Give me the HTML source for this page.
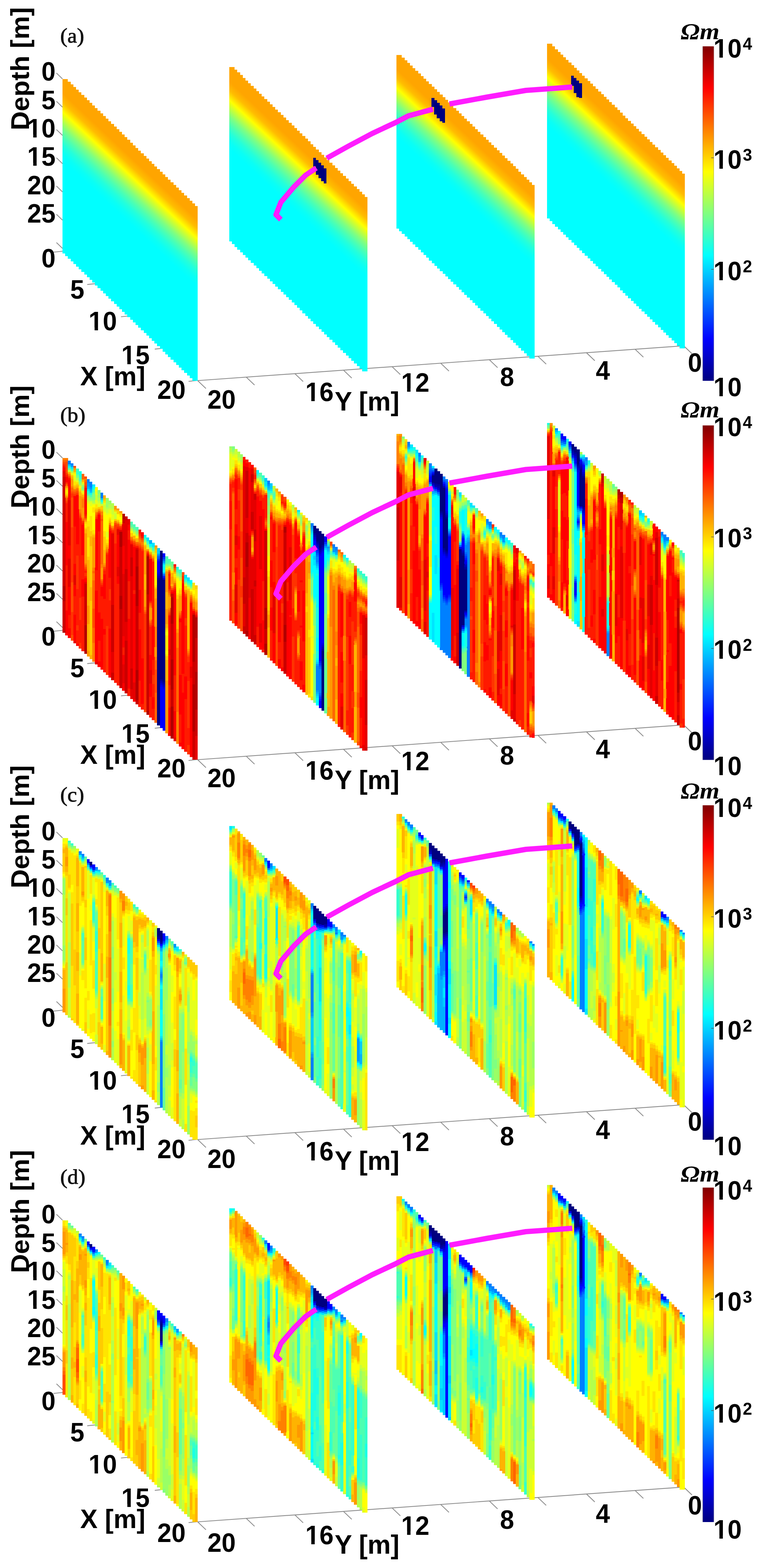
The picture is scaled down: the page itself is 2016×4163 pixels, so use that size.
<!DOCTYPE html><html><head><meta charset="utf-8"><title>Resistivity slices</title>
<style>html,body{margin:0;padding:0;background:#fff}svg{display:block}.b{font-family:"Liberation Sans",Arial,sans-serif;font-weight:bold;font-size:70px;fill:#000}.s{font-family:"Liberation Serif","DejaVu Serif",serif;font-size:54px;fill:#111;stroke:#111;stroke-width:1.1}.o{font-family:"Liberation Serif","DejaVu Serif",serif;font-weight:bold;font-style:italic;font-size:62px;fill:#000}.t{stroke:#8c8c8c;stroke-width:2.2;fill:none}.g{stroke:#f1f1f1;stroke-width:1.6;fill:none}.m{stroke:#ff1cff;stroke-width:14;fill:none;stroke-linejoin:round}</style></head><body>
<svg width="2016" height="4163" viewBox="0 0 2016 4163">
<rect width="2016" height="4163" fill="#fff"/>
<defs>
<linearGradient id="cb" x1="0" y1="0" x2="0" y2="1">
<stop offset="0.0000" stop-color="#800000"/>
<stop offset="0.0312" stop-color="#9f0000"/>
<stop offset="0.0625" stop-color="#bf0000"/>
<stop offset="0.0938" stop-color="#df0000"/>
<stop offset="0.1250" stop-color="#ff0000"/>
<stop offset="0.1562" stop-color="#ff2000"/>
<stop offset="0.1875" stop-color="#ff4000"/>
<stop offset="0.2188" stop-color="#ff6000"/>
<stop offset="0.2500" stop-color="#ff8000"/>
<stop offset="0.2812" stop-color="#ff9f00"/>
<stop offset="0.3125" stop-color="#ffbf00"/>
<stop offset="0.3438" stop-color="#ffdf00"/>
<stop offset="0.3750" stop-color="#ffff00"/>
<stop offset="0.4062" stop-color="#dfff20"/>
<stop offset="0.4375" stop-color="#bfff40"/>
<stop offset="0.4688" stop-color="#9fff60"/>
<stop offset="0.5000" stop-color="#80ff80"/>
<stop offset="0.5312" stop-color="#60ff9f"/>
<stop offset="0.5625" stop-color="#40ffbf"/>
<stop offset="0.5938" stop-color="#20ffdf"/>
<stop offset="0.6250" stop-color="#00ffff"/>
<stop offset="0.6562" stop-color="#00dfff"/>
<stop offset="0.6875" stop-color="#00bfff"/>
<stop offset="0.7188" stop-color="#009fff"/>
<stop offset="0.7500" stop-color="#0080ff"/>
<stop offset="0.7812" stop-color="#0060ff"/>
<stop offset="0.8125" stop-color="#0040ff"/>
<stop offset="0.8438" stop-color="#0020ff"/>
<stop offset="0.8750" stop-color="#0000ff"/>
<stop offset="0.9062" stop-color="#0000df"/>
<stop offset="0.9375" stop-color="#0000bf"/>
<stop offset="0.9688" stop-color="#00009f"/>
<stop offset="1.0000" stop-color="#000080"/>
</linearGradient>
<linearGradient id="ga" x1="0" y1="0" x2="0" y2="1">
<stop offset="0.0000" stop-color="#ffa500"/>
<stop offset="0.0783" stop-color="#ffa500"/>
<stop offset="0.1304" stop-color="#ffbd00"/>
<stop offset="0.1870" stop-color="#ffff00"/>
<stop offset="0.2348" stop-color="#bdff42"/>
<stop offset="0.2783" stop-color="#80ff80"/>
<stop offset="0.3261" stop-color="#4dffb2"/>
<stop offset="0.3739" stop-color="#24ffdb"/>
<stop offset="0.4239" stop-color="#0afff5"/>
<stop offset="0.4674" stop-color="#00ffff"/>
<stop offset="1.0000" stop-color="#00ffff"/>
</linearGradient>
<clipPath id="f1"><path clip-rule="evenodd" d="M-200 -100H200V40H-200ZM3.5 -8.3H16.4V2H3.5ZM25.8 -8.3H38V2H25.8Z"/></clipPath>
<clipPath id="f2"><path clip-rule="evenodd" d="M-200 -100H200V40H-200ZM-74.4 -8.3H-61.4V2H-74.4ZM-52 -8.3H-40V2H-52Z"/></clipPath>
</defs>
<g id="panel-a">
<path class="t" d="M525 1010.5 L1817 918"/>
<path class="t" d="M525 1010.5l22 21"/>
<path class="t" d="M654.1 1001.3l22 21"/>
<path class="t" d="M783.2 992l22 21"/>
<path class="t" d="M912.3 982.8l22 21"/>
<path class="t" d="M1041.4 973.5l22 21"/>
<path class="t" d="M1170.5 964.3l22 21"/>
<path class="t" d="M1299.6 955l22 21"/>
<path class="t" d="M1428.7 945.8l22 21"/>
<path class="t" d="M1557.8 936.6l22 21"/>
<path class="t" d="M1686.9 927.3l22 21"/>
<path class="t" d="M1816 918.1l22 21"/>
<path class="t" d="M150 194l16 15.5"/>
<path class="t" d="M150 269l16 15.5"/>
<path class="t" d="M150 344l16 15.5"/>
<path class="t" d="M150 419l16 15.5"/>
<path class="t" d="M150 494l16 15.5"/>
<path class="t" d="M150 569l16 15.5"/>
<path class="t" d="M150 644l16 15.5"/>
<path class="t" d="M166 667l-24 2.5"/>
<path class="t" d="M255.7 752.8l-24 2.5"/>
<path class="t" d="M345.4 838.5l-24 2.5"/>
<path class="t" d="M435.1 924.3l-24 2.5"/>
<path class="t" d="M524.8 1010l-24 2.5"/>
<g shape-rendering="crispEdges">
<linearGradient id="ga0_0" gradientUnits="userSpaceOnUse" x1="173.2" y1="217.5" x2="-56.4" y2="461.7"><stop offset="0.0000" stop-color="#ffa500"/><stop offset="0.0783" stop-color="#ffa500"/><stop offset="0.1304" stop-color="#ffbd00"/><stop offset="0.1870" stop-color="#ffff00"/><stop offset="0.2348" stop-color="#bdff42"/><stop offset="0.2783" stop-color="#80ff80"/><stop offset="0.3261" stop-color="#4dffb2"/><stop offset="0.3739" stop-color="#24ffdb"/><stop offset="0.4239" stop-color="#0afff5"/><stop offset="0.4674" stop-color="#00ffff"/><stop offset="1.0000" stop-color="#00ffff"/></linearGradient><path fill="url(#ga0_0)" d="M166 209.5L173.2 209.5L173.2 209.5L180.4 209.5L180.4 216.5L187.6 216.5L187.6 223.6L194.7 223.6L194.7 230.6L201.9 230.6L201.9 237.7L209.1 237.7L209.1 244.7L216.3 244.7L216.3 251.7L223.5 251.7L223.5 258.8L230.7 258.8L230.7 265.8L237.8 265.8L237.8 272.9L245 272.9L245 279.9L252.2 279.9L252.2 286.9L259.4 286.9L259.4 294L266.6 294L266.6 301L273.8 301L273.8 308.1L280.9 308.1L280.9 315.1L288.1 315.1L288.1 322.1L295.3 322.1L295.3 329.2L302.5 329.2L302.5 336.2L309.7 336.2L309.7 343.3L316.9 343.3L316.9 350.3L324 350.3L324 357.3L331.2 357.3L331.2 364.4L338.4 364.4L338.4 371.4L345.6 371.4L345.6 378.5L352.8 378.5L352.8 385.5L360 385.5L360 392.5L367.2 392.5L367.2 399.6L374.3 399.6L374.3 406.6L381.5 406.6L381.5 413.7L388.7 413.7L388.7 420.7L395.9 420.7L395.9 427.7L403.1 427.7L403.1 434.8L410.3 434.8L410.3 441.8L417.4 441.8L417.4 448.9L424.6 448.9L424.6 455.9L431.8 455.9L431.8 462.9L439 462.9L439 470L446.2 470L446.2 477L453.4 477L453.4 484.1L460.5 484.1L460.5 491.1L467.7 491.1L467.7 498.1L474.9 498.1L474.9 505.2L482.1 505.2L482.1 512.2L489.3 512.2L489.3 519.3L496.5 519.3L496.5 526.3L503.6 526.3L503.6 533.3L510.8 533.3L510.8 540.4L518 540.4L518 547.4L525.2 547.4L525.2 1010.9L518 1010.9L518 1010.9L510.8 1010.9L510.8 1003.9L503.6 1003.9L503.6 996.8L496.5 996.8L496.5 989.8L489.3 989.8L489.3 982.8L482.1 982.8L482.1 975.7L474.9 975.7L474.9 968.7L467.7 968.7L467.7 961.6L460.5 961.6L460.5 954.6L453.4 954.6L453.4 947.6L446.2 947.6L446.2 940.5L439 940.5L439 933.5L431.8 933.5L431.8 926.4L424.6 926.4L424.6 919.4L417.4 919.4L417.4 912.4L410.3 912.4L410.3 905.3L403.1 905.3L403.1 898.3L395.9 898.3L395.9 891.2L388.7 891.2L388.7 884.2L381.5 884.2L381.5 877.2L374.3 877.2L374.3 870.1L367.2 870.1L367.2 863.1L360 863.1L360 856L352.8 856L352.8 849L345.6 849L345.6 842L338.4 842L338.4 834.9L331.2 834.9L331.2 827.9L324 827.9L324 820.8L316.9 820.8L316.9 813.8L309.7 813.8L309.7 806.8L302.5 806.8L302.5 799.7L295.3 799.7L295.3 792.7L288.1 792.7L288.1 785.6L280.9 785.6L280.9 778.6L273.8 778.6L273.8 771.6L266.6 771.6L266.6 764.5L259.4 764.5L259.4 757.5L252.2 757.5L252.2 750.4L245 750.4L245 743.4L237.8 743.4L237.8 736.4L230.7 736.4L230.7 729.3L223.5 729.3L223.5 722.3L216.3 722.3L216.3 715.2L209.1 715.2L209.1 708.2L201.9 708.2L201.9 701.2L194.7 701.2L194.7 694.1L187.6 694.1L187.6 687.1L180.4 687.1L180.4 680L173.2 680L173.2 673L166 673z"/>
<linearGradient id="ga1_0" gradientUnits="userSpaceOnUse" x1="615.9" y1="186.3" x2="386.4" y2="431.3"><stop offset="0.0000" stop-color="#ffa500"/><stop offset="0.0783" stop-color="#ffa500"/><stop offset="0.1304" stop-color="#ffbd00"/><stop offset="0.1870" stop-color="#ffff00"/><stop offset="0.2348" stop-color="#bdff42"/><stop offset="0.2783" stop-color="#80ff80"/><stop offset="0.3261" stop-color="#4dffb2"/><stop offset="0.3739" stop-color="#24ffdb"/><stop offset="0.4239" stop-color="#0afff5"/><stop offset="0.4674" stop-color="#00ffff"/><stop offset="1.0000" stop-color="#00ffff"/></linearGradient><path fill="url(#ga1_0)" d="M608.7 178.3L615.9 178.3L615.9 178.3L623.1 178.3L623.1 185.3L630.3 185.3L630.3 192.4L637.5 192.4L637.5 199.4L644.7 199.4L644.7 206.5L651.9 206.5L651.9 213.5L659.2 213.5L659.2 220.5L666.4 220.5L666.4 227.6L673.6 227.6L673.6 234.6L680.8 234.6L680.8 241.7L688 241.7L688 248.7L695.2 248.7L695.2 255.7L702.4 255.7L702.4 262.8L709.6 262.8L709.6 269.8L716.8 269.8L716.8 276.9L724 276.9L724 283.9L731.2 283.9L731.2 290.9L738.4 290.9L738.4 298L745.6 298L745.6 305L752.9 305L752.9 312.1L760.1 312.1L760.1 319.1L767.3 319.1L767.3 326.1L774.5 326.1L774.5 333.2L781.7 333.2L781.7 340.2L788.9 340.2L788.9 347.3L796.1 347.3L796.1 354.3L803.3 354.3L803.3 361.3L810.5 361.3L810.5 368.4L817.7 368.4L817.7 375.4L824.9 375.4L824.9 382.5L832.1 382.5L832.1 389.5L839.4 389.5L839.4 396.5L846.6 396.5L846.6 403.6L853.8 403.6L853.8 410.6L861 410.6L861 417.7L868.2 417.7L868.2 424.7L875.4 424.7L875.4 431.7L882.6 431.7L882.6 438.8L889.8 438.8L889.8 445.8L897 445.8L897 452.9L904.2 452.9L904.2 459.9L911.4 459.9L911.4 466.9L918.6 466.9L918.6 474L925.8 474L925.8 481L933.1 481L933.1 488.1L940.3 488.1L940.3 495.1L947.5 495.1L947.5 502.1L954.7 502.1L954.7 509.2L961.9 509.2L961.9 516.2L969.1 516.2L969.1 523.3L976.3 523.3L976.3 986.4L969.1 986.4L969.1 986.4L961.9 986.4L961.9 979.3L954.7 979.3L954.7 972.3L947.5 972.3L947.5 965.2L940.3 965.2L940.3 958.2L933.1 958.2L933.1 951.2L925.8 951.2L925.8 944.1L918.6 944.1L918.6 937.1L911.4 937.1L911.4 930L904.2 930L904.2 923L897 923L897 916L889.8 916L889.8 908.9L882.6 908.9L882.6 901.9L875.4 901.9L875.4 894.8L868.2 894.8L868.2 887.8L861 887.8L861 880.8L853.8 880.8L853.8 873.7L846.6 873.7L846.6 866.7L839.4 866.7L839.4 859.6L832.1 859.6L832.1 852.6L824.9 852.6L824.9 845.6L817.7 845.6L817.7 838.5L810.5 838.5L810.5 831.5L803.3 831.5L803.3 824.4L796.1 824.4L796.1 817.4L788.9 817.4L788.9 810.4L781.7 810.4L781.7 803.3L774.5 803.3L774.5 796.3L767.3 796.3L767.3 789.2L760.1 789.2L760.1 782.2L752.9 782.2L752.9 775.2L745.6 775.2L745.6 768.1L738.4 768.1L738.4 761.1L731.2 761.1L731.2 754L724 754L724 747L716.8 747L716.8 740L709.6 740L709.6 732.9L702.4 732.9L702.4 725.9L695.2 725.9L695.2 718.8L688 718.8L688 711.8L680.8 711.8L680.8 704.8L673.6 704.8L673.6 697.7L666.4 697.7L666.4 690.7L659.2 690.7L659.2 683.6L651.9 683.6L651.9 676.6L644.7 676.6L644.7 669.6L637.5 669.6L637.5 662.5L630.3 662.5L630.3 655.5L623.1 655.5L623.1 648.4L615.9 648.4L615.9 641.4L608.7 641.4z"/>
<linearGradient id="ga2_0" gradientUnits="userSpaceOnUse" x1="1060.2" y1="153.7" x2="830.7" y2="398.6"><stop offset="0.0000" stop-color="#ffa500"/><stop offset="0.0783" stop-color="#ffa500"/><stop offset="0.1304" stop-color="#ffbd00"/><stop offset="0.1870" stop-color="#ffff00"/><stop offset="0.2348" stop-color="#bdff42"/><stop offset="0.2783" stop-color="#80ff80"/><stop offset="0.3261" stop-color="#4dffb2"/><stop offset="0.3739" stop-color="#24ffdb"/><stop offset="0.4239" stop-color="#0afff5"/><stop offset="0.4674" stop-color="#00ffff"/><stop offset="1.0000" stop-color="#00ffff"/></linearGradient><path fill="url(#ga2_0)" d="M1053 145.7L1060.2 145.7L1060.2 145.7L1067.4 145.7L1067.4 152.7L1074.6 152.7L1074.6 159.8L1081.8 159.8L1081.8 166.8L1089 166.8L1089 173.9L1096.2 173.9L1096.2 180.9L1103.4 180.9L1103.4 187.9L1110.6 187.9L1110.6 195L1117.8 195L1117.8 202L1125 202L1125 209.1L1132.2 209.1L1132.2 216.1L1139.4 216.1L1139.4 223.1L1146.7 223.1L1146.7 230.2L1153.9 230.2L1153.9 237.2L1161.1 237.2L1161.1 244.3L1168.3 244.3L1168.3 251.3L1175.5 251.3L1175.5 258.3L1182.7 258.3L1182.7 265.4L1189.9 265.4L1189.9 272.4L1197.1 272.4L1197.1 279.5L1204.3 279.5L1204.3 286.5L1211.5 286.5L1211.5 293.5L1218.7 293.5L1218.7 300.6L1225.9 300.6L1225.9 307.6L1233.1 307.6L1233.1 314.7L1240.3 314.7L1240.3 321.7L1247.5 321.7L1247.5 328.7L1254.7 328.7L1254.7 335.8L1261.9 335.8L1261.9 342.8L1269.1 342.8L1269.1 349.9L1276.3 349.9L1276.3 356.9L1283.5 356.9L1283.5 363.9L1290.7 363.9L1290.7 371L1297.9 371L1297.9 378L1305.1 378L1305.1 385.1L1312.3 385.1L1312.3 392.1L1319.5 392.1L1319.5 399.1L1326.7 399.1L1326.7 406.2L1334 406.2L1334 413.2L1341.2 413.2L1341.2 420.3L1348.4 420.3L1348.4 427.3L1355.6 427.3L1355.6 434.3L1362.8 434.3L1362.8 441.4L1370 441.4L1370 448.4L1377.2 448.4L1377.2 455.5L1384.4 455.5L1384.4 462.5L1391.6 462.5L1391.6 469.5L1398.8 469.5L1398.8 476.6L1406 476.6L1406 483.6L1413.2 483.6L1413.2 490.7L1420.4 490.7L1420.4 952L1413.2 952L1413.2 952L1406 952L1406 944.9L1398.8 944.9L1398.8 937.9L1391.6 937.9L1391.6 930.8L1384.4 930.8L1384.4 923.8L1377.2 923.8L1377.2 916.8L1370 916.8L1370 909.7L1362.8 909.7L1362.8 902.7L1355.6 902.7L1355.6 895.6L1348.4 895.6L1348.4 888.6L1341.2 888.6L1341.2 881.6L1334 881.6L1334 874.5L1326.7 874.5L1326.7 867.5L1319.5 867.5L1319.5 860.4L1312.3 860.4L1312.3 853.4L1305.1 853.4L1305.1 846.4L1297.9 846.4L1297.9 839.3L1290.7 839.3L1290.7 832.3L1283.5 832.3L1283.5 825.2L1276.3 825.2L1276.3 818.2L1269.1 818.2L1269.1 811.2L1261.9 811.2L1261.9 804.1L1254.7 804.1L1254.7 797.1L1247.5 797.1L1247.5 790L1240.3 790L1240.3 783L1233.1 783L1233.1 776L1225.9 776L1225.9 768.9L1218.7 768.9L1218.7 761.9L1211.5 761.9L1211.5 754.8L1204.3 754.8L1204.3 747.8L1197.1 747.8L1197.1 740.8L1189.9 740.8L1189.9 733.7L1182.7 733.7L1182.7 726.7L1175.5 726.7L1175.5 719.6L1168.3 719.6L1168.3 712.6L1161.1 712.6L1161.1 705.6L1153.9 705.6L1153.9 698.5L1146.7 698.5L1146.7 691.5L1139.4 691.5L1139.4 684.4L1132.2 684.4L1132.2 677.4L1125 677.4L1125 670.4L1117.8 670.4L1117.8 663.3L1110.6 663.3L1110.6 656.3L1103.4 656.3L1103.4 649.2L1096.2 649.2L1096.2 642.2L1089 642.2L1089 635.2L1081.8 635.2L1081.8 628.1L1074.6 628.1L1074.6 621.1L1067.4 621.1L1067.4 614L1060.2 614L1060.2 607L1053 607z"/>
<linearGradient id="ga3_0" gradientUnits="userSpaceOnUse" x1="1460" y1="124.4" x2="1230.4" y2="368.8"><stop offset="0.0000" stop-color="#ffa500"/><stop offset="0.0783" stop-color="#ffa500"/><stop offset="0.1304" stop-color="#ffbd00"/><stop offset="0.1870" stop-color="#ffff00"/><stop offset="0.2348" stop-color="#bdff42"/><stop offset="0.2783" stop-color="#80ff80"/><stop offset="0.3261" stop-color="#4dffb2"/><stop offset="0.3739" stop-color="#24ffdb"/><stop offset="0.4239" stop-color="#0afff5"/><stop offset="0.4674" stop-color="#00ffff"/><stop offset="1.0000" stop-color="#00ffff"/></linearGradient><path fill="url(#ga3_0)" d="M1452.8 116.4L1460 116.4L1460 116.4L1467.2 116.4L1467.2 123.4L1474.4 123.4L1474.4 130.5L1481.6 130.5L1481.6 137.5L1488.7 137.5L1488.7 144.6L1495.9 144.6L1495.9 151.6L1503.1 151.6L1503.1 158.6L1510.3 158.6L1510.3 165.7L1517.5 165.7L1517.5 172.7L1524.7 172.7L1524.7 179.8L1531.9 179.8L1531.9 186.8L1539.1 186.8L1539.1 193.8L1546.2 193.8L1546.2 200.9L1553.4 200.9L1553.4 207.9L1560.6 207.9L1560.6 215L1567.8 215L1567.8 222L1575 222L1575 229L1582.2 229L1582.2 236.1L1589.4 236.1L1589.4 243.1L1596.6 243.1L1596.6 250.2L1603.8 250.2L1603.8 257.2L1610.9 257.2L1610.9 264.2L1618.1 264.2L1618.1 271.3L1625.3 271.3L1625.3 278.3L1632.5 278.3L1632.5 285.4L1639.7 285.4L1639.7 292.4L1646.9 292.4L1646.9 299.4L1654.1 299.4L1654.1 306.5L1661.3 306.5L1661.3 313.5L1668.4 313.5L1668.4 320.6L1675.6 320.6L1675.6 327.6L1682.8 327.6L1682.8 334.6L1690 334.6L1690 341.7L1697.2 341.7L1697.2 348.7L1704.4 348.7L1704.4 355.8L1711.6 355.8L1711.6 362.8L1718.8 362.8L1718.8 369.8L1726 369.8L1726 376.9L1733.1 376.9L1733.1 383.9L1740.3 383.9L1740.3 391L1747.5 391L1747.5 398L1754.7 398L1754.7 405L1761.9 405L1761.9 412.1L1769.1 412.1L1769.1 419.1L1776.3 419.1L1776.3 426.2L1783.5 426.2L1783.5 433.2L1790.6 433.2L1790.6 440.2L1797.8 440.2L1797.8 447.3L1805 447.3L1805 454.3L1812.2 454.3L1812.2 461.4L1819.4 461.4L1819.4 925.4L1812.2 925.4L1812.2 925.4L1805 925.4L1805 918.3L1797.8 918.3L1797.8 911.3L1790.6 911.3L1790.6 904.2L1783.5 904.2L1783.5 897.2L1776.3 897.2L1776.3 890.2L1769.1 890.2L1769.1 883.1L1761.9 883.1L1761.9 876.1L1754.7 876.1L1754.7 869L1747.5 869L1747.5 862L1740.3 862L1740.3 855L1733.1 855L1733.1 847.9L1726 847.9L1726 840.9L1718.8 840.9L1718.8 833.8L1711.6 833.8L1711.6 826.8L1704.4 826.8L1704.4 819.8L1697.2 819.8L1697.2 812.7L1690 812.7L1690 805.7L1682.8 805.7L1682.8 798.6L1675.6 798.6L1675.6 791.6L1668.4 791.6L1668.4 784.6L1661.3 784.6L1661.3 777.5L1654.1 777.5L1654.1 770.5L1646.9 770.5L1646.9 763.4L1639.7 763.4L1639.7 756.4L1632.5 756.4L1632.5 749.4L1625.3 749.4L1625.3 742.3L1618.1 742.3L1618.1 735.3L1610.9 735.3L1610.9 728.2L1603.8 728.2L1603.8 721.2L1596.6 721.2L1596.6 714.2L1589.4 714.2L1589.4 707.1L1582.2 707.1L1582.2 700.1L1575 700.1L1575 693L1567.8 693L1567.8 686L1560.6 686L1560.6 679L1553.4 679L1553.4 671.9L1546.2 671.9L1546.2 664.9L1539.1 664.9L1539.1 657.8L1531.9 657.8L1531.9 650.8L1524.7 650.8L1524.7 643.8L1517.5 643.8L1517.5 636.7L1510.3 636.7L1510.3 629.7L1503.1 629.7L1503.1 622.6L1495.9 622.6L1495.9 615.6L1488.7 615.6L1488.7 608.6L1481.6 608.6L1481.6 601.5L1474.4 601.5L1474.4 594.5L1467.2 594.5L1467.2 587.4L1460 587.4L1460 580.4L1452.8 580.4z"/>
<path fill="#00007f" d="M831.5 418.5h7.3v23h-7.3zM838.5 424.5h7.3v39h-7.3zM845.6 431.5h7.3v41h-7.3zM852.6 438.5h7.3v42h-7.3zM859.7 446.5h7.3v40h-7.3z"/>
<path fill="#00007f" d="M1146.3 259.5h7.3v24h-7.3zM1153.3 265.5h7.3v38h-7.3zM1160.4 272.5h7.3v41h-7.3zM1167.5 279.5h7.3v42h-7.3zM1174.5 287.5h7.3v38h-7.3z"/>
<path fill="#00007f" d="M1517 201h7.3v27h-7.3zM1524 207h7.3v40h-7.3zM1531.1 214h7.3v44h-7.3zM1538.2 221h7.3v39h-7.3z"/>
</g>
<path class="m" d="M746 583 L733 570 L746 537 L780 497 L812 465 L840 446"/>
<path class="m" d="M868 420 L924.5 388.5 L988.7 354.4 L1052.8 324.3 L1085 307.5 L1150 290"/>
<path class="m" d="M1194 276 L1292.5 258 L1396.7 240 L1453 236 L1520 231"/>
<rect x="1866.3" y="123" width="30" height="888" fill="url(#cb)"/>
<path d="M1866.6 123v888M1895.6 123v888" stroke="#777" stroke-width="1" fill="none" opacity=".6"/>
<text class="b" transform="translate(77 346) rotate(-90) scale(1.03 1)" style="font-size:68px">Depth [m]</text>
<text class="s" transform="translate(160 113) scale(1.060 1)" text-anchor="start">(a)</text>
<text class="b" transform="translate(147.5 214.1) scale(0.965 1)" text-anchor="end">0</text>
<text class="b" transform="translate(147.5 289.6) scale(0.965 1)" text-anchor="end">5</text>
<text class="b" transform="translate(147.5 365) scale(0.965 1)" text-anchor="end" clip-path="url(#f2)">10</text>
<text class="b" transform="translate(147.5 440.4) scale(0.965 1)" text-anchor="end" clip-path="url(#f2)">15</text>
<text class="b" transform="translate(147.5 515.8) scale(0.965 1)" text-anchor="end">20</text>
<text class="b" transform="translate(147.5 591.2) scale(0.965 1)" text-anchor="end">25</text>
<text class="b" transform="translate(147.5 709.8) scale(0.965 1)" text-anchor="end">0</text>
<text class="b" transform="translate(224 792.9) scale(0.965 1)" text-anchor="end">5</text>
<text class="b" transform="translate(310.5 877.3) scale(0.965 1)" text-anchor="end" clip-path="url(#f2)">10</text>
<text class="b" transform="translate(397.5 966.6) scale(0.965 1)" text-anchor="end" clip-path="url(#f2)">15</text>
<text class="b" transform="translate(493 1059) scale(0.965 1)" text-anchor="end">20</text>
<text class="b" transform="translate(213 1022.9) scale(0.975 1)" text-anchor="start" style="font-size:71px">X [m]</text>
<text class="b" transform="translate(551 1085.1) scale(0.965 1)" text-anchor="start">20</text>
<text class="b" transform="translate(811 1065) scale(0.965 1)" text-anchor="start" clip-path="url(#f1)">16</text>
<text class="b" transform="translate(1065.5 1040) scale(0.965 1)" text-anchor="start" clip-path="url(#f1)">12</text>
<text class="b" transform="translate(1328 1024.9) scale(0.965 1)" text-anchor="start">8</text>
<text class="b" transform="translate(1582.5 1008.4) scale(0.965 1)" text-anchor="start">4</text>
<text class="b" transform="translate(1827 986.8) scale(0.965 1)" text-anchor="start">0</text>
<text class="b" transform="translate(889 1090.1) scale(0.975 1)" text-anchor="start" style="font-size:71px">Y [m]</text>
<text class="b" transform="translate(1895 153) scale(0.965 1)" text-anchor="start" clip-path="url(#f1)">10<tspan dx="3" dy="-21" style="font-size:46px">4</tspan></text>
<text class="b" transform="translate(1895 447.5) scale(0.965 1)" text-anchor="start" clip-path="url(#f1)">10<tspan dx="3" dy="-21" style="font-size:46px">3</tspan></text>
<text class="b" transform="translate(1895 744) scale(0.965 1)" text-anchor="start" clip-path="url(#f1)">10<tspan dx="3" dy="-21" style="font-size:46px">2</tspan></text>
<text class="b" transform="translate(1895 1052) scale(0.965 1)" text-anchor="start" clip-path="url(#f1)">10</text>
<path class="t" d="M1889 419h7" style="stroke:#555;stroke-width:1.5"/>
<path class="t" d="M1889 715h7" style="stroke:#555;stroke-width:1.5"/>
<text class="o" transform="translate(1808 103.9) scale(1.090 1)" text-anchor="start">&#937;m</text>
</g>
<g id="panel-b">
<path class="t" d="M525 2017 L1817 1924.5"/>
<path class="t" d="M525 2017l22 21"/>
<path class="t" d="M654.1 2007.8l22 21"/>
<path class="t" d="M783.2 1998.5l22 21"/>
<path class="t" d="M912.3 1989.3l22 21"/>
<path class="t" d="M1041.4 1980l22 21"/>
<path class="t" d="M1170.5 1970.8l22 21"/>
<path class="t" d="M1299.6 1961.5l22 21"/>
<path class="t" d="M1428.7 1952.3l22 21"/>
<path class="t" d="M1557.8 1943.1l22 21"/>
<path class="t" d="M1686.9 1933.8l22 21"/>
<path class="t" d="M1816 1924.6l22 21"/>
<path class="t" d="M150 1200.5l16 15.5"/>
<path class="t" d="M150 1275.5l16 15.5"/>
<path class="t" d="M150 1350.5l16 15.5"/>
<path class="t" d="M150 1425.5l16 15.5"/>
<path class="t" d="M150 1500.5l16 15.5"/>
<path class="t" d="M150 1575.5l16 15.5"/>
<path class="t" d="M150 1650.5l16 15.5"/>
<path class="t" d="M166 1673.5l-24 2.5"/>
<path class="t" d="M255.7 1759.3l-24 2.5"/>
<path class="t" d="M345.4 1845l-24 2.5"/>
<path class="t" d="M435.1 1930.8l-24 2.5"/>
<path class="t" d="M524.8 2016.5l-24 2.5"/>
<g shape-rendering="crispEdges">
<path fill="#ff8000" d="M166 1216h7.6v5.4h-7.6zM173.2 1216h7.6v5.4h-7.6zM180.4 1258h7.6v5.4h-7.6zM187.6 1290.1h7.6v5.4h-7.6zM194.7 1297.1h7.6v5.4h-7.6zM201.9 1294.2h7.6v5.4h-7.6zM209.1 1351.2h7.6v10.4h-7.6zM216.3 1323.2h7.6v25.4h-7.6zM216.3 1373.2h7.6v5.4h-7.6zM223.5 1270.3h7.6v5.4h-7.6zM223.5 1495.3h7.6v5.4h-7.6zM245 1506.4h7.6v10.4h-7.6zM245 1521.4h7.6v20.4h-7.6zM245 1706.4h7.6v50.5h-7.6zM252.2 1358.4h7.6v5.4h-7.6zM266.6 1357.5h7.6v10.4h-7.6zM266.6 1497.5h7.6v10.4h-7.6zM273.8 1499.6h7.6v5.4h-7.6zM280.9 1456.6h7.6v5.4h-7.6zM288.1 1388.6h7.6v5.4h-7.6zM302.5 1382.7h7.6v5.4h-7.6zM316.9 1391.8h7.6v5.4h-7.6zM345.6 1425h7.6v5.4h-7.6zM352.8 1432h7.6v5.4h-7.6zM367.2 1431.1h7.6v10.4h-7.6zM374.3 1438.1h7.6v10.4h-7.6zM381.5 1610.2h7.6v10.4h-7.6zM395.9 1469.2h7.6v5.4h-7.6zM395.9 1609.2h7.6v5.4h-7.6zM395.9 1644.2h7.6v5.4h-7.6zM410.3 1663.3h7.6v55.4h-7.6zM410.3 1743.3h7.6v10.4h-7.6zM446.2 1578.5h7.6v5.4h-7.6zM446.2 1613.5h7.6v5.4h-7.6zM453.4 1555.6h7.6v5.4h-7.6zM460.5 1512.6h7.6v5.4h-7.6zM467.7 1679.6h7.6v40.4h-7.6zM467.7 1889.6h7.6v85.5h-7.6zM474.9 1621.7h7.6v5.4h-7.6zM489.3 1570.8h7.6v5.4h-7.6zM496.5 1727.8h7.6v5.4h-7.6zM503.6 1579.8h7.6v5.4h-7.6zM510.8 1596.9h7.6v15.4h-7.6z"/><path fill="#ff6600" d="M166 1221h7.6v5.4h-7.6zM173.2 1221h7.6v5.4h-7.6zM173.2 1286h7.6v5.4h-7.6zM173.2 1321h7.6v5.4h-7.6zM187.6 1295.1h7.6v10.4h-7.6zM194.7 1302.1h7.6v5.4h-7.6zM201.9 1299.2h7.6v5.4h-7.6zM209.1 1361.2h7.6v5.4h-7.6zM216.3 1258.2h7.6v15.4h-7.6zM216.3 1378.2h7.6v5.4h-7.6zM223.5 1275.3h7.6v5.4h-7.6zM223.5 1375.3h7.6v5.4h-7.6zM223.5 1500.3h7.6v5.4h-7.6zM245 1516.4h7.6v5.4h-7.6zM245 1541.4h7.6v75.4h-7.6zM245 1666.4h7.6v40.4h-7.6zM252.2 1363.4h7.6v5.4h-7.6zM259.4 1355.5h7.6v5.4h-7.6zM266.6 1367.5h7.6v10.4h-7.6zM266.6 1382.5h7.6v115.4h-7.6zM266.6 1537.5h7.6v5.4h-7.6zM280.9 1461.6h7.6v5.4h-7.6zM295.3 1400.7h7.6v5.4h-7.6zM345.6 1430h7.6v5.4h-7.6zM360 1439h7.6v5.4h-7.6zM367.2 1426.1h7.6v5.4h-7.6zM367.2 1441.1h7.6v5.4h-7.6zM374.3 1433.1h7.6v5.4h-7.6zM374.3 1448.1h7.6v5.4h-7.6zM381.5 1620.2h7.6v5.4h-7.6zM395.9 1604.2h7.6v5.4h-7.6zM395.9 1649.2h7.6v5.4h-7.6zM403.1 1481.3h7.6v5.4h-7.6zM410.3 1753.3h7.6v25.4h-7.6zM410.3 1838.3h7.6v80.5h-7.6zM446.2 1513.5h7.6v5.4h-7.6zM446.2 1573.5h7.6v5.4h-7.6zM446.2 1618.5h7.6v5.4h-7.6zM460.5 1507.6h7.6v5.4h-7.6zM460.5 1547.6h7.6v5.4h-7.6zM467.7 1719.6h7.6v170.4h-7.6zM474.9 1626.7h7.6v5.4h-7.6zM496.5 1732.8h7.6v5.4h-7.6zM503.6 1584.8h7.6v5.4h-7.6zM510.8 1611.9h7.6v5.4h-7.6zM518 1618.9h7.2v5.4h-7.2z"/><path fill="#ff4c00" d="M166 1226h7.6v5.4h-7.6zM173.2 1226h7.6v30.4h-7.6zM173.2 1326h7.6v5.4h-7.6zM180.4 1263h7.6v5.4h-7.6zM187.6 1305.1h7.6v5.4h-7.6zM187.6 1320.1h7.6v80.4h-7.6zM187.6 1545.1h7.6v80.4h-7.6zM187.6 1685.1h7.6v15.5h-7.6zM194.7 1237.1h7.6v5.4h-7.6zM194.7 1307.1h7.6v5.4h-7.6zM201.9 1304.2h7.6v5.4h-7.6zM209.1 1366.2h7.6v5.4h-7.6zM223.5 1265.3h7.6v5.4h-7.6zM223.5 1280.3h7.6v10.4h-7.6zM223.5 1505.3h7.6v5.4h-7.6zM245 1616.4h7.6v50.4h-7.6zM252.2 1368.4h7.6v5.4h-7.6zM266.6 1377.5h7.6v5.4h-7.6zM266.6 1542.5h7.6v5.4h-7.6zM273.8 1504.6h7.6v5.4h-7.6zM288.1 1393.6h7.6v5.4h-7.6zM302.5 1387.7h7.6v5.4h-7.6zM309.7 1389.8h7.6v5.4h-7.6zM352.8 1437h7.6v5.4h-7.6zM360 1444h7.6v5.4h-7.6zM367.2 1421.1h7.6v5.4h-7.6zM367.2 1446.1h7.6v5.4h-7.6zM374.3 1428.1h7.6v5.4h-7.6zM374.3 1453.1h7.6v5.4h-7.6zM381.5 1625.2h7.6v5.4h-7.6zM381.5 1885.2h7.6v5.5h-7.6zM388.7 1462.2h7.6v5.4h-7.6zM395.9 1474.2h7.6v5.4h-7.6zM395.9 1599.2h7.6v5.4h-7.6zM395.9 1654.2h7.6v5.4h-7.6zM403.1 1486.3h7.6v5.4h-7.6zM410.3 1778.3h7.6v60.4h-7.6zM446.2 1568.5h7.6v5.4h-7.6zM446.2 1623.5h7.6v5.4h-7.6zM453.4 1560.6h7.6v5.4h-7.6zM460.5 1552.6h7.6v5.4h-7.6zM474.9 1631.7h7.6v5.4h-7.6zM482.1 1518.7h7.6v10.4h-7.6zM489.3 1575.8h7.6v5.4h-7.6zM496.5 1737.8h7.6v5.4h-7.6zM503.6 1589.8h7.6v5.4h-7.6z"/><path fill="#ff3300" d="M166 1231h7.6v5.4h-7.6zM173.2 1256h7.6v5.4h-7.6zM173.2 1281h7.6v5.4h-7.6zM173.2 1331h7.6v5.4h-7.6zM187.6 1310.1h7.6v10.4h-7.6zM187.6 1400.1h7.6v145.4h-7.6zM187.6 1625.1h7.6v60.4h-7.6zM194.7 1312.1h7.6v5.4h-7.6zM201.9 1309.2h7.6v5.4h-7.6zM201.9 1474.2h7.6v90.4h-7.6zM201.9 1659.2h7.6v15.4h-7.6zM209.1 1371.2h7.6v5.4h-7.6zM209.1 1586.2h7.6v60.4h-7.6zM209.1 1706.2h7.6v15.5h-7.6zM216.3 1383.2h7.6v5.4h-7.6zM223.5 1290.3h7.6v5.4h-7.6zM223.5 1370.3h7.6v5.4h-7.6zM223.5 1510.3h7.6v5.4h-7.6zM223.5 1520.3h7.6v10.4h-7.6zM252.2 1373.4h7.6v5.4h-7.6zM259.4 1360.5h7.6v5.4h-7.6zM266.6 1547.5h7.6v5.4h-7.6zM273.8 1509.6h7.6v5.4h-7.6zM280.9 1466.6h7.6v5.4h-7.6zM280.9 1661.6h7.6v130.5h-7.6zM288.1 1398.6h7.6v5.4h-7.6zM288.1 1563.6h7.6v30.4h-7.6zM295.3 1405.7h7.6v5.4h-7.6zM302.5 1392.7h7.6v50.4h-7.6zM309.7 1394.8h7.6v5.4h-7.6zM316.9 1396.8h7.6v5.4h-7.6zM345.6 1435h7.6v5.4h-7.6zM352.8 1442h7.6v5.4h-7.6zM367.2 1416.1h7.6v5.4h-7.6zM367.2 1451.1h7.6v5.4h-7.6zM374.3 1458.1h7.6v5.4h-7.6zM381.5 1630.2h7.6v255.4h-7.6zM395.9 1479.2h7.6v5.4h-7.6zM395.9 1659.2h7.6v5.4h-7.6zM403.1 1791.3h7.6v25.4h-7.6zM446.2 1518.5h7.6v5.4h-7.6zM446.2 1563.5h7.6v5.4h-7.6zM446.2 1628.5h7.6v5.4h-7.6zM460.5 1502.6h7.6v5.4h-7.6zM460.5 1557.6h7.6v5.4h-7.6zM474.9 1636.7h7.6v5.4h-7.6zM482.1 1528.7h7.6v10.4h-7.6zM489.3 1580.8h7.6v5.4h-7.6zM489.3 1640.8h7.6v20.4h-7.6zM496.5 1742.8h7.6v15.4h-7.6zM496.5 1807.8h7.6v125.4h-7.6zM496.5 1977.8h7.6v25.5h-7.6zM503.6 1594.8h7.6v5.4h-7.6zM510.8 1616.9h7.6v5.4h-7.6zM518 1623.9h7.2v5.4h-7.2z"/><path fill="#ff1a00" d="M166 1236h7.6v5.4h-7.6zM173.2 1261h7.6v5.4h-7.6zM173.2 1336h7.6v50.4h-7.6zM173.2 1501h7.6v120.4h-7.6zM180.4 1268h7.6v5.4h-7.6zM180.4 1633h7.6v35.4h-7.6zM194.7 1397.1h7.6v100.4h-7.6zM194.7 1582.1h7.6v50.4h-7.6zM201.9 1444.2h7.6v30.4h-7.6zM201.9 1564.2h7.6v95.4h-7.6zM201.9 1674.2h7.6v35.4h-7.6zM209.1 1376.2h7.6v210.4h-7.6zM209.1 1646.2h7.6v60.4h-7.6zM216.3 1388.2h7.6v5.4h-7.6zM216.3 1473.2h7.6v65.4h-7.6zM216.3 1583.2h7.6v145.5h-7.6zM223.5 1365.3h7.6v5.4h-7.6zM223.5 1515.3h7.6v5.4h-7.6zM223.5 1530.3h7.6v5.4h-7.6zM252.2 1513.4h7.6v55.4h-7.6zM259.4 1410.5h7.6v215.4h-7.6zM259.4 1700.5h7.6v55.4h-7.6zM266.6 1552.5h7.6v5.4h-7.6zM266.6 1582.5h7.6v60.4h-7.6zM273.8 1514.6h7.6v10.4h-7.6zM273.8 1589.6h7.6v80.4h-7.6zM273.8 1684.6h7.6v95.4h-7.6zM280.9 1471.6h7.6v190.4h-7.6zM288.1 1403.6h7.6v5.4h-7.6zM288.1 1533.6h7.6v30.4h-7.6zM288.1 1593.6h7.6v75.4h-7.6zM295.3 1410.7h7.6v5.4h-7.6zM302.5 1442.7h7.6v370.5h-7.6zM309.7 1399.8h7.6v5.4h-7.6zM309.7 1549.8h7.6v270.5h-7.6zM316.9 1401.8h7.6v5.4h-7.6zM324 1718.8h7.6v20.4h-7.6zM338.4 1407.9h7.6v25.4h-7.6zM338.4 1542.9h7.6v100.4h-7.6zM338.4 1827.9h7.6v20.5h-7.6zM345.6 1440h7.6v5.4h-7.6zM352.8 1447h7.6v5.4h-7.6zM352.8 1567h7.6v10.4h-7.6zM360 1449h7.6v5.4h-7.6zM367.2 1406.1h7.6v10.4h-7.6zM367.2 1456.1h7.6v110.4h-7.6zM367.2 1626.1h7.6v45.4h-7.6zM367.2 1806.1h7.6v70.5h-7.6zM374.3 1423.1h7.6v5.4h-7.6zM374.3 1463.1h7.6v285.4h-7.6zM374.3 1868.1h7.6v15.5h-7.6zM388.7 1467.2h7.6v5.4h-7.6zM395.9 1594.2h7.6v5.4h-7.6zM395.9 1664.2h7.6v75.4h-7.6zM395.9 1849.2h7.6v55.5h-7.6zM403.1 1491.3h7.6v170.4h-7.6zM403.1 1751.3h7.6v40.4h-7.6zM403.1 1816.3h7.6v35.4h-7.6zM403.1 1881.3h7.6v30.5h-7.6zM446.2 1528.5h7.6v35.4h-7.6zM446.2 1818.5h7.6v60.4h-7.6zM453.4 1565.6h7.6v5.4h-7.6zM460.5 1562.6h7.6v5.4h-7.6zM460.5 1792.6h7.6v95.4h-7.6zM474.9 1651.7h7.6v140.4h-7.6zM474.9 1896.7h7.6v75.4h-7.6zM482.1 1538.7h7.6v10.4h-7.6zM482.1 1788.7h7.6v50.4h-7.6zM489.3 1585.8h7.6v55.4h-7.6zM489.3 1660.8h7.6v135.4h-7.6zM489.3 1855.8h7.6v140.5h-7.6zM496.5 1757.8h7.6v50.4h-7.6zM496.5 1932.8h7.6v45.4h-7.6zM518 1628.9h7.2v5.4h-7.2z"/><path fill="#ff0000" d="M166 1241h7.6v10.4h-7.6zM173.2 1266h7.6v15.4h-7.6zM173.2 1386h7.6v115.4h-7.6zM173.2 1621h7.6v65.5h-7.6zM180.4 1273h7.6v55.4h-7.6zM180.4 1448h7.6v35.4h-7.6zM180.4 1558h7.6v75.4h-7.6zM180.4 1668h7.6v25.5h-7.6zM194.7 1317.1h7.6v80.4h-7.6zM194.7 1497.1h7.6v30.4h-7.6zM194.7 1552.1h7.6v30.4h-7.6zM194.7 1632.1h7.6v70.4h-7.6zM201.9 1314.2h7.6v130.4h-7.6zM201.9 1709.2h7.6v5.5h-7.6zM216.3 1393.2h7.6v80.4h-7.6zM216.3 1538.2h7.6v45.4h-7.6zM223.5 1295.3h7.6v70.4h-7.6zM223.5 1535.3h7.6v10.4h-7.6zM252.2 1378.4h7.6v135.4h-7.6zM252.2 1568.4h7.6v190.4h-7.6zM259.4 1365.5h7.6v45.4h-7.6zM259.4 1625.5h7.6v75.4h-7.6zM259.4 1755.5h7.6v15.5h-7.6zM266.6 1557.5h7.6v25.4h-7.6zM266.6 1642.5h7.6v135.5h-7.6zM273.8 1524.6h7.6v65.4h-7.6zM273.8 1669.6h7.6v15.4h-7.6zM273.8 1779.6h7.6v5.5h-7.6zM288.1 1408.6h7.6v125.4h-7.6zM288.1 1668.6h7.6v130.5h-7.6zM309.7 1419.8h7.6v85.4h-7.6zM309.7 1529.8h7.6v20.4h-7.6zM324 1448.8h7.6v75.4h-7.6zM324 1688.8h7.6v30.4h-7.6zM324 1738.8h7.6v25.4h-7.6zM324 1813.8h7.6v20.5h-7.6zM338.4 1392.9h7.6v15.4h-7.6zM338.4 1432.9h7.6v110.4h-7.6zM338.4 1642.9h7.6v185.4h-7.6zM352.8 1452h7.6v115.4h-7.6zM352.8 1577h7.6v235.4h-7.6zM352.8 1857h7.6v5.5h-7.6zM367.2 1566.1h7.6v60.4h-7.6zM367.2 1671.1h7.6v135.4h-7.6zM374.3 1413.1h7.6v10.4h-7.6zM374.3 1748.1h7.6v120.4h-7.6zM395.9 1484.2h7.6v110.4h-7.6zM395.9 1739.2h7.6v40.4h-7.6zM395.9 1814.2h7.6v35.4h-7.6zM403.1 1661.3h7.6v90.4h-7.6zM403.1 1851.3h7.6v30.4h-7.6zM446.2 1523.5h7.6v5.4h-7.6zM446.2 1633.5h7.6v90.4h-7.6zM446.2 1738.5h7.6v80.4h-7.6zM446.2 1878.5h7.6v75.5h-7.6zM453.4 1570.6h7.6v5.4h-7.6zM460.5 1497.6h7.6v5.4h-7.6zM460.5 1567.6h7.6v225.4h-7.6zM460.5 1887.6h7.6v70.4h-7.6zM474.9 1641.7h7.6v10.4h-7.6zM474.9 1791.7h7.6v105.4h-7.6zM474.9 1971.7h7.6v10.5h-7.6zM482.1 1548.7h7.6v240.4h-7.6zM482.1 1838.7h7.6v150.5h-7.6zM489.3 1795.8h7.6v60.4h-7.6zM503.6 1599.8h7.6v170.4h-7.6zM503.6 1799.8h7.6v210.5h-7.6zM510.8 1621.9h7.6v5.4h-7.6z"/><path fill="#e50000" d="M166 1251h7.6v15.4h-7.6zM180.4 1328h7.6v120.4h-7.6zM180.4 1483h7.6v75.4h-7.6zM194.7 1527.1h7.6v25.4h-7.6zM194.7 1702.1h7.6v5.5h-7.6zM223.5 1545.3h7.6v5.4h-7.6zM252.2 1758.4h7.6v5.5h-7.6zM295.3 1415.7h7.6v190.4h-7.6zM295.3 1730.7h7.6v55.4h-7.6zM309.7 1404.8h7.6v15.4h-7.6zM309.7 1504.8h7.6v25.4h-7.6zM316.9 1406.8h7.6v5.4h-7.6zM324 1388.8h7.6v60.4h-7.6zM324 1523.8h7.6v165.4h-7.6zM324 1763.8h7.6v50.4h-7.6zM331.2 1380.9h7.6v130.4h-7.6zM331.2 1650.9h7.6v50.4h-7.6zM338.4 1377.9h7.6v15.4h-7.6zM345.6 1445h7.6v35.4h-7.6zM345.6 1530h7.6v245.4h-7.6zM345.6 1830h7.6v25.5h-7.6zM352.8 1812h7.6v45.4h-7.6zM360 1454h7.6v5.4h-7.6zM388.7 1472.2h7.6v5.4h-7.6zM395.9 1779.2h7.6v35.4h-7.6zM446.2 1723.5h7.6v15.4h-7.6zM460.5 1957.6h7.6v10.5h-7.6zM503.6 1769.8h7.6v30.4h-7.6zM510.8 1626.9h7.6v5.4h-7.6zM518 1633.9h7.2v5.4h-7.2zM518 1953.9h7.2v63.5h-7.2z"/><path fill="#cc0000" d="M166 1266h7.6v290.4h-7.6zM166 1596h7.6v80.4h-7.6zM223.5 1550.3h7.6v110.4h-7.6zM295.3 1605.7h7.6v125.4h-7.6zM295.3 1785.7h7.6v20.5h-7.6zM316.9 1451.8h7.6v130.4h-7.6zM316.9 1616.8h7.6v210.5h-7.6zM324 1378.8h7.6v10.4h-7.6zM331.2 1370.9h7.6v10.4h-7.6zM331.2 1510.9h7.6v140.4h-7.6zM331.2 1700.9h7.6v140.5h-7.6zM345.6 1480h7.6v50.4h-7.6zM345.6 1775h7.6v55.4h-7.6zM360 1459h7.6v45.4h-7.6zM360 1609h7.6v170.4h-7.6zM360 1859h7.6v10.5h-7.6zM388.7 1577.2h7.6v310.4h-7.6zM453.4 1575.6h7.6v10.4h-7.6zM453.4 1655.6h7.6v95.4h-7.6zM453.4 1830.6h7.6v45.4h-7.6zM510.8 1756.9h7.6v60.4h-7.6zM510.8 1941.9h7.6v75.5h-7.6zM518 1693.9h7.2v90.4h-7.2zM518 1883.9h7.2v70.4h-7.2z"/><path fill="#b30000" d="M166 1556h7.6v40.4h-7.6zM166 1676h7.6v3.5h-7.6zM223.5 1660.3h7.6v75.5h-7.6zM316.9 1411.8h7.6v40.4h-7.6zM316.9 1581.8h7.6v35.4h-7.6zM324 1363.8h7.6v15.4h-7.6zM360 1504h7.6v105.4h-7.6zM360 1779h7.6v80.4h-7.6zM388.7 1477.2h7.6v100.4h-7.6zM388.7 1887.2h7.6v10.5h-7.6zM453.4 1585.6h7.6v70.4h-7.6zM453.4 1750.6h7.6v80.4h-7.6zM453.4 1875.6h7.6v85.5h-7.6zM510.8 1631.9h7.6v125.4h-7.6zM510.8 1816.9h7.6v125.4h-7.6zM518 1638.9h7.2v55.4h-7.2zM518 1783.9h7.2v100.4h-7.2z"/><path fill="#ff9900" d="M173.2 1291h7.6v5.4h-7.6zM173.2 1316h7.6v5.4h-7.6zM187.6 1270.1h7.6v20.4h-7.6zM194.7 1242.1h7.6v5.4h-7.6zM209.1 1316.2h7.6v35.4h-7.6zM216.3 1318.2h7.6v5.4h-7.6zM216.3 1348.2h7.6v25.4h-7.6zM223.5 1380.3h7.6v5.4h-7.6zM223.5 1415.3h7.6v80.4h-7.6zM230.7 1607.3h7.6v50.4h-7.6zM230.7 1727.3h7.6v15.5h-7.6zM245 1426.4h7.6v80.4h-7.6zM259.4 1350.5h7.6v5.4h-7.6zM266.6 1507.5h7.6v30.4h-7.6zM273.8 1494.6h7.6v5.4h-7.6zM280.9 1451.6h7.6v5.4h-7.6zM295.3 1395.7h7.6v5.4h-7.6zM302.5 1342.7h7.6v10.4h-7.6zM309.7 1349.8h7.6v5.4h-7.6zM309.7 1384.8h7.6v5.4h-7.6zM316.9 1356.8h7.6v5.4h-7.6zM381.5 1460.2h7.6v65.4h-7.6zM381.5 1565.2h7.6v45.4h-7.6zM388.7 1457.2h7.6v5.4h-7.6zM395.9 1614.2h7.6v30.4h-7.6zM403.1 1476.3h7.6v5.4h-7.6zM410.3 1448.3h7.6v5.4h-7.6zM410.3 1588.3h7.6v75.4h-7.6zM410.3 1718.3h7.6v25.4h-7.6zM439 1516.5h7.6v55.4h-7.6zM439 1616.5h7.6v40.4h-7.6zM439 1806.5h7.6v140.5h-7.6zM446.2 1583.5h7.6v30.4h-7.6zM453.4 1530.6h7.6v20.4h-7.6zM460.5 1542.6h7.6v5.4h-7.6zM467.7 1669.6h7.6v10.4h-7.6zM474.9 1581.7h7.6v40.4h-7.6zM489.3 1565.8h7.6v5.4h-7.6zM496.5 1722.8h7.6v5.4h-7.6zM510.8 1591.9h7.6v5.4h-7.6zM518 1598.9h7.2v20.4h-7.2z"/><path fill="#ffcc00" d="M173.2 1296h7.6v5.4h-7.6zM173.2 1311h7.6v5.4h-7.6zM187.6 1260.1h7.6v5.4h-7.6zM194.7 1287.1h7.6v5.4h-7.6zM201.9 1284.2h7.6v5.4h-7.6zM209.1 1301.2h7.6v5.4h-7.6zM223.5 1385.3h7.6v5.4h-7.6zM223.5 1400.3h7.6v5.4h-7.6zM230.7 1397.3h7.6v30.4h-7.6zM230.7 1477.3h7.6v10.4h-7.6zM237.8 1409.4h7.6v15.4h-7.6zM237.8 1449.4h7.6v110.4h-7.6zM237.8 1594.4h7.6v145.4h-7.6zM245 1416.4h7.6v5.4h-7.6zM252.2 1348.4h7.6v5.4h-7.6zM259.4 1345.5h7.6v5.4h-7.6zM266.6 1342.5h7.6v10.4h-7.6zM273.8 1324.6h7.6v5.4h-7.6zM273.8 1424.6h7.6v35.4h-7.6zM280.9 1441.6h7.6v5.4h-7.6zM288.1 1378.6h7.6v5.4h-7.6zM302.5 1352.7h7.6v5.4h-7.6zM302.5 1377.7h7.6v5.4h-7.6zM309.7 1354.8h7.6v10.4h-7.6zM309.7 1379.8h7.6v5.4h-7.6zM316.9 1361.8h7.6v5.4h-7.6zM316.9 1386.8h7.6v5.4h-7.6zM345.6 1415h7.6v10.4h-7.6zM381.5 1445.2h7.6v5.4h-7.6zM403.1 1471.3h7.6v5.4h-7.6zM410.3 1458.3h7.6v10.4h-7.6zM410.3 1558.3h7.6v5.4h-7.6zM439 1511.5h7.6v5.4h-7.6zM439 1666.5h7.6v5.4h-7.6zM439 1741.5h7.6v10.4h-7.6zM446.2 1508.5h7.6v5.4h-7.6zM460.5 1532.6h7.6v5.4h-7.6zM467.7 1579.6h7.6v10.4h-7.6zM474.9 1566.7h7.6v10.4h-7.6zM489.3 1555.8h7.6v10.4h-7.6zM496.5 1562.8h7.6v5.4h-7.6zM503.6 1569.8h7.6v5.4h-7.6zM510.8 1581.9h7.6v5.4h-7.6zM518 1553.9h7.2v10.4h-7.2zM518 1588.9h7.2v5.4h-7.2z"/><path fill="#ffe500" d="M173.2 1301h7.6v10.4h-7.6zM194.7 1252.1h7.6v5.4h-7.6zM194.7 1277.1h7.6v10.4h-7.6zM201.9 1279.2h7.6v5.4h-7.6zM209.1 1296.2h7.6v5.4h-7.6zM216.3 1278.2h7.6v5.4h-7.6zM216.3 1308.2h7.6v5.4h-7.6zM223.5 1390.3h7.6v10.4h-7.6zM230.7 1382.3h7.6v15.4h-7.6zM230.7 1427.3h7.6v50.4h-7.6zM237.8 1369.4h7.6v40.4h-7.6zM245 1346.4h7.6v15.4h-7.6zM245 1406.4h7.6v10.4h-7.6zM252.2 1338.4h7.6v10.4h-7.6zM273.8 1329.6h7.6v5.4h-7.6zM273.8 1409.6h7.6v15.4h-7.6zM280.9 1431.6h7.6v10.4h-7.6zM288.1 1373.6h7.6v5.4h-7.6zM295.3 1385.7h7.6v10.4h-7.6zM316.9 1366.8h7.6v5.4h-7.6zM410.3 1468.3h7.6v15.4h-7.6zM410.3 1553.3h7.6v5.4h-7.6zM439 1671.5h7.6v5.4h-7.6zM439 1686.5h7.6v40.4h-7.6zM439 1736.5h7.6v5.4h-7.6zM453.4 1515.6h7.6v5.4h-7.6zM460.5 1522.6h7.6v10.4h-7.6zM467.7 1574.6h7.6v5.4h-7.6zM474.9 1561.7h7.6v5.4h-7.6zM510.8 1546.9h7.6v20.4h-7.6zM510.8 1576.9h7.6v5.4h-7.6zM518 1563.9h7.2v25.4h-7.2z"/><path fill="#0080ff" d="M180.4 1223h7.6v10.4h-7.6zM187.6 1230.1h7.6v5.4h-7.6zM230.7 1272.3h7.6v10.4h-7.6zM237.8 1279.4h7.6v15.4h-7.6zM266.6 1307.5h7.6v15.4h-7.6z"/><path fill="#00ccff" d="M180.4 1233h7.6v5.4h-7.6zM237.8 1304.4h7.6v5.4h-7.6zM266.6 1322.5h7.6v5.4h-7.6zM417.4 1455.4h7.6v15.4h-7.6zM431.8 1494.4h7.6v5.4h-7.6z"/><path fill="#1affe5" d="M180.4 1238h7.6v5.4h-7.6zM209.1 1251.2h7.6v15.4h-7.6zM230.7 1302.3h7.6v5.4h-7.6zM237.8 1309.4h7.6v5.4h-7.6zM245 1296.4h7.6v5.4h-7.6zM266.6 1327.5h7.6v5.4h-7.6zM403.1 1451.3h7.6v5.4h-7.6zM467.7 1504.6h7.6v5.4h-7.6zM489.3 1535.8h7.6v5.4h-7.6zM496.5 1542.8h7.6v5.4h-7.6z"/><path fill="#66ff99" d="M180.4 1243h7.6v5.4h-7.6zM201.9 1259.2h7.6v5.4h-7.6zM230.7 1312.3h7.6v5.4h-7.6zM245 1306.4h7.6v5.4h-7.6zM266.6 1332.5h7.6v5.4h-7.6zM345.6 1395h7.6v5.4h-7.6zM352.8 1402h7.6v5.4h-7.6zM381.5 1430.2h7.6v5.4h-7.6zM388.7 1442.2h7.6v5.4h-7.6zM446.2 1493.5h7.6v5.4h-7.6zM453.4 1490.6h7.6v10.4h-7.6zM474.9 1521.7h7.6v5.4h-7.6zM503.6 1554.8h7.6v5.4h-7.6z"/><path fill="#ccff33" d="M180.4 1248h7.6v5.4h-7.6zM209.1 1286.2h7.6v5.4h-7.6zM216.3 1283.2h7.6v5.4h-7.6zM230.7 1327.3h7.6v5.4h-7.6zM237.8 1329.4h7.6v5.4h-7.6zM252.2 1313.4h7.6v15.4h-7.6zM259.4 1330.5h7.6v5.4h-7.6zM266.6 1337.5h7.6v5.4h-7.6zM273.8 1339.6h7.6v15.4h-7.6zM280.9 1351.6h7.6v10.4h-7.6zM288.1 1348.6h7.6v5.4h-7.6zM295.3 1350.7h7.6v15.4h-7.6zM302.5 1362.7h7.6v15.4h-7.6zM345.6 1405h7.6v5.4h-7.6zM352.8 1412h7.6v5.4h-7.6zM360 1419h7.6v5.4h-7.6zM403.1 1466.3h7.6v5.4h-7.6zM453.4 1510.6h7.6v5.4h-7.6zM467.7 1529.6h7.6v5.4h-7.6zM474.9 1536.7h7.6v5.4h-7.6z"/><path fill="#ffb300" d="M180.4 1253h7.6v5.4h-7.6zM187.6 1265.1h7.6v5.4h-7.6zM194.7 1247.1h7.6v5.4h-7.6zM194.7 1292.1h7.6v5.4h-7.6zM201.9 1289.2h7.6v5.4h-7.6zM209.1 1306.2h7.6v10.4h-7.6zM216.3 1273.2h7.6v5.4h-7.6zM216.3 1313.2h7.6v5.4h-7.6zM223.5 1405.3h7.6v10.4h-7.6zM230.7 1487.3h7.6v120.4h-7.6zM230.7 1657.3h7.6v70.4h-7.6zM237.8 1424.4h7.6v25.4h-7.6zM237.8 1559.4h7.6v35.4h-7.6zM237.8 1739.4h7.6v10.5h-7.6zM245 1421.4h7.6v5.4h-7.6zM252.2 1353.4h7.6v5.4h-7.6zM266.6 1352.5h7.6v5.4h-7.6zM273.8 1314.6h7.6v10.4h-7.6zM273.8 1459.6h7.6v35.4h-7.6zM280.9 1446.6h7.6v5.4h-7.6zM288.1 1383.6h7.6v5.4h-7.6zM352.8 1422h7.6v10.4h-7.6zM360 1429h7.6v10.4h-7.6zM381.5 1450.2h7.6v10.4h-7.6zM381.5 1525.2h7.6v40.4h-7.6zM395.9 1464.2h7.6v5.4h-7.6zM410.3 1453.3h7.6v5.4h-7.6zM410.3 1563.3h7.6v25.4h-7.6zM439 1571.5h7.6v45.4h-7.6zM439 1656.5h7.6v10.4h-7.6zM439 1751.5h7.6v55.4h-7.6zM453.4 1520.6h7.6v10.4h-7.6zM453.4 1550.6h7.6v5.4h-7.6zM460.5 1517.6h7.6v5.4h-7.6zM460.5 1537.6h7.6v5.4h-7.6zM467.7 1589.6h7.6v80.4h-7.6zM474.9 1576.7h7.6v5.4h-7.6zM496.5 1567.8h7.6v155.4h-7.6zM503.6 1574.8h7.6v5.4h-7.6zM510.8 1586.9h7.6v5.4h-7.6zM518 1593.9h7.2v5.4h-7.2z"/><path fill="#0099ff" d="M187.6 1235.1h7.6v5.4h-7.6zM230.7 1282.3h7.6v10.4h-7.6zM237.8 1294.4h7.6v5.4h-7.6zM417.4 1470.4h7.6v5.4h-7.6zM431.8 1489.4h7.6v5.4h-7.6z"/><path fill="#00e5ff" d="M187.6 1240.1h7.6v5.4h-7.6zM230.7 1297.3h7.6v5.4h-7.6zM245 1286.4h7.6v5.4h-7.6zM388.7 1427.2h7.6v10.4h-7.6zM403.1 1441.3h7.6v10.4h-7.6zM489.3 1525.8h7.6v10.4h-7.6zM496.5 1532.8h7.6v10.4h-7.6z"/><path fill="#33ffcc" d="M187.6 1245.1h7.6v5.4h-7.6zM201.9 1244.2h7.6v15.4h-7.6zM209.1 1266.2h7.6v5.4h-7.6zM230.7 1307.3h7.6v5.4h-7.6zM245 1301.4h7.6v5.4h-7.6zM381.5 1425.2h7.6v5.4h-7.6zM388.7 1437.2h7.6v5.4h-7.6zM395.9 1449.2h7.6v5.4h-7.6zM467.7 1509.6h7.6v5.4h-7.6zM474.9 1511.7h7.6v10.4h-7.6zM503.6 1549.8h7.6v5.4h-7.6z"/><path fill="#99ff66" d="M187.6 1250.1h7.6v5.4h-7.6zM209.1 1281.2h7.6v5.4h-7.6zM216.3 1288.2h7.6v5.4h-7.6zM216.3 1298.2h7.6v5.4h-7.6zM230.7 1317.3h7.6v5.4h-7.6zM237.8 1324.4h7.6v5.4h-7.6zM245 1326.4h7.6v5.4h-7.6zM259.4 1310.5h7.6v10.4h-7.6zM280.9 1321.6h7.6v25.4h-7.6zM288.1 1328.6h7.6v10.4h-7.6zM345.6 1400h7.6v5.4h-7.6zM352.8 1407h7.6v5.4h-7.6zM360 1414h7.6v5.4h-7.6zM381.5 1435.2h7.6v5.4h-7.6zM395.9 1454.2h7.6v5.4h-7.6zM403.1 1461.3h7.6v5.4h-7.6zM446.2 1498.5h7.6v5.4h-7.6zM453.4 1505.6h7.6v5.4h-7.6zM467.7 1524.6h7.6v5.4h-7.6zM489.3 1545.8h7.6v5.4h-7.6zM496.5 1552.8h7.6v5.4h-7.6z"/><path fill="#e5ff1a" d="M187.6 1255.1h7.6v5.4h-7.6zM194.7 1262.1h7.6v15.4h-7.6zM201.9 1274.2h7.6v5.4h-7.6zM216.3 1303.2h7.6v5.4h-7.6zM230.7 1332.3h7.6v5.4h-7.6zM237.8 1334.4h7.6v10.4h-7.6zM245 1336.4h7.6v5.4h-7.6zM252.2 1303.4h7.6v10.4h-7.6zM252.2 1328.4h7.6v10.4h-7.6zM259.4 1335.5h7.6v10.4h-7.6zM273.8 1334.6h7.6v5.4h-7.6zM273.8 1354.6h7.6v5.4h-7.6zM280.9 1361.6h7.6v5.4h-7.6zM280.9 1411.6h7.6v15.4h-7.6zM288.1 1353.6h7.6v10.4h-7.6zM295.3 1365.7h7.6v15.4h-7.6zM302.5 1357.7h7.6v5.4h-7.6zM381.5 1440.2h7.6v5.4h-7.6zM388.7 1452.2h7.6v5.4h-7.6zM395.9 1459.2h7.6v5.4h-7.6zM439 1506.5h7.6v5.4h-7.6zM446.2 1503.5h7.6v5.4h-7.6zM489.3 1550.8h7.6v5.4h-7.6zM496.5 1557.8h7.6v5.4h-7.6z"/><path fill="#ffff00" d="M194.7 1257.1h7.6v5.4h-7.6zM209.1 1291.2h7.6v5.4h-7.6zM230.7 1337.3h7.6v45.4h-7.6zM237.8 1344.4h7.6v25.4h-7.6zM245 1341.4h7.6v5.4h-7.6zM245 1361.4h7.6v45.4h-7.6zM252.2 1293.4h7.6v10.4h-7.6zM273.8 1359.6h7.6v50.4h-7.6zM280.9 1366.6h7.6v45.4h-7.6zM280.9 1426.6h7.6v5.4h-7.6zM288.1 1363.6h7.6v10.4h-7.6zM295.3 1380.7h7.6v5.4h-7.6zM309.7 1364.8h7.6v15.4h-7.6zM316.9 1371.8h7.6v15.4h-7.6zM345.6 1410h7.6v5.4h-7.6zM352.8 1417h7.6v5.4h-7.6zM360 1424h7.6v5.4h-7.6zM410.3 1483.3h7.6v70.4h-7.6zM439 1676.5h7.6v10.4h-7.6zM439 1726.5h7.6v10.4h-7.6zM467.7 1534.6h7.6v40.4h-7.6zM474.9 1541.7h7.6v20.4h-7.6zM503.6 1564.8h7.6v5.4h-7.6zM510.8 1566.9h7.6v10.4h-7.6z"/><path fill="#80ff80" d="M201.9 1264.2h7.6v5.4h-7.6zM209.1 1276.2h7.6v5.4h-7.6zM216.3 1293.2h7.6v5.4h-7.6zM237.8 1319.4h7.6v5.4h-7.6zM245 1311.4h7.6v15.4h-7.6zM259.4 1300.5h7.6v10.4h-7.6zM360 1409h7.6v5.4h-7.6zM439 1496.5h7.6v5.4h-7.6zM453.4 1500.6h7.6v5.4h-7.6zM467.7 1519.6h7.6v5.4h-7.6zM474.9 1526.7h7.6v5.4h-7.6z"/><path fill="#b3ff4c" d="M201.9 1269.2h7.6v5.4h-7.6zM230.7 1322.3h7.6v5.4h-7.6zM245 1331.4h7.6v5.4h-7.6zM259.4 1320.5h7.6v10.4h-7.6zM280.9 1346.6h7.6v5.4h-7.6zM288.1 1338.6h7.6v10.4h-7.6zM295.3 1335.7h7.6v15.4h-7.6zM388.7 1447.2h7.6v5.4h-7.6zM439 1501.5h7.6v5.4h-7.6zM474.9 1531.7h7.6v5.4h-7.6zM503.6 1559.8h7.6v5.4h-7.6z"/><path fill="#4dffb2" d="M209.1 1271.2h7.6v5.4h-7.6zM237.8 1314.4h7.6v5.4h-7.6zM345.6 1385h7.6v10.4h-7.6zM352.8 1392h7.6v10.4h-7.6zM360 1399h7.6v10.4h-7.6zM403.1 1456.3h7.6v5.4h-7.6zM439 1476.5h7.6v20.4h-7.6zM446.2 1483.5h7.6v10.4h-7.6zM467.7 1514.6h7.6v5.4h-7.6zM489.3 1540.8h7.6v5.4h-7.6zM496.5 1547.8h7.6v5.4h-7.6z"/><path fill="#00b2ff" d="M230.7 1292.3h7.6v5.4h-7.6zM237.8 1299.4h7.6v5.4h-7.6zM395.9 1434.2h7.6v10.4h-7.6zM431.8 1519.4h7.6v5.4h-7.6z"/><path fill="#00ffff" d="M245 1291.4h7.6v5.4h-7.6zM381.5 1420.2h7.6v5.4h-7.6zM395.9 1444.2h7.6v5.4h-7.6zM431.8 1499.4h7.6v20.4h-7.6zM503.6 1539.8h7.6v10.4h-7.6z"/><path fill="#0066ff" d="M417.4 1475.4h7.6v5.4h-7.6zM431.8 1484.4h7.6v5.4h-7.6zM431.8 1524.4h7.6v5.4h-7.6z"/><path fill="#004dff" d="M417.4 1480.4h7.6v5.4h-7.6z"/><path fill="#001aff" d="M417.4 1485.4h7.6v5.4h-7.6zM431.8 1529.4h7.6v5.4h-7.6z"/><path fill="#0000ff" d="M417.4 1490.4h7.6v30.4h-7.6zM424.6 1822.4h7.6v110.5h-7.6zM431.8 1469.4h7.6v10.4h-7.6zM431.8 1829.4h7.6v110.5h-7.6z"/><path fill="#0000e6" d="M417.4 1520.4h7.6v5.4h-7.6zM424.6 1817.4h7.6v5.4h-7.6zM431.8 1824.4h7.6v5.4h-7.6z"/><path fill="#0000cc" d="M417.4 1525.4h7.6v5.4h-7.6zM424.6 1812.4h7.6v5.4h-7.6zM431.8 1534.4h7.6v5.4h-7.6zM431.8 1819.4h7.6v5.4h-7.6z"/><path fill="#0000b2" d="M417.4 1530.4h7.6v5.4h-7.6zM424.6 1807.4h7.6v5.4h-7.6zM431.8 1814.4h7.6v5.4h-7.6z"/><path fill="#000099" d="M417.4 1535.4h7.6v5.4h-7.6zM424.6 1802.4h7.6v5.4h-7.6zM431.8 1809.4h7.6v5.4h-7.6z"/><path fill="#000080" d="M417.4 1540.4h7.6v385.5h-7.6zM424.6 1462.4h7.6v340.4h-7.6zM431.8 1539.4h7.6v270.4h-7.6z"/><path fill="#0033ff" d="M431.8 1479.4h7.6v5.4h-7.6z"/>
<path fill="#99ff66" d="M608.7 1184.8h7.6v5.4h-7.6zM615.9 1194.8h7.6v5.4h-7.6zM637.5 1205.9h7.6v10.4h-7.6zM688 1270.2h7.6v5.4h-7.6zM695.2 1282.2h7.6v5.4h-7.6zM709.6 1341.3h7.6v25.4h-7.6zM724 1300.4h7.6v5.4h-7.6zM724 1325.4h7.6v5.4h-7.6zM788.9 1368.8h7.6v5.4h-7.6zM796.1 1370.8h7.6v20.4h-7.6zM810.5 1394.9h7.6v15.4h-7.6zM824.9 1579h7.6v5.4h-7.6zM832.1 1661h7.6v75.4h-7.6zM868.2 1511.2h7.6v5.4h-7.6zM889.8 1482.3h7.6v5.4h-7.6zM911.4 1488.4h7.6v5.4h-7.6zM918.6 1495.5h7.6v5.4h-7.6zM961.9 1542.7h7.6v5.4h-7.6z"/><path fill="#b3ff4c" d="M608.7 1189.8h7.6v10.4h-7.6zM615.9 1199.8h7.6v5.4h-7.6zM630.3 1198.9h7.6v15.4h-7.6zM637.5 1215.9h7.6v10.4h-7.6zM680.8 1268.2h7.6v5.4h-7.6zM709.6 1366.3h7.6v25.4h-7.6zM716.8 1313.4h7.6v5.4h-7.6zM724 1295.4h7.6v5.4h-7.6zM724 1330.4h7.6v5.4h-7.6zM774.5 1339.7h7.6v10.4h-7.6zM796.1 1365.8h7.6v5.4h-7.6zM796.1 1390.8h7.6v5.4h-7.6zM810.5 1409.9h7.6v10.4h-7.6zM817.7 1381.9h7.6v10.4h-7.6zM824.9 1584h7.6v5.4h-7.6zM868.2 1516.2h7.6v5.4h-7.6zM875.4 1458.2h7.6v5.4h-7.6zM875.4 1478.2h7.6v5.4h-7.6zM882.6 1480.3h7.6v5.4h-7.6zM925.8 1487.5h7.6v10.4h-7.6zM933.1 1494.6h7.6v5.4h-7.6zM947.5 1528.6h7.6v5.4h-7.6zM954.7 1535.7h7.6v5.4h-7.6zM969.1 1549.8h7.2v5.4h-7.2z"/><path fill="#ccff33" d="M608.7 1199.8h7.6v5.4h-7.6zM615.9 1204.8h7.6v5.4h-7.6zM623.1 1191.8h7.6v15.4h-7.6zM630.3 1213.9h7.6v10.4h-7.6zM637.5 1225.9h7.6v5.4h-7.6zM688 1275.2h7.6v5.4h-7.6zM695.2 1287.2h7.6v5.4h-7.6zM702.4 1299.3h7.6v5.4h-7.6zM709.6 1391.3h7.6v10.4h-7.6zM724 1290.4h7.6v5.4h-7.6zM774.5 1349.7h7.6v10.4h-7.6zM788.9 1373.8h7.6v5.4h-7.6zM810.5 1389.9h7.6v5.4h-7.6zM810.5 1419.9h7.6v10.4h-7.6zM817.7 1391.9h7.6v10.4h-7.6zM824.9 1589h7.6v5.4h-7.6zM868.2 1521.2h7.6v5.4h-7.6zM889.8 1487.3h7.6v5.4h-7.6zM911.4 1493.4h7.6v5.4h-7.6zM918.6 1500.5h7.6v5.4h-7.6zM925.8 1497.5h7.6v10.4h-7.6zM933.1 1499.6h7.6v10.4h-7.6zM947.5 1533.6h7.6v5.4h-7.6zM954.7 1540.7h7.6v5.4h-7.6zM961.9 1547.7h7.6v5.4h-7.6zM969.1 1554.8h7.2v5.4h-7.2z"/><path fill="#e5ff1a" d="M608.7 1204.8h7.6v45.4h-7.6zM615.9 1209.8h7.6v5.4h-7.6zM615.9 1219.8h7.6v20.4h-7.6zM623.1 1206.8h7.6v10.4h-7.6zM630.3 1223.9h7.6v5.4h-7.6zM637.5 1230.9h7.6v15.4h-7.6zM680.8 1273.2h7.6v5.4h-7.6zM709.6 1401.3h7.6v75.4h-7.6zM716.8 1318.4h7.6v5.4h-7.6zM724 1335.4h7.6v5.4h-7.6zM731.2 1322.4h7.6v20.4h-7.6zM774.5 1359.7h7.6v10.4h-7.6zM796.1 1395.8h7.6v25.4h-7.6zM810.5 1429.9h7.6v15.4h-7.6zM817.7 1401.9h7.6v10.4h-7.6zM817.7 1416.9h7.6v15.4h-7.6zM824.9 1594h7.6v5.4h-7.6zM824.9 1689h7.6v5.4h-7.6zM868.2 1431.2h7.6v5.4h-7.6zM868.2 1526.2h7.6v5.4h-7.6zM868.2 1576.2h7.6v45.4h-7.6zM875.4 1483.2h7.6v5.4h-7.6zM882.6 1485.3h7.6v20.4h-7.6zM925.8 1507.5h7.6v10.4h-7.6zM933.1 1509.6h7.6v10.4h-7.6zM954.7 1545.7h7.6v5.4h-7.6zM961.9 1552.7h7.6v5.4h-7.6z"/><path fill="#ffff00" d="M608.7 1249.8h7.6v5.4h-7.6zM615.9 1214.8h7.6v5.4h-7.6zM615.9 1239.8h7.6v5.4h-7.6zM623.1 1216.8h7.6v5.4h-7.6zM630.3 1228.9h7.6v5.4h-7.6zM637.5 1245.9h7.6v5.4h-7.6zM688 1280.2h7.6v5.4h-7.6zM709.6 1476.3h7.6v40.4h-7.6zM731.2 1317.4h7.6v5.4h-7.6zM731.2 1342.4h7.6v10.4h-7.6zM738.4 1329.5h7.6v25.4h-7.6zM745.6 1356.5h7.6v5.4h-7.6zM760.1 1325.6h7.6v10.4h-7.6zM767.3 1332.6h7.6v10.4h-7.6zM774.5 1369.7h7.6v5.4h-7.6zM788.9 1378.8h7.6v5.4h-7.6zM796.1 1360.8h7.6v5.4h-7.6zM796.1 1420.8h7.6v10.4h-7.6zM810.5 1384.9h7.6v5.4h-7.6zM810.5 1444.9h7.6v5.4h-7.6zM817.7 1411.9h7.6v5.4h-7.6zM817.7 1431.9h7.6v5.4h-7.6zM824.9 1599h7.6v90.4h-7.6zM824.9 1694h7.6v155.4h-7.6zM868.2 1531.2h7.6v45.4h-7.6zM868.2 1621.2h7.6v10.4h-7.6zM882.6 1505.3h7.6v5.4h-7.6zM889.8 1492.3h7.6v20.4h-7.6zM897 1484.4h7.6v15.4h-7.6zM904.2 1491.4h7.6v15.4h-7.6zM911.4 1498.4h7.6v20.4h-7.6zM918.6 1505.5h7.6v25.4h-7.6zM925.8 1517.5h7.6v5.4h-7.6zM933.1 1519.6h7.6v5.4h-7.6zM947.5 1538.6h7.6v5.4h-7.6zM954.7 1550.7h7.6v5.4h-7.6zM961.9 1557.7h7.6v5.4h-7.6zM969.1 1559.8h7.2v5.4h-7.2z"/><path fill="#ffe500" d="M608.7 1254.8h7.6v5.4h-7.6zM615.9 1244.8h7.6v10.4h-7.6zM623.1 1221.8h7.6v10.4h-7.6zM630.3 1233.9h7.6v10.4h-7.6zM637.5 1250.9h7.6v5.4h-7.6zM695.2 1292.2h7.6v5.4h-7.6zM709.6 1516.3h7.6v15.4h-7.6zM716.8 1323.4h7.6v5.4h-7.6zM724 1340.4h7.6v5.4h-7.6zM731.2 1307.4h7.6v10.4h-7.6zM731.2 1352.4h7.6v5.4h-7.6zM738.4 1319.5h7.6v10.4h-7.6zM738.4 1354.5h7.6v5.4h-7.6zM745.6 1361.5h7.6v5.4h-7.6zM760.1 1335.6h7.6v5.4h-7.6zM767.3 1342.6h7.6v10.4h-7.6zM774.5 1374.7h7.6v5.4h-7.6zM781.7 1361.7h7.6v10.4h-7.6zM788.9 1383.8h7.6v5.4h-7.6zM796.1 1430.8h7.6v5.4h-7.6zM803.3 1367.8h7.6v5.4h-7.6zM810.5 1379.9h7.6v5.4h-7.6zM810.5 1449.9h7.6v5.4h-7.6zM817.7 1436.9h7.6v10.4h-7.6zM817.7 1671.9h7.6v20.4h-7.6zM817.7 1841.9h7.6v10.1h-7.6zM824.9 1849h7.6v10.1h-7.6zM868.2 1631.2h7.6v10.4h-7.6zM875.4 1453.2h7.6v5.4h-7.6zM875.4 1488.2h7.6v20.4h-7.6zM882.6 1510.3h7.6v10.4h-7.6zM889.8 1512.3h7.6v5.4h-7.6zM897 1479.4h7.6v5.4h-7.6zM897 1499.4h7.6v10.4h-7.6zM904.2 1506.4h7.6v15.4h-7.6zM911.4 1518.4h7.6v10.4h-7.6zM918.6 1530.5h7.6v5.4h-7.6zM925.8 1522.5h7.6v10.4h-7.6zM933.1 1524.6h7.6v5.4h-7.6zM947.5 1543.6h7.6v10.4h-7.6zM954.7 1555.7h7.6v10.4h-7.6zM961.9 1562.7h7.6v10.4h-7.6zM969.1 1564.8h7.2v5.4h-7.2z"/><path fill="#ffcc00" d="M608.7 1259.8h7.6v5.4h-7.6zM615.9 1254.8h7.6v5.4h-7.6zM623.1 1231.8h7.6v5.4h-7.6zM630.3 1243.9h7.6v5.4h-7.6zM637.5 1255.9h7.6v5.4h-7.6zM673.6 1286.1h7.6v10.4h-7.6zM680.8 1278.2h7.6v5.4h-7.6zM688 1285.2h7.6v10.4h-7.6zM695.2 1297.2h7.6v5.4h-7.6zM702.4 1304.3h7.6v5.4h-7.6zM709.6 1531.3h7.6v90.4h-7.6zM716.8 1328.4h7.6v5.4h-7.6zM724 1345.4h7.6v10.4h-7.6zM731.2 1302.4h7.6v5.4h-7.6zM731.2 1357.4h7.6v5.4h-7.6zM738.4 1314.5h7.6v5.4h-7.6zM738.4 1359.5h7.6v5.4h-7.6zM745.6 1351.5h7.6v5.4h-7.6zM745.6 1366.5h7.6v5.4h-7.6zM752.9 1363.6h7.6v5.4h-7.6zM760.1 1340.6h7.6v10.4h-7.6zM767.3 1352.6h7.6v5.4h-7.6zM774.5 1379.7h7.6v10.4h-7.6zM781.7 1351.7h7.6v10.4h-7.6zM788.9 1388.8h7.6v5.4h-7.6zM796.1 1435.8h7.6v5.4h-7.6zM803.3 1372.8h7.6v10.4h-7.6zM810.5 1374.9h7.6v5.4h-7.6zM810.5 1454.9h7.6v5.4h-7.6zM810.5 1609.9h7.6v15.4h-7.6zM810.5 1844.9h7.6v0.1h-7.6zM817.7 1446.9h7.6v5.4h-7.6zM817.7 1536.9h7.6v135.4h-7.6zM817.7 1691.9h7.6v150.4h-7.6zM868.2 1641.2h7.6v90.4h-7.6zM875.4 1508.2h7.6v5.4h-7.6zM882.6 1520.3h7.6v5.4h-7.6zM889.8 1517.3h7.6v5.4h-7.6zM897 1474.4h7.6v5.4h-7.6zM897 1509.4h7.6v10.4h-7.6zM904.2 1486.4h7.6v5.4h-7.6zM904.2 1521.4h7.6v5.4h-7.6zM911.4 1528.4h7.6v5.4h-7.6zM918.6 1535.5h7.6v5.4h-7.6zM925.8 1532.5h7.6v5.4h-7.6zM933.1 1529.6h7.6v10.4h-7.6zM947.5 1553.6h7.6v5.4h-7.6zM969.1 1569.8h7.2v10.4h-7.2z"/><path fill="#ff9900" d="M608.7 1264.8h7.6v5.4h-7.6zM615.9 1259.8h7.6v5.4h-7.6zM630.3 1248.9h7.6v5.4h-7.6zM637.5 1265.9h7.6v5.4h-7.6zM666.4 1424.1h7.6v30.4h-7.6zM673.6 1281.1h7.6v5.4h-7.6zM680.8 1283.2h7.6v5.4h-7.6zM688 1295.2h7.6v5.4h-7.6zM695.2 1302.2h7.6v5.4h-7.6zM709.6 1631.3h7.6v35.4h-7.6zM716.8 1338.4h7.6v15.4h-7.6zM724 1360.4h7.6v10.4h-7.6zM731.2 1372.4h7.6v5.4h-7.6zM738.4 1304.5h7.6v5.4h-7.6zM752.9 1353.6h7.6v5.4h-7.6zM752.9 1373.6h7.6v5.4h-7.6zM760.1 1355.6h7.6v10.4h-7.6zM767.3 1362.6h7.6v10.4h-7.6zM774.5 1389.7h7.6v5.4h-7.6zM781.7 1571.7h7.6v5.4h-7.6zM781.7 1626.7h7.6v5.4h-7.6zM788.9 1693.8h7.6v40.4h-7.6zM796.1 1440.8h7.6v5.4h-7.6zM803.3 1387.8h7.6v20.4h-7.6zM810.5 1474.9h7.6v100.4h-7.6zM817.7 1491.9h7.6v30.4h-7.6zM868.2 1876.2h7.6v25.1h-7.6zM875.4 1448.2h7.6v5.4h-7.6zM875.4 1518.2h7.6v10.4h-7.6zM875.4 1663.2h7.6v245.1h-7.6zM882.6 1545.3h7.6v10.4h-7.6zM889.8 1532.3h7.6v145.4h-7.6zM889.8 1712.3h7.6v35.4h-7.6zM889.8 1767.3h7.6v90.4h-7.6zM897 1464.4h7.6v5.4h-7.6zM897 1524.4h7.6v5.4h-7.6zM904.2 1476.4h7.6v5.4h-7.6zM904.2 1531.4h7.6v25.4h-7.6zM911.4 1538.4h7.6v25.4h-7.6zM918.6 1560.5h7.6v5.4h-7.6zM925.8 1557.5h7.6v5.4h-7.6zM933.1 1544.6h7.6v20.4h-7.6zM940.3 1706.6h7.6v5.4h-7.6zM940.3 1836.6h7.6v40.4h-7.6zM940.3 1971.6h7.6v0.1h-7.6zM947.5 1558.6h7.6v5.4h-7.6zM947.5 1598.6h7.6v5.4h-7.6zM954.7 1600.7h7.6v10.4h-7.6zM961.9 1607.7h7.6v5.4h-7.6zM969.1 1579.8h7.2v5.4h-7.2z"/><path fill="#ff6600" d="M608.7 1269.8h7.6v5.4h-7.6zM615.9 1269.8h7.6v5.4h-7.6zM615.9 1309.8h7.6v210.4h-7.6zM615.9 1564.8h7.6v30.4h-7.6zM623.1 1246.8h7.6v5.4h-7.6zM630.3 1258.9h7.6v5.4h-7.6zM637.5 1275.9h7.6v5.4h-7.6zM666.4 1419.1h7.6v5.4h-7.6zM666.4 1469.1h7.6v5.4h-7.6zM673.6 1241.1h7.6v5.4h-7.6zM673.6 1276.1h7.6v5.4h-7.6zM680.8 1288.2h7.6v5.4h-7.6zM688 1300.2h7.6v5.4h-7.6zM702.4 1309.3h7.6v5.4h-7.6zM702.4 1384.3h7.6v10.4h-7.6zM724 1375.4h7.6v5.4h-7.6zM731.2 1382.4h7.6v5.4h-7.6zM738.4 1379.5h7.6v5.4h-7.6zM745.6 1381.5h7.6v5.4h-7.6zM752.9 1348.6h7.6v5.4h-7.6zM752.9 1378.6h7.6v5.4h-7.6zM760.1 1370.6h7.6v5.4h-7.6zM774.5 1399.7h7.6v5.4h-7.6zM781.7 1376.7h7.6v5.4h-7.6zM781.7 1561.7h7.6v5.4h-7.6zM781.7 1636.7h7.6v5.4h-7.6zM788.9 1683.8h7.6v5.4h-7.6zM788.9 1738.8h7.6v5.4h-7.6zM796.1 1450.8h7.6v5.4h-7.6zM882.6 1565.3h7.6v350.1h-7.6zM897 1459.4h7.6v5.4h-7.6zM897 1549.4h7.6v5.4h-7.6zM904.2 1466.4h7.6v5.4h-7.6zM904.2 1561.4h7.6v5.4h-7.6zM911.4 1573.4h7.6v115.4h-7.6zM911.4 1753.4h7.6v190.1h-7.6zM918.6 1570.5h7.6v5.4h-7.6zM933.1 1569.6h7.6v5.4h-7.6zM940.3 1506.6h7.6v5.4h-7.6zM940.3 1696.6h7.6v5.4h-7.6zM947.5 1563.6h7.6v5.4h-7.6zM947.5 1588.6h7.6v5.4h-7.6zM947.5 1613.6h7.6v10.4h-7.6zM947.5 1663.6h7.6v175.4h-7.6zM947.5 1878.6h7.6v90.4h-7.6zM954.7 1575.7h7.6v5.4h-7.6zM954.7 1590.7h7.6v5.4h-7.6zM954.7 1610.7h7.6v5.4h-7.6zM961.9 1597.7h7.6v5.4h-7.6zM961.9 1617.7h7.6v5.4h-7.6zM969.1 1584.8h7.2v5.4h-7.2zM969.1 1609.8h7.2v5.4h-7.2zM969.1 1619.8h7.2v5.4h-7.2z"/><path fill="#ff4c00" d="M608.7 1274.8h7.6v5.4h-7.6zM615.9 1304.8h7.6v5.4h-7.6zM615.9 1594.8h7.6v60.1h-7.6zM623.1 1251.8h7.6v5.4h-7.6zM630.3 1263.9h7.6v5.4h-7.6zM637.5 1280.9h7.6v5.4h-7.6zM637.5 1300.9h7.6v110.4h-7.6zM637.5 1480.9h7.6v75.4h-7.6zM637.5 1585.9h7.6v90.1h-7.6zM673.6 1246.1h7.6v10.4h-7.6zM673.6 1271.1h7.6v5.4h-7.6zM673.6 1301.1h7.6v5.4h-7.6zM680.8 1293.2h7.6v5.4h-7.6zM688 1305.2h7.6v5.4h-7.6zM695.2 1312.2h7.6v5.4h-7.6zM702.4 1379.3h7.6v5.4h-7.6zM702.4 1394.3h7.6v5.4h-7.6zM716.8 1358.4h7.6v5.4h-7.6zM731.2 1387.4h7.6v65.4h-7.6zM731.2 1567.4h7.6v200.1h-7.6zM738.4 1384.5h7.6v5.4h-7.6zM745.6 1311.5h7.6v5.4h-7.6zM745.6 1336.5h7.6v5.4h-7.6zM745.6 1386.5h7.6v5.4h-7.6zM752.9 1318.6h7.6v10.4h-7.6zM767.3 1377.6h7.6v5.4h-7.6zM774.5 1404.7h7.6v15.4h-7.6zM781.7 1556.7h7.6v5.4h-7.6zM781.7 1641.7h7.6v5.4h-7.6zM788.9 1408.8h7.6v5.4h-7.6zM788.9 1678.8h7.6v5.4h-7.6zM788.9 1743.8h7.6v5.4h-7.6zM796.1 1455.8h7.6v5.4h-7.6zM803.3 1412.8h7.6v5.4h-7.6zM875.4 1438.2h7.6v10.4h-7.6zM897 1554.4h7.6v5.4h-7.6zM904.2 1566.4h7.6v5.4h-7.6zM918.6 1575.5h7.6v5.4h-7.6zM925.8 1567.5h7.6v5.4h-7.6zM933.1 1574.6h7.6v5.4h-7.6zM940.3 1511.6h7.6v10.4h-7.6zM940.3 1691.6h7.6v5.4h-7.6zM947.5 1568.6h7.6v5.4h-7.6zM947.5 1583.6h7.6v5.4h-7.6zM947.5 1623.6h7.6v40.4h-7.6zM947.5 1838.6h7.6v40.4h-7.6zM947.5 1968.6h7.6v10.1h-7.6zM954.7 1580.7h7.6v10.4h-7.6zM954.7 1615.7h7.6v5.4h-7.6zM961.9 1582.7h7.6v5.4h-7.6zM969.1 1624.8h7.2v5.4h-7.2z"/><path fill="#ff3300" d="M608.7 1279.8h7.6v5.4h-7.6zM615.9 1274.8h7.6v5.4h-7.6zM615.9 1294.8h7.6v10.4h-7.6zM623.1 1256.8h7.6v5.4h-7.6zM630.3 1298.9h7.6v30.4h-7.6zM630.3 1538.9h7.6v130.1h-7.6zM637.5 1285.9h7.6v15.4h-7.6zM637.5 1410.9h7.6v70.4h-7.6zM637.5 1555.9h7.6v30.4h-7.6zM666.4 1414.1h7.6v5.4h-7.6zM666.4 1474.1h7.6v5.4h-7.6zM673.6 1256.1h7.6v5.4h-7.6zM680.8 1298.2h7.6v5.4h-7.6zM688 1310.2h7.6v5.4h-7.6zM695.2 1317.2h7.6v5.4h-7.6zM702.4 1374.3h7.6v5.4h-7.6zM702.4 1399.3h7.6v5.4h-7.6zM716.8 1363.4h7.6v5.4h-7.6zM724 1380.4h7.6v5.4h-7.6zM731.2 1452.4h7.6v115.4h-7.6zM738.4 1389.5h7.6v5.4h-7.6zM745.6 1316.5h7.6v15.4h-7.6zM745.6 1391.5h7.6v15.4h-7.6zM745.6 1601.5h7.6v25.4h-7.6zM752.9 1328.6h7.6v5.4h-7.6zM752.9 1343.6h7.6v5.4h-7.6zM752.9 1383.6h7.6v5.4h-7.6zM760.1 1375.6h7.6v5.4h-7.6zM767.3 1382.6h7.6v5.4h-7.6zM774.5 1419.7h7.6v195.4h-7.6zM774.5 1689.7h7.6v120.1h-7.6zM781.7 1381.7h7.6v5.4h-7.6zM781.7 1521.7h7.6v35.4h-7.6zM781.7 1816.7h7.6v0.1h-7.6zM788.9 1413.8h7.6v5.4h-7.6zM788.9 1673.8h7.6v5.4h-7.6zM788.9 1748.8h7.6v5.4h-7.6zM803.3 1417.8h7.6v5.4h-7.6zM897 1559.4h7.6v10.4h-7.6zM918.6 1580.5h7.6v10.4h-7.6zM918.6 1690.5h7.6v195.4h-7.6zM918.6 1925.5h7.6v25.1h-7.6zM925.8 1572.5h7.6v5.4h-7.6zM933.1 1579.6h7.6v5.4h-7.6zM933.1 1649.6h7.6v115.4h-7.6zM933.1 1834.6h7.6v45.4h-7.6zM933.1 1944.6h7.6v20.1h-7.6zM940.3 1521.6h7.6v5.4h-7.6zM940.3 1676.6h7.6v15.4h-7.6zM947.5 1573.6h7.6v10.4h-7.6zM954.7 1620.7h7.6v5.4h-7.6zM954.7 1685.7h7.6v95.4h-7.6zM961.9 1587.7h7.6v10.4h-7.6zM961.9 1622.7h7.6v5.4h-7.6zM969.1 1589.8h7.2v5.4h-7.2zM969.1 1604.8h7.2v5.4h-7.2z"/><path fill="#ff1a00" d="M608.7 1284.8h7.6v45.4h-7.6zM608.7 1404.8h7.6v243.1h-7.6zM615.9 1279.8h7.6v15.4h-7.6zM623.1 1261.8h7.6v10.4h-7.6zM623.1 1351.8h7.6v40.4h-7.6zM623.1 1481.8h7.6v25.4h-7.6zM623.1 1656.8h7.6v5.1h-7.6zM630.3 1268.9h7.6v30.4h-7.6zM630.3 1328.9h7.6v95.4h-7.6zM630.3 1458.9h7.6v80.4h-7.6zM644.7 1213h7.6v10.4h-7.6zM651.9 1220h7.6v10.4h-7.6zM659.2 1227h7.6v15.4h-7.6zM666.4 1409.1h7.6v5.4h-7.6zM673.6 1261.1h7.6v10.4h-7.6zM673.6 1306.1h7.6v5.4h-7.6zM680.8 1303.2h7.6v15.4h-7.6zM680.8 1663.2h7.6v55.1h-7.6zM688 1315.2h7.6v15.4h-7.6zM695.2 1322.2h7.6v30.4h-7.6zM695.2 1542.2h7.6v105.4h-7.6zM695.2 1722.2h7.6v10.1h-7.6zM702.4 1314.3h7.6v60.4h-7.6zM716.8 1368.4h7.6v5.4h-7.6zM716.8 1378.4h7.6v110.4h-7.6zM716.8 1558.4h7.6v55.4h-7.6zM716.8 1673.4h7.6v80.1h-7.6zM724 1385.4h7.6v5.4h-7.6zM724 1465.4h7.6v80.4h-7.6zM738.4 1394.5h7.6v180.4h-7.6zM738.4 1704.5h7.6v45.4h-7.6zM745.6 1331.5h7.6v5.4h-7.6zM745.6 1406.5h7.6v195.4h-7.6zM745.6 1626.5h7.6v145.4h-7.6zM752.9 1333.6h7.6v10.4h-7.6zM752.9 1388.6h7.6v5.4h-7.6zM760.1 1380.6h7.6v5.4h-7.6zM760.1 1545.6h7.6v50.4h-7.6zM767.3 1387.6h7.6v5.4h-7.6zM767.3 1632.6h7.6v5.4h-7.6zM774.5 1614.7h7.6v75.4h-7.6zM781.7 1481.7h7.6v40.4h-7.6zM781.7 1646.7h7.6v170.4h-7.6zM788.9 1418.8h7.6v5.4h-7.6zM788.9 1493.8h7.6v75.4h-7.6zM788.9 1623.8h7.6v50.4h-7.6zM788.9 1753.8h7.6v70.1h-7.6zM796.1 1460.8h7.6v80.4h-7.6zM796.1 1545.8h7.6v115.4h-7.6zM796.1 1665.8h7.6v90.4h-7.6zM796.1 1805.8h7.6v25.1h-7.6zM803.3 1422.8h7.6v5.4h-7.6zM803.3 1467.8h7.6v100.4h-7.6zM803.3 1702.8h7.6v115.4h-7.6zM897 1569.4h7.6v360.1h-7.6zM904.2 1571.4h7.6v5.4h-7.6zM904.2 1691.4h7.6v40.4h-7.6zM904.2 1811.4h7.6v30.4h-7.6zM918.6 1590.5h7.6v100.4h-7.6zM918.6 1885.5h7.6v40.4h-7.6zM925.8 1577.5h7.6v20.4h-7.6zM925.8 1637.5h7.6v50.4h-7.6zM925.8 1762.5h7.6v195.1h-7.6zM933.1 1584.6h7.6v65.4h-7.6zM933.1 1764.6h7.6v70.4h-7.6zM933.1 1879.6h7.6v65.4h-7.6zM940.3 1526.6h7.6v20.4h-7.6zM940.3 1596.6h7.6v80.4h-7.6zM954.7 1655.7h7.6v30.4h-7.6zM954.7 1780.7h7.6v70.4h-7.6zM954.7 1905.7h7.6v75.4h-7.6zM961.9 1627.7h7.6v5.4h-7.6zM969.1 1594.8h7.2v10.4h-7.2zM969.1 1629.8h7.2v5.4h-7.2z"/><path fill="#ff0000" d="M608.7 1329.8h7.6v75.4h-7.6zM623.1 1271.8h7.6v80.4h-7.6zM623.1 1391.8h7.6v30.4h-7.6zM623.1 1446.8h7.6v35.4h-7.6zM623.1 1506.8h7.6v45.4h-7.6zM623.1 1626.8h7.6v30.4h-7.6zM630.3 1423.9h7.6v35.4h-7.6zM644.7 1223h7.6v15.4h-7.6zM651.9 1230h7.6v10.4h-7.6zM659.2 1242h7.6v180.4h-7.6zM659.2 1587h7.6v110.1h-7.6zM666.4 1234.1h7.6v10.4h-7.6zM666.4 1479.1h7.6v5.4h-7.6zM680.8 1318.2h7.6v345.4h-7.6zM688 1330.2h7.6v40.4h-7.6zM688 1510.2h7.6v145.4h-7.6zM688 1705.2h7.6v20.1h-7.6zM695.2 1352.2h7.6v190.4h-7.6zM695.2 1647.2h7.6v75.4h-7.6zM702.4 1404.3h7.6v5.4h-7.6zM716.8 1373.4h7.6v5.4h-7.6zM716.8 1488.4h7.6v70.4h-7.6zM716.8 1613.4h7.6v60.4h-7.6zM724 1390.4h7.6v75.4h-7.6zM724 1545.4h7.6v30.4h-7.6zM724 1680.4h7.6v80.1h-7.6zM738.4 1574.5h7.6v130.4h-7.6zM738.4 1749.5h7.6v25.1h-7.6zM745.6 1771.5h7.6v10.1h-7.6zM760.1 1385.6h7.6v160.4h-7.6zM760.1 1595.6h7.6v200.1h-7.6zM767.3 1392.6h7.6v60.4h-7.6zM767.3 1592.6h7.6v40.4h-7.6zM767.3 1637.6h7.6v165.1h-7.6zM781.7 1386.7h7.6v95.4h-7.6zM788.9 1423.8h7.6v70.4h-7.6zM788.9 1568.8h7.6v55.4h-7.6zM796.1 1540.8h7.6v5.4h-7.6zM796.1 1660.8h7.6v5.4h-7.6zM796.1 1755.8h7.6v50.4h-7.6zM803.3 1427.8h7.6v40.4h-7.6zM803.3 1567.8h7.6v135.4h-7.6zM803.3 1817.8h7.6v20.1h-7.6zM904.2 1576.4h7.6v115.4h-7.6zM904.2 1731.4h7.6v80.4h-7.6zM904.2 1841.4h7.6v35.4h-7.6zM925.8 1597.5h7.6v40.4h-7.6zM925.8 1687.5h7.6v75.4h-7.6zM940.3 1546.6h7.6v50.4h-7.6zM954.7 1625.7h7.6v30.4h-7.6zM954.7 1850.7h7.6v55.4h-7.6zM954.7 1980.7h7.6v5.1h-7.6zM961.9 1747.7h7.6v230.4h-7.6zM969.1 1634.8h7.2v5.4h-7.2z"/><path fill="#80ff80" d="M615.9 1184.8h7.6v10.4h-7.6zM688 1265.2h7.6v5.4h-7.6zM695.2 1277.2h7.6v5.4h-7.6zM709.6 1326.3h7.6v15.4h-7.6zM824.9 1539h7.6v40.4h-7.6zM832.1 1606h7.6v55.4h-7.6zM832.1 1736h7.6v130.1h-7.6zM861 1519.2h7.6v55.4h-7.6zM861 1629.2h7.6v120.4h-7.6zM861 1839.2h7.6v15.4h-7.6zM868.2 1436.2h7.6v5.4h-7.6zM868.2 1501.2h7.6v10.4h-7.6zM875.4 1473.2h7.6v5.4h-7.6zM882.6 1475.3h7.6v5.4h-7.6zM947.5 1523.6h7.6v5.4h-7.6zM954.7 1530.7h7.6v5.4h-7.6zM961.9 1537.7h7.6v5.4h-7.6zM969.1 1544.8h7.2v5.4h-7.2z"/><path fill="#ff8000" d="M615.9 1264.8h7.6v5.4h-7.6zM615.9 1519.8h7.6v45.4h-7.6zM623.1 1241.8h7.6v5.4h-7.6zM630.3 1253.9h7.6v5.4h-7.6zM637.5 1270.9h7.6v5.4h-7.6zM666.4 1464.1h7.6v5.4h-7.6zM673.6 1296.1h7.6v5.4h-7.6zM695.2 1307.2h7.6v5.4h-7.6zM716.8 1353.4h7.6v5.4h-7.6zM724 1370.4h7.6v5.4h-7.6zM731.2 1377.4h7.6v5.4h-7.6zM738.4 1374.5h7.6v5.4h-7.6zM745.6 1341.5h7.6v5.4h-7.6zM745.6 1376.5h7.6v5.4h-7.6zM760.1 1365.6h7.6v5.4h-7.6zM767.3 1372.6h7.6v5.4h-7.6zM774.5 1394.7h7.6v5.4h-7.6zM781.7 1566.7h7.6v5.4h-7.6zM781.7 1631.7h7.6v5.4h-7.6zM788.9 1403.8h7.6v5.4h-7.6zM788.9 1688.8h7.6v5.4h-7.6zM788.9 1733.8h7.6v5.4h-7.6zM796.1 1445.8h7.6v5.4h-7.6zM803.3 1407.8h7.6v5.4h-7.6zM875.4 1528.2h7.6v135.4h-7.6zM882.6 1555.3h7.6v10.4h-7.6zM889.8 1677.3h7.6v35.4h-7.6zM897 1529.4h7.6v20.4h-7.6zM904.2 1471.4h7.6v5.4h-7.6zM904.2 1556.4h7.6v5.4h-7.6zM911.4 1563.4h7.6v10.4h-7.6zM911.4 1688.4h7.6v65.4h-7.6zM918.6 1565.5h7.6v5.4h-7.6zM925.8 1562.5h7.6v5.4h-7.6zM933.1 1564.6h7.6v5.4h-7.6zM940.3 1501.6h7.6v5.4h-7.6zM940.3 1701.6h7.6v5.4h-7.6zM947.5 1593.6h7.6v5.4h-7.6zM947.5 1603.6h7.6v10.4h-7.6zM954.7 1570.7h7.6v5.4h-7.6zM954.7 1595.7h7.6v5.4h-7.6zM961.9 1577.7h7.6v5.4h-7.6zM961.9 1602.7h7.6v5.4h-7.6zM961.9 1612.7h7.6v5.4h-7.6zM969.1 1614.8h7.2v5.4h-7.2z"/><path fill="#ffb300" d="M623.1 1236.8h7.6v5.4h-7.6zM637.5 1260.9h7.6v5.4h-7.6zM666.4 1454.1h7.6v10.4h-7.6zM709.6 1621.3h7.6v10.4h-7.6zM709.6 1666.3h7.6v80.1h-7.6zM716.8 1333.4h7.6v5.4h-7.6zM724 1355.4h7.6v5.4h-7.6zM731.2 1297.4h7.6v5.4h-7.6zM731.2 1362.4h7.6v10.4h-7.6zM738.4 1309.5h7.6v5.4h-7.6zM738.4 1364.5h7.6v10.4h-7.6zM745.6 1346.5h7.6v5.4h-7.6zM745.6 1371.5h7.6v5.4h-7.6zM752.9 1358.6h7.6v5.4h-7.6zM752.9 1368.6h7.6v5.4h-7.6zM760.1 1350.6h7.6v5.4h-7.6zM767.3 1357.6h7.6v5.4h-7.6zM781.7 1346.7h7.6v5.4h-7.6zM781.7 1371.7h7.6v5.4h-7.6zM781.7 1576.7h7.6v50.4h-7.6zM788.9 1393.8h7.6v10.4h-7.6zM803.3 1382.8h7.6v5.4h-7.6zM810.5 1459.9h7.6v15.4h-7.6zM810.5 1574.9h7.6v35.4h-7.6zM810.5 1624.9h7.6v220.4h-7.6zM817.7 1451.9h7.6v40.4h-7.6zM817.7 1521.9h7.6v15.4h-7.6zM868.2 1731.2h7.6v145.4h-7.6zM875.4 1513.2h7.6v5.4h-7.6zM882.6 1525.3h7.6v20.4h-7.6zM889.8 1522.3h7.6v10.4h-7.6zM889.8 1747.3h7.6v20.4h-7.6zM889.8 1857.3h7.6v65.1h-7.6zM897 1469.4h7.6v5.4h-7.6zM897 1519.4h7.6v5.4h-7.6zM904.2 1481.4h7.6v5.4h-7.6zM904.2 1526.4h7.6v5.4h-7.6zM911.4 1533.4h7.6v5.4h-7.6zM918.6 1540.5h7.6v20.4h-7.6zM925.8 1537.5h7.6v20.4h-7.6zM933.1 1539.6h7.6v5.4h-7.6zM940.3 1711.6h7.6v125.4h-7.6zM940.3 1876.6h7.6v95.4h-7.6zM954.7 1565.7h7.6v5.4h-7.6zM961.9 1572.7h7.6v5.4h-7.6z"/><path fill="#e50000" d="M623.1 1421.8h7.6v25.4h-7.6zM623.1 1551.8h7.6v75.4h-7.6zM644.7 1238h7.6v295.4h-7.6zM644.7 1603h7.6v60.4h-7.6zM651.9 1240h7.6v10.4h-7.6zM651.9 1375h7.6v40.4h-7.6zM659.2 1422h7.6v165.4h-7.6zM666.4 1244.1h7.6v15.4h-7.6zM666.4 1279.1h7.6v80.4h-7.6zM666.4 1404.1h7.6v5.4h-7.6zM666.4 1484.1h7.6v80.4h-7.6zM673.6 1326.1h7.6v80.4h-7.6zM673.6 1436.1h7.6v105.4h-7.6zM673.6 1556.1h7.6v130.4h-7.6zM688 1370.2h7.6v140.4h-7.6zM688 1655.2h7.6v50.4h-7.6zM724 1575.4h7.6v105.4h-7.6zM752.9 1393.6h7.6v5.4h-7.6zM767.3 1452.6h7.6v140.4h-7.6zM904.2 1876.4h7.6v60.1h-7.6zM961.9 1632.7h7.6v115.4h-7.6zM961.9 1977.7h7.6v15.1h-7.6zM969.1 1739.8h7.2v65.4h-7.2zM969.1 1924.8h7.2v60.4h-7.2z"/><path fill="#cc0000" d="M644.7 1533h7.6v70.4h-7.6zM644.7 1663h7.6v20.1h-7.6zM651.9 1250h7.6v125.4h-7.6zM651.9 1415h7.6v25.4h-7.6zM651.9 1505h7.6v170.4h-7.6zM666.4 1259.1h7.6v20.4h-7.6zM666.4 1359.1h7.6v45.4h-7.6zM666.4 1564.1h7.6v140.1h-7.6zM673.6 1311.1h7.6v15.4h-7.6zM673.6 1406.1h7.6v30.4h-7.6zM673.6 1541.1h7.6v15.4h-7.6zM673.6 1686.1h7.6v25.1h-7.6zM702.4 1409.3h7.6v205.4h-7.6zM702.4 1669.3h7.6v40.4h-7.6zM752.9 1413.6h7.6v245.4h-7.6zM752.9 1703.6h7.6v85.1h-7.6zM969.1 1639.8h7.2v100.4h-7.2zM969.1 1804.8h7.2v120.4h-7.2zM969.1 1984.8h7.2v8.1h-7.2z"/><path fill="#b30000" d="M651.9 1440h7.6v65.4h-7.6zM651.9 1675h7.6v15.1h-7.6zM702.4 1614.3h7.6v55.4h-7.6zM702.4 1709.3h7.6v30.1h-7.6zM752.9 1398.6h7.6v15.4h-7.6zM752.9 1658.6h7.6v45.4h-7.6z"/><path fill="#00ffff" d="M680.8 1248.2h7.6v10.4h-7.6zM702.4 1289.3h7.6v5.4h-7.6zM709.6 1301.3h7.6v5.4h-7.6zM824.9 1419h7.6v100.4h-7.6zM832.1 1501h7.6v85.4h-7.6zM839.4 1513h7.6v10.4h-7.6zM839.4 1528h7.6v85.4h-7.6zM839.4 1693h7.6v35.4h-7.6zM839.4 1748h7.6v5.4h-7.6zM839.4 1853h7.6v20.1h-7.6zM861 1459.2h7.6v40.4h-7.6zM868.2 1471.2h7.6v10.4h-7.6zM889.8 1472.3h7.6v5.4h-7.6zM911.4 1473.4h7.6v5.4h-7.6zM918.6 1480.5h7.6v5.4h-7.6z"/><path fill="#33ffcc" d="M680.8 1258.2h7.6v5.4h-7.6zM695.2 1262.2h7.6v10.4h-7.6zM709.6 1306.3h7.6v5.4h-7.6zM788.9 1358.8h7.6v5.4h-7.6zM824.9 1524h7.6v5.4h-7.6zM832.1 1591h7.6v5.4h-7.6zM861 1504.2h7.6v5.4h-7.6zM868.2 1486.2h7.6v5.4h-7.6zM882.6 1470.3h7.6v5.4h-7.6zM911.4 1478.4h7.6v5.4h-7.6zM918.6 1485.5h7.6v5.4h-7.6zM947.5 1508.6h7.6v10.4h-7.6zM954.7 1515.7h7.6v10.4h-7.6zM961.9 1522.7h7.6v10.4h-7.6zM969.1 1529.8h7.2v10.4h-7.2z"/><path fill="#66ff99" d="M680.8 1263.2h7.6v5.4h-7.6zM702.4 1294.3h7.6v5.4h-7.6zM709.6 1321.3h7.6v5.4h-7.6zM716.8 1308.4h7.6v5.4h-7.6zM724 1305.4h7.6v5.4h-7.6zM724 1320.4h7.6v5.4h-7.6zM788.9 1363.8h7.6v5.4h-7.6zM824.9 1534h7.6v5.4h-7.6zM832.1 1601h7.6v5.4h-7.6zM861 1514.2h7.6v5.4h-7.6zM861 1574.2h7.6v55.4h-7.6zM861 1749.2h7.6v90.4h-7.6zM861 1854.2h7.6v40.1h-7.6zM868.2 1496.2h7.6v5.4h-7.6zM875.4 1463.2h7.6v5.4h-7.6zM911.4 1483.4h7.6v5.4h-7.6zM918.6 1490.5h7.6v5.4h-7.6zM947.5 1518.6h7.6v5.4h-7.6zM954.7 1525.7h7.6v5.4h-7.6z"/><path fill="#4dffb2" d="M688 1255.2h7.6v10.4h-7.6zM695.2 1272.2h7.6v5.4h-7.6zM709.6 1311.3h7.6v10.4h-7.6zM724 1310.4h7.6v10.4h-7.6zM824.9 1529h7.6v5.4h-7.6zM832.1 1596h7.6v5.4h-7.6zM861 1509.2h7.6v5.4h-7.6zM868.2 1441.2h7.6v5.4h-7.6zM868.2 1491.2h7.6v5.4h-7.6zM875.4 1468.2h7.6v5.4h-7.6zM889.8 1477.3h7.6v5.4h-7.6zM961.9 1532.7h7.6v5.4h-7.6zM969.1 1539.8h7.2v5.4h-7.2z"/><path fill="#00ccff" d="M702.4 1269.3h7.6v10.4h-7.6zM709.6 1296.3h7.6v5.4h-7.6zM716.8 1283.4h7.6v15.4h-7.6zM824.9 1409h7.6v5.4h-7.6zM832.1 1476h7.6v10.4h-7.6zM839.4 1503h7.6v5.4h-7.6zM839.4 1758h7.6v5.4h-7.6zM839.4 1843h7.6v5.4h-7.6zM861 1454.2h7.6v5.4h-7.6zM868.2 1461.2h7.6v5.4h-7.6z"/><path fill="#00e5ff" d="M702.4 1279.3h7.6v10.4h-7.6zM716.8 1298.4h7.6v5.4h-7.6zM788.9 1353.8h7.6v5.4h-7.6zM824.9 1414h7.6v5.4h-7.6zM832.1 1466h7.6v10.4h-7.6zM832.1 1486h7.6v15.4h-7.6zM839.4 1508h7.6v5.4h-7.6zM839.4 1753h7.6v5.4h-7.6zM839.4 1848h7.6v5.4h-7.6zM868.2 1446.2h7.6v5.4h-7.6zM868.2 1466.2h7.6v5.4h-7.6zM882.6 1465.3h7.6v5.4h-7.6z"/><path fill="#0080ff" d="M709.6 1276.3h7.6v10.4h-7.6zM824.9 1389h7.6v10.4h-7.6zM839.4 1478h7.6v15.4h-7.6zM839.4 1768h7.6v65.4h-7.6zM846.6 1775.1h7.6v65.4h-7.6zM882.6 1445.3h7.6v10.4h-7.6zM889.8 1452.3h7.6v10.4h-7.6z"/><path fill="#0099ff" d="M709.6 1286.3h7.6v5.4h-7.6zM824.9 1399h7.6v5.4h-7.6zM832.1 1461h7.6v5.4h-7.6zM839.4 1493h7.6v5.4h-7.6zM839.4 1763h7.6v5.4h-7.6zM839.4 1833h7.6v5.4h-7.6zM861 1449.2h7.6v5.4h-7.6zM868.2 1451.2h7.6v5.4h-7.6zM882.6 1455.3h7.6v10.4h-7.6zM889.8 1462.3h7.6v5.4h-7.6z"/><path fill="#00b2ff" d="M709.6 1291.3h7.6v5.4h-7.6zM824.9 1404h7.6v5.4h-7.6zM839.4 1498h7.6v5.4h-7.6zM839.4 1838h7.6v5.4h-7.6zM868.2 1456.2h7.6v5.4h-7.6zM889.8 1467.3h7.6v5.4h-7.6z"/><path fill="#1affe5" d="M716.8 1303.4h7.6v5.4h-7.6zM824.9 1519h7.6v5.4h-7.6zM832.1 1586h7.6v5.4h-7.6zM839.4 1523h7.6v5.4h-7.6zM839.4 1613h7.6v80.4h-7.6zM839.4 1728h7.6v20.4h-7.6zM861 1499.2h7.6v5.4h-7.6zM868.2 1481.2h7.6v5.4h-7.6z"/><path fill="#000080" d="M832.1 1396h7.6v20.4h-7.6zM839.4 1403h7.6v35.4h-7.6zM846.6 1410.1h7.6v45.4h-7.6zM853.8 1417.1h7.6v30.4h-7.6zM853.8 1727.1h7.6v160.1h-7.6z"/><path fill="#000099" d="M832.1 1416h7.6v5.4h-7.6zM839.4 1438h7.6v5.4h-7.6zM846.6 1455.1h7.6v5.4h-7.6zM853.8 1447.1h7.6v5.4h-7.6zM853.8 1722.1h7.6v5.4h-7.6z"/><path fill="#0000b2" d="M832.1 1421h7.6v5.4h-7.6zM839.4 1443h7.6v5.4h-7.6zM846.6 1460.1h7.6v5.4h-7.6zM853.8 1452.1h7.6v5.4h-7.6zM853.8 1717.1h7.6v5.4h-7.6z"/><path fill="#0000cc" d="M832.1 1426h7.6v5.4h-7.6zM839.4 1448h7.6v5.4h-7.6zM846.6 1465.1h7.6v5.4h-7.6zM853.8 1457.1h7.6v5.4h-7.6zM853.8 1712.1h7.6v5.4h-7.6z"/><path fill="#0000e6" d="M832.1 1431h7.6v5.4h-7.6zM839.4 1453h7.6v5.4h-7.6zM846.6 1470.1h7.6v5.4h-7.6zM853.8 1462.1h7.6v5.4h-7.6zM853.8 1707.1h7.6v5.4h-7.6z"/><path fill="#0000ff" d="M832.1 1436h7.6v10.4h-7.6zM846.6 1475.1h7.6v280.4h-7.6zM846.6 1860.1h7.6v20.1h-7.6zM853.8 1467.1h7.6v240.4h-7.6zM861 1424.2h7.6v15.4h-7.6z"/><path fill="#001aff" d="M832.1 1446h7.6v5.4h-7.6zM839.4 1458h7.6v5.4h-7.6zM846.6 1755.1h7.6v5.4h-7.6zM846.6 1855.1h7.6v5.4h-7.6z"/><path fill="#004dff" d="M832.1 1451h7.6v5.4h-7.6zM839.4 1468h7.6v5.4h-7.6zM846.6 1765.1h7.6v5.4h-7.6zM846.6 1845.1h7.6v5.4h-7.6z"/><path fill="#0066ff" d="M832.1 1456h7.6v5.4h-7.6zM839.4 1473h7.6v5.4h-7.6zM846.6 1770.1h7.6v5.4h-7.6zM846.6 1840.1h7.6v5.4h-7.6zM861 1444.2h7.6v5.4h-7.6z"/><path fill="#0033ff" d="M839.4 1463h7.6v5.4h-7.6zM846.6 1760.1h7.6v5.4h-7.6zM846.6 1850.1h7.6v5.4h-7.6zM861 1439.2h7.6v5.4h-7.6z"/>
<path fill="#ffb300" d="M1053 1152.2h7.6v5.4h-7.6zM1060.2 1177.2h7.6v5.4h-7.6zM1060.2 1202.2h7.6v5.4h-7.6zM1067.4 1209.2h7.6v5.4h-7.6zM1074.6 1181.3h7.6v10.4h-7.6zM1074.6 1256.3h7.6v5.4h-7.6zM1081.8 1268.3h7.6v10.4h-7.6zM1089 1270.4h7.6v5.4h-7.6zM1103.4 1284.4h7.6v10.4h-7.6zM1110.6 1291.5h7.6v10.4h-7.6zM1110.6 1421.5h7.6v20.4h-7.6zM1117.8 1293.5h7.6v15.4h-7.6zM1125 1280.6h7.6v5.4h-7.6zM1132.2 1272.6h7.6v5.4h-7.6zM1204.3 1373h7.6v5.4h-7.6zM1247.5 1385.2h7.6v10.4h-7.6zM1261.9 1419.3h7.6v20.4h-7.6zM1269.1 1356.4h7.6v5.4h-7.6zM1269.1 1411.4h7.6v5.4h-7.6zM1276.3 1368.4h7.6v5.4h-7.6zM1283.5 1450.4h7.6v10.4h-7.6zM1290.7 1437.5h7.6v5.4h-7.6zM1297.9 1514.5h7.6v5.4h-7.6zM1297.9 1639.5h7.6v20.4h-7.6zM1305.1 1441.6h7.6v20.4h-7.6zM1312.3 1443.6h7.6v15.4h-7.6zM1319.5 1445.6h7.6v5.4h-7.6zM1326.7 1467.7h7.6v5.4h-7.6zM1334 1474.7h7.6v15.4h-7.6zM1341.2 1506.8h7.6v5.4h-7.6zM1348.4 1518.8h7.6v5.4h-7.6zM1355.6 1515.8h7.6v5.4h-7.6zM1377.2 1512h7.6v10.4h-7.6zM1384.4 1469h7.6v5.4h-7.6zM1384.4 1529h7.6v5.4h-7.6zM1391.6 1526h7.6v10.4h-7.6zM1391.6 1591h7.6v5.4h-7.6zM1391.6 1621h7.6v5.4h-7.6zM1406 1625.1h7.6v25.4h-7.6zM1406 1880.1h7.6v10.4h-7.6zM1413.2 1622.2h7.2v5.4h-7.2z"/><path fill="#ff9900" d="M1053 1157.2h7.6v15.4h-7.6zM1060.2 1152.2h7.6v5.4h-7.6zM1060.2 1172.2h7.6v5.4h-7.6zM1060.2 1207.2h7.6v10.4h-7.6zM1067.4 1214.2h7.6v15.4h-7.6zM1074.6 1261.3h7.6v20.4h-7.6zM1081.8 1278.3h7.6v235.4h-7.6zM1081.8 1603.3h7.6v38.3h-7.6zM1089 1275.4h7.6v5.4h-7.6zM1103.4 1294.4h7.6v25.4h-7.6zM1110.6 1301.5h7.6v10.4h-7.6zM1110.6 1351.5h7.6v70.4h-7.6zM1110.6 1441.5h7.6v5.4h-7.6zM1117.8 1308.5h7.6v110.4h-7.6zM1125 1240.6h7.6v5.4h-7.6zM1125 1285.6h7.6v65.4h-7.6zM1132.2 1277.6h7.6v40.4h-7.6zM1204.3 1323h7.6v5.4h-7.6zM1211.5 1390h7.6v5.4h-7.6zM1247.5 1395.2h7.6v25.4h-7.6zM1261.9 1439.3h7.6v20.4h-7.6zM1269.1 1416.4h7.6v5.4h-7.6zM1269.1 1441.4h7.6v370.4h-7.6zM1276.3 1363.4h7.6v5.4h-7.6zM1276.3 1443.4h7.6v5.4h-7.6zM1283.5 1460.4h7.6v5.4h-7.6zM1290.7 1442.5h7.6v25.4h-7.6zM1297.9 1519.5h7.6v25.4h-7.6zM1297.9 1589.5h7.6v5.4h-7.6zM1297.9 1659.5h7.6v15.4h-7.6zM1305.1 1461.6h7.6v5.4h-7.6zM1312.3 1458.6h7.6v10.4h-7.6zM1319.5 1450.6h7.6v5.4h-7.6zM1326.7 1472.7h7.6v10.4h-7.6zM1334 1489.7h7.6v5.4h-7.6zM1341.2 1511.8h7.6v5.4h-7.6zM1341.2 1521.8h7.6v20.4h-7.6zM1348.4 1523.8h7.6v25.4h-7.6zM1355.6 1520.8h7.6v25.4h-7.6zM1355.6 1715.8h7.6v70.4h-7.6zM1377.2 1462h7.6v5.4h-7.6zM1377.2 1522h7.6v5.4h-7.6zM1384.4 1534h7.6v5.4h-7.6zM1391.6 1491h7.6v5.4h-7.6zM1391.6 1536h7.6v10.4h-7.6zM1391.6 1576h7.6v15.4h-7.6zM1391.6 1626h7.6v10.4h-7.6zM1398.8 1508.1h7.6v5.4h-7.6zM1406 1520.1h7.6v5.4h-7.6zM1406 1650.1h7.6v5.4h-7.6zM1406 1875.1h7.6v5.4h-7.6zM1406 1920.1h7.6v5.4h-7.6zM1413.2 1627.2h7.2v30.4h-7.2zM1413.2 1887.2h7.2v40.4h-7.2z"/><path fill="#ff8000" d="M1053 1172.2h7.6v60.4h-7.6zM1060.2 1157.2h7.6v15.4h-7.6zM1060.2 1217.2h7.6v30.4h-7.6zM1067.4 1229.2h7.6v5.4h-7.6zM1074.6 1281.3h7.6v10.4h-7.6zM1081.8 1513.3h7.6v90.4h-7.6zM1089 1280.4h7.6v10.4h-7.6zM1103.4 1319.4h7.6v5.4h-7.6zM1110.6 1311.5h7.6v40.4h-7.6zM1110.6 1446.5h7.6v5.4h-7.6zM1117.8 1418.5h7.6v10.4h-7.6zM1117.8 1613.5h7.6v30.4h-7.6zM1125 1350.6h7.6v5.4h-7.6zM1132.2 1317.6h7.6v5.4h-7.6zM1197.1 1326h7.6v5.4h-7.6zM1204.3 1378h7.6v5.4h-7.6zM1211.5 1395h7.6v5.4h-7.6zM1247.5 1420.2h7.6v10.4h-7.6zM1254.7 1362.3h7.6v5.4h-7.6zM1254.7 1417.3h7.6v10.4h-7.6zM1261.9 1459.3h7.6v10.4h-7.6zM1261.9 1759.3h7.6v25.4h-7.6zM1269.1 1421.4h7.6v20.4h-7.6zM1269.1 1811.4h7.6v13.3h-7.6zM1276.3 1448.4h7.6v5.4h-7.6zM1283.5 1465.4h7.6v5.4h-7.6zM1290.7 1467.5h7.6v5.4h-7.6zM1297.9 1544.5h7.6v5.4h-7.6zM1297.9 1674.5h7.6v5.4h-7.6zM1305.1 1401.6h7.6v5.4h-7.6zM1305.1 1466.6h7.6v5.4h-7.6zM1312.3 1468.6h7.6v10.4h-7.6zM1319.5 1455.6h7.6v10.4h-7.6zM1326.7 1482.7h7.6v5.4h-7.6zM1334 1494.7h7.6v5.4h-7.6zM1341.2 1516.8h7.6v5.4h-7.6zM1348.4 1548.8h7.6v10.4h-7.6zM1355.6 1545.8h7.6v5.4h-7.6zM1355.6 1685.8h7.6v30.4h-7.6zM1355.6 1785.8h7.6v5.4h-7.6zM1377.2 1527h7.6v5.4h-7.6zM1384.4 1539h7.6v5.4h-7.6zM1391.6 1546h7.6v10.4h-7.6zM1391.6 1566h7.6v10.4h-7.6zM1391.6 1636h7.6v95.4h-7.6zM1398.8 1503.1h7.6v5.4h-7.6zM1398.8 1513.1h7.6v5.4h-7.6zM1406 1490.1h7.6v20.4h-7.6zM1406 1655.1h7.6v10.4h-7.6zM1406 1870.1h7.6v5.4h-7.6zM1406 1925.1h7.6v5.4h-7.6zM1413.2 1527.2h7.2v5.4h-7.2zM1413.2 1657.2h7.2v10.4h-7.2zM1413.2 1927.2h7.2v5.4h-7.2z"/><path fill="#ff4c00" d="M1053 1232.2h7.6v5.4h-7.6zM1060.2 1252.2h7.6v5.4h-7.6zM1067.4 1259.2h7.6v368.3h-7.6zM1074.6 1296.3h7.6v5.4h-7.6zM1089 1295.4h7.6v10.4h-7.6zM1103.4 1329.4h7.6v5.4h-7.6zM1110.6 1451.5h7.6v5.4h-7.6zM1117.8 1488.5h7.6v65.4h-7.6zM1125 1360.6h7.6v5.4h-7.6zM1132.2 1322.6h7.6v5.4h-7.6zM1197.1 1331h7.6v5.4h-7.6zM1204.3 1313h7.6v5.4h-7.6zM1204.3 1388h7.6v5.4h-7.6zM1211.5 1405h7.6v5.4h-7.6zM1247.5 1435.2h7.6v5.4h-7.6zM1247.5 1635.2h7.6v10.4h-7.6zM1254.7 1412.3h7.6v5.4h-7.6zM1254.7 1427.3h7.6v5.4h-7.6zM1261.9 1514.3h7.6v30.4h-7.6zM1276.3 1458.4h7.6v5.4h-7.6zM1276.3 1708.4h7.6v35.4h-7.6zM1283.5 1470.4h7.6v5.4h-7.6zM1290.7 1477.5h7.6v10.4h-7.6zM1297.9 1554.5h7.6v5.4h-7.6zM1297.9 1684.5h7.6v5.4h-7.6zM1312.3 1608.6h7.6v65.4h-7.6zM1312.3 1788.6h7.6v78.3h-7.6zM1319.5 1470.6h7.6v5.4h-7.6zM1334 1504.7h7.6v90.4h-7.6zM1334 1624.7h7.6v50.4h-7.6zM1334 1754.7h7.6v75.4h-7.6zM1341.2 1546.8h7.6v5.4h-7.6zM1348.4 1568.8h7.6v333.3h-7.6zM1355.6 1550.8h7.6v5.4h-7.6zM1355.6 1675.8h7.6v5.4h-7.6zM1355.6 1790.8h7.6v5.4h-7.6zM1377.2 1537h7.6v5.4h-7.6zM1398.8 1493.1h7.6v5.4h-7.6zM1398.8 1523.1h7.6v5.4h-7.6zM1406 1515.1h7.6v5.4h-7.6zM1406 1680.1h7.6v10.4h-7.6zM1406 1860.1h7.6v5.4h-7.6zM1406 1935.1h7.6v5.4h-7.6zM1413.2 1517.2h7.2v5.4h-7.2zM1413.2 1687.2h7.2v5.4h-7.2zM1413.2 1877.2h7.2v5.4h-7.2zM1413.2 1937.2h7.2v5.4h-7.2z"/><path fill="#ff3300" d="M1053 1237.2h7.6v5.4h-7.6zM1074.6 1301.3h7.6v5.4h-7.6zM1089 1305.4h7.6v5.4h-7.6zM1089 1335.4h7.6v60.4h-7.6zM1089 1510.4h7.6v65.4h-7.6zM1096.2 1222.4h7.6v5.4h-7.6zM1103.4 1334.4h7.6v5.4h-7.6zM1110.6 1456.5h7.6v5.4h-7.6zM1125 1230.6h7.6v5.4h-7.6zM1132.2 1327.6h7.6v5.4h-7.6zM1197.1 1336h7.6v5.4h-7.6zM1211.5 1410h7.6v80.4h-7.6zM1247.5 1440.2h7.6v120.4h-7.6zM1247.5 1595.2h7.6v40.4h-7.6zM1247.5 1645.2h7.6v140.4h-7.6zM1254.7 1407.3h7.6v5.4h-7.6zM1254.7 1432.3h7.6v5.4h-7.6zM1276.3 1463.4h7.6v245.4h-7.6zM1276.3 1743.4h7.6v88.3h-7.6zM1283.5 1475.4h7.6v5.4h-7.6zM1290.7 1487.5h7.6v40.4h-7.6zM1297.9 1579.5h7.6v5.4h-7.6zM1297.9 1689.5h7.6v5.4h-7.6zM1305.1 1391.6h7.6v10.4h-7.6zM1305.1 1476.6h7.6v5.4h-7.6zM1305.1 1556.6h7.6v30.4h-7.6zM1305.1 1741.6h7.6v95.4h-7.6zM1319.5 1475.6h7.6v5.4h-7.6zM1326.7 1492.7h7.6v5.4h-7.6zM1334 1594.7h7.6v30.4h-7.6zM1334 1674.7h7.6v80.4h-7.6zM1334 1829.7h7.6v58.3h-7.6zM1341.2 1551.8h7.6v5.4h-7.6zM1355.6 1555.8h7.6v5.4h-7.6zM1355.6 1670.8h7.6v5.4h-7.6zM1355.6 1795.8h7.6v5.4h-7.6zM1377.2 1542h7.6v5.4h-7.6zM1377.2 1912h7.6v18.3h-7.6zM1384.4 1549h7.6v5.4h-7.6zM1391.6 1481h7.6v5.4h-7.6zM1398.8 1488.1h7.6v5.4h-7.6zM1398.8 1598.1h7.6v15.4h-7.6zM1406 1690.1h7.6v10.4h-7.6zM1406 1720.1h7.6v25.4h-7.6zM1406 1940.1h7.6v10.4h-7.6zM1413.2 1522.2h7.2v5.4h-7.2zM1413.2 1692.2h7.2v10.4h-7.2zM1413.2 1872.2h7.2v5.4h-7.2zM1413.2 1942.2h7.2v5.4h-7.2z"/><path fill="#ff1a00" d="M1053 1242.2h7.6v5.4h-7.6zM1060.2 1257.2h7.6v5.4h-7.6zM1074.6 1306.3h7.6v5.4h-7.6zM1089 1310.4h7.6v25.4h-7.6zM1089 1395.4h7.6v115.4h-7.6zM1089 1575.4h7.6v73.3h-7.6zM1096.2 1397.4h7.6v65.4h-7.6zM1103.4 1584.4h7.6v65.4h-7.6zM1110.6 1461.5h7.6v50.4h-7.6zM1125 1365.6h7.6v5.4h-7.6zM1132.2 1332.6h7.6v5.4h-7.6zM1132.2 1442.6h7.6v35.4h-7.6zM1132.2 1567.6h7.6v123.3h-7.6zM1204.3 1293h7.6v20.4h-7.6zM1204.3 1393h7.6v5.4h-7.6zM1204.3 1438h7.6v115.4h-7.6zM1204.3 1688h7.6v55.4h-7.6zM1211.5 1490h7.6v10.4h-7.6zM1247.5 1560.2h7.6v35.4h-7.6zM1247.5 1785.2h7.6v18.3h-7.6zM1254.7 1367.3h7.6v10.4h-7.6zM1254.7 1402.3h7.6v5.4h-7.6zM1254.7 1437.3h7.6v5.4h-7.6zM1254.7 1497.3h7.6v175.4h-7.6zM1254.7 1732.3h7.6v78.3h-7.6zM1283.5 1480.4h7.6v100.4h-7.6zM1283.5 1645.4h7.6v60.4h-7.6zM1283.5 1755.4h7.6v75.4h-7.6zM1290.7 1527.5h7.6v75.4h-7.6zM1290.7 1657.5h7.6v55.4h-7.6zM1290.7 1752.5h7.6v90.4h-7.6zM1297.9 1559.5h7.6v5.4h-7.6zM1297.9 1699.5h7.6v125.4h-7.6zM1305.1 1481.6h7.6v75.4h-7.6zM1305.1 1586.6h7.6v35.4h-7.6zM1305.1 1666.6h7.6v75.4h-7.6zM1305.1 1836.6h7.6v23.3h-7.6zM1326.7 1497.7h7.6v5.4h-7.6zM1326.7 1827.7h7.6v15.4h-7.6zM1341.2 1556.8h7.6v5.4h-7.6zM1341.2 1581.8h7.6v65.4h-7.6zM1341.2 1691.8h7.6v70.4h-7.6zM1341.2 1821.8h7.6v73.3h-7.6zM1355.6 1560.8h7.6v5.4h-7.6zM1355.6 1665.8h7.6v5.4h-7.6zM1355.6 1800.8h7.6v5.4h-7.6zM1362.8 1467.9h7.6v25.4h-7.6zM1370 1479.9h7.6v5.4h-7.6zM1370 1594.9h7.6v328.3h-7.6zM1377.2 1547h7.6v365.4h-7.6zM1384.4 1554h7.6v60.4h-7.6zM1384.4 1724h7.6v213.3h-7.6zM1398.8 1483.1h7.6v5.4h-7.6zM1398.8 1528.1h7.6v5.4h-7.6zM1398.8 1568.1h7.6v30.4h-7.6zM1398.8 1613.1h7.6v75.4h-7.6zM1398.8 1753.1h7.6v140.4h-7.6zM1398.8 1928.1h7.6v23.3h-7.6zM1406 1700.1h7.6v20.4h-7.6zM1406 1745.1h7.6v40.4h-7.6zM1406 1800.1h7.6v60.4h-7.6zM1406 1950.1h7.6v8.3h-7.6zM1413.2 1702.2h7.2v5.4h-7.2zM1413.2 1717.2h7.2v105.4h-7.2zM1413.2 1867.2h7.2v5.4h-7.2z"/><path fill="#ff0000" d="M1053 1247.2h7.6v5.4h-7.6zM1060.2 1262.2h7.6v5.4h-7.6zM1060.2 1307.2h7.6v225.4h-7.6zM1060.2 1612.2h7.6v8.3h-7.6zM1074.6 1311.3h7.6v323.3h-7.6zM1096.2 1227.4h7.6v65.4h-7.6zM1096.2 1322.4h7.6v75.4h-7.6zM1096.2 1462.4h7.6v193.3h-7.6zM1103.4 1339.4h7.6v245.4h-7.6zM1103.4 1649.4h7.6v13.3h-7.6zM1110.6 1511.5h7.6v158.3h-7.6zM1125 1225.6h7.6v5.4h-7.6zM1125 1370.6h7.6v115.4h-7.6zM1125 1620.6h7.6v30.4h-7.6zM1132.2 1337.6h7.6v105.4h-7.6zM1132.2 1477.6h7.6v40.4h-7.6zM1132.2 1532.6h7.6v35.4h-7.6zM1197.1 1341h7.6v5.4h-7.6zM1197.1 1366h7.6v195.4h-7.6zM1197.1 1726h7.6v28.3h-7.6zM1204.3 1398h7.6v40.4h-7.6zM1204.3 1553h7.6v135.4h-7.6zM1204.3 1743h7.6v18.3h-7.6zM1211.5 1500h7.6v10.4h-7.6zM1254.7 1377.3h7.6v25.4h-7.6zM1254.7 1442.3h7.6v55.4h-7.6zM1254.7 1672.3h7.6v60.4h-7.6zM1283.5 1580.4h7.6v65.4h-7.6zM1283.5 1705.4h7.6v50.4h-7.6zM1283.5 1830.4h7.6v8.3h-7.6zM1290.7 1602.5h7.6v55.4h-7.6zM1290.7 1712.5h7.6v40.4h-7.6zM1290.7 1842.5h7.6v3.3h-7.6zM1297.9 1564.5h7.6v15.4h-7.6zM1297.9 1694.5h7.6v5.4h-7.6zM1297.9 1824.5h7.6v28.3h-7.6zM1305.1 1621.6h7.6v45.4h-7.6zM1319.5 1480.6h7.6v5.4h-7.6zM1319.5 1515.6h7.6v160.4h-7.6zM1319.5 1755.6h7.6v20.4h-7.6zM1319.5 1845.6h7.6v28.3h-7.6zM1326.7 1502.7h7.6v20.4h-7.6zM1326.7 1552.7h7.6v80.4h-7.6zM1326.7 1727.7h7.6v100.4h-7.6zM1326.7 1842.7h7.6v38.3h-7.6zM1341.2 1561.8h7.6v20.4h-7.6zM1341.2 1646.8h7.6v45.4h-7.6zM1341.2 1761.8h7.6v60.4h-7.6zM1355.6 1565.8h7.6v95.4h-7.6zM1355.6 1805.8h7.6v80.4h-7.6zM1362.8 1452.9h7.6v15.4h-7.6zM1362.8 1492.9h7.6v10.4h-7.6zM1370 1469.9h7.6v10.4h-7.6zM1370 1484.9h7.6v110.4h-7.6zM1384.4 1614h7.6v110.4h-7.6zM1391.6 1476h7.6v5.4h-7.6zM1398.8 1533.1h7.6v35.4h-7.6zM1398.8 1688.1h7.6v65.4h-7.6zM1398.8 1893.1h7.6v35.4h-7.6zM1406 1785.1h7.6v15.4h-7.6zM1413.2 1707.2h7.2v10.4h-7.2zM1413.2 1822.2h7.2v25.4h-7.2zM1413.2 1947.2h7.2v11.3h-7.2z"/><path fill="#e50000" d="M1053 1252.2h7.6v95.4h-7.6zM1053 1487.2h7.6v126.3h-7.6zM1060.2 1267.2h7.6v40.4h-7.6zM1060.2 1532.2h7.6v80.4h-7.6zM1096.2 1292.4h7.6v30.4h-7.6zM1125 1215.6h7.6v10.4h-7.6zM1125 1485.6h7.6v135.4h-7.6zM1125 1650.6h7.6v33.3h-7.6zM1132.2 1517.6h7.6v15.4h-7.6zM1197.1 1346h7.6v20.4h-7.6zM1197.1 1561h7.6v165.4h-7.6zM1211.5 1510h7.6v170.4h-7.6zM1319.5 1485.6h7.6v30.4h-7.6zM1319.5 1675.6h7.6v80.4h-7.6zM1319.5 1775.6h7.6v70.4h-7.6zM1326.7 1522.7h7.6v30.4h-7.6zM1326.7 1632.7h7.6v95.4h-7.6zM1355.6 1660.8h7.6v5.4h-7.6zM1355.6 1885.8h7.6v23.3h-7.6zM1362.8 1447.9h7.6v5.4h-7.6zM1362.8 1502.9h7.6v10.4h-7.6zM1362.8 1592.9h7.6v65.4h-7.6zM1362.8 1842.9h7.6v65.4h-7.6zM1370 1459.9h7.6v10.4h-7.6zM1413.2 1847.2h7.2v20.4h-7.2z"/><path fill="#cc0000" d="M1053 1347.2h7.6v140.4h-7.6zM1211.5 1680h7.6v88.3h-7.6zM1362.8 1512.9h7.6v80.4h-7.6zM1362.8 1657.9h7.6v185.4h-7.6zM1362.8 1907.9h7.6v8.3h-7.6zM1370 1454.9h7.6v5.4h-7.6z"/><path fill="#ffcc00" d="M1060.2 1182.2h7.6v5.4h-7.6zM1060.2 1197.2h7.6v5.4h-7.6zM1067.4 1204.2h7.6v5.4h-7.6zM1074.6 1171.3h7.6v10.4h-7.6zM1074.6 1251.3h7.6v5.4h-7.6zM1081.8 1263.3h7.6v5.4h-7.6zM1089 1260.4h7.6v10.4h-7.6zM1096.2 1212.4h7.6v5.4h-7.6zM1103.4 1279.4h7.6v5.4h-7.6zM1110.6 1286.5h7.6v5.4h-7.6zM1117.8 1288.5h7.6v5.4h-7.6zM1125 1245.6h7.6v10.4h-7.6zM1125 1275.6h7.6v5.4h-7.6zM1197.1 1321h7.6v5.4h-7.6zM1204.3 1328h7.6v5.4h-7.6zM1204.3 1363h7.6v10.4h-7.6zM1211.5 1370h7.6v20.4h-7.6zM1247.5 1380.2h7.6v5.4h-7.6zM1261.9 1414.3h7.6v5.4h-7.6zM1269.1 1361.4h7.6v10.4h-7.6zM1269.1 1406.4h7.6v5.4h-7.6zM1276.3 1373.4h7.6v5.4h-7.6zM1276.3 1438.4h7.6v5.4h-7.6zM1283.5 1440.4h7.6v10.4h-7.6zM1290.7 1427.5h7.6v10.4h-7.6zM1297.9 1504.5h7.6v10.4h-7.6zM1297.9 1594.5h7.6v5.4h-7.6zM1297.9 1629.5h7.6v10.4h-7.6zM1305.1 1406.6h7.6v5.4h-7.6zM1312.3 1438.6h7.6v5.4h-7.6zM1319.5 1440.6h7.6v5.4h-7.6zM1326.7 1457.7h7.6v10.4h-7.6zM1334 1469.7h7.6v5.4h-7.6zM1341.2 1496.8h7.6v10.4h-7.6zM1348.4 1513.8h7.6v5.4h-7.6zM1355.6 1505.8h7.6v10.4h-7.6zM1377.2 1467h7.6v5.4h-7.6zM1384.4 1474h7.6v5.4h-7.6zM1384.4 1524h7.6v5.4h-7.6zM1391.6 1496h7.6v5.4h-7.6zM1391.6 1521h7.6v5.4h-7.6zM1391.6 1596h7.6v5.4h-7.6zM1391.6 1616h7.6v5.4h-7.6zM1406 1620.1h7.6v5.4h-7.6zM1406 1890.1h7.6v30.4h-7.6zM1413.2 1617.2h7.2v5.4h-7.2z"/><path fill="#ffe500" d="M1060.2 1187.2h7.6v10.4h-7.6zM1067.4 1194.2h7.6v10.4h-7.6zM1074.6 1166.3h7.6v5.4h-7.6zM1074.6 1191.3h7.6v5.4h-7.6zM1074.6 1246.3h7.6v5.4h-7.6zM1081.8 1213.3h7.6v50.4h-7.6zM1089 1230.4h7.6v30.4h-7.6zM1103.4 1274.4h7.6v5.4h-7.6zM1110.6 1281.5h7.6v5.4h-7.6zM1117.8 1283.5h7.6v5.4h-7.6zM1125 1255.6h7.6v20.4h-7.6zM1132.2 1267.6h7.6v5.4h-7.6zM1139.4 1434.6h7.6v70.4h-7.6zM1197.1 1316h7.6v5.4h-7.6zM1204.3 1358h7.6v5.4h-7.6zM1211.5 1365h7.6v5.4h-7.6zM1247.5 1375.2h7.6v5.4h-7.6zM1254.7 1357.3h7.6v5.4h-7.6zM1261.9 1409.3h7.6v5.4h-7.6zM1269.1 1371.4h7.6v10.4h-7.6zM1269.1 1401.4h7.6v5.4h-7.6zM1276.3 1378.4h7.6v5.4h-7.6zM1283.5 1370.4h7.6v15.4h-7.6zM1283.5 1435.4h7.6v5.4h-7.6zM1290.7 1422.5h7.6v5.4h-7.6zM1297.9 1499.5h7.6v5.4h-7.6zM1297.9 1624.5h7.6v5.4h-7.6zM1312.3 1433.6h7.6v5.4h-7.6zM1319.5 1435.6h7.6v5.4h-7.6zM1326.7 1452.7h7.6v5.4h-7.6zM1334 1464.7h7.6v5.4h-7.6zM1341.2 1466.8h7.6v30.4h-7.6zM1348.4 1503.8h7.6v10.4h-7.6zM1355.6 1500.8h7.6v5.4h-7.6zM1377.2 1472h7.6v5.4h-7.6zM1377.2 1507h7.6v5.4h-7.6zM1384.4 1479h7.6v5.4h-7.6zM1384.4 1519h7.6v5.4h-7.6zM1391.6 1511h7.6v10.4h-7.6zM1391.6 1601h7.6v15.4h-7.6zM1406 1525.1h7.6v5.4h-7.6zM1406 1615.1h7.6v5.4h-7.6zM1413.2 1532.2h7.2v5.4h-7.2zM1413.2 1587.2h7.2v30.4h-7.2z"/><path fill="#ff6600" d="M1060.2 1247.2h7.6v5.4h-7.6zM1067.4 1234.2h7.6v25.4h-7.6zM1074.6 1291.3h7.6v5.4h-7.6zM1089 1290.4h7.6v5.4h-7.6zM1096.2 1217.4h7.6v5.4h-7.6zM1103.4 1324.4h7.6v5.4h-7.6zM1117.8 1428.5h7.6v60.4h-7.6zM1117.8 1553.5h7.6v60.4h-7.6zM1117.8 1643.5h7.6v33.3h-7.6zM1125 1235.6h7.6v5.4h-7.6zM1125 1355.6h7.6v5.4h-7.6zM1204.3 1318h7.6v5.4h-7.6zM1204.3 1383h7.6v5.4h-7.6zM1211.5 1400h7.6v5.4h-7.6zM1247.5 1430.2h7.6v5.4h-7.6zM1261.9 1469.3h7.6v45.4h-7.6zM1261.9 1544.3h7.6v215.4h-7.6zM1261.9 1784.3h7.6v33.3h-7.6zM1276.3 1453.4h7.6v5.4h-7.6zM1290.7 1472.5h7.6v5.4h-7.6zM1297.9 1549.5h7.6v5.4h-7.6zM1297.9 1584.5h7.6v5.4h-7.6zM1297.9 1679.5h7.6v5.4h-7.6zM1305.1 1471.6h7.6v5.4h-7.6zM1312.3 1478.6h7.6v130.4h-7.6zM1312.3 1673.6h7.6v115.4h-7.6zM1319.5 1465.6h7.6v5.4h-7.6zM1326.7 1487.7h7.6v5.4h-7.6zM1334 1499.7h7.6v5.4h-7.6zM1341.2 1541.8h7.6v5.4h-7.6zM1348.4 1558.8h7.6v10.4h-7.6zM1355.6 1680.8h7.6v5.4h-7.6zM1377.2 1532h7.6v5.4h-7.6zM1384.4 1544h7.6v5.4h-7.6zM1391.6 1486h7.6v5.4h-7.6zM1391.6 1556h7.6v10.4h-7.6zM1391.6 1731h7.6v213.3h-7.6zM1398.8 1498.1h7.6v5.4h-7.6zM1398.8 1518.1h7.6v5.4h-7.6zM1406 1510.1h7.6v5.4h-7.6zM1406 1665.1h7.6v15.4h-7.6zM1406 1865.1h7.6v5.4h-7.6zM1406 1930.1h7.6v5.4h-7.6zM1413.2 1497.2h7.2v20.4h-7.2zM1413.2 1667.2h7.2v20.4h-7.2zM1413.2 1882.2h7.2v5.4h-7.2zM1413.2 1932.2h7.2v5.4h-7.2z"/><path fill="#80ff80" d="M1067.4 1159.2h7.6v5.4h-7.6zM1074.6 1221.3h7.6v5.4h-7.6zM1096.2 1202.4h7.6v5.4h-7.6zM1103.4 1224.4h7.6v5.4h-7.6zM1139.4 1294.6h7.6v5.4h-7.6zM1211.5 1300h7.6v15.4h-7.6zM1218.7 1327.1h7.6v5.4h-7.6zM1218.7 1402.1h7.6v5.4h-7.6zM1225.9 1339.1h7.6v5.4h-7.6zM1225.9 1734.1h7.6v48.3h-7.6zM1233.1 1336.2h7.6v5.4h-7.6zM1233.1 1731.2h7.6v58.3h-7.6zM1283.5 1425.4h7.6v5.4h-7.6zM1290.7 1407.5h7.6v5.4h-7.6zM1305.1 1416.6h7.6v5.4h-7.6zM1334 1449.7h7.6v5.4h-7.6zM1355.6 1460.8h7.6v5.4h-7.6zM1406 1535.1h7.6v5.4h-7.6zM1406 1550.1h7.6v5.4h-7.6zM1413.2 1542.2h7.2v5.4h-7.2zM1413.2 1557.2h7.2v5.4h-7.2z"/><path fill="#b3ff4c" d="M1067.4 1164.2h7.6v10.4h-7.6zM1074.6 1201.3h7.6v5.4h-7.6zM1074.6 1226.3h7.6v5.4h-7.6zM1081.8 1203.3h7.6v5.4h-7.6zM1103.4 1234.4h7.6v5.4h-7.6zM1117.8 1233.5h7.6v15.4h-7.6zM1211.5 1325h7.6v5.4h-7.6zM1218.7 1332.1h7.6v10.4h-7.6zM1240.3 1348.2h7.6v5.4h-7.6zM1254.7 1352.3h7.6v5.4h-7.6zM1261.9 1369.3h7.6v5.4h-7.6zM1276.3 1413.4h7.6v10.4h-7.6zM1290.7 1412.5h7.6v5.4h-7.6zM1326.7 1442.7h7.6v5.4h-7.6zM1334 1454.7h7.6v5.4h-7.6zM1377.2 1487h7.6v5.4h-7.6zM1384.4 1494h7.6v15.4h-7.6zM1406 1555.1h7.6v5.4h-7.6zM1413.2 1562.2h7.2v5.4h-7.2z"/><path fill="#ccff33" d="M1067.4 1174.2h7.6v5.4h-7.6zM1074.6 1231.3h7.6v5.4h-7.6zM1089 1210.4h7.6v5.4h-7.6zM1096.2 1207.4h7.6v5.4h-7.6zM1103.4 1239.4h7.6v5.4h-7.6zM1110.6 1246.5h7.6v5.4h-7.6zM1117.8 1248.5h7.6v10.4h-7.6zM1132.2 1222.6h7.6v35.4h-7.6zM1139.4 1309.6h7.6v110.4h-7.6zM1139.4 1579.6h7.6v5.4h-7.6zM1189.9 1293.9h7.6v5.4h-7.6zM1197.1 1306h7.6v5.4h-7.6zM1211.5 1330h7.6v5.4h-7.6zM1225.9 1314.1h7.6v20.4h-7.6zM1233.1 1321.2h7.6v10.4h-7.6zM1240.3 1353.2h7.6v5.4h-7.6zM1240.3 1388.2h7.6v5.4h-7.6zM1247.5 1360.2h7.6v5.4h-7.6zM1276.3 1408.4h7.6v5.4h-7.6zM1276.3 1423.4h7.6v5.4h-7.6zM1283.5 1395.4h7.6v5.4h-7.6zM1283.5 1430.4h7.6v5.4h-7.6zM1297.9 1419.5h7.6v5.4h-7.6zM1305.1 1411.6h7.6v5.4h-7.6zM1305.1 1431.6h7.6v5.4h-7.6zM1312.3 1423.6h7.6v5.4h-7.6zM1319.5 1430.6h7.6v5.4h-7.6zM1326.7 1447.7h7.6v5.4h-7.6zM1341.2 1451.8h7.6v5.4h-7.6zM1348.4 1458.8h7.6v5.4h-7.6zM1355.6 1470.8h7.6v10.4h-7.6zM1377.2 1492h7.6v5.4h-7.6zM1384.4 1489h7.6v5.4h-7.6zM1406 1530.1h7.6v5.4h-7.6zM1406 1560.1h7.6v5.4h-7.6zM1413.2 1537.2h7.2v5.4h-7.2zM1413.2 1567.2h7.2v5.4h-7.2z"/><path fill="#e5ff1a" d="M1067.4 1179.2h7.6v5.4h-7.6zM1074.6 1196.3h7.6v5.4h-7.6zM1081.8 1208.3h7.6v5.4h-7.6zM1103.4 1244.4h7.6v25.4h-7.6zM1110.6 1251.5h7.6v10.4h-7.6zM1117.8 1258.5h7.6v10.4h-7.6zM1132.2 1257.6h7.6v5.4h-7.6zM1139.4 1299.6h7.6v10.4h-7.6zM1139.4 1419.6h7.6v5.4h-7.6zM1197.1 1301h7.6v5.4h-7.6zM1211.5 1335h7.6v25.4h-7.6zM1261.9 1374.3h7.6v5.4h-7.6zM1276.3 1388.4h7.6v20.4h-7.6zM1276.3 1428.4h7.6v5.4h-7.6zM1290.7 1417.5h7.6v5.4h-7.6zM1297.9 1609.5h7.6v10.4h-7.6zM1355.6 1480.8h7.6v5.4h-7.6zM1377.2 1482h7.6v5.4h-7.6zM1377.2 1497h7.6v5.4h-7.6zM1384.4 1484h7.6v5.4h-7.6zM1384.4 1509h7.6v5.4h-7.6zM1406 1565.1h7.6v5.4h-7.6zM1406 1580.1h7.6v25.4h-7.6zM1413.2 1572.2h7.2v5.4h-7.2z"/><path fill="#ffff00" d="M1067.4 1184.2h7.6v10.4h-7.6zM1074.6 1236.3h7.6v10.4h-7.6zM1089 1215.4h7.6v15.4h-7.6zM1103.4 1269.4h7.6v5.4h-7.6zM1110.6 1261.5h7.6v20.4h-7.6zM1117.8 1268.5h7.6v15.4h-7.6zM1132.2 1262.6h7.6v5.4h-7.6zM1139.4 1424.6h7.6v10.4h-7.6zM1139.4 1504.6h7.6v75.4h-7.6zM1189.9 1278.9h7.6v15.4h-7.6zM1197.1 1286h7.6v15.4h-7.6zM1197.1 1311h7.6v5.4h-7.6zM1204.3 1333h7.6v25.4h-7.6zM1211.5 1360h7.6v5.4h-7.6zM1240.3 1358.2h7.6v30.4h-7.6zM1247.5 1365.2h7.6v10.4h-7.6zM1261.9 1379.3h7.6v30.4h-7.6zM1269.1 1381.4h7.6v20.4h-7.6zM1276.3 1383.4h7.6v5.4h-7.6zM1276.3 1433.4h7.6v5.4h-7.6zM1283.5 1385.4h7.6v10.4h-7.6zM1297.9 1424.5h7.6v75.4h-7.6zM1297.9 1599.5h7.6v10.4h-7.6zM1297.9 1619.5h7.6v5.4h-7.6zM1305.1 1436.6h7.6v5.4h-7.6zM1312.3 1428.6h7.6v5.4h-7.6zM1334 1459.7h7.6v5.4h-7.6zM1341.2 1456.8h7.6v10.4h-7.6zM1348.4 1463.8h7.6v40.4h-7.6zM1355.6 1485.8h7.6v15.4h-7.6zM1377.2 1477h7.6v5.4h-7.6zM1377.2 1502h7.6v5.4h-7.6zM1384.4 1514h7.6v5.4h-7.6zM1391.6 1501h7.6v10.4h-7.6zM1406 1570.1h7.6v10.4h-7.6zM1406 1605.1h7.6v10.4h-7.6zM1413.2 1577.2h7.2v10.4h-7.2z"/><path fill="#66ff99" d="M1074.6 1206.3h7.6v5.4h-7.6zM1074.6 1216.3h7.6v5.4h-7.6zM1081.8 1198.3h7.6v5.4h-7.6zM1089 1200.4h7.6v5.4h-7.6zM1110.6 1236.5h7.6v5.4h-7.6zM1117.8 1223.5h7.6v5.4h-7.6zM1139.4 1589.6h7.6v5.4h-7.6zM1218.7 1347.1h7.6v5.4h-7.6zM1218.7 1397.1h7.6v5.4h-7.6zM1225.9 1729.1h7.6v5.4h-7.6zM1233.1 1726.2h7.6v5.4h-7.6zM1240.3 1338.2h7.6v5.4h-7.6zM1240.3 1398.2h7.6v5.4h-7.6zM1254.7 1347.3h7.6v5.4h-7.6zM1261.9 1359.3h7.6v5.4h-7.6zM1283.5 1405.4h7.6v5.4h-7.6zM1305.1 1421.6h7.6v5.4h-7.6zM1312.3 1413.6h7.6v5.4h-7.6zM1319.5 1420.6h7.6v5.4h-7.6zM1326.7 1437.7h7.6v5.4h-7.6zM1341.2 1441.8h7.6v5.4h-7.6zM1348.4 1448.8h7.6v5.4h-7.6zM1355.6 1455.8h7.6v5.4h-7.6z"/><path fill="#33ffcc" d="M1074.6 1211.3h7.6v5.4h-7.6zM1089 1195.4h7.6v5.4h-7.6zM1103.4 1214.4h7.6v5.4h-7.6zM1110.6 1231.5h7.6v5.4h-7.6zM1117.8 1213.5h7.6v5.4h-7.6zM1139.4 1289.6h7.6v5.4h-7.6zM1139.4 1594.6h7.6v5.4h-7.6zM1218.7 1387.1h7.6v5.4h-7.6zM1218.7 1437.1h7.6v5.4h-7.6zM1225.9 1349.1h7.6v5.4h-7.6zM1225.9 1719.1h7.6v5.4h-7.6zM1233.1 1346.2h7.6v5.4h-7.6zM1233.1 1716.2h7.6v5.4h-7.6zM1240.3 1403.2h7.6v5.4h-7.6zM1283.5 1410.4h7.6v5.4h-7.6zM1290.7 1402.5h7.6v5.4h-7.6zM1312.3 1408.6h7.6v5.4h-7.6zM1319.5 1415.6h7.6v5.4h-7.6zM1334 1444.7h7.6v5.4h-7.6zM1341.2 1436.8h7.6v5.4h-7.6zM1348.4 1443.8h7.6v5.4h-7.6zM1355.6 1440.8h7.6v10.4h-7.6zM1406 1540.1h7.6v5.4h-7.6zM1413.2 1547.2h7.2v5.4h-7.2z"/><path fill="#0080ff" d="M1081.8 1173.3h7.6v10.4h-7.6zM1110.6 1201.5h7.6v10.4h-7.6zM1139.4 1229.6h7.6v15.4h-7.6zM1168.3 1567.8h7.6v158.3h-7.6zM1175.5 1264.8h7.6v10.4h-7.6zM1175.5 1599.8h7.6v133.3h-7.6zM1182.7 1271.9h7.6v5.4h-7.6zM1182.7 1606.9h7.6v133.3h-7.6zM1189.9 1598.9h7.6v148.3h-7.6zM1233.1 1446.2h7.6v20.4h-7.6zM1233.1 1641.2h7.6v20.4h-7.6zM1240.3 1438.2h7.6v358.3h-7.6zM1290.7 1377.5h7.6v10.4h-7.6zM1297.9 1384.5h7.6v10.4h-7.6zM1326.7 1412.7h7.6v10.4h-7.6zM1334 1419.7h7.6v10.4h-7.6z"/><path fill="#0099ff" d="M1081.8 1183.3h7.6v5.4h-7.6zM1110.6 1211.5h7.6v10.4h-7.6zM1146.7 1241.7h7.6v5.4h-7.6zM1146.7 1301.7h7.6v5.4h-7.6zM1153.9 1303.7h7.6v5.4h-7.6zM1161.1 1310.8h7.6v5.4h-7.6zM1189.9 1408.9h7.6v5.4h-7.6zM1225.9 1414.1h7.6v5.4h-7.6zM1233.1 1441.2h7.6v5.4h-7.6zM1233.1 1661.2h7.6v5.4h-7.6zM1240.3 1433.2h7.6v5.4h-7.6zM1290.7 1387.5h7.6v5.4h-7.6zM1297.9 1394.5h7.6v5.4h-7.6zM1326.7 1422.7h7.6v5.4h-7.6zM1334 1429.7h7.6v10.4h-7.6z"/><path fill="#00ccff" d="M1081.8 1188.3h7.6v5.4h-7.6zM1153.9 1308.7h7.6v5.4h-7.6zM1189.9 1403.9h7.6v5.4h-7.6zM1218.7 1442.1h7.6v5.4h-7.6zM1225.9 1409.1h7.6v5.4h-7.6zM1233.1 1431.2h7.6v5.4h-7.6zM1233.1 1666.2h7.6v5.4h-7.6zM1240.3 1423.2h7.6v5.4h-7.6zM1290.7 1392.5h7.6v5.4h-7.6zM1326.7 1427.7h7.6v5.4h-7.6z"/><path fill="#1affe5" d="M1081.8 1193.3h7.6v5.4h-7.6zM1096.2 1187.4h7.6v10.4h-7.6zM1103.4 1209.4h7.6v5.4h-7.6zM1146.7 1346.7h7.6v35.4h-7.6zM1153.9 1398.7h7.6v45.4h-7.6zM1161.1 1480.8h7.6v25.4h-7.6zM1189.9 1308.9h7.6v5.4h-7.6zM1218.7 1317.1h7.6v5.4h-7.6zM1218.7 1357.1h7.6v30.4h-7.6zM1225.9 1714.1h7.6v5.4h-7.6zM1233.1 1351.2h7.6v70.4h-7.6zM1233.1 1681.2h7.6v35.4h-7.6zM1247.5 1345.2h7.6v5.4h-7.6zM1283.5 1415.4h7.6v5.4h-7.6zM1326.7 1432.7h7.6v5.4h-7.6z"/><path fill="#00e5ff" d="M1089 1180.4h7.6v10.4h-7.6zM1103.4 1194.4h7.6v10.4h-7.6zM1146.7 1311.7h7.6v5.4h-7.6zM1146.7 1626.7h7.6v78.3h-7.6zM1153.9 1473.7h7.6v50.4h-7.6zM1161.1 1315.8h7.6v5.4h-7.6zM1189.9 1313.9h7.6v60.4h-7.6zM1218.7 1307.1h7.6v10.4h-7.6zM1233.1 1426.2h7.6v5.4h-7.6zM1233.1 1671.2h7.6v5.4h-7.6zM1240.3 1418.2h7.6v5.4h-7.6zM1247.5 1335.2h7.6v10.4h-7.6zM1254.7 1342.3h7.6v5.4h-7.6zM1290.7 1397.5h7.6v5.4h-7.6zM1334 1439.7h7.6v5.4h-7.6z"/><path fill="#00ffff" d="M1089 1190.4h7.6v5.4h-7.6zM1103.4 1204.4h7.6v5.4h-7.6zM1110.6 1226.5h7.6v5.4h-7.6zM1117.8 1208.5h7.6v5.4h-7.6zM1139.4 1599.6h7.6v98.3h-7.6zM1146.7 1236.7h7.6v5.4h-7.6zM1146.7 1316.7h7.6v30.4h-7.6zM1146.7 1381.7h7.6v245.4h-7.6zM1153.9 1313.7h7.6v85.4h-7.6zM1153.9 1443.7h7.6v30.4h-7.6zM1153.9 1523.7h7.6v188.3h-7.6zM1161.1 1320.8h7.6v160.4h-7.6zM1161.1 1505.8h7.6v213.3h-7.6zM1189.9 1373.9h7.6v30.4h-7.6zM1225.9 1354.1h7.6v55.4h-7.6zM1225.9 1679.1h7.6v35.4h-7.6zM1233.1 1421.2h7.6v5.4h-7.6zM1233.1 1676.2h7.6v5.4h-7.6zM1240.3 1408.2h7.6v10.4h-7.6zM1297.9 1404.5h7.6v5.4h-7.6zM1312.3 1398.6h7.6v10.4h-7.6zM1319.5 1405.6h7.6v10.4h-7.6zM1341.2 1426.8h7.6v10.4h-7.6zM1348.4 1433.8h7.6v10.4h-7.6z"/><path fill="#99ff66" d="M1089 1205.4h7.6v5.4h-7.6zM1103.4 1229.4h7.6v5.4h-7.6zM1110.6 1241.5h7.6v5.4h-7.6zM1117.8 1228.5h7.6v5.4h-7.6zM1139.4 1584.6h7.6v5.4h-7.6zM1189.9 1298.9h7.6v5.4h-7.6zM1211.5 1315h7.6v10.4h-7.6zM1218.7 1342.1h7.6v5.4h-7.6zM1218.7 1407.1h7.6v30.4h-7.6zM1225.9 1334.1h7.6v5.4h-7.6zM1233.1 1331.2h7.6v5.4h-7.6zM1240.3 1343.2h7.6v5.4h-7.6zM1240.3 1393.2h7.6v5.4h-7.6zM1247.5 1355.2h7.6v5.4h-7.6zM1261.9 1364.3h7.6v5.4h-7.6zM1283.5 1400.4h7.6v5.4h-7.6zM1297.9 1414.5h7.6v5.4h-7.6zM1305.1 1426.6h7.6v5.4h-7.6zM1312.3 1418.6h7.6v5.4h-7.6zM1319.5 1425.6h7.6v5.4h-7.6zM1341.2 1446.8h7.6v5.4h-7.6zM1348.4 1453.8h7.6v5.4h-7.6zM1355.6 1465.8h7.6v5.4h-7.6z"/><path fill="#4dffb2" d="M1096.2 1197.4h7.6v5.4h-7.6zM1103.4 1219.4h7.6v5.4h-7.6zM1117.8 1218.5h7.6v5.4h-7.6zM1189.9 1303.9h7.6v5.4h-7.6zM1218.7 1322.1h7.6v5.4h-7.6zM1218.7 1352.1h7.6v5.4h-7.6zM1218.7 1392.1h7.6v5.4h-7.6zM1225.9 1344.1h7.6v5.4h-7.6zM1225.9 1724.1h7.6v5.4h-7.6zM1233.1 1341.2h7.6v5.4h-7.6zM1233.1 1721.2h7.6v5.4h-7.6zM1240.3 1328.2h7.6v10.4h-7.6zM1247.5 1350.2h7.6v5.4h-7.6zM1261.9 1349.3h7.6v10.4h-7.6zM1283.5 1420.4h7.6v5.4h-7.6zM1297.9 1409.5h7.6v5.4h-7.6zM1355.6 1450.8h7.6v5.4h-7.6zM1406 1545.1h7.6v5.4h-7.6zM1413.2 1552.2h7.2v5.4h-7.2z"/><path fill="#00b2ff" d="M1110.6 1221.5h7.6v5.4h-7.6zM1139.4 1284.6h7.6v5.4h-7.6zM1146.7 1306.7h7.6v5.4h-7.6zM1225.9 1674.1h7.6v5.4h-7.6zM1233.1 1436.2h7.6v5.4h-7.6zM1240.3 1428.2h7.6v5.4h-7.6zM1297.9 1399.5h7.6v5.4h-7.6z"/><path fill="#0066ff" d="M1139.4 1244.6h7.6v5.4h-7.6zM1146.7 1246.7h7.6v5.4h-7.6zM1146.7 1296.7h7.6v5.4h-7.6zM1161.1 1305.8h7.6v5.4h-7.6zM1168.3 1562.8h7.6v5.4h-7.6zM1175.5 1594.8h7.6v5.4h-7.6zM1182.7 1276.9h7.6v5.4h-7.6zM1182.7 1601.9h7.6v5.4h-7.6zM1189.9 1413.9h7.6v5.4h-7.6zM1189.9 1593.9h7.6v5.4h-7.6zM1218.7 1447.1h7.6v5.4h-7.6zM1225.9 1419.1h7.6v5.4h-7.6zM1225.9 1669.1h7.6v5.4h-7.6zM1233.1 1466.2h7.6v5.4h-7.6z"/><path fill="#004dff" d="M1139.4 1249.6h7.6v5.4h-7.6zM1139.4 1279.6h7.6v5.4h-7.6zM1153.9 1298.7h7.6v5.4h-7.6zM1168.3 1557.8h7.6v5.4h-7.6zM1175.5 1274.8h7.6v5.4h-7.6zM1175.5 1589.8h7.6v5.4h-7.6zM1182.7 1281.9h7.6v5.4h-7.6zM1182.7 1596.9h7.6v5.4h-7.6zM1189.9 1588.9h7.6v5.4h-7.6zM1233.1 1471.2h7.6v5.4h-7.6zM1233.1 1636.2h7.6v5.4h-7.6z"/><path fill="#0033ff" d="M1139.4 1254.6h7.6v5.4h-7.6zM1168.3 1552.8h7.6v5.4h-7.6zM1175.5 1584.8h7.6v5.4h-7.6zM1182.7 1286.9h7.6v5.4h-7.6zM1182.7 1591.9h7.6v5.4h-7.6zM1189.9 1418.9h7.6v5.4h-7.6zM1189.9 1583.9h7.6v5.4h-7.6zM1225.9 1424.1h7.6v5.4h-7.6zM1233.1 1476.2h7.6v5.4h-7.6z"/><path fill="#001aff" d="M1139.4 1259.6h7.6v5.4h-7.6zM1146.7 1251.7h7.6v5.4h-7.6zM1146.7 1291.7h7.6v5.4h-7.6zM1161.1 1300.8h7.6v5.4h-7.6zM1168.3 1547.8h7.6v5.4h-7.6zM1175.5 1279.8h7.6v5.4h-7.6zM1175.5 1579.8h7.6v5.4h-7.6zM1182.7 1291.9h7.6v5.4h-7.6zM1182.7 1586.9h7.6v5.4h-7.6zM1189.9 1578.9h7.6v5.4h-7.6zM1225.9 1664.1h7.6v5.4h-7.6zM1233.1 1481.2h7.6v5.4h-7.6zM1233.1 1631.2h7.6v5.4h-7.6z"/><path fill="#0000ff" d="M1139.4 1264.6h7.6v15.4h-7.6zM1153.9 1293.7h7.6v5.4h-7.6zM1168.3 1377.8h7.6v170.4h-7.6zM1175.5 1474.8h7.6v105.4h-7.6zM1182.7 1296.9h7.6v60.4h-7.6zM1182.7 1481.9h7.6v105.4h-7.6zM1189.9 1423.9h7.6v155.4h-7.6zM1225.9 1429.1h7.6v25.4h-7.6zM1233.1 1486.2h7.6v5.4h-7.6z"/><path fill="#0000cc" d="M1146.7 1256.7h7.6v5.4h-7.6zM1161.1 1295.8h7.6v5.4h-7.6zM1168.3 1367.8h7.6v5.4h-7.6zM1175.5 1464.8h7.6v5.4h-7.6zM1182.7 1361.9h7.6v5.4h-7.6zM1182.7 1471.9h7.6v5.4h-7.6zM1225.9 1459.1h7.6v5.4h-7.6zM1225.9 1659.1h7.6v5.4h-7.6zM1233.1 1496.2h7.6v5.4h-7.6z"/><path fill="#000080" d="M1146.7 1261.7h7.6v20.4h-7.6zM1153.9 1243.7h7.6v40.4h-7.6zM1161.1 1250.8h7.6v35.4h-7.6zM1168.3 1257.8h7.6v100.4h-7.6zM1175.5 1294.8h7.6v160.4h-7.6zM1182.7 1376.9h7.6v85.4h-7.6zM1218.7 1457.1h7.6v318.3h-7.6zM1225.9 1474.1h7.6v185.4h-7.6zM1233.1 1511.2h7.6v110.4h-7.6z"/><path fill="#0000b2" d="M1146.7 1281.7h7.6v5.4h-7.6zM1153.9 1288.7h7.6v5.4h-7.6zM1161.1 1290.8h7.6v5.4h-7.6zM1168.3 1362.8h7.6v5.4h-7.6zM1175.5 1289.8h7.6v5.4h-7.6zM1175.5 1459.8h7.6v5.4h-7.6zM1182.7 1366.9h7.6v5.4h-7.6zM1182.7 1466.9h7.6v5.4h-7.6zM1225.9 1464.1h7.6v5.4h-7.6zM1233.1 1501.2h7.6v5.4h-7.6zM1233.1 1621.2h7.6v5.4h-7.6z"/><path fill="#0000e6" d="M1146.7 1286.7h7.6v5.4h-7.6zM1168.3 1372.8h7.6v5.4h-7.6zM1175.5 1284.8h7.6v5.4h-7.6zM1175.5 1469.8h7.6v5.4h-7.6zM1182.7 1356.9h7.6v5.4h-7.6zM1182.7 1476.9h7.6v5.4h-7.6zM1218.7 1452.1h7.6v5.4h-7.6zM1225.9 1454.1h7.6v5.4h-7.6zM1233.1 1491.2h7.6v5.4h-7.6zM1233.1 1626.2h7.6v5.4h-7.6z"/><path fill="#000099" d="M1153.9 1283.7h7.6v5.4h-7.6zM1161.1 1285.8h7.6v5.4h-7.6zM1168.3 1357.8h7.6v5.4h-7.6zM1175.5 1454.8h7.6v5.4h-7.6zM1182.7 1371.9h7.6v5.4h-7.6zM1182.7 1461.9h7.6v5.4h-7.6zM1225.9 1469.1h7.6v5.4h-7.6zM1233.1 1506.2h7.6v5.4h-7.6z"/>
<path fill="#1affe5" d="M1452.8 1122.9h7.6v5.4h-7.6zM1474.4 1152h7.6v5.4h-7.6zM1481.6 1149h7.6v5.4h-7.6zM1495.9 1183.1h7.6v5.4h-7.6zM1503.1 1170.1h7.6v5.4h-7.6zM1517.5 1234.2h7.6v5.4h-7.6zM1524.7 1471.3h7.6v55.4h-7.6zM1524.7 1601.3h7.6v30.4h-7.6zM1531.9 1428.3h7.6v20.4h-7.6zM1531.9 1543.3h7.6v30.4h-7.6zM1539.1 1210.3h7.6v5.4h-7.6zM1539.1 1360.3h7.6v5.4h-7.6zM1546.2 1207.4h7.6v5.4h-7.6zM1546.2 1412.4h7.6v15.4h-7.6zM1546.2 1482.4h7.6v40.4h-7.6zM1546.2 1637.4h7.6v41h-7.6zM1560.6 1221.5h7.6v10.4h-7.6zM1610.9 1600.7h7.6v60.4h-7.6zM1704.4 1377.3h7.6v5.4h-7.6zM1718.8 1376.3h7.6v10.4h-7.6zM1769.1 1440.6h7.6v5.4h-7.6z"/><path fill="#66ff99" d="M1452.8 1127.9h7.6v5.4h-7.6zM1481.6 1164h7.6v5.4h-7.6zM1488.7 1191.1h7.6v5.4h-7.6zM1503.1 1185.1h7.6v5.4h-7.6zM1517.5 1249.2h7.6v5.4h-7.6zM1517.5 1404.2h7.6v40.4h-7.6zM1517.5 1559.2h7.6v60.4h-7.6zM1610.9 1590.7h7.6v5.4h-7.6zM1625.3 1284.8h7.6v10.4h-7.6zM1761.9 1458.6h7.6v5.4h-7.6zM1769.1 1445.6h7.6v5.4h-7.6zM1805 1470.8h7.6v5.4h-7.6zM1812.2 1482.9h7.2v5.4h-7.2z"/><path fill="#80ff80" d="M1452.8 1132.9h7.6v5.4h-7.6zM1481.6 1169h7.6v10.4h-7.6zM1503.1 1190.1h7.6v5.4h-7.6zM1510.3 1212.2h7.6v5.4h-7.6zM1517.5 1254.2h7.6v150.4h-7.6zM1517.5 1444.2h7.6v115.4h-7.6zM1517.5 1619.2h7.6v31h-7.6zM1539.1 1365.3h7.6v5.4h-7.6zM1553.4 1244.4h7.6v5.4h-7.6zM1560.6 1236.5h7.6v5.4h-7.6zM1610.9 1585.7h7.6v5.4h-7.6zM1625.3 1294.8h7.6v5.4h-7.6zM1632.5 1291.9h7.6v5.4h-7.6zM1697.2 1380.2h7.6v5.4h-7.6zM1711.6 1384.3h7.6v15.4h-7.6zM1718.8 1391.3h7.6v5.4h-7.6zM1754.7 1441.5h7.6v5.4h-7.6zM1805 1475.8h7.6v5.4h-7.6zM1812.2 1487.9h7.2v5.4h-7.2z"/><path fill="#e5ff1a" d="M1452.8 1137.9h7.6v5.4h-7.6zM1467.2 1134.9h7.6v10.4h-7.6zM1474.4 1177h7.6v5.4h-7.6zM1481.6 1279h7.6v115.4h-7.6zM1488.7 1201.1h7.6v5.4h-7.6zM1495.9 1193.1h7.6v5.4h-7.6zM1510.3 1222.2h7.6v80.4h-7.6zM1510.3 1372.2h7.6v85.4h-7.6zM1510.3 1507.2h7.6v45.4h-7.6zM1510.3 1617.2h7.6v26h-7.6zM1539.1 1385.3h7.6v5.4h-7.6zM1567.8 1238.5h7.6v10.4h-7.6zM1603.8 1283.7h7.6v15.4h-7.6zM1610.9 1295.7h7.6v10.4h-7.6zM1610.9 1460.7h7.6v10.4h-7.6zM1610.9 1500.7h7.6v20.4h-7.6zM1632.5 1311.9h7.6v5.4h-7.6zM1682.8 1361.1h7.6v10.4h-7.6zM1690 1363.2h7.6v5.4h-7.6zM1704.4 1392.3h7.6v5.4h-7.6zM1718.8 1401.3h7.6v5.4h-7.6zM1726 1393.4h7.6v10.4h-7.6zM1754.7 1461.5h7.6v25.4h-7.6zM1790.6 1446.7h7.6v10.4h-7.6zM1805 1495.8h7.6v5.4h-7.6zM1812.2 1502.9h7.2v5.4h-7.2z"/><path fill="#ffb300" d="M1452.8 1142.9h7.6v5.4h-7.6zM1467.2 1199.9h7.6v5.4h-7.6zM1474.4 1192h7.6v10.4h-7.6zM1481.6 1189h7.6v5.4h-7.6zM1481.6 1269h7.6v5.4h-7.6zM1481.6 1414h7.6v65.4h-7.6zM1488.7 1211.1h7.6v5.4h-7.6zM1495.9 1578.1h7.6v51h-7.6zM1539.1 1530.3h7.6v65.4h-7.6zM1539.1 1670.3h7.6v1h-7.6zM1553.4 1264.4h7.6v5.4h-7.6zM1560.6 1326.5h7.6v15.4h-7.6zM1567.8 1313.5h7.6v5.4h-7.6zM1567.8 1378.5h7.6v10.4h-7.6zM1575 1245.5h7.6v5.4h-7.6zM1575 1300.5h7.6v5.4h-7.6zM1582.2 1307.6h7.6v20.4h-7.6zM1589.4 1269.6h7.6v5.4h-7.6zM1618.1 1337.8h7.6v5.4h-7.6zM1625.3 1339.8h7.6v5.4h-7.6zM1625.3 1369.8h7.6v85.4h-7.6zM1625.3 1479.8h7.6v35.4h-7.6zM1625.3 1539.8h7.6v30.4h-7.6zM1625.3 1684.8h7.6v71h-7.6zM1632.5 1331.9h7.6v5.4h-7.6zM1654.1 1323h7.6v5.4h-7.6zM1654.1 1353h7.6v10.4h-7.6zM1661.3 1335h7.6v5.4h-7.6zM1661.3 1360h7.6v10.4h-7.6zM1690 1383.2h7.6v5.4h-7.6zM1697.2 1395.2h7.6v5.4h-7.6zM1704.4 1402.3h7.6v5.4h-7.6zM1711.6 1369.3h7.6v5.4h-7.6zM1711.6 1699.3h7.6v25.4h-7.6zM1718.8 1416.3h7.6v5.4h-7.6zM1726 1418.4h7.6v5.4h-7.6zM1754.7 1506.5h7.6v10.4h-7.6zM1761.9 1538.6h7.6v85.4h-7.6zM1761.9 1738.6h7.6v90.4h-7.6zM1761.9 1853.6h7.6v36h-7.6zM1790.6 1471.7h7.6v10.4h-7.6zM1797.8 1473.8h7.6v10.4h-7.6zM1797.8 1503.8h7.6v15.4h-7.6zM1805 1520.8h7.6v45.4h-7.6zM1812.2 1527.9h7.2v35.4h-7.2zM1812.2 1627.9h7.2v30.4h-7.2z"/><path fill="#ff4c00" d="M1452.8 1147.9h7.6v5.4h-7.6zM1460 1137.9h7.6v5.4h-7.6zM1467.2 1234.9h7.6v5.4h-7.6zM1474.4 1212h7.6v5.4h-7.6zM1481.6 1259h7.6v5.4h-7.6zM1488.7 1221.1h7.6v5.4h-7.6zM1495.9 1213.1h7.6v5.4h-7.6zM1495.9 1563.1h7.6v5.4h-7.6zM1503.1 1210.1h7.6v5.4h-7.6zM1553.4 1279.4h7.6v5.4h-7.6zM1560.6 1406.5h7.6v5.4h-7.6zM1567.8 1398.5h7.6v5.4h-7.6zM1575 1320.5h7.6v5.4h-7.6zM1582.2 1342.6h7.6v5.4h-7.6zM1582.2 1352.6h7.6v5.4h-7.6zM1582.2 1397.6h7.6v5.4h-7.6zM1582.2 1472.6h7.6v40.4h-7.6zM1589.4 1279.6h7.6v5.4h-7.6zM1603.8 1338.7h7.6v5.4h-7.6zM1618.1 1362.8h7.6v5.4h-7.6zM1632.5 1361.9h7.6v5.4h-7.6zM1654.1 1383h7.6v5.4h-7.6zM1661.3 1390h7.6v5.4h-7.6zM1668.4 1337.1h7.6v5.4h-7.6zM1668.4 1357.1h7.6v5.4h-7.6zM1675.6 1339.1h7.6v10.4h-7.6zM1675.6 1374.1h7.6v45.4h-7.6zM1675.6 1554.1h7.6v90.4h-7.6zM1682.8 1401.1h7.6v5.4h-7.6zM1682.8 1516.1h7.6v5.4h-7.6zM1682.8 1576.1h7.6v5.4h-7.6zM1690 1618.2h7.6v55.4h-7.6zM1690 1753.2h7.6v66h-7.6zM1697.2 1410.2h7.6v5.4h-7.6zM1704.4 1417.3h7.6v5.4h-7.6zM1711.6 1419.3h7.6v5.4h-7.6zM1711.6 1539.3h7.6v105.4h-7.6zM1711.6 1669.3h7.6v5.4h-7.6zM1711.6 1739.3h7.6v5.4h-7.6zM1711.6 1809.3h7.6v31h-7.6zM1718.8 1431.3h7.6v5.4h-7.6zM1726 1428.4h7.6v5.4h-7.6zM1754.7 1526.5h7.6v5.4h-7.6zM1790.6 1521.7h7.6v5.4h-7.6zM1797.8 1523.8h7.6v5.4h-7.6zM1805 1580.8h7.6v5.4h-7.6zM1805 1605.8h7.6v5.4h-7.6zM1805 1660.8h7.6v5.4h-7.6zM1812.2 1582.9h7.2v5.4h-7.2zM1812.2 1612.9h7.2v5.4h-7.2z"/><path fill="#ff1a00" d="M1452.8 1152.9h7.6v5.4h-7.6zM1452.8 1472.9h7.6v25.4h-7.6zM1460 1147.9h7.6v320.4h-7.6zM1460 1502.9h7.6v75.4h-7.6zM1467.2 1244.9h7.6v5.4h-7.6zM1474.4 1222h7.6v70.4h-7.6zM1474.4 1352h7.6v75.4h-7.6zM1481.6 1199h7.6v60.4h-7.6zM1488.7 1231.1h7.6v10.4h-7.6zM1488.7 1311.1h7.6v45.4h-7.6zM1488.7 1431.1h7.6v115.4h-7.6zM1488.7 1611.1h7.6v11h-7.6zM1495.9 1223.1h7.6v15.4h-7.6zM1495.9 1308.1h7.6v65.4h-7.6zM1495.9 1548.1h7.6v10.4h-7.6zM1503.1 1315.1h7.6v65.4h-7.6zM1503.1 1435.1h7.6v105.4h-7.6zM1553.4 1284.4h7.6v40.4h-7.6zM1553.4 1419.4h7.6v266h-7.6zM1560.6 1436.5h7.6v75.4h-7.6zM1560.6 1666.5h7.6v26h-7.6zM1567.8 1408.5h7.6v50.4h-7.6zM1567.8 1493.5h7.6v140.4h-7.6zM1567.8 1663.5h7.6v36h-7.6zM1575 1325.5h7.6v5.4h-7.6zM1575 1485.5h7.6v80.4h-7.6zM1575 1630.5h7.6v65.4h-7.6zM1589.4 1284.6h7.6v120.4h-7.6zM1589.4 1444.6h7.6v140.4h-7.6zM1618.1 1372.8h7.6v5.4h-7.6zM1632.5 1371.9h7.6v5.4h-7.6zM1632.5 1706.9h7.6v56h-7.6zM1639.7 1398.9h7.6v60.4h-7.6zM1639.7 1578.9h7.6v60.4h-7.6zM1639.7 1688.9h7.6v81h-7.6zM1654.1 1468h7.6v180.4h-7.6zM1661.3 1395h7.6v5.4h-7.6zM1668.4 1327.1h7.6v5.4h-7.6zM1668.4 1362.1h7.6v5.4h-7.6zM1668.4 1502.1h7.6v20.4h-7.6zM1668.4 1682.1h7.6v85.4h-7.6zM1675.6 1334.1h7.6v5.4h-7.6zM1675.6 1764.1h7.6v41h-7.6zM1682.8 1791.1h7.6v21h-7.6zM1697.2 1420.2h7.6v5.4h-7.6zM1697.2 1695.2h7.6v45.4h-7.6zM1704.4 1427.3h7.6v5.4h-7.6zM1718.8 1441.3h7.6v5.4h-7.6zM1726 1438.4h7.6v5.4h-7.6zM1733.1 1475.4h7.6v65.4h-7.6zM1733.1 1680.4h7.6v100.4h-7.6zM1747.5 1404.5h7.6v20.4h-7.6zM1747.5 1559.5h7.6v65.4h-7.6zM1747.5 1754.5h7.6v121h-7.6zM1754.7 1536.5h7.6v215.4h-7.6zM1754.7 1806.5h7.6v76h-7.6zM1769.1 1645.6h7.6v80.4h-7.6zM1769.1 1730.6h7.6v80.4h-7.6zM1769.1 1885.6h7.6v11h-7.6zM1776.3 1527.7h7.6v55.4h-7.6zM1776.3 1707.7h7.6v60.4h-7.6zM1783.5 1484.7h7.6v35.4h-7.6zM1790.6 1526.7h7.6v5.4h-7.6zM1790.6 1591.7h7.6v30.4h-7.6zM1790.6 1636.7h7.6v30.4h-7.6zM1790.6 1781.7h7.6v136h-7.6zM1805 1595.8h7.6v5.4h-7.6zM1805 1680.8h7.6v135.4h-7.6zM1805 1830.8h7.6v90.4h-7.6zM1812.2 1592.9h7.2v15.4h-7.2zM1812.2 1677.9h7.2v125.4h-7.2zM1812.2 1907.9h7.2v24h-7.2z"/><path fill="#e50000" d="M1452.8 1157.9h7.6v220.4h-7.6zM1452.8 1527.9h7.6v35.4h-7.6zM1467.2 1249.9h7.6v15.4h-7.6zM1467.2 1399.9h7.6v70.4h-7.6zM1467.2 1529.9h7.6v35.4h-7.6zM1503.1 1580.1h7.6v30.4h-7.6zM1596.6 1281.7h7.6v10.4h-7.6zM1596.6 1471.7h7.6v45.4h-7.6zM1596.6 1616.7h7.6v20.4h-7.6zM1618.1 1512.8h7.6v15.4h-7.6zM1632.5 1576.9h7.6v85.4h-7.6zM1639.7 1323.9h7.6v10.4h-7.6zM1646.9 1335.9h7.6v70.4h-7.6zM1646.9 1450.9h7.6v190.4h-7.6zM1661.3 1670h7.6v30.4h-7.6zM1697.2 1425.2h7.6v75.4h-7.6zM1697.2 1585.2h7.6v30.4h-7.6zM1704.4 1587.3h7.6v120.4h-7.6zM1704.4 1742.3h7.6v65.4h-7.6zM1718.8 1551.3h7.6v85.4h-7.6zM1718.8 1711.3h7.6v65.4h-7.6zM1726 1443.4h7.6v30.4h-7.6zM1726 1528.4h7.6v25.4h-7.6zM1726 1658.4h7.6v196h-7.6zM1740.3 1412.5h7.6v15.4h-7.6zM1740.3 1552.5h7.6v140.4h-7.6zM1740.3 1767.5h7.6v80.4h-7.6zM1797.8 1543.8h7.6v45.4h-7.6zM1797.8 1863.8h7.6v35.4h-7.6z"/><path fill="#ff0000" d="M1452.8 1377.9h7.6v95.4h-7.6zM1452.8 1497.9h7.6v30.4h-7.6zM1452.8 1562.9h7.6v24h-7.6zM1460 1467.9h7.6v35.4h-7.6zM1460 1577.9h7.6v16h-7.6zM1467.2 1264.9h7.6v135.4h-7.6zM1467.2 1469.9h7.6v60.4h-7.6zM1467.2 1564.9h7.6v36h-7.6zM1488.7 1241.1h7.6v70.4h-7.6zM1488.7 1356.1h7.6v75.4h-7.6zM1488.7 1546.1h7.6v65.4h-7.6zM1495.9 1238.1h7.6v70.4h-7.6zM1495.9 1373.1h7.6v175.4h-7.6zM1503.1 1215.1h7.6v100.4h-7.6zM1503.1 1380.1h7.6v55.4h-7.6zM1503.1 1540.1h7.6v40.4h-7.6zM1503.1 1610.1h7.6v26h-7.6zM1553.4 1324.4h7.6v95.4h-7.6zM1567.8 1458.5h7.6v35.4h-7.6zM1567.8 1633.5h7.6v30.4h-7.6zM1575 1330.5h7.6v155.4h-7.6zM1575 1565.5h7.6v65.4h-7.6zM1575 1695.5h7.6v11h-7.6zM1589.4 1404.6h7.6v40.4h-7.6zM1589.4 1584.6h7.6v136h-7.6zM1596.6 1291.7h7.6v180.4h-7.6zM1596.6 1516.7h7.6v100.4h-7.6zM1596.6 1636.7h7.6v91h-7.6zM1603.8 1348.7h7.6v386h-7.6zM1618.1 1377.8h7.6v135.4h-7.6zM1618.1 1527.8h7.6v221h-7.6zM1632.5 1376.9h7.6v200.4h-7.6zM1632.5 1661.9h7.6v45.4h-7.6zM1639.7 1333.9h7.6v65.4h-7.6zM1639.7 1458.9h7.6v120.4h-7.6zM1639.7 1638.9h7.6v50.4h-7.6zM1646.9 1405.9h7.6v45.4h-7.6zM1646.9 1640.9h7.6v136h-7.6zM1661.3 1400h7.6v270.4h-7.6zM1661.3 1700h7.6v91h-7.6zM1668.4 1367.1h7.6v135.4h-7.6zM1668.4 1522.1h7.6v160.4h-7.6zM1668.4 1767.1h7.6v31h-7.6zM1682.8 1436.1h7.6v75.4h-7.6zM1682.8 1586.1h7.6v205.4h-7.6zM1697.2 1500.2h7.6v85.4h-7.6zM1697.2 1615.2h7.6v80.4h-7.6zM1697.2 1740.2h7.6v86h-7.6zM1704.4 1432.3h7.6v155.4h-7.6zM1704.4 1707.3h7.6v35.4h-7.6zM1704.4 1807.3h7.6v26h-7.6zM1718.8 1446.3h7.6v105.4h-7.6zM1718.8 1636.3h7.6v75.4h-7.6zM1718.8 1776.3h7.6v71h-7.6zM1726 1473.4h7.6v55.4h-7.6zM1733.1 1390.4h7.6v45.4h-7.6zM1733.1 1470.4h7.6v5.4h-7.6zM1733.1 1540.4h7.6v140.4h-7.6zM1733.1 1780.4h7.6v81h-7.6zM1740.3 1397.5h7.6v15.4h-7.6zM1747.5 1424.5h7.6v135.4h-7.6zM1747.5 1624.5h7.6v130.4h-7.6zM1754.7 1751.5h7.6v55.4h-7.6zM1769.1 1475.6h7.6v170.4h-7.6zM1769.1 1725.6h7.6v5.4h-7.6zM1769.1 1810.6h7.6v75.4h-7.6zM1776.3 1462.7h7.6v65.4h-7.6zM1776.3 1582.7h7.6v125.4h-7.6zM1776.3 1767.7h7.6v136h-7.6zM1783.5 1439.7h7.6v10.4h-7.6zM1783.5 1479.7h7.6v5.4h-7.6zM1783.5 1519.7h7.6v391h-7.6zM1790.6 1531.7h7.6v60.4h-7.6zM1790.6 1666.7h7.6v115.4h-7.6zM1797.8 1533.8h7.6v5.4h-7.6zM1805 1670.8h7.6v10.4h-7.6zM1805 1815.8h7.6v15.4h-7.6z"/><path fill="#ff9900" d="M1460 1122.9h7.6v5.4h-7.6zM1467.2 1204.9h7.6v25.4h-7.6zM1481.6 1479h7.6v10.4h-7.6zM1495.9 1203.1h7.6v5.4h-7.6zM1495.9 1573.1h7.6v5.4h-7.6zM1503.1 1205.1h7.6v5.4h-7.6zM1560.6 1341.5h7.6v55.4h-7.6zM1567.8 1318.5h7.6v60.4h-7.6zM1567.8 1388.5h7.6v5.4h-7.6zM1575 1235.5h7.6v10.4h-7.6zM1575 1305.5h7.6v5.4h-7.6zM1582.2 1327.6h7.6v5.4h-7.6zM1582.2 1372.6h7.6v10.4h-7.6zM1603.8 1328.7h7.6v5.4h-7.6zM1618.1 1342.8h7.6v5.4h-7.6zM1618.1 1352.8h7.6v5.4h-7.6zM1625.3 1344.8h7.6v25.4h-7.6zM1625.3 1454.8h7.6v25.4h-7.6zM1625.3 1569.8h7.6v115.4h-7.6zM1632.5 1336.9h7.6v5.4h-7.6zM1654.1 1313h7.6v10.4h-7.6zM1654.1 1363h7.6v10.4h-7.6zM1661.3 1330h7.6v5.4h-7.6zM1661.3 1370h7.6v10.4h-7.6zM1682.8 1391.1h7.6v5.4h-7.6zM1682.8 1531.1h7.6v35.4h-7.6zM1690 1388.2h7.6v10.4h-7.6zM1697.2 1400.2h7.6v5.4h-7.6zM1704.4 1407.3h7.6v5.4h-7.6zM1711.6 1689.3h7.6v10.4h-7.6zM1711.6 1724.3h7.6v5.4h-7.6zM1718.8 1421.3h7.6v5.4h-7.6zM1733.1 1445.4h7.6v15.4h-7.6zM1754.7 1516.5h7.6v5.4h-7.6zM1761.9 1623.6h7.6v115.4h-7.6zM1761.9 1828.6h7.6v25.4h-7.6zM1769.1 1460.6h7.6v5.4h-7.6zM1776.3 1447.7h7.6v5.4h-7.6zM1790.6 1481.7h7.6v30.4h-7.6zM1797.8 1483.8h7.6v20.4h-7.6zM1805 1565.8h7.6v5.4h-7.6zM1805 1620.8h7.6v30.4h-7.6zM1812.2 1562.9h7.2v10.4h-7.2zM1812.2 1622.9h7.2v5.4h-7.2zM1812.2 1657.9h7.2v5.4h-7.2z"/><path fill="#ff8000" d="M1460 1127.9h7.6v5.4h-7.6zM1474.4 1202h7.6v5.4h-7.6zM1481.6 1264h7.6v5.4h-7.6zM1481.6 1489h7.6v10.4h-7.6zM1481.6 1544h7.6v50.4h-7.6zM1488.7 1216.1h7.6v5.4h-7.6zM1495.9 1568.1h7.6v5.4h-7.6zM1553.4 1269.4h7.6v5.4h-7.6zM1560.6 1396.5h7.6v5.4h-7.6zM1567.8 1393.5h7.6v5.4h-7.6zM1575 1310.5h7.6v5.4h-7.6zM1582.2 1332.6h7.6v5.4h-7.6zM1582.2 1362.6h7.6v10.4h-7.6zM1582.2 1382.6h7.6v5.4h-7.6zM1589.4 1274.6h7.6v5.4h-7.6zM1618.1 1347.8h7.6v5.4h-7.6zM1632.5 1341.9h7.6v15.4h-7.6zM1654.1 1373h7.6v5.4h-7.6zM1661.3 1320h7.6v10.4h-7.6zM1661.3 1380h7.6v5.4h-7.6zM1675.6 1349.1h7.6v15.4h-7.6zM1682.8 1396.1h7.6v5.4h-7.6zM1682.8 1411.1h7.6v15.4h-7.6zM1682.8 1526.1h7.6v5.4h-7.6zM1682.8 1566.1h7.6v5.4h-7.6zM1690 1398.2h7.6v10.4h-7.6zM1711.6 1679.3h7.6v10.4h-7.6zM1711.6 1729.3h7.6v5.4h-7.6zM1726 1423.4h7.6v5.4h-7.6zM1754.7 1521.5h7.6v5.4h-7.6zM1790.6 1511.7h7.6v5.4h-7.6zM1797.8 1518.8h7.6v5.4h-7.6zM1805 1570.8h7.6v5.4h-7.6zM1805 1615.8h7.6v5.4h-7.6zM1805 1650.8h7.6v5.4h-7.6zM1812.2 1572.9h7.2v5.4h-7.2zM1812.2 1662.9h7.2v5.4h-7.2z"/><path fill="#ff6600" d="M1460 1132.9h7.6v5.4h-7.6zM1467.2 1229.9h7.6v5.4h-7.6zM1474.4 1207h7.6v5.4h-7.6zM1481.6 1194h7.6v5.4h-7.6zM1481.6 1499h7.6v45.4h-7.6zM1481.6 1594h7.6v21h-7.6zM1495.9 1208.1h7.6v5.4h-7.6zM1553.4 1274.4h7.6v5.4h-7.6zM1560.6 1401.5h7.6v5.4h-7.6zM1575 1315.5h7.6v5.4h-7.6zM1582.2 1337.6h7.6v5.4h-7.6zM1582.2 1357.6h7.6v5.4h-7.6zM1582.2 1387.6h7.6v10.4h-7.6zM1603.8 1333.7h7.6v5.4h-7.6zM1618.1 1357.8h7.6v5.4h-7.6zM1632.5 1356.9h7.6v5.4h-7.6zM1654.1 1378h7.6v5.4h-7.6zM1661.3 1385h7.6v5.4h-7.6zM1668.4 1342.1h7.6v15.4h-7.6zM1675.6 1364.1h7.6v10.4h-7.6zM1682.8 1406.1h7.6v5.4h-7.6zM1682.8 1426.1h7.6v5.4h-7.6zM1682.8 1521.1h7.6v5.4h-7.6zM1682.8 1571.1h7.6v5.4h-7.6zM1690 1408.2h7.6v210.4h-7.6zM1690 1673.2h7.6v80.4h-7.6zM1697.2 1405.2h7.6v5.4h-7.6zM1704.4 1412.3h7.6v5.4h-7.6zM1711.6 1409.3h7.6v10.4h-7.6zM1711.6 1674.3h7.6v5.4h-7.6zM1711.6 1734.3h7.6v5.4h-7.6zM1718.8 1426.3h7.6v5.4h-7.6zM1733.1 1440.4h7.6v5.4h-7.6zM1733.1 1460.4h7.6v5.4h-7.6zM1769.1 1465.6h7.6v5.4h-7.6zM1776.3 1452.7h7.6v5.4h-7.6zM1783.5 1454.7h7.6v20.4h-7.6zM1790.6 1516.7h7.6v5.4h-7.6zM1805 1575.8h7.6v5.4h-7.6zM1805 1610.8h7.6v5.4h-7.6zM1805 1655.8h7.6v5.4h-7.6zM1812.2 1577.9h7.2v5.4h-7.2zM1812.2 1617.9h7.2v5.4h-7.2zM1812.2 1667.9h7.2v5.4h-7.2z"/><path fill="#ff3300" d="M1460 1142.9h7.6v5.4h-7.6zM1467.2 1239.9h7.6v5.4h-7.6zM1474.4 1217h7.6v5.4h-7.6zM1474.4 1292h7.6v60.4h-7.6zM1474.4 1427h7.6v181h-7.6zM1488.7 1226.1h7.6v5.4h-7.6zM1495.9 1218.1h7.6v5.4h-7.6zM1495.9 1558.1h7.6v5.4h-7.6zM1560.6 1411.5h7.6v25.4h-7.6zM1560.6 1511.5h7.6v155.4h-7.6zM1567.8 1403.5h7.6v5.4h-7.6zM1582.2 1347.6h7.6v5.4h-7.6zM1582.2 1402.6h7.6v70.4h-7.6zM1582.2 1512.6h7.6v201h-7.6zM1603.8 1343.7h7.6v5.4h-7.6zM1618.1 1367.8h7.6v5.4h-7.6zM1632.5 1366.9h7.6v5.4h-7.6zM1654.1 1388h7.6v80.4h-7.6zM1654.1 1648h7.6v136h-7.6zM1668.4 1332.1h7.6v5.4h-7.6zM1675.6 1419.1h7.6v135.4h-7.6zM1675.6 1644.1h7.6v120.4h-7.6zM1682.8 1431.1h7.6v5.4h-7.6zM1682.8 1511.1h7.6v5.4h-7.6zM1682.8 1581.1h7.6v5.4h-7.6zM1697.2 1415.2h7.6v5.4h-7.6zM1704.4 1422.3h7.6v5.4h-7.6zM1711.6 1424.3h7.6v115.4h-7.6zM1711.6 1644.3h7.6v25.4h-7.6zM1711.6 1744.3h7.6v65.4h-7.6zM1718.8 1436.3h7.6v5.4h-7.6zM1726 1433.4h7.6v5.4h-7.6zM1733.1 1435.4h7.6v5.4h-7.6zM1733.1 1465.4h7.6v5.4h-7.6zM1754.7 1531.5h7.6v5.4h-7.6zM1769.1 1470.6h7.6v5.4h-7.6zM1776.3 1457.7h7.6v5.4h-7.6zM1783.5 1449.7h7.6v5.4h-7.6zM1783.5 1474.7h7.6v5.4h-7.6zM1790.6 1621.7h7.6v15.4h-7.6zM1797.8 1528.8h7.6v5.4h-7.6zM1805 1585.8h7.6v10.4h-7.6zM1805 1600.8h7.6v5.4h-7.6zM1805 1665.8h7.6v5.4h-7.6zM1805 1920.8h7.6v11h-7.6zM1812.2 1587.9h7.2v5.4h-7.2zM1812.2 1607.9h7.2v5.4h-7.2zM1812.2 1672.9h7.2v5.4h-7.2zM1812.2 1802.9h7.2v105.4h-7.2z"/><path fill="#ccff33" d="M1467.2 1129.9h7.6v5.4h-7.6zM1474.4 1172h7.6v5.4h-7.6zM1481.6 1179h7.6v5.4h-7.6zM1503.1 1195.1h7.6v5.4h-7.6zM1539.1 1380.3h7.6v5.4h-7.6zM1553.4 1249.4h7.6v5.4h-7.6zM1560.6 1246.5h7.6v5.4h-7.6zM1567.8 1228.5h7.6v10.4h-7.6zM1589.4 1259.6h7.6v5.4h-7.6zM1603.8 1263.7h7.6v20.4h-7.6zM1610.9 1285.7h7.6v10.4h-7.6zM1610.9 1470.7h7.6v30.4h-7.6zM1610.9 1520.7h7.6v60.4h-7.6zM1618.1 1277.8h7.6v10.4h-7.6zM1618.1 1302.8h7.6v10.4h-7.6zM1625.3 1309.8h7.6v5.4h-7.6zM1632.5 1306.9h7.6v5.4h-7.6zM1682.8 1341.1h7.6v5.4h-7.6zM1682.8 1351.1h7.6v10.4h-7.6zM1690 1348.2h7.6v15.4h-7.6zM1697.2 1385.2h7.6v5.4h-7.6zM1711.6 1379.3h7.6v5.4h-7.6zM1711.6 1399.3h7.6v5.4h-7.6zM1726 1383.4h7.6v10.4h-7.6zM1754.7 1456.5h7.6v5.4h-7.6zM1761.9 1468.6h7.6v5.4h-7.6zM1805 1490.8h7.6v5.4h-7.6zM1812.2 1497.9h7.2v5.4h-7.2z"/><path fill="#ffff00" d="M1467.2 1144.9h7.6v10.4h-7.6zM1467.2 1164.9h7.6v20.4h-7.6zM1481.6 1184h7.6v5.4h-7.6zM1481.6 1394h7.6v5.4h-7.6zM1510.3 1302.2h7.6v70.4h-7.6zM1510.3 1457.2h7.6v50.4h-7.6zM1510.3 1552.2h7.6v65.4h-7.6zM1539.1 1390.3h7.6v40.4h-7.6zM1567.8 1248.5h7.6v55.4h-7.6zM1575 1265.5h7.6v20.4h-7.6zM1582.2 1242.6h7.6v50.4h-7.6zM1589.4 1264.6h7.6v5.4h-7.6zM1603.8 1298.7h7.6v15.4h-7.6zM1610.9 1305.7h7.6v115.4h-7.6zM1610.9 1450.7h7.6v10.4h-7.6zM1618.1 1312.8h7.6v5.4h-7.6zM1625.3 1314.8h7.6v10.4h-7.6zM1632.5 1316.9h7.6v5.4h-7.6zM1682.8 1371.1h7.6v5.4h-7.6zM1690 1368.2h7.6v5.4h-7.6zM1711.6 1374.3h7.6v5.4h-7.6zM1726 1403.4h7.6v5.4h-7.6zM1754.7 1486.5h7.6v5.4h-7.6zM1761.9 1473.6h7.6v50.4h-7.6zM1776.3 1432.7h7.6v10.4h-7.6zM1790.6 1456.7h7.6v5.4h-7.6zM1805 1500.8h7.6v10.4h-7.6zM1812.2 1507.9h7.2v5.4h-7.2z"/><path fill="#ffe500" d="M1467.2 1154.9h7.6v10.4h-7.6zM1467.2 1184.9h7.6v5.4h-7.6zM1474.4 1182h7.6v5.4h-7.6zM1481.6 1274h7.6v5.4h-7.6zM1481.6 1399h7.6v10.4h-7.6zM1488.7 1206.1h7.6v5.4h-7.6zM1503.1 1200.1h7.6v5.4h-7.6zM1539.1 1430.3h7.6v10.4h-7.6zM1553.4 1254.4h7.6v10.4h-7.6zM1560.6 1251.5h7.6v15.4h-7.6zM1567.8 1303.5h7.6v5.4h-7.6zM1575 1260.5h7.6v5.4h-7.6zM1575 1285.5h7.6v5.4h-7.6zM1582.2 1292.6h7.6v5.4h-7.6zM1603.8 1313.7h7.6v10.4h-7.6zM1610.9 1420.7h7.6v30.4h-7.6zM1618.1 1317.8h7.6v15.4h-7.6zM1625.3 1324.8h7.6v10.4h-7.6zM1632.5 1321.9h7.6v5.4h-7.6zM1654.1 1338h7.6v10.4h-7.6zM1661.3 1345h7.6v10.4h-7.6zM1682.8 1376.1h7.6v5.4h-7.6zM1690 1373.2h7.6v5.4h-7.6zM1697.2 1390.2h7.6v5.4h-7.6zM1704.4 1397.3h7.6v5.4h-7.6zM1754.7 1491.5h7.6v10.4h-7.6zM1761.9 1523.6h7.6v10.4h-7.6zM1790.6 1461.7h7.6v5.4h-7.6zM1797.8 1453.8h7.6v15.4h-7.6zM1805 1510.8h7.6v5.4h-7.6zM1812.2 1512.9h7.2v5.4h-7.2z"/><path fill="#ffcc00" d="M1467.2 1189.9h7.6v10.4h-7.6zM1474.4 1187h7.6v5.4h-7.6zM1481.6 1409h7.6v5.4h-7.6zM1495.9 1198.1h7.6v5.4h-7.6zM1539.1 1440.3h7.6v90.4h-7.6zM1539.1 1595.3h7.6v75.4h-7.6zM1560.6 1266.5h7.6v60.4h-7.6zM1567.8 1308.5h7.6v5.4h-7.6zM1575 1250.5h7.6v10.4h-7.6zM1575 1290.5h7.6v10.4h-7.6zM1582.2 1297.6h7.6v10.4h-7.6zM1603.8 1323.7h7.6v5.4h-7.6zM1618.1 1332.8h7.6v5.4h-7.6zM1625.3 1334.8h7.6v5.4h-7.6zM1625.3 1514.8h7.6v25.4h-7.6zM1632.5 1326.9h7.6v5.4h-7.6zM1654.1 1328h7.6v10.4h-7.6zM1654.1 1348h7.6v5.4h-7.6zM1661.3 1340h7.6v5.4h-7.6zM1661.3 1355h7.6v5.4h-7.6zM1682.8 1381.1h7.6v10.4h-7.6zM1690 1378.2h7.6v5.4h-7.6zM1711.6 1404.3h7.6v5.4h-7.6zM1718.8 1406.3h7.6v10.4h-7.6zM1726 1408.4h7.6v10.4h-7.6zM1754.7 1501.5h7.6v5.4h-7.6zM1761.9 1533.6h7.6v5.4h-7.6zM1769.1 1455.6h7.6v5.4h-7.6zM1776.3 1442.7h7.6v5.4h-7.6zM1790.6 1466.7h7.6v5.4h-7.6zM1797.8 1468.8h7.6v5.4h-7.6zM1805 1515.8h7.6v5.4h-7.6zM1812.2 1517.9h7.2v10.4h-7.2z"/><path fill="#0080ff" d="M1474.4 1137h7.6v5.4h-7.6zM1539.1 1215.3h7.6v5.4h-7.6zM1553.4 1214.4h7.6v10.4h-7.6zM1610.9 1680.7h7.6v61h-7.6zM1754.7 1411.5h7.6v10.4h-7.6zM1761.9 1418.6h7.6v15.4h-7.6zM1769.1 1425.6h7.6v10.4h-7.6z"/><path fill="#00b2ff" d="M1474.4 1142h7.6v5.4h-7.6zM1495.9 1178.1h7.6v5.4h-7.6zM1531.9 1358.3h7.6v10.4h-7.6zM1539.1 1355.3h7.6v5.4h-7.6zM1754.7 1421.5h7.6v5.4h-7.6zM1761.9 1438.6h7.6v5.4h-7.6z"/><path fill="#00e5ff" d="M1474.4 1147h7.6v5.4h-7.6zM1488.7 1181.1h7.6v5.4h-7.6zM1524.7 1526.3h7.6v5.4h-7.6zM1524.7 1596.3h7.6v5.4h-7.6zM1531.9 1648.3h7.6v16h-7.6zM1546.2 1407.4h7.6v5.4h-7.6zM1553.4 1234.4h7.6v5.4h-7.6zM1610.9 1665.7h7.6v5.4h-7.6zM1697.2 1365.2h7.6v5.4h-7.6zM1704.4 1362.3h7.6v10.4h-7.6zM1754.7 1426.5h7.6v5.4h-7.6zM1761.9 1448.6h7.6v5.4h-7.6z"/><path fill="#4dffb2" d="M1474.4 1157h7.6v5.4h-7.6zM1481.6 1159h7.6v5.4h-7.6zM1503.1 1180.1h7.6v5.4h-7.6zM1510.3 1207.2h7.6v5.4h-7.6zM1517.5 1244.2h7.6v5.4h-7.6zM1539.1 1205.3h7.6v5.4h-7.6zM1560.6 1231.5h7.6v5.4h-7.6zM1704.4 1382.3h7.6v5.4h-7.6zM1718.8 1386.3h7.6v5.4h-7.6zM1805 1460.8h7.6v10.4h-7.6zM1812.2 1477.9h7.2v5.4h-7.2z"/><path fill="#99ff66" d="M1474.4 1162h7.6v5.4h-7.6zM1495.9 1188.1h7.6v5.4h-7.6zM1539.1 1370.3h7.6v5.4h-7.6zM1625.3 1299.8h7.6v5.4h-7.6zM1632.5 1296.9h7.6v5.4h-7.6zM1704.4 1387.3h7.6v5.4h-7.6zM1754.7 1446.5h7.6v5.4h-7.6zM1761.9 1463.6h7.6v5.4h-7.6zM1805 1480.8h7.6v5.4h-7.6z"/><path fill="#b3ff4c" d="M1474.4 1167h7.6v5.4h-7.6zM1488.7 1196.1h7.6v5.4h-7.6zM1510.3 1217.2h7.6v5.4h-7.6zM1539.1 1200.3h7.6v5.4h-7.6zM1539.1 1375.3h7.6v5.4h-7.6zM1560.6 1241.5h7.6v5.4h-7.6zM1589.4 1249.6h7.6v10.4h-7.6zM1610.9 1270.7h7.6v15.4h-7.6zM1610.9 1580.7h7.6v5.4h-7.6zM1618.1 1287.8h7.6v15.4h-7.6zM1625.3 1304.8h7.6v5.4h-7.6zM1632.5 1301.9h7.6v5.4h-7.6zM1682.8 1346.1h7.6v5.4h-7.6zM1718.8 1396.3h7.6v5.4h-7.6zM1754.7 1451.5h7.6v5.4h-7.6zM1769.1 1450.6h7.6v5.4h-7.6zM1805 1485.8h7.6v5.4h-7.6zM1812.2 1492.9h7.2v5.4h-7.2z"/><path fill="#00ffff" d="M1481.6 1144h7.6v5.4h-7.6zM1503.1 1165.1h7.6v5.4h-7.6zM1517.5 1229.2h7.6v5.4h-7.6zM1524.7 1251.3h7.6v220.4h-7.6zM1524.7 1631.3h7.6v26h-7.6zM1531.9 1408.3h7.6v20.4h-7.6zM1531.9 1448.3h7.6v95.4h-7.6zM1531.9 1573.3h7.6v75.4h-7.6zM1546.2 1427.4h7.6v55.4h-7.6zM1546.2 1522.4h7.6v115.4h-7.6zM1610.9 1660.7h7.6v5.4h-7.6zM1697.2 1370.2h7.6v5.4h-7.6zM1704.4 1372.3h7.6v5.4h-7.6zM1754.7 1431.5h7.6v5.4h-7.6z"/><path fill="#33ffcc" d="M1481.6 1154h7.6v5.4h-7.6zM1488.7 1186.1h7.6v5.4h-7.6zM1503.1 1175.1h7.6v5.4h-7.6zM1510.3 1202.2h7.6v5.4h-7.6zM1517.5 1239.2h7.6v5.4h-7.6zM1553.4 1239.4h7.6v5.4h-7.6zM1610.9 1595.7h7.6v5.4h-7.6zM1697.2 1375.2h7.6v5.4h-7.6zM1754.7 1436.5h7.6v5.4h-7.6zM1761.9 1453.6h7.6v5.4h-7.6zM1812.2 1467.9h7.2v10.4h-7.2z"/><path fill="#0000ff" d="M1488.7 1151.1h7.6v15.4h-7.6zM1495.9 1158.1h7.6v10.4h-7.6zM1510.3 1172.2h7.6v10.4h-7.6zM1524.7 1221.3h7.6v10.4h-7.6zM1524.7 1546.3h7.6v35.4h-7.6zM1531.9 1253.3h7.6v90.4h-7.6zM1531.9 1383.3h7.6v5.4h-7.6zM1539.1 1220.3h7.6v5.4h-7.6zM1546.2 1232.4h7.6v15.4h-7.6zM1546.2 1367.4h7.6v25.4h-7.6z"/><path fill="#0033ff" d="M1488.7 1166.1h7.6v5.4h-7.6zM1495.9 1168.1h7.6v5.4h-7.6zM1510.3 1182.2h7.6v5.4h-7.6zM1524.7 1231.3h7.6v5.4h-7.6zM1524.7 1541.3h7.6v5.4h-7.6zM1524.7 1581.3h7.6v5.4h-7.6zM1531.9 1343.3h7.6v5.4h-7.6zM1531.9 1378.3h7.6v5.4h-7.6zM1531.9 1388.3h7.6v5.4h-7.6zM1546.2 1227.4h7.6v5.4h-7.6zM1546.2 1392.4h7.6v5.4h-7.6z"/><path fill="#0066ff" d="M1488.7 1171.1h7.6v5.4h-7.6zM1495.9 1173.1h7.6v5.4h-7.6zM1510.3 1187.2h7.6v5.4h-7.6zM1517.5 1214.2h7.6v5.4h-7.6zM1524.7 1236.3h7.6v5.4h-7.6zM1524.7 1536.3h7.6v5.4h-7.6zM1524.7 1586.3h7.6v5.4h-7.6zM1531.9 1348.3h7.6v5.4h-7.6zM1531.9 1373.3h7.6v5.4h-7.6zM1531.9 1393.3h7.6v5.4h-7.6zM1546.2 1222.4h7.6v5.4h-7.6zM1546.2 1397.4h7.6v5.4h-7.6z"/><path fill="#0099ff" d="M1488.7 1176.1h7.6v5.4h-7.6zM1510.3 1192.2h7.6v5.4h-7.6zM1517.5 1219.2h7.6v5.4h-7.6zM1524.7 1241.3h7.6v5.4h-7.6zM1524.7 1531.3h7.6v5.4h-7.6zM1524.7 1591.3h7.6v5.4h-7.6zM1531.9 1353.3h7.6v5.4h-7.6zM1531.9 1368.3h7.6v5.4h-7.6zM1531.9 1398.3h7.6v5.4h-7.6zM1546.2 1217.4h7.6v5.4h-7.6zM1546.2 1402.4h7.6v5.4h-7.6zM1553.4 1224.4h7.6v10.4h-7.6zM1610.9 1675.7h7.6v5.4h-7.6zM1761.9 1433.6h7.6v5.4h-7.6z"/><path fill="#00ccff" d="M1510.3 1197.2h7.6v5.4h-7.6zM1517.5 1224.2h7.6v5.4h-7.6zM1524.7 1246.3h7.6v5.4h-7.6zM1531.9 1403.3h7.6v5.4h-7.6zM1546.2 1212.4h7.6v5.4h-7.6zM1610.9 1670.7h7.6v5.4h-7.6zM1697.2 1355.2h7.6v10.4h-7.6zM1761.9 1443.6h7.6v5.4h-7.6zM1769.1 1435.6h7.6v5.4h-7.6z"/><path fill="#000080" d="M1517.5 1179.2h7.6v15.4h-7.6zM1524.7 1186.3h7.6v15.4h-7.6zM1531.9 1193.3h7.6v40.4h-7.6zM1539.1 1245.3h7.6v100.4h-7.6zM1546.2 1267.4h7.6v80.4h-7.6z"/><path fill="#000099" d="M1517.5 1194.2h7.6v5.4h-7.6zM1524.7 1201.3h7.6v5.4h-7.6zM1531.9 1233.3h7.6v5.4h-7.6zM1539.1 1240.3h7.6v5.4h-7.6zM1546.2 1262.4h7.6v5.4h-7.6zM1546.2 1347.4h7.6v5.4h-7.6z"/><path fill="#0000b2" d="M1517.5 1199.2h7.6v5.4h-7.6zM1524.7 1206.3h7.6v5.4h-7.6zM1531.9 1238.3h7.6v5.4h-7.6zM1539.1 1235.3h7.6v5.4h-7.6zM1546.2 1257.4h7.6v5.4h-7.6zM1546.2 1352.4h7.6v5.4h-7.6z"/><path fill="#0000cc" d="M1517.5 1204.2h7.6v5.4h-7.6zM1524.7 1211.3h7.6v5.4h-7.6zM1531.9 1243.3h7.6v5.4h-7.6zM1539.1 1230.3h7.6v5.4h-7.6zM1546.2 1252.4h7.6v5.4h-7.6zM1546.2 1357.4h7.6v5.4h-7.6z"/><path fill="#001aff" d="M1517.5 1209.2h7.6v5.4h-7.6z"/><path fill="#0000e6" d="M1524.7 1216.3h7.6v5.4h-7.6zM1531.9 1248.3h7.6v5.4h-7.6zM1539.1 1225.3h7.6v5.4h-7.6zM1539.1 1345.3h7.6v5.4h-7.6zM1546.2 1247.4h7.6v5.4h-7.6zM1546.2 1362.4h7.6v5.4h-7.6z"/><path fill="#004dff" d="M1539.1 1350.3h7.6v5.4h-7.6z"/><path fill="#cc0000" d="M1596.6 1256.7h7.6v25.4h-7.6zM1639.7 1313.9h7.6v10.4h-7.6zM1646.9 1320.9h7.6v15.4h-7.6zM1726 1553.4h7.6v105.4h-7.6zM1740.3 1427.5h7.6v125.4h-7.6zM1740.3 1692.5h7.6v75.4h-7.6zM1740.3 1847.5h7.6v21h-7.6zM1797.8 1538.8h7.6v5.4h-7.6zM1797.8 1588.8h7.6v25.4h-7.6zM1797.8 1838.8h7.6v25.4h-7.6zM1797.8 1898.8h7.6v26h-7.6z"/><path fill="#b30000" d="M1639.7 1298.9h7.6v15.4h-7.6zM1646.9 1305.9h7.6v15.4h-7.6zM1797.8 1613.8h7.6v225.4h-7.6z"/>
</g>
<path class="m" d="M746 1589.5 L733 1576.5 L746 1543.5 L780 1503.5 L812 1471.5 L840 1452.5"/>
<path class="m" d="M868 1426.5 L924.5 1395 L988.7 1360.9 L1052.8 1330.8 L1085 1314 L1150 1296.5"/>
<path class="m" d="M1194 1282.5 L1292.5 1264.5 L1396.7 1246.5 L1453 1242.5 L1520 1237.5"/>
<rect x="1866.3" y="1129.5" width="30" height="888" fill="url(#cb)"/>
<path d="M1866.6 1129.5v888M1895.6 1129.5v888" stroke="#777" stroke-width="1" fill="none" opacity=".6"/>
<text class="b" transform="translate(77 1350.1) rotate(-90) scale(1.03 1)" style="font-size:68px">Depth [m]</text>
<text class="s" transform="translate(160 1119.5) scale(1.060 1)" text-anchor="start">(b)</text>
<text class="b" transform="translate(147.5 1218.1) scale(0.965 1)" text-anchor="end">0</text>
<text class="b" transform="translate(147.5 1293.6) scale(0.965 1)" text-anchor="end">5</text>
<text class="b" transform="translate(147.5 1369.1) scale(0.965 1)" text-anchor="end" clip-path="url(#f2)">10</text>
<text class="b" transform="translate(147.5 1444.6) scale(0.965 1)" text-anchor="end" clip-path="url(#f2)">15</text>
<text class="b" transform="translate(147.5 1520.1) scale(0.965 1)" text-anchor="end">20</text>
<text class="b" transform="translate(147.5 1595.6) scale(0.965 1)" text-anchor="end">25</text>
<text class="b" transform="translate(147.5 1714.4) scale(0.965 1)" text-anchor="end">0</text>
<text class="b" transform="translate(224 1797.5) scale(0.965 1)" text-anchor="end">5</text>
<text class="b" transform="translate(310.5 1882.1) scale(0.965 1)" text-anchor="end" clip-path="url(#f2)">10</text>
<text class="b" transform="translate(397.5 1971.5) scale(0.965 1)" text-anchor="end" clip-path="url(#f2)">15</text>
<text class="b" transform="translate(493 2064) scale(0.965 1)" text-anchor="end">20</text>
<text class="b" transform="translate(213 2027.9) scale(0.975 1)" text-anchor="start" style="font-size:71px">X [m]</text>
<text class="b" transform="translate(551 2090.1) scale(0.965 1)" text-anchor="start">20</text>
<text class="b" transform="translate(811 2070.1) scale(0.965 1)" text-anchor="start" clip-path="url(#f1)">16</text>
<text class="b" transform="translate(1065.5 2045) scale(0.965 1)" text-anchor="start" clip-path="url(#f1)">12</text>
<text class="b" transform="translate(1328 2029.9) scale(0.965 1)" text-anchor="start">8</text>
<text class="b" transform="translate(1582.5 2013.3) scale(0.965 1)" text-anchor="start">4</text>
<text class="b" transform="translate(1827 1991.7) scale(0.965 1)" text-anchor="start">0</text>
<text class="b" transform="translate(889 2095.2) scale(0.975 1)" text-anchor="start" style="font-size:71px">Y [m]</text>
<text class="b" transform="translate(1895 1157.9) scale(0.965 1)" text-anchor="start" clip-path="url(#f1)">10<tspan dx="3" dy="-21" style="font-size:46px">4</tspan></text>
<text class="b" transform="translate(1895 1452.6) scale(0.965 1)" text-anchor="start" clip-path="url(#f1)">10<tspan dx="3" dy="-21" style="font-size:46px">3</tspan></text>
<text class="b" transform="translate(1895 1749.3) scale(0.965 1)" text-anchor="start" clip-path="url(#f1)">10<tspan dx="3" dy="-21" style="font-size:46px">2</tspan></text>
<text class="b" transform="translate(1895 2057.6) scale(0.965 1)" text-anchor="start" clip-path="url(#f1)">10</text>
<path class="t" d="M1889 1425.5h7" style="stroke:#555;stroke-width:1.5"/>
<path class="t" d="M1889 1721.5h7" style="stroke:#555;stroke-width:1.5"/>
<text class="o" transform="translate(1808 1108.2) scale(1.090 1)" text-anchor="start">&#937;m</text>
</g>
<g id="panel-c">
<path class="t" d="M525 3025.5 L1817 2933"/>
<path class="t" d="M525 3025.5l22 21"/>
<path class="t" d="M654.1 3016.3l22 21"/>
<path class="t" d="M783.2 3007l22 21"/>
<path class="t" d="M912.3 2997.8l22 21"/>
<path class="t" d="M1041.4 2988.5l22 21"/>
<path class="t" d="M1170.5 2979.3l22 21"/>
<path class="t" d="M1299.6 2970l22 21"/>
<path class="t" d="M1428.7 2960.8l22 21"/>
<path class="t" d="M1557.8 2951.6l22 21"/>
<path class="t" d="M1686.9 2942.3l22 21"/>
<path class="t" d="M1816 2933.1l22 21"/>
<path class="t" d="M150 2209l16 15.5"/>
<path class="t" d="M150 2284l16 15.5"/>
<path class="t" d="M150 2359l16 15.5"/>
<path class="t" d="M150 2434l16 15.5"/>
<path class="t" d="M150 2509l16 15.5"/>
<path class="t" d="M150 2584l16 15.5"/>
<path class="t" d="M150 2659l16 15.5"/>
<path class="t" d="M166 2682l-24 2.5"/>
<path class="t" d="M255.7 2767.8l-24 2.5"/>
<path class="t" d="M345.4 2853.5l-24 2.5"/>
<path class="t" d="M435.1 2939.3l-24 2.5"/>
<path class="t" d="M524.8 3025l-24 2.5"/>
<g shape-rendering="crispEdges">
<path fill="#e5ff1a" d="M166 2224.5h7.6v10.4h-7.6zM166 2324.5h7.6v5.4h-7.6zM166 2559.5h7.6v5.4h-7.6zM173.2 2224.5h7.6v5.4h-7.6zM180.4 2251.5h7.6v5.4h-7.6zM180.4 2366.5h7.6v5.4h-7.6zM187.6 2258.6h7.6v5.4h-7.6zM194.7 2260.6h7.6v5.4h-7.6zM201.9 2252.7h7.6v5.4h-7.6zM209.1 2284.7h7.6v5.4h-7.6zM209.1 2529.7h7.6v60.4h-7.6zM216.3 2456.7h7.6v5.4h-7.6zM216.3 2731.7h7.6v5.5h-7.6zM230.7 2310.8h7.6v75.4h-7.6zM230.7 2680.8h7.6v50.4h-7.6zM237.8 2402.9h7.6v15.4h-7.6zM245 2334.9h7.6v40.4h-7.6zM245 2464.9h7.6v35.4h-7.6zM252.2 2326.9h7.6v5.4h-7.6zM252.2 2676.9h7.6v70.4h-7.6zM273.8 2348.1h7.6v20.4h-7.6zM273.8 2558.1h7.6v100.4h-7.6zM273.8 2773.1h7.6v20.5h-7.6zM295.3 2369.2h7.6v10.4h-7.6zM295.3 2424.2h7.6v10.4h-7.6zM302.5 2436.2h7.6v145.4h-7.6zM302.5 2601.2h7.6v60.4h-7.6zM302.5 2736.2h7.6v85.5h-7.6zM309.7 2378.3h7.6v5.4h-7.6zM309.7 2518.3h7.6v115.4h-7.6zM309.7 2758.3h7.6v70.5h-7.6zM324 2437.3h7.6v75.4h-7.6zM324 2642.3h7.6v100.4h-7.6zM331.2 2604.4h7.6v25.4h-7.6zM331.2 2709.4h7.6v140.5h-7.6zM338.4 2431.4h7.6v40.4h-7.6zM338.4 2761.4h7.6v5.4h-7.6zM345.6 2443.5h7.6v30.4h-7.6zM345.6 2673.5h7.6v5.4h-7.6zM352.8 2420.5h7.6v5.4h-7.6zM367.2 2414.6h7.6v5.4h-7.6zM367.2 2544.6h7.6v90.4h-7.6zM367.2 2669.6h7.6v35.4h-7.6zM374.3 2476.6h7.6v5.4h-7.6zM374.3 2541.6h7.6v5.4h-7.6zM374.3 2761.6h7.6v5.4h-7.6zM381.5 2513.7h7.6v5.4h-7.6zM381.5 2703.7h7.6v45.4h-7.6zM388.7 2460.7h7.6v5.4h-7.6zM388.7 2545.7h7.6v25.4h-7.6zM388.7 2745.7h7.6v10.4h-7.6zM395.9 2442.7h7.6v15.4h-7.6zM395.9 2637.7h7.6v5.4h-7.6zM395.9 2737.7h7.6v5.4h-7.6zM395.9 2772.7h7.6v45.4h-7.6zM410.3 2486.8h7.6v5.4h-7.6zM410.3 2616.8h7.6v160.4h-7.6zM446.2 2912h7.6v10.4h-7.6zM453.4 2589.1h7.6v45.4h-7.6zM453.4 2714.1h7.6v55.4h-7.6zM453.4 2814.1h7.6v20.4h-7.6zM453.4 2939.1h7.6v30.4h-7.6zM460.5 2531.1h7.6v5.4h-7.6zM474.9 2670.2h7.6v5.4h-7.6zM474.9 2990.2h7.6v0.5h-7.6zM482.1 2547.2h7.6v5.4h-7.6zM489.3 2534.3h7.6v5.4h-7.6zM496.5 2581.3h7.6v40.4h-7.6zM503.6 2593.3h7.6v140.4h-7.6zM503.6 2903.3h7.6v25.4h-7.6zM510.8 2655.4h7.6v85.4h-7.6zM510.8 2905.4h7.6v5.4h-7.6zM518 2602.4h7.2v105.4h-7.2zM518 2747.4h7.2v10.4h-7.2z"/><path fill="#ffff00" d="M166 2234.5h7.6v5.4h-7.6zM166 2319.5h7.6v5.4h-7.6zM166 2564.5h7.6v5.4h-7.6zM173.2 2229.5h7.6v10.4h-7.6zM180.4 2361.5h7.6v5.4h-7.6zM187.6 2348.6h7.6v20.4h-7.6zM194.7 2265.6h7.6v5.4h-7.6zM201.9 2257.7h7.6v10.4h-7.6zM209.1 2404.7h7.6v125.4h-7.6zM209.1 2589.7h7.6v140.5h-7.6zM216.3 2396.7h7.6v60.4h-7.6zM216.3 2571.7h7.6v5.4h-7.6zM216.3 2601.7h7.6v130.4h-7.6zM223.5 2293.8h7.6v5.4h-7.6zM223.5 2623.8h7.6v25.4h-7.6zM230.7 2385.8h7.6v245.4h-7.6zM230.7 2655.8h7.6v25.4h-7.6zM230.7 2730.8h7.6v20.5h-7.6zM237.8 2317.9h7.6v5.4h-7.6zM237.8 2372.9h7.6v30.4h-7.6zM237.8 2417.9h7.6v25.4h-7.6zM237.8 2562.9h7.6v130.4h-7.6zM237.8 2742.9h7.6v15.5h-7.6zM245 2329.9h7.6v5.4h-7.6zM245 2499.9h7.6v50.4h-7.6zM245 2624.9h7.6v65.4h-7.6zM245 2739.9h7.6v25.5h-7.6zM252.2 2341.9h7.6v45.4h-7.6zM252.2 2401.9h7.6v5.4h-7.6zM266.6 2336h7.6v5.4h-7.6zM266.6 2611h7.6v5.4h-7.6zM266.6 2716h7.6v5.4h-7.6zM273.8 2368.1h7.6v190.4h-7.6zM273.8 2658.1h7.6v115.4h-7.6zM295.3 2379.2h7.6v45.4h-7.6zM302.5 2376.2h7.6v60.4h-7.6zM302.5 2661.2h7.6v75.4h-7.6zM309.7 2493.3h7.6v25.4h-7.6zM309.7 2633.3h7.6v80.4h-7.6zM309.7 2723.3h7.6v35.4h-7.6zM324 2432.3h7.6v5.4h-7.6zM324 2512.3h7.6v30.4h-7.6zM324 2572.3h7.6v70.4h-7.6zM324 2742.3h7.6v5.4h-7.6zM331.2 2424.4h7.6v180.4h-7.6zM331.2 2629.4h7.6v80.4h-7.6zM338.4 2426.4h7.6v5.4h-7.6zM338.4 2766.4h7.6v5.4h-7.6zM345.6 2418.5h7.6v25.4h-7.6zM345.6 2473.5h7.6v5.4h-7.6zM345.6 2678.5h7.6v55.4h-7.6zM345.6 2788.5h7.6v70.4h-7.6zM352.8 2560.5h7.6v115.4h-7.6zM352.8 2740.5h7.6v100.4h-7.6zM360 2427.5h7.6v5.4h-7.6zM367.2 2419.6h7.6v5.4h-7.6zM367.2 2474.6h7.6v70.4h-7.6zM367.2 2704.6h7.6v50.4h-7.6zM374.3 2421.6h7.6v5.4h-7.6zM374.3 2471.6h7.6v5.4h-7.6zM374.3 2766.6h7.6v5.4h-7.6zM381.5 2748.7h7.6v5.4h-7.6zM388.7 2455.7h7.6v5.4h-7.6zM395.9 2457.7h7.6v90.4h-7.6zM395.9 2632.7h7.6v5.4h-7.6zM395.9 2742.7h7.6v30.4h-7.6zM395.9 2817.7h7.6v95.4h-7.6zM410.3 2456.8h7.6v5.4h-7.6zM410.3 2491.8h7.6v70.4h-7.6zM410.3 2586.8h7.6v30.4h-7.6zM410.3 2776.8h7.6v30.4h-7.6zM410.3 2841.8h7.6v80.4h-7.6zM446.2 2512h7.6v5.4h-7.6zM446.2 2557h7.6v5.4h-7.6zM453.4 2524.1h7.6v65.4h-7.6zM453.4 2634.1h7.6v80.4h-7.6zM453.4 2834.1h7.6v105.4h-7.6zM460.5 2576.1h7.6v70.4h-7.6zM460.5 2731.1h7.6v30.4h-7.6zM474.9 2540.2h7.6v5.4h-7.6zM474.9 2585.2h7.6v35.4h-7.6zM482.1 2542.2h7.6v5.4h-7.6zM489.3 2669.3h7.6v115.4h-7.6zM489.3 2879.3h7.6v105.4h-7.6zM496.5 2571.3h7.6v10.4h-7.6zM503.6 2583.3h7.6v10.4h-7.6zM503.6 2928.3h7.6v20.4h-7.6zM510.8 2600.4h7.6v55.4h-7.6zM510.8 2910.4h7.6v40.4h-7.6zM518 2597.4h7.2v5.4h-7.2zM518 2707.4h7.2v40.4h-7.2zM518 2912.4h7.2v10.4h-7.2zM518 2927.4h7.2v15.4h-7.2z"/><path fill="#ffe500" d="M166 2239.5h7.6v10.4h-7.6zM166 2314.5h7.6v5.4h-7.6zM173.2 2239.5h7.6v5.4h-7.6zM173.2 2324.5h7.6v60.4h-7.6zM173.2 2429.5h7.6v125.4h-7.6zM180.4 2256.5h7.6v65.4h-7.6zM180.4 2356.5h7.6v5.4h-7.6zM187.6 2263.6h7.6v85.4h-7.6zM187.6 2368.6h7.6v30.4h-7.6zM187.6 2563.6h7.6v140.4h-7.6zM194.7 2270.6h7.6v250.4h-7.6zM194.7 2615.6h7.6v100.5h-7.6zM201.9 2267.7h7.6v5.4h-7.6zM209.1 2289.7h7.6v115.4h-7.6zM216.3 2296.7h7.6v5.4h-7.6zM216.3 2391.7h7.6v5.4h-7.6zM216.3 2576.7h7.6v25.4h-7.6zM223.5 2303.8h7.6v85.4h-7.6zM223.5 2408.8h7.6v80.4h-7.6zM223.5 2548.8h7.6v75.4h-7.6zM223.5 2648.8h7.6v65.4h-7.6zM230.7 2630.8h7.6v25.4h-7.6zM237.8 2322.9h7.6v50.4h-7.6zM237.8 2442.9h7.6v120.4h-7.6zM237.8 2692.9h7.6v50.4h-7.6zM245 2549.9h7.6v75.4h-7.6zM245 2689.9h7.6v50.4h-7.6zM252.2 2331.9h7.6v10.4h-7.6zM252.2 2386.9h7.6v15.4h-7.6zM259.4 2334h7.6v130.4h-7.6zM259.4 2519h7.6v195.4h-7.6zM266.6 2606h7.6v5.4h-7.6zM266.6 2721h7.6v5.4h-7.6zM280.9 2360.1h7.6v5.4h-7.6zM280.9 2430.1h7.6v50.4h-7.6zM288.1 2367.1h7.6v5.4h-7.6zM309.7 2383.3h7.6v110.4h-7.6zM309.7 2713.3h7.6v10.4h-7.6zM324 2427.3h7.6v5.4h-7.6zM324 2542.3h7.6v30.4h-7.6zM324 2747.3h7.6v10.4h-7.6zM331.2 2414.4h7.6v10.4h-7.6zM338.4 2386.4h7.6v10.4h-7.6zM338.4 2416.4h7.6v10.4h-7.6zM338.4 2771.4h7.6v5.4h-7.6zM345.6 2393.5h7.6v25.4h-7.6zM345.6 2733.5h7.6v55.4h-7.6zM345.6 2858.5h7.6v5.5h-7.6zM352.8 2425.5h7.6v5.4h-7.6zM352.8 2515.5h7.6v45.4h-7.6zM352.8 2675.5h7.6v65.4h-7.6zM352.8 2840.5h7.6v30.5h-7.6zM360 2527.5h7.6v15.4h-7.6zM360 2627.5h7.6v120.4h-7.6zM360 2787.5h7.6v90.5h-7.6zM367.2 2424.6h7.6v10.4h-7.6zM367.2 2464.6h7.6v10.4h-7.6zM367.2 2754.6h7.6v5.4h-7.6zM374.3 2426.6h7.6v10.4h-7.6zM374.3 2466.6h7.6v5.4h-7.6zM381.5 2428.7h7.6v5.4h-7.6zM381.5 2463.7h7.6v50.4h-7.6zM381.5 2753.7h7.6v5.4h-7.6zM388.7 2450.7h7.6v5.4h-7.6zM395.9 2547.7h7.6v85.4h-7.6zM395.9 2912.7h7.6v0.5h-7.6zM403.1 2459.8h7.6v15.4h-7.6zM410.3 2561.8h7.6v25.4h-7.6zM410.3 2806.8h7.6v35.4h-7.6zM410.3 2921.8h7.6v5.5h-7.6zM446.2 2552h7.6v5.4h-7.6zM460.5 2561.1h7.6v15.4h-7.6zM460.5 2646.1h7.6v85.4h-7.6zM460.5 2761.1h7.6v25.4h-7.6zM460.5 2831.1h7.6v145.5h-7.6zM467.7 2538.1h7.6v5.4h-7.6zM474.9 2580.2h7.6v5.4h-7.6zM474.9 2620.2h7.6v5.4h-7.6zM474.9 2665.2h7.6v5.4h-7.6zM482.1 2537.2h7.6v5.4h-7.6zM489.3 2569.3h7.6v100.4h-7.6zM489.3 2784.3h7.6v95.4h-7.6zM489.3 2984.3h7.6v20.5h-7.6zM496.5 2566.3h7.6v5.4h-7.6zM503.6 2578.3h7.6v5.4h-7.6zM503.6 2948.3h7.6v70.4h-7.6zM510.8 2585.4h7.6v15.4h-7.6zM510.8 2950.4h7.6v75.5h-7.6zM518 2592.4h7.2v5.4h-7.2zM518 2922.4h7.2v5.4h-7.2zM518 2942.4h7.2v20.4h-7.2zM518 2992.4h7.2v33.5h-7.2z"/><path fill="#ffcc00" d="M166 2249.5h7.6v5.4h-7.6zM166 2264.5h7.6v50.4h-7.6zM166 2569.5h7.6v5.4h-7.6zM173.2 2244.5h7.6v5.4h-7.6zM173.2 2314.5h7.6v10.4h-7.6zM173.2 2384.5h7.6v45.4h-7.6zM173.2 2554.5h7.6v140.5h-7.6zM180.4 2321.5h7.6v35.4h-7.6zM187.6 2398.6h7.6v165.4h-7.6zM187.6 2703.6h7.6v5.5h-7.6zM194.7 2520.6h7.6v95.4h-7.6zM201.9 2272.7h7.6v5.4h-7.6zM201.9 2352.7h7.6v45.4h-7.6zM201.9 2472.7h7.6v55.4h-7.6zM201.9 2577.7h7.6v60.4h-7.6zM201.9 2717.7h7.6v5.5h-7.6zM216.3 2381.7h7.6v10.4h-7.6zM223.5 2298.8h7.6v5.4h-7.6zM223.5 2388.8h7.6v20.4h-7.6zM223.5 2488.8h7.6v60.4h-7.6zM223.5 2713.8h7.6v30.5h-7.6zM259.4 2464h7.6v55.4h-7.6zM259.4 2714h7.6v65.5h-7.6zM266.6 2341h7.6v190.4h-7.6zM266.6 2771h7.6v15.5h-7.6zM280.9 2405.1h7.6v25.4h-7.6zM280.9 2480.1h7.6v60.4h-7.6zM280.9 2595.1h7.6v195.4h-7.6zM316.9 2395.3h7.6v55.4h-7.6zM316.9 2515.3h7.6v65.4h-7.6zM316.9 2660.3h7.6v20.4h-7.6zM324 2422.3h7.6v5.4h-7.6zM324 2757.3h7.6v5.4h-7.6zM331.2 2379.4h7.6v15.4h-7.6zM331.2 2404.4h7.6v10.4h-7.6zM338.4 2396.4h7.6v20.4h-7.6zM352.8 2430.5h7.6v5.4h-7.6zM352.8 2500.5h7.6v15.4h-7.6zM360 2432.5h7.6v10.4h-7.6zM360 2512.5h7.6v15.4h-7.6zM360 2542.5h7.6v85.4h-7.6zM360 2747.5h7.6v40.4h-7.6zM367.2 2434.6h7.6v5.4h-7.6zM367.2 2454.6h7.6v10.4h-7.6zM367.2 2759.6h7.6v10.4h-7.6zM367.2 2819.6h7.6v60.4h-7.6zM374.3 2436.6h7.6v5.4h-7.6zM374.3 2461.6h7.6v5.4h-7.6zM374.3 2771.6h7.6v5.4h-7.6zM381.5 2433.7h7.6v10.4h-7.6zM381.5 2458.7h7.6v5.4h-7.6zM381.5 2758.7h7.6v5.4h-7.6zM388.7 2445.7h7.6v5.4h-7.6zM403.1 2449.8h7.6v10.4h-7.6zM403.1 2474.8h7.6v10.4h-7.6zM403.1 2539.8h7.6v145.4h-7.6zM403.1 2824.8h7.6v70.4h-7.6zM446.2 2517h7.6v5.4h-7.6zM446.2 2547h7.6v5.4h-7.6zM460.5 2536.1h7.6v25.4h-7.6zM460.5 2786.1h7.6v45.4h-7.6zM467.7 2593.1h7.6v195.4h-7.6zM467.7 2843.1h7.6v60.4h-7.6zM474.9 2545.2h7.6v5.4h-7.6zM474.9 2570.2h7.6v10.4h-7.6zM474.9 2625.2h7.6v5.4h-7.6zM474.9 2660.2h7.6v5.4h-7.6zM482.1 2532.2h7.6v5.4h-7.6zM496.5 2541.3h7.6v25.4h-7.6zM503.6 2548.3h7.6v30.4h-7.6zM503.6 3018.3h7.6v0.5h-7.6zM510.8 2555.4h7.6v30.4h-7.6zM518 2562.4h7.2v30.4h-7.2zM518 2962.4h7.2v30.4h-7.2z"/><path fill="#ffb300" d="M166 2254.5h7.6v10.4h-7.6zM166 2574.5h7.6v50.4h-7.6zM173.2 2249.5h7.6v25.4h-7.6zM173.2 2299.5h7.6v15.4h-7.6zM201.9 2277.7h7.6v75.4h-7.6zM201.9 2397.7h7.6v75.4h-7.6zM201.9 2527.7h7.6v50.4h-7.6zM201.9 2637.7h7.6v80.4h-7.6zM216.3 2301.7h7.6v65.4h-7.6zM216.3 2376.7h7.6v5.4h-7.6zM266.6 2531h7.6v75.4h-7.6zM266.6 2726h7.6v45.4h-7.6zM280.9 2365.1h7.6v40.4h-7.6zM280.9 2540.1h7.6v55.4h-7.6zM280.9 2790.1h7.6v10.5h-7.6zM316.9 2385.3h7.6v10.4h-7.6zM316.9 2450.3h7.6v65.4h-7.6zM316.9 2580.3h7.6v80.4h-7.6zM316.9 2680.3h7.6v65.4h-7.6zM316.9 2825.3h7.6v10.5h-7.6zM324 2417.3h7.6v5.4h-7.6zM324 2762.3h7.6v80.5h-7.6zM331.2 2394.4h7.6v10.4h-7.6zM338.4 2776.4h7.6v80.5h-7.6zM352.8 2435.5h7.6v65.4h-7.6zM360 2442.5h7.6v70.4h-7.6zM367.2 2439.6h7.6v15.4h-7.6zM367.2 2769.6h7.6v5.4h-7.6zM367.2 2794.6h7.6v25.4h-7.6zM367.2 2879.6h7.6v5.5h-7.6zM374.3 2441.6h7.6v20.4h-7.6zM374.3 2776.6h7.6v5.4h-7.6zM374.3 2826.6h7.6v55.4h-7.6zM381.5 2443.7h7.6v15.4h-7.6zM381.5 2763.7h7.6v5.4h-7.6zM381.5 2808.7h7.6v90.5h-7.6zM388.7 2435.7h7.6v10.4h-7.6zM403.1 2484.8h7.6v5.4h-7.6zM403.1 2524.8h7.6v15.4h-7.6zM403.1 2684.8h7.6v140.4h-7.6zM403.1 2894.8h7.6v25.5h-7.6zM446.2 2522h7.6v10.4h-7.6zM446.2 2542h7.6v5.4h-7.6zM467.7 2578.1h7.6v15.4h-7.6zM467.7 2788.1h7.6v55.4h-7.6zM467.7 2903.1h7.6v80.5h-7.6zM474.9 2550.2h7.6v20.4h-7.6zM474.9 2630.2h7.6v10.4h-7.6zM474.9 2655.2h7.6v5.4h-7.6zM482.1 2527.2h7.6v5.4h-7.6z"/><path fill="#b3ff4c" d="M166 2329.5h7.6v5.4h-7.6zM166 2374.5h7.6v135.4h-7.6zM166 2549.5h7.6v5.4h-7.6zM180.4 2246.5h7.6v5.4h-7.6zM180.4 2501.5h7.6v120.4h-7.6zM180.4 2696.5h7.6v5.5h-7.6zM194.7 2250.6h7.6v5.4h-7.6zM216.3 2461.7h7.6v5.4h-7.6zM216.3 2561.7h7.6v5.4h-7.6zM223.5 2283.8h7.6v5.4h-7.6zM245 2324.9h7.6v5.4h-7.6zM245 2379.9h7.6v5.4h-7.6zM252.2 2411.9h7.6v5.4h-7.6zM252.2 2646.9h7.6v5.4h-7.6zM273.8 2343.1h7.6v5.4h-7.6zM295.3 2444.2h7.6v70.4h-7.6zM295.3 2544.2h7.6v80.4h-7.6zM295.3 2664.2h7.6v20.4h-7.6zM295.3 2729.2h7.6v35.4h-7.6zM295.3 2779.2h7.6v35.5h-7.6zM302.5 2366.2h7.6v5.4h-7.6zM338.4 2471.4h7.6v5.4h-7.6zM338.4 2666.4h7.6v5.4h-7.6zM338.4 2706.4h7.6v20.4h-7.6zM338.4 2756.4h7.6v5.4h-7.6zM345.6 2483.5h7.6v5.4h-7.6zM345.6 2668.5h7.6v5.4h-7.6zM352.8 2415.5h7.6v5.4h-7.6zM360 2422.5h7.6v5.4h-7.6zM374.3 2481.6h7.6v20.4h-7.6zM374.3 2581.6h7.6v125.4h-7.6zM381.5 2583.7h7.6v5.4h-7.6zM388.7 2470.7h7.6v40.4h-7.6zM388.7 2635.7h7.6v10.4h-7.6zM388.7 2725.7h7.6v10.4h-7.6zM388.7 2780.7h7.6v70.4h-7.6zM395.9 2647.7h7.6v5.4h-7.6zM395.9 2727.7h7.6v5.4h-7.6zM410.3 2466.8h7.6v20.4h-7.6zM417.4 2528.9h7.6v5.4h-7.6zM417.4 2668.9h7.6v205.4h-7.6zM417.4 2898.9h7.6v35.5h-7.6zM439 2525h7.6v45.4h-7.6zM439 2655h7.6v120.4h-7.6zM439 2800h7.6v35.4h-7.6zM439 2860h7.6v95.5h-7.6zM446.2 2502h7.6v5.4h-7.6zM446.2 2827h7.6v55.4h-7.6zM453.4 2514.1h7.6v5.4h-7.6zM474.9 2680.2h7.6v10.4h-7.6zM474.9 2910.2h7.6v60.4h-7.6zM482.1 2677.2h7.6v10.4h-7.6zM482.1 2902.2h7.6v15.4h-7.6zM482.1 2972.2h7.6v25.5h-7.6zM489.3 2539.3h7.6v5.4h-7.6zM496.5 2631.3h7.6v10.4h-7.6zM496.5 2686.3h7.6v80.4h-7.6zM496.5 2796.3h7.6v30.4h-7.6zM496.5 2866.3h7.6v70.4h-7.6zM503.6 2738.3h7.6v10.4h-7.6zM503.6 2893.3h7.6v5.4h-7.6zM510.8 2750.4h7.6v15.4h-7.6zM510.8 2895.4h7.6v5.4h-7.6zM518 2762.4h7.2v10.4h-7.2zM518 2802.4h7.2v5.4h-7.2zM518 2902.4h7.2v5.4h-7.2z"/><path fill="#99ff66" d="M166 2334.5h7.6v40.4h-7.6zM166 2509.5h7.6v40.4h-7.6zM187.6 2248.6h7.6v5.4h-7.6zM194.7 2245.6h7.6v5.4h-7.6zM209.1 2279.7h7.6v5.4h-7.6zM216.3 2466.7h7.6v5.4h-7.6zM245 2454.9h7.6v5.4h-7.6zM252.2 2321.9h7.6v5.4h-7.6zM252.2 2641.9h7.6v5.4h-7.6zM259.4 2324h7.6v5.4h-7.6zM266.6 2326h7.6v5.4h-7.6zM266.6 2621h7.6v5.4h-7.6zM266.6 2706h7.6v5.4h-7.6zM273.8 2338.1h7.6v5.4h-7.6zM295.3 2359.2h7.6v5.4h-7.6zM295.3 2514.2h7.6v30.4h-7.6zM295.3 2624.2h7.6v40.4h-7.6zM295.3 2764.2h7.6v15.4h-7.6zM309.7 2368.3h7.6v5.4h-7.6zM338.4 2476.4h7.6v5.4h-7.6zM338.4 2726.4h7.6v30.4h-7.6zM345.6 2663.5h7.6v5.4h-7.6zM381.5 2523.7h7.6v5.4h-7.6zM381.5 2578.7h7.6v5.4h-7.6zM388.7 2645.7h7.6v10.4h-7.6zM388.7 2660.7h7.6v65.4h-7.6zM395.9 2652.7h7.6v55.4h-7.6zM395.9 2722.7h7.6v5.4h-7.6zM417.4 2523.9h7.6v5.4h-7.6zM417.4 2873.9h7.6v25.4h-7.6zM431.8 2567.9h7.6v125.4h-7.6zM439 2520h7.6v5.4h-7.6zM439 2570h7.6v85.4h-7.6zM439 2835h7.6v25.4h-7.6zM453.4 2509.1h7.6v5.4h-7.6zM474.9 2530.2h7.6v5.4h-7.6zM474.9 2690.2h7.6v45.4h-7.6zM474.9 2900.2h7.6v10.4h-7.6zM482.1 2687.2h7.6v5.4h-7.6zM482.1 2792.2h7.6v110.4h-7.6zM489.3 2559.3h7.6v5.4h-7.6zM496.5 2641.3h7.6v45.4h-7.6zM496.5 2766.3h7.6v30.4h-7.6zM496.5 2936.3h7.6v75.5h-7.6zM503.6 2748.3h7.6v40.4h-7.6zM503.6 2888.3h7.6v5.4h-7.6zM510.8 2765.4h7.6v30.4h-7.6zM510.8 2890.4h7.6v5.4h-7.6zM518 2807.4h7.2v5.4h-7.2zM518 2897.4h7.2v5.4h-7.2z"/><path fill="#ccff33" d="M166 2554.5h7.6v5.4h-7.6zM180.4 2371.5h7.6v130.4h-7.6zM180.4 2621.5h7.6v75.4h-7.6zM187.6 2253.6h7.6v5.4h-7.6zM194.7 2255.6h7.6v5.4h-7.6zM216.3 2291.7h7.6v5.4h-7.6zM216.3 2566.7h7.6v5.4h-7.6zM223.5 2288.8h7.6v5.4h-7.6zM245 2374.9h7.6v5.4h-7.6zM245 2459.9h7.6v5.4h-7.6zM252.2 2406.9h7.6v5.4h-7.6zM252.2 2651.9h7.6v25.4h-7.6zM252.2 2746.9h7.6v25.5h-7.6zM259.4 2329h7.6v5.4h-7.6zM266.6 2331h7.6v5.4h-7.6zM266.6 2616h7.6v5.4h-7.6zM266.6 2711h7.6v5.4h-7.6zM280.9 2355.1h7.6v5.4h-7.6zM288.1 2362.1h7.6v5.4h-7.6zM295.3 2364.2h7.6v5.4h-7.6zM295.3 2434.2h7.6v10.4h-7.6zM295.3 2684.2h7.6v45.4h-7.6zM302.5 2371.2h7.6v5.4h-7.6zM302.5 2581.2h7.6v20.4h-7.6zM309.7 2373.3h7.6v5.4h-7.6zM338.4 2671.4h7.6v35.4h-7.6zM345.6 2478.5h7.6v5.4h-7.6zM367.2 2634.6h7.6v35.4h-7.6zM374.3 2501.6h7.6v40.4h-7.6zM374.3 2546.6h7.6v35.4h-7.6zM374.3 2706.6h7.6v55.4h-7.6zM381.5 2518.7h7.6v5.4h-7.6zM381.5 2588.7h7.6v115.4h-7.6zM388.7 2465.7h7.6v5.4h-7.6zM388.7 2510.7h7.6v35.4h-7.6zM388.7 2570.7h7.6v65.4h-7.6zM388.7 2735.7h7.6v10.4h-7.6zM388.7 2755.7h7.6v25.4h-7.6zM388.7 2850.7h7.6v55.5h-7.6zM395.9 2642.7h7.6v5.4h-7.6zM395.9 2732.7h7.6v5.4h-7.6zM410.3 2461.8h7.6v5.4h-7.6zM417.4 2533.9h7.6v135.4h-7.6zM439 2775h7.6v25.4h-7.6zM446.2 2507h7.6v5.4h-7.6zM446.2 2562h7.6v265.4h-7.6zM446.2 2882h7.6v30.4h-7.6zM446.2 2922h7.6v40.5h-7.6zM453.4 2519.1h7.6v5.4h-7.6zM453.4 2769.1h7.6v45.4h-7.6zM453.4 2969.1h7.6v0.5h-7.6zM467.7 2533.1h7.6v5.4h-7.6zM474.9 2535.2h7.6v5.4h-7.6zM474.9 2675.2h7.6v5.4h-7.6zM474.9 2970.2h7.6v20.4h-7.6zM482.1 2552.2h7.6v125.4h-7.6zM482.1 2917.2h7.6v55.4h-7.6zM489.3 2564.3h7.6v5.4h-7.6zM496.5 2621.3h7.6v10.4h-7.6zM496.5 2826.3h7.6v40.4h-7.6zM503.6 2733.3h7.6v5.4h-7.6zM503.6 2898.3h7.6v5.4h-7.6zM510.8 2740.4h7.6v10.4h-7.6zM510.8 2900.4h7.6v5.4h-7.6zM518 2757.4h7.2v5.4h-7.2zM518 2772.4h7.2v30.4h-7.2zM518 2907.4h7.2v5.4h-7.2z"/><path fill="#ff9900" d="M166 2624.5h7.6v63.5h-7.6zM173.2 2274.5h7.6v25.4h-7.6zM216.3 2366.7h7.6v10.4h-7.6zM288.1 2372.1h7.6v5.4h-7.6zM288.1 2472.1h7.6v70.4h-7.6zM288.1 2722.1h7.6v85.5h-7.6zM316.9 2365.3h7.6v20.4h-7.6zM316.9 2745.3h7.6v80.4h-7.6zM324 2372.3h7.6v20.4h-7.6zM367.2 2774.6h7.6v20.4h-7.6zM374.3 2781.6h7.6v45.4h-7.6zM374.3 2881.6h7.6v10.5h-7.6zM381.5 2768.7h7.6v40.4h-7.6zM403.1 2489.8h7.6v35.4h-7.6zM446.2 2532h7.6v10.4h-7.6zM467.7 2543.1h7.6v35.4h-7.6zM474.9 2640.2h7.6v15.4h-7.6z"/><path fill="#33ffcc" d="M180.4 2231.5h7.6v5.4h-7.6zM187.6 2238.6h7.6v5.4h-7.6zM230.7 2300.8h7.6v5.4h-7.6zM245 2394.9h7.6v50.4h-7.6zM252.2 2471.9h7.6v55.4h-7.6zM295.3 2344.2h7.6v5.4h-7.6zM302.5 2351.2h7.6v5.4h-7.6zM338.4 2531.4h7.6v85.4h-7.6zM338.4 2641.4h7.6v10.4h-7.6zM352.8 2400.5h7.6v5.4h-7.6zM360 2407.5h7.6v5.4h-7.6zM460.5 2521.1h7.6v5.4h-7.6zM467.7 2523.1h7.6v5.4h-7.6zM474.9 2520.2h7.6v5.4h-7.6zM503.6 2803.3h7.6v5.4h-7.6zM503.6 2818.3h7.6v30.4h-7.6zM510.8 2815.4h7.6v15.4h-7.6z"/><path fill="#66ff99" d="M180.4 2236.5h7.6v5.4h-7.6zM187.6 2243.6h7.6v5.4h-7.6zM216.3 2496.7h7.6v60.4h-7.6zM245 2389.9h7.6v5.4h-7.6zM252.2 2421.9h7.6v20.4h-7.6zM252.2 2631.9h7.6v5.4h-7.6zM266.6 2626h7.6v20.4h-7.6zM273.8 2333.1h7.6v5.4h-7.6zM280.9 2350.1h7.6v5.4h-7.6zM295.3 2349.2h7.6v5.4h-7.6zM302.5 2356.2h7.6v5.4h-7.6zM309.7 2358.3h7.6v5.4h-7.6zM338.4 2481.4h7.6v5.4h-7.6zM338.4 2656.4h7.6v5.4h-7.6zM345.6 2493.5h7.6v5.4h-7.6zM345.6 2558.5h7.6v55.4h-7.6zM360 2412.5h7.6v5.4h-7.6zM381.5 2568.7h7.6v5.4h-7.6zM417.4 2518.9h7.6v5.4h-7.6zM431.8 2522.9h7.6v5.4h-7.6zM431.8 2887.9h7.6v60.5h-7.6zM446.2 2492h7.6v5.4h-7.6zM453.4 2504.1h7.6v5.4h-7.6zM474.9 2525.2h7.6v5.4h-7.6zM474.9 2865.2h7.6v25.4h-7.6zM489.3 2554.3h7.6v5.4h-7.6zM503.6 2793.3h7.6v5.4h-7.6zM503.6 2858.3h7.6v25.4h-7.6zM510.8 2800.4h7.6v10.4h-7.6zM510.8 2850.4h7.6v10.4h-7.6zM518 2817.4h7.2v5.4h-7.2zM518 2862.4h7.2v10.4h-7.2z"/><path fill="#80ff80" d="M180.4 2241.5h7.6v5.4h-7.6zM216.3 2286.7h7.6v5.4h-7.6zM216.3 2471.7h7.6v5.4h-7.6zM216.3 2556.7h7.6v5.4h-7.6zM223.5 2278.8h7.6v5.4h-7.6zM230.7 2305.8h7.6v5.4h-7.6zM237.8 2312.9h7.6v5.4h-7.6zM245 2384.9h7.6v5.4h-7.6zM245 2449.9h7.6v5.4h-7.6zM252.2 2416.9h7.6v5.4h-7.6zM252.2 2636.9h7.6v5.4h-7.6zM266.6 2321h7.6v5.4h-7.6zM295.3 2354.2h7.6v5.4h-7.6zM302.5 2361.2h7.6v5.4h-7.6zM309.7 2363.3h7.6v5.4h-7.6zM338.4 2661.4h7.6v5.4h-7.6zM345.6 2488.5h7.6v5.4h-7.6zM345.6 2658.5h7.6v5.4h-7.6zM352.8 2410.5h7.6v5.4h-7.6zM360 2417.5h7.6v5.4h-7.6zM381.5 2528.7h7.6v5.4h-7.6zM381.5 2573.7h7.6v5.4h-7.6zM388.7 2655.7h7.6v5.4h-7.6zM395.9 2707.7h7.6v15.4h-7.6zM431.8 2527.9h7.6v40.4h-7.6zM431.8 2692.9h7.6v195.4h-7.6zM439 2515h7.6v5.4h-7.6zM446.2 2497h7.6v5.4h-7.6zM460.5 2526.1h7.6v5.4h-7.6zM467.7 2528.1h7.6v5.4h-7.6zM474.9 2735.2h7.6v130.4h-7.6zM474.9 2890.2h7.6v10.4h-7.6zM482.1 2692.2h7.6v100.4h-7.6zM489.3 2544.3h7.6v10.4h-7.6zM503.6 2788.3h7.6v5.4h-7.6zM503.6 2883.3h7.6v5.4h-7.6zM510.8 2795.4h7.6v5.4h-7.6zM510.8 2860.4h7.6v30.4h-7.6zM518 2812.4h7.2v5.4h-7.2zM518 2872.4h7.2v25.4h-7.2z"/><path fill="#0080ff" d="M209.1 2259.7h7.6v5.4h-7.6zM216.3 2266.7h7.6v5.4h-7.6zM237.8 2302.9h7.6v5.4h-7.6zM245 2309.9h7.6v5.4h-7.6zM252.2 2301.9h7.6v5.4h-7.6zM280.9 2330.1h7.6v10.4h-7.6zM288.1 2337.1h7.6v5.4h-7.6zM424.6 2585.9h7.6v10.4h-7.6zM424.6 2765.9h7.6v175.5h-7.6zM439 2485h7.6v10.4h-7.6z"/><path fill="#0099ff" d="M209.1 2264.7h7.6v5.4h-7.6zM216.3 2271.7h7.6v5.4h-7.6zM252.2 2306.9h7.6v5.4h-7.6zM280.9 2340.1h7.6v5.4h-7.6zM288.1 2342.1h7.6v10.4h-7.6zM417.4 2503.9h7.6v5.4h-7.6zM424.6 2515.9h7.6v5.4h-7.6zM424.6 2580.9h7.6v5.4h-7.6zM424.6 2595.9h7.6v5.4h-7.6zM424.6 2760.9h7.6v5.4h-7.6zM460.5 2506.1h7.6v10.4h-7.6z"/><path fill="#00ffff" d="M209.1 2269.7h7.6v5.4h-7.6zM237.8 2307.9h7.6v5.4h-7.6zM252.2 2311.9h7.6v5.4h-7.6zM424.6 2550.9h7.6v15.4h-7.6zM424.6 2615.9h7.6v10.4h-7.6zM424.6 2680.9h7.6v70.4h-7.6zM431.8 2512.9h7.6v5.4h-7.6z"/><path fill="#4dffb2" d="M209.1 2274.7h7.6v5.4h-7.6zM216.3 2476.7h7.6v20.4h-7.6zM223.5 2273.8h7.6v5.4h-7.6zM245 2319.9h7.6v5.4h-7.6zM245 2444.9h7.6v5.4h-7.6zM252.2 2316.9h7.6v5.4h-7.6zM252.2 2441.9h7.6v30.4h-7.6zM252.2 2526.9h7.6v105.4h-7.6zM259.4 2319h7.6v5.4h-7.6zM266.6 2316h7.6v5.4h-7.6zM266.6 2646h7.6v60.4h-7.6zM273.8 2328.1h7.6v5.4h-7.6zM288.1 2357.1h7.6v5.4h-7.6zM338.4 2486.4h7.6v5.4h-7.6zM338.4 2651.4h7.6v5.4h-7.6zM345.6 2498.5h7.6v60.4h-7.6zM345.6 2613.5h7.6v45.4h-7.6zM352.8 2405.5h7.6v5.4h-7.6zM381.5 2533.7h7.6v35.4h-7.6zM417.4 2513.9h7.6v5.4h-7.6zM431.8 2517.9h7.6v5.4h-7.6zM439 2510h7.6v5.4h-7.6zM453.4 2499.1h7.6v5.4h-7.6zM503.6 2798.3h7.6v5.4h-7.6zM503.6 2848.3h7.6v10.4h-7.6zM510.8 2810.4h7.6v5.4h-7.6zM510.8 2830.4h7.6v20.4h-7.6zM518 2822.4h7.2v40.4h-7.2z"/><path fill="#00ccff" d="M216.3 2276.7h7.6v5.4h-7.6zM230.7 2295.8h7.6v5.4h-7.6zM259.4 2309h7.6v5.4h-7.6zM424.6 2570.9h7.6v5.4h-7.6zM424.6 2605.9h7.6v5.4h-7.6zM424.6 2755.9h7.6v5.4h-7.6zM431.8 2507.9h7.6v5.4h-7.6zM439 2500h7.6v5.4h-7.6z"/><path fill="#1affe5" d="M216.3 2281.7h7.6v5.4h-7.6zM259.4 2314h7.6v5.4h-7.6zM273.8 2323.1h7.6v5.4h-7.6zM280.9 2345.1h7.6v5.4h-7.6zM338.4 2491.4h7.6v40.4h-7.6zM338.4 2616.4h7.6v25.4h-7.6zM439 2505h7.6v5.4h-7.6zM503.6 2808.3h7.6v10.4h-7.6z"/><path fill="#0000ff" d="M230.7 2280.8h7.6v10.4h-7.6zM237.8 2297.9h7.6v5.4h-7.6zM245 2294.9h7.6v10.4h-7.6zM417.4 2493.9h7.6v5.4h-7.6zM424.6 2505.9h7.6v5.4h-7.6zM431.8 2477.9h7.6v20.4h-7.6z"/><path fill="#0066ff" d="M230.7 2290.8h7.6v5.4h-7.6zM431.8 2502.9h7.6v5.4h-7.6z"/><path fill="#000080" d="M237.8 2287.9h7.6v10.4h-7.6zM417.4 2463.9h7.6v20.4h-7.6zM424.6 2470.9h7.6v25.4h-7.6z"/><path fill="#001aff" d="M245 2304.9h7.6v5.4h-7.6z"/><path fill="#00e5ff" d="M245 2314.9h7.6v5.4h-7.6zM288.1 2352.1h7.6v5.4h-7.6zM417.4 2508.9h7.6v5.4h-7.6zM424.6 2525.9h7.6v25.4h-7.6zM424.6 2565.9h7.6v5.4h-7.6zM424.6 2610.9h7.6v5.4h-7.6zM424.6 2625.9h7.6v55.4h-7.6zM424.6 2750.9h7.6v5.4h-7.6zM460.5 2516.1h7.6v5.4h-7.6zM467.7 2513.1h7.6v10.4h-7.6z"/><path fill="#ff8000" d="M288.1 2377.1h7.6v95.4h-7.6zM288.1 2542.1h7.6v180.4h-7.6zM324 2392.3h7.6v25.4h-7.6z"/><path fill="#000099" d="M417.4 2483.9h7.6v5.4h-7.6zM424.6 2495.9h7.6v5.4h-7.6z"/><path fill="#0000b2" d="M417.4 2488.9h7.6v5.4h-7.6zM424.6 2500.9h7.6v5.4h-7.6z"/><path fill="#004dff" d="M417.4 2498.9h7.6v5.4h-7.6zM424.6 2510.9h7.6v5.4h-7.6z"/><path fill="#00b2ff" d="M424.6 2520.9h7.6v5.4h-7.6zM424.6 2575.9h7.6v5.4h-7.6zM424.6 2600.9h7.6v5.4h-7.6zM439 2495h7.6v5.4h-7.6z"/><path fill="#0033ff" d="M431.8 2497.9h7.6v5.4h-7.6z"/>
<path fill="#00e5ff" d="M608.7 2193.3h7.6v10.4h-7.6zM709.6 2309.8h7.6v5.4h-7.6zM724 2298.9h7.6v10.4h-7.6zM731.2 2410.9h7.6v80.4h-7.6zM824.9 2417.5h7.6v5.4h-7.6zM824.9 2572.5h7.6v5.4h-7.6zM846.6 2568.6h7.6v90.4h-7.6zM853.8 2470.6h7.6v5.4h-7.6zM861 2467.7h7.6v5.4h-7.6zM882.6 2463.8h7.6v5.4h-7.6zM889.8 2480.8h7.6v5.4h-7.6zM897 2467.9h7.6v10.4h-7.6zM904.2 2494.9h7.6v5.4h-7.6zM925.8 2721h7.6v25.4h-7.6zM954.7 2824.2h7.6v5.4h-7.6z"/><path fill="#33ffcc" d="M608.7 2203.3h7.6v5.4h-7.6zM608.7 2313.3h7.6v85.4h-7.6zM644.7 2371.5h7.6v65.4h-7.6zM688 2393.7h7.6v15.4h-7.6zM688 2473.7h7.6v30.4h-7.6zM688 2518.7h7.6v75.4h-7.6zM702.4 2417.8h7.6v20.4h-7.6zM702.4 2507.8h7.6v25.4h-7.6zM709.6 2314.8h7.6v5.4h-7.6zM724 2308.9h7.6v5.4h-7.6zM731.2 2495.9h7.6v5.4h-7.6zM788.9 2462.3h7.6v55.4h-7.6zM832.1 2464.5h7.6v5.4h-7.6zM839.4 2491.5h7.6v120.4h-7.6zM839.4 2751.5h7.6v55.4h-7.6zM839.4 2856.5h7.6v25.1h-7.6zM846.6 2733.6h7.6v30.4h-7.6zM846.6 2808.6h7.6v55.4h-7.6zM868.2 2469.7h7.6v5.4h-7.6zM875.4 2471.7h7.6v5.4h-7.6zM882.6 2468.8h7.6v5.4h-7.6zM889.8 2485.8h7.6v5.4h-7.6zM904.2 2499.9h7.6v5.4h-7.6zM904.2 2614.9h7.6v70.4h-7.6zM904.2 2929.9h7.6v15.1h-7.6zM918.6 2659h7.6v5.4h-7.6zM918.6 2739h7.6v10.4h-7.6zM925.8 2556h7.6v105.4h-7.6zM925.8 2666h7.6v10.4h-7.6zM925.8 2761h7.6v205.1h-7.6zM947.5 2742.1h7.6v5.4h-7.6zM947.5 2827.1h7.6v5.4h-7.6zM954.7 2754.2h7.6v5.4h-7.6z"/><path fill="#80ff80" d="M608.7 2208.3h7.6v5.4h-7.6zM608.7 2303.3h7.6v5.4h-7.6zM608.7 2408.3h7.6v5.4h-7.6zM615.9 2198.3h7.6v5.4h-7.6zM615.9 2333.3h7.6v90.4h-7.6zM615.9 2453.3h7.6v60.4h-7.6zM623.1 2330.3h7.6v5.4h-7.6zM623.1 2490.3h7.6v5.4h-7.6zM637.5 2349.4h7.6v5.4h-7.6zM637.5 2384.4h7.6v30.4h-7.6zM637.5 2534.4h7.6v5.4h-7.6zM680.8 2376.7h7.6v5.4h-7.6zM680.8 2416.7h7.6v35.4h-7.6zM680.8 2591.7h7.6v5.4h-7.6zM688 2383.7h7.6v5.4h-7.6zM688 2598.7h7.6v5.4h-7.6zM702.4 2377.8h7.6v5.4h-7.6zM731.2 2505.9h7.6v5.4h-7.6zM767.3 2496.1h7.6v135.4h-7.6zM774.5 2468.2h7.6v145.4h-7.6zM774.5 2643.2h7.6v5.4h-7.6zM788.9 2452.3h7.6v5.4h-7.6zM832.1 2479.5h7.6v10.4h-7.6zM832.1 2634.5h7.6v25.4h-7.6zM832.1 2754.5h7.6v20.4h-7.6zM832.1 2859.5h7.6v15.1h-7.6zM853.8 2495.6h7.6v25.4h-7.6zM853.8 2705.6h7.6v60.4h-7.6zM853.8 2825.6h7.6v55.4h-7.6zM861 2472.7h7.6v5.4h-7.6zM875.4 2686.7h7.6v20.4h-7.6zM882.6 2473.8h7.6v5.4h-7.6zM889.8 2490.8h7.6v5.4h-7.6zM897 2527.9h7.6v40.4h-7.6zM897 2622.9h7.6v45.4h-7.6zM897 2752.9h7.6v110.4h-7.6zM904.2 2524.9h7.6v5.4h-7.6zM918.6 2544h7.6v5.4h-7.6zM925.8 2546h7.6v5.4h-7.6zM947.5 2532.1h7.6v15.4h-7.6zM954.7 2539.2h7.6v5.4h-7.6zM954.7 2839.2h7.6v5.4h-7.6z"/><path fill="#ccff33" d="M608.7 2213.3h7.6v5.4h-7.6zM608.7 2293.3h7.6v5.4h-7.6zM608.7 2513.3h7.6v15.4h-7.6zM615.9 2313.3h7.6v5.4h-7.6zM615.9 2518.3h7.6v5.4h-7.6zM623.1 2320.3h7.6v5.4h-7.6zM623.1 2500.3h7.6v5.4h-7.6zM637.5 2334.4h7.6v5.4h-7.6zM644.7 2536.5h7.6v5.4h-7.6zM659.2 2430.5h7.6v35.4h-7.6zM659.2 2545.5h7.6v5.4h-7.6zM666.4 2382.6h7.6v10.4h-7.6zM666.4 2552.6h7.6v5.4h-7.6zM680.8 2271.7h7.6v5.4h-7.6zM680.8 2366.7h7.6v5.4h-7.6zM680.8 2601.7h7.6v5.4h-7.6zM688 2278.7h7.6v5.4h-7.6zM688 2373.7h7.6v5.4h-7.6zM695.2 2280.7h7.6v5.4h-7.6zM695.2 2390.7h7.6v105.4h-7.6zM695.2 2530.7h7.6v60.4h-7.6zM702.4 2367.8h7.6v5.4h-7.6zM702.4 2617.8h7.6v30.4h-7.6zM709.6 2329.8h7.6v10.4h-7.6zM709.6 2434.8h7.6v135.4h-7.6zM709.6 2594.8h7.6v10.4h-7.6zM716.8 2551.9h7.6v25.4h-7.6zM716.8 2611.9h7.6v15.4h-7.6zM731.2 2580.9h7.6v15.4h-7.6zM745.6 2425h7.6v5.4h-7.6zM745.6 2600h7.6v10.4h-7.6zM752.9 2437.1h7.6v10.4h-7.6zM752.9 2497.1h7.6v85.4h-7.6zM767.3 2451.1h7.6v5.4h-7.6zM767.3 2641.1h7.6v5.4h-7.6zM774.5 2448.2h7.6v10.4h-7.6zM774.5 2658.2h7.6v5.4h-7.6zM781.7 2460.2h7.6v10.4h-7.6zM781.7 2645.2h7.6v10.4h-7.6zM788.9 2442.3h7.6v5.4h-7.6zM796.1 2464.3h7.6v5.4h-7.6zM796.1 2514.3h7.6v25.4h-7.6zM796.1 2574.3h7.6v75.4h-7.6zM810.5 2508.4h7.6v10.4h-7.6zM810.5 2578.4h7.6v80.4h-7.6zM810.5 2773.4h7.6v80.1h-7.6zM817.7 2465.4h7.6v10.4h-7.6zM817.7 2650.4h7.6v40.4h-7.6zM817.7 2705.4h7.6v65.4h-7.6zM817.7 2845.4h7.6v15.1h-7.6zM875.4 2541.7h7.6v10.4h-7.6zM875.4 2611.7h7.6v30.4h-7.6zM882.6 2483.8h7.6v5.4h-7.6zM889.8 2505.8h7.6v15.4h-7.6zM897 2492.9h7.6v5.4h-7.6zM897 2512.9h7.6v5.4h-7.6zM911.4 2841.9h7.6v5.4h-7.6zM918.6 2534h7.6v5.4h-7.6zM925.8 2536h7.6v5.4h-7.6zM933.1 2628.1h7.6v10.4h-7.6zM933.1 2653.1h7.6v60.4h-7.6zM933.1 2753.1h7.6v25.4h-7.6zM933.1 2833.1h7.6v25.4h-7.6zM933.1 2878.1h7.6v15.4h-7.6zM947.5 2527.1h7.6v5.4h-7.6zM947.5 2547.1h7.6v5.4h-7.6zM947.5 2642.1h7.6v10.4h-7.6zM954.7 2624.2h7.6v120.4h-7.6zM954.7 2844.2h7.6v25.4h-7.6zM954.7 2899.2h7.6v20.4h-7.6zM961.9 2616.2h7.6v10.4h-7.6zM961.9 2831.2h7.6v5.4h-7.6zM969.1 2633.3h7.2v40.4h-7.2zM969.1 2753.3h7.2v75.4h-7.2z"/><path fill="#ffff00" d="M608.7 2218.3h7.6v5.4h-7.6zM608.7 2258.3h7.6v5.4h-7.6zM608.7 2573.3h7.6v30.4h-7.6zM608.7 2633.3h7.6v23.1h-7.6zM615.9 2273.3h7.6v35.4h-7.6zM615.9 2528.3h7.6v5.4h-7.6zM623.1 2285.3h7.6v5.4h-7.6zM623.1 2305.3h7.6v15.4h-7.6zM623.1 2515.3h7.6v5.4h-7.6zM630.3 2417.4h7.6v25.4h-7.6zM630.3 2457.4h7.6v70.4h-7.6zM637.5 2294.4h7.6v10.4h-7.6zM644.7 2331.5h7.6v20.4h-7.6zM644.7 2541.5h7.6v5.4h-7.6zM651.9 2328.5h7.6v10.4h-7.6zM651.9 2428.5h7.6v30.4h-7.6zM651.9 2493.5h7.6v15.4h-7.6zM659.2 2370.5h7.6v10.4h-7.6zM659.2 2550.5h7.6v5.4h-7.6zM666.4 2352.6h7.6v25.4h-7.6zM666.4 2562.6h7.6v5.4h-7.6zM673.6 2249.6h7.6v5.4h-7.6zM673.6 2329.6h7.6v20.4h-7.6zM673.6 2389.6h7.6v25.4h-7.6zM673.6 2454.6h7.6v75.4h-7.6zM680.8 2331.7h7.6v5.4h-7.6zM680.8 2616.7h7.6v5.4h-7.6zM688 2288.7h7.6v5.4h-7.6zM688 2343.7h7.6v25.4h-7.6zM688 2623.7h7.6v10.4h-7.6zM695.2 2285.7h7.6v5.4h-7.6zM695.2 2340.7h7.6v40.4h-7.6zM695.2 2600.7h7.6v10.4h-7.6zM695.2 2620.7h7.6v60.4h-7.6zM702.4 2307.8h7.6v5.4h-7.6zM702.4 2342.8h7.6v5.4h-7.6zM702.4 2362.8h7.6v5.4h-7.6zM702.4 2687.8h7.6v60.1h-7.6zM709.6 2619.8h7.6v50.4h-7.6zM716.8 2396.9h7.6v10.4h-7.6zM716.8 2631.9h7.6v10.4h-7.6zM716.8 2686.9h7.6v70.4h-7.6zM724 2323.9h7.6v5.4h-7.6zM724 2378.9h7.6v5.4h-7.6zM724 2753.9h7.6v15.1h-7.6zM731.2 2600.9h7.6v5.4h-7.6zM738.4 2383h7.6v25.4h-7.6zM738.4 2538h7.6v70.4h-7.6zM745.6 2390h7.6v25.4h-7.6zM752.9 2407.1h7.6v10.4h-7.6zM760.1 2489.1h7.6v110.4h-7.6zM760.1 2674.1h7.6v95.4h-7.6zM767.3 2426.1h7.6v5.4h-7.6zM767.3 2441.1h7.6v5.4h-7.6zM767.3 2651.1h7.6v65.4h-7.6zM774.5 2423.2h7.6v10.4h-7.6zM774.5 2718.2h7.6v5.4h-7.6zM781.7 2430.2h7.6v10.4h-7.6zM781.7 2665.2h7.6v15.4h-7.6zM781.7 2725.2h7.6v10.4h-7.6zM788.9 2417.3h7.6v5.4h-7.6zM788.9 2672.3h7.6v60.4h-7.6zM796.1 2439.3h7.6v15.4h-7.6zM796.1 2664.3h7.6v10.4h-7.6zM803.3 2466.3h7.6v140.4h-7.6zM803.3 2626.3h7.6v25.4h-7.6zM810.5 2388.4h7.6v5.4h-7.6zM810.5 2488.4h7.6v5.4h-7.6zM817.7 2395.4h7.6v5.4h-7.6zM817.7 2440.4h7.6v5.4h-7.6zM861 2477.7h7.6v5.4h-7.6zM861 2527.7h7.6v15.4h-7.6zM861 2582.7h7.6v55.4h-7.6zM861 2702.7h7.6v190.4h-7.6zM868.2 2479.7h7.6v10.4h-7.6zM868.2 2509.7h7.6v140.4h-7.6zM868.2 2754.7h7.6v25.4h-7.6zM868.2 2824.7h7.6v25.4h-7.6zM875.4 2516.7h7.6v5.4h-7.6zM897 2497.9h7.6v10.4h-7.6zM911.4 2506.9h7.6v125.4h-7.6zM911.4 2706.9h7.6v85.4h-7.6zM933.1 2503.1h7.6v10.4h-7.6zM933.1 2598.1h7.6v5.4h-7.6zM933.1 2898.1h7.6v5.4h-7.6zM940.3 2645.1h7.6v30.4h-7.6zM940.3 2725.1h7.6v65.4h-7.6zM940.3 2895.1h7.6v5.4h-7.6zM947.5 2522.1h7.6v5.4h-7.6zM947.5 2607.1h7.6v5.4h-7.6zM947.5 2627.1h7.6v10.4h-7.6zM954.7 2604.2h7.6v10.4h-7.6zM961.9 2531.2h7.6v50.4h-7.6zM961.9 2861.2h7.6v60.4h-7.6zM969.1 2578.3h7.2v45.4h-7.2zM969.1 2838.3h7.2v10.4h-7.2z"/><path fill="#ffb300" d="M608.7 2223.3h7.6v20.4h-7.6zM615.9 2223.3h7.6v35.4h-7.6zM615.9 2578.3h7.6v85.1h-7.6zM623.1 2540.3h7.6v10.4h-7.6zM623.1 2585.3h7.6v85.1h-7.6zM630.3 2207.4h7.6v5.4h-7.6zM630.3 2282.4h7.6v10.4h-7.6zM630.3 2542.4h7.6v80.4h-7.6zM637.5 2554.4h7.6v55.4h-7.6zM637.5 2669.4h7.6v15.1h-7.6zM644.7 2221.5h7.6v10.4h-7.6zM644.7 2311.5h7.6v5.4h-7.6zM644.7 2651.5h7.6v40.1h-7.6zM651.9 2228.5h7.6v15.4h-7.6zM651.9 2273.5h7.6v10.4h-7.6zM651.9 2523.5h7.6v65.4h-7.6zM651.9 2668.5h7.6v20.4h-7.6zM659.2 2325.5h7.6v10.4h-7.6zM659.2 2565.5h7.6v25.4h-7.6zM659.2 2675.5h7.6v10.4h-7.6zM666.4 2242.6h7.6v15.4h-7.6zM666.4 2282.6h7.6v15.4h-7.6zM666.4 2322.6h7.6v10.4h-7.6zM666.4 2572.6h7.6v20.4h-7.6zM666.4 2667.6h7.6v15.4h-7.6zM666.4 2692.6h7.6v20.1h-7.6zM673.6 2269.6h7.6v10.4h-7.6zM673.6 2309.6h7.6v10.4h-7.6zM673.6 2539.6h7.6v5.4h-7.6zM673.6 2644.6h7.6v50.4h-7.6zM680.8 2296.7h7.6v20.4h-7.6zM680.8 2636.7h7.6v90.1h-7.6zM688 2303.7h7.6v25.4h-7.6zM688 2698.7h7.6v35.4h-7.6zM695.2 2320.7h7.6v5.4h-7.6zM716.8 2346.9h7.6v10.4h-7.6zM716.8 2366.9h7.6v10.4h-7.6zM724 2328.9h7.6v35.4h-7.6zM731.2 2305.9h7.6v20.4h-7.6zM731.2 2350.9h7.6v30.4h-7.6zM731.2 2610.9h7.6v5.4h-7.6zM731.2 2685.9h7.6v90.4h-7.6zM738.4 2313h7.6v55.4h-7.6zM738.4 2623h7.6v20.4h-7.6zM745.6 2340h7.6v35.4h-7.6zM745.6 2625h7.6v5.4h-7.6zM745.6 2695h7.6v20.4h-7.6zM752.9 2357.1h7.6v5.4h-7.6zM752.9 2712.1h7.6v5.4h-7.6zM760.1 2409.1h7.6v5.4h-7.6zM767.3 2341.1h7.6v15.4h-7.6zM767.3 2391.1h7.6v20.4h-7.6zM767.3 2726.1h7.6v10.4h-7.6zM767.3 2806.1h7.6v5.1h-7.6zM774.5 2368.2h7.6v25.4h-7.6zM774.5 2738.2h7.6v55.4h-7.6zM781.7 2365.2h7.6v15.4h-7.6zM781.7 2390.2h7.6v15.4h-7.6zM781.7 2750.2h7.6v65.4h-7.6zM788.9 2382.3h7.6v20.4h-7.6zM788.9 2752.3h7.6v80.1h-7.6zM796.1 2409.3h7.6v5.4h-7.6zM796.1 2754.3h7.6v75.4h-7.6zM803.3 2376.3h7.6v15.4h-7.6zM803.3 2416.3h7.6v10.4h-7.6zM803.3 2761.3h7.6v5.4h-7.6zM803.3 2771.3h7.6v75.1h-7.6zM810.5 2408.4h7.6v65.4h-7.6zM817.7 2415.4h7.6v10.4h-7.6zM861 2507.7h7.6v5.4h-7.6zM875.4 2491.7h7.6v10.4h-7.6zM882.6 2858.8h7.6v5.4h-7.6zM933.1 2533.1h7.6v50.4h-7.6zM933.1 2913.1h7.6v60.1h-7.6zM940.3 2525.1h7.6v10.4h-7.6zM940.3 2580.1h7.6v10.4h-7.6zM940.3 2915.1h7.6v5.4h-7.6zM940.3 2960.1h7.6v20.1h-7.6zM947.5 2517.1h7.6v5.4h-7.6zM947.5 2557.1h7.6v35.4h-7.6z"/><path fill="#ffcc00" d="M608.7 2243.3h7.6v5.4h-7.6zM615.9 2213.3h7.6v5.4h-7.6zM615.9 2258.3h7.6v5.4h-7.6zM615.9 2563.3h7.6v15.4h-7.6zM623.1 2215.3h7.6v60.4h-7.6zM623.1 2530.3h7.6v10.4h-7.6zM623.1 2550.3h7.6v35.4h-7.6zM630.3 2292.4h7.6v5.4h-7.6zM630.3 2537.4h7.6v5.4h-7.6zM637.5 2229.4h7.6v60.4h-7.6zM637.5 2609.4h7.6v60.4h-7.6zM644.7 2316.5h7.6v10.4h-7.6zM644.7 2546.5h7.6v5.4h-7.6zM651.9 2283.5h7.6v40.4h-7.6zM651.9 2518.5h7.6v5.4h-7.6zM659.2 2335.5h7.6v10.4h-7.6zM659.2 2560.5h7.6v5.4h-7.6zM666.4 2297.6h7.6v25.4h-7.6zM666.4 2332.6h7.6v10.4h-7.6zM666.4 2567.6h7.6v5.4h-7.6zM666.4 2682.6h7.6v10.4h-7.6zM673.6 2264.6h7.6v5.4h-7.6zM673.6 2319.6h7.6v5.4h-7.6zM673.6 2534.6h7.6v5.4h-7.6zM680.8 2286.7h7.6v10.4h-7.6zM680.8 2316.7h7.6v10.4h-7.6zM680.8 2631.7h7.6v5.4h-7.6zM688 2293.7h7.6v10.4h-7.6zM688 2328.7h7.6v5.4h-7.6zM688 2638.7h7.6v60.4h-7.6zM695.2 2290.7h7.6v5.4h-7.6zM695.2 2325.7h7.6v10.4h-7.6zM702.4 2322.8h7.6v10.4h-7.6zM716.8 2341.9h7.6v5.4h-7.6zM716.8 2376.9h7.6v10.4h-7.6zM724 2363.9h7.6v5.4h-7.6zM731.2 2380.9h7.6v5.4h-7.6zM731.2 2775.9h7.6v0.1h-7.6zM738.4 2368h7.6v5.4h-7.6zM738.4 2613h7.6v10.4h-7.6zM745.6 2320h7.6v20.4h-7.6zM745.6 2375h7.6v10.4h-7.6zM745.6 2620h7.6v5.4h-7.6zM752.9 2362.1h7.6v35.4h-7.6zM760.1 2414.1h7.6v10.4h-7.6zM767.3 2411.1h7.6v5.4h-7.6zM767.3 2721.1h7.6v5.4h-7.6zM774.5 2348.2h7.6v20.4h-7.6zM774.5 2393.2h7.6v20.4h-7.6zM774.5 2728.2h7.6v10.4h-7.6zM774.5 2793.2h7.6v25.1h-7.6zM781.7 2355.2h7.6v10.4h-7.6zM781.7 2405.2h7.6v15.4h-7.6zM781.7 2740.2h7.6v10.4h-7.6zM781.7 2815.2h7.6v10.1h-7.6zM788.9 2362.3h7.6v20.4h-7.6zM788.9 2402.3h7.6v5.4h-7.6zM788.9 2742.3h7.6v10.4h-7.6zM796.1 2414.3h7.6v10.4h-7.6zM796.1 2744.3h7.6v10.4h-7.6zM803.3 2426.3h7.6v10.4h-7.6zM803.3 2751.3h7.6v10.4h-7.6zM810.5 2403.4h7.6v5.4h-7.6zM810.5 2473.4h7.6v5.4h-7.6zM817.7 2410.4h7.6v5.4h-7.6zM817.7 2425.4h7.6v5.4h-7.6zM861 2512.7h7.6v10.4h-7.6zM875.4 2486.7h7.6v5.4h-7.6zM875.4 2501.7h7.6v5.4h-7.6zM933.1 2523.1h7.6v10.4h-7.6zM933.1 2583.1h7.6v5.4h-7.6zM933.1 2908.1h7.6v5.4h-7.6zM940.3 2515.1h7.6v10.4h-7.6zM940.3 2590.1h7.6v5.4h-7.6zM940.3 2910.1h7.6v5.4h-7.6zM947.5 2592.1h7.6v5.4h-7.6z"/><path fill="#ffe500" d="M608.7 2248.3h7.6v10.4h-7.6zM608.7 2603.3h7.6v30.4h-7.6zM615.9 2263.3h7.6v10.4h-7.6zM615.9 2533.3h7.6v30.4h-7.6zM623.1 2200.3h7.6v15.4h-7.6zM623.1 2275.3h7.6v10.4h-7.6zM623.1 2510.3h7.6v5.4h-7.6zM623.1 2520.3h7.6v10.4h-7.6zM630.3 2297.4h7.6v120.4h-7.6zM630.3 2527.4h7.6v10.4h-7.6zM637.5 2214.4h7.6v15.4h-7.6zM637.5 2289.4h7.6v5.4h-7.6zM637.5 2549.4h7.6v5.4h-7.6zM644.7 2326.5h7.6v5.4h-7.6zM651.9 2323.5h7.6v5.4h-7.6zM651.9 2458.5h7.6v35.4h-7.6zM651.9 2508.5h7.6v10.4h-7.6zM659.2 2345.5h7.6v25.4h-7.6zM659.2 2555.5h7.6v5.4h-7.6zM666.4 2342.6h7.6v10.4h-7.6zM673.6 2254.6h7.6v10.4h-7.6zM673.6 2324.6h7.6v5.4h-7.6zM673.6 2414.6h7.6v40.4h-7.6zM673.6 2529.6h7.6v5.4h-7.6zM680.8 2281.7h7.6v5.4h-7.6zM680.8 2326.7h7.6v5.4h-7.6zM680.8 2621.7h7.6v10.4h-7.6zM688 2333.7h7.6v10.4h-7.6zM688 2633.7h7.6v5.4h-7.6zM695.2 2335.7h7.6v5.4h-7.6zM695.2 2610.7h7.6v10.4h-7.6zM702.4 2312.8h7.6v10.4h-7.6zM702.4 2332.8h7.6v10.4h-7.6zM716.8 2331.9h7.6v10.4h-7.6zM716.8 2386.9h7.6v10.4h-7.6zM716.8 2641.9h7.6v45.4h-7.6zM724 2368.9h7.6v10.4h-7.6zM731.2 2385.9h7.6v5.4h-7.6zM731.2 2605.9h7.6v5.4h-7.6zM738.4 2373h7.6v10.4h-7.6zM738.4 2408h7.6v130.4h-7.6zM738.4 2608h7.6v5.4h-7.6zM745.6 2385h7.6v5.4h-7.6zM745.6 2615h7.6v5.4h-7.6zM752.9 2397.1h7.6v10.4h-7.6zM752.9 2707.1h7.6v5.4h-7.6zM760.1 2424.1h7.6v65.4h-7.6zM760.1 2599.1h7.6v75.4h-7.6zM760.1 2769.1h7.6v35.1h-7.6zM767.3 2416.1h7.6v10.4h-7.6zM767.3 2431.1h7.6v10.4h-7.6zM767.3 2716.1h7.6v5.4h-7.6zM774.5 2413.2h7.6v10.4h-7.6zM774.5 2723.2h7.6v5.4h-7.6zM781.7 2420.2h7.6v10.4h-7.6zM781.7 2735.2h7.6v5.4h-7.6zM788.9 2407.3h7.6v10.4h-7.6zM788.9 2732.3h7.6v10.4h-7.6zM796.1 2424.3h7.6v15.4h-7.6zM796.1 2674.3h7.6v70.4h-7.6zM803.3 2436.3h7.6v30.4h-7.6zM803.3 2651.3h7.6v100.4h-7.6zM810.5 2393.4h7.6v10.4h-7.6zM810.5 2478.4h7.6v10.4h-7.6zM817.7 2400.4h7.6v10.4h-7.6zM817.7 2430.4h7.6v10.4h-7.6zM861 2522.7h7.6v5.4h-7.6zM868.2 2779.7h7.6v45.4h-7.6zM875.4 2481.7h7.6v5.4h-7.6zM875.4 2506.7h7.6v10.4h-7.6zM882.6 2853.8h7.6v5.4h-7.6zM918.6 2489h7.6v40.4h-7.6zM933.1 2513.1h7.6v10.4h-7.6zM933.1 2588.1h7.6v10.4h-7.6zM933.1 2903.1h7.6v5.4h-7.6zM940.3 2510.1h7.6v5.4h-7.6zM940.3 2595.1h7.6v50.4h-7.6zM940.3 2900.1h7.6v10.4h-7.6zM947.5 2552.1h7.6v5.4h-7.6zM947.5 2597.1h7.6v10.4h-7.6zM954.7 2554.2h7.6v50.4h-7.6zM969.1 2538.3h7.2v40.4h-7.2zM969.1 2848.3h7.2v153.1h-7.2z"/><path fill="#e5ff1a" d="M608.7 2263.3h7.6v30.4h-7.6zM608.7 2528.3h7.6v45.4h-7.6zM615.9 2208.3h7.6v5.4h-7.6zM615.9 2308.3h7.6v5.4h-7.6zM615.9 2523.3h7.6v5.4h-7.6zM623.1 2290.3h7.6v15.4h-7.6zM623.1 2505.3h7.6v5.4h-7.6zM630.3 2442.4h7.6v15.4h-7.6zM637.5 2304.4h7.6v30.4h-7.6zM637.5 2544.4h7.6v5.4h-7.6zM644.7 2351.5h7.6v5.4h-7.6zM651.9 2338.5h7.6v90.4h-7.6zM659.2 2380.5h7.6v50.4h-7.6zM666.4 2377.6h7.6v5.4h-7.6zM666.4 2557.6h7.6v5.4h-7.6zM673.6 2349.6h7.6v40.4h-7.6zM680.8 2276.7h7.6v5.4h-7.6zM680.8 2336.7h7.6v30.4h-7.6zM680.8 2606.7h7.6v10.4h-7.6zM688 2283.7h7.6v5.4h-7.6zM688 2368.7h7.6v5.4h-7.6zM688 2613.7h7.6v10.4h-7.6zM695.2 2380.7h7.6v10.4h-7.6zM695.2 2590.7h7.6v10.4h-7.6zM695.2 2680.7h7.6v60.1h-7.6zM702.4 2347.8h7.6v15.4h-7.6zM702.4 2647.8h7.6v40.4h-7.6zM709.6 2324.8h7.6v5.4h-7.6zM709.6 2569.8h7.6v25.4h-7.6zM709.6 2604.8h7.6v15.4h-7.6zM709.6 2669.8h7.6v85.1h-7.6zM716.8 2326.9h7.6v5.4h-7.6zM716.8 2406.9h7.6v145.4h-7.6zM716.8 2626.9h7.6v5.4h-7.6zM716.8 2756.9h7.6v5.1h-7.6zM724 2383.9h7.6v370.4h-7.6zM731.2 2390.9h7.6v5.4h-7.6zM731.2 2595.9h7.6v5.4h-7.6zM745.6 2415h7.6v10.4h-7.6zM745.6 2610h7.6v5.4h-7.6zM752.9 2417.1h7.6v20.4h-7.6zM752.9 2702.1h7.6v5.4h-7.6zM767.3 2446.1h7.6v5.4h-7.6zM767.3 2646.1h7.6v5.4h-7.6zM774.5 2433.2h7.6v15.4h-7.6zM774.5 2663.2h7.6v55.4h-7.6zM781.7 2440.2h7.6v20.4h-7.6zM781.7 2655.2h7.6v10.4h-7.6zM781.7 2680.2h7.6v45.4h-7.6zM788.9 2422.3h7.6v20.4h-7.6zM788.9 2667.3h7.6v5.4h-7.6zM796.1 2454.3h7.6v10.4h-7.6zM796.1 2539.3h7.6v35.4h-7.6zM796.1 2649.3h7.6v15.4h-7.6zM803.3 2606.3h7.6v20.4h-7.6zM810.5 2383.4h7.6v5.4h-7.6zM810.5 2493.4h7.6v15.4h-7.6zM817.7 2390.4h7.6v5.4h-7.6zM817.7 2445.4h7.6v20.4h-7.6zM817.7 2690.4h7.6v15.4h-7.6zM817.7 2770.4h7.6v75.4h-7.6zM861 2542.7h7.6v40.4h-7.6zM861 2637.7h7.6v65.4h-7.6zM861 2892.7h7.6v10.1h-7.6zM868.2 2489.7h7.6v20.4h-7.6zM868.2 2649.7h7.6v105.4h-7.6zM868.2 2849.7h7.6v60.1h-7.6zM875.4 2521.7h7.6v20.4h-7.6zM882.6 2848.8h7.6v5.4h-7.6zM889.8 2500.8h7.6v5.4h-7.6zM897 2507.9h7.6v5.4h-7.6zM911.4 2631.9h7.6v75.4h-7.6zM911.4 2791.9h7.6v50.4h-7.6zM911.4 2846.9h7.6v105.1h-7.6zM918.6 2529h7.6v5.4h-7.6zM925.8 2496h7.6v40.4h-7.6zM933.1 2603.1h7.6v25.4h-7.6zM933.1 2713.1h7.6v40.4h-7.6zM933.1 2858.1h7.6v20.4h-7.6zM933.1 2893.1h7.6v5.4h-7.6zM940.3 2675.1h7.6v50.4h-7.6zM940.3 2790.1h7.6v105.4h-7.6zM947.5 2612.1h7.6v15.4h-7.6zM947.5 2637.1h7.6v5.4h-7.6zM954.7 2549.2h7.6v5.4h-7.6zM954.7 2614.2h7.6v10.4h-7.6zM954.7 2869.2h7.6v30.4h-7.6zM961.9 2581.2h7.6v35.4h-7.6zM961.9 2836.2h7.6v25.4h-7.6zM961.9 2921.2h7.6v80.1h-7.6zM969.1 2623.3h7.2v10.4h-7.2zM969.1 2828.3h7.2v10.4h-7.2z"/><path fill="#99ff66" d="M608.7 2298.3h7.6v5.4h-7.6zM608.7 2413.3h7.6v5.4h-7.6zM615.9 2323.3h7.6v10.4h-7.6zM615.9 2423.3h7.6v30.4h-7.6zM615.9 2513.3h7.6v5.4h-7.6zM623.1 2495.3h7.6v5.4h-7.6zM637.5 2344.4h7.6v5.4h-7.6zM644.7 2361.5h7.6v5.4h-7.6zM644.7 2531.5h7.6v5.4h-7.6zM666.4 2412.6h7.6v30.4h-7.6zM666.4 2527.6h7.6v25.4h-7.6zM680.8 2371.7h7.6v5.4h-7.6zM680.8 2596.7h7.6v5.4h-7.6zM688 2263.7h7.6v10.4h-7.6zM688 2378.7h7.6v5.4h-7.6zM688 2603.7h7.6v5.4h-7.6zM702.4 2607.8h7.6v5.4h-7.6zM709.6 2319.8h7.6v5.4h-7.6zM731.2 2395.9h7.6v5.4h-7.6zM731.2 2510.9h7.6v5.4h-7.6zM745.6 2535h7.6v45.4h-7.6zM752.9 2457.1h7.6v5.4h-7.6zM752.9 2607.1h7.6v90.4h-7.6zM767.3 2461.1h7.6v35.4h-7.6zM767.3 2631.1h7.6v5.4h-7.6zM774.5 2463.2h7.6v5.4h-7.6zM774.5 2648.2h7.6v5.4h-7.6zM781.7 2570.2h7.6v55.4h-7.6zM788.9 2447.3h7.6v5.4h-7.6zM788.9 2657.3h7.6v5.4h-7.6zM853.8 2520.6h7.6v185.4h-7.6zM853.8 2880.6h7.6v15.1h-7.6zM868.2 2474.7h7.6v5.4h-7.6zM875.4 2556.7h7.6v25.4h-7.6zM875.4 2661.7h7.6v25.4h-7.6zM875.4 2706.7h7.6v210.1h-7.6zM882.6 2488.8h7.6v5.4h-7.6zM882.6 2843.8h7.6v5.4h-7.6zM889.8 2555.8h7.6v60.4h-7.6zM897 2487.9h7.6v5.4h-7.6zM897 2522.9h7.6v5.4h-7.6zM904.2 2504.9h7.6v10.4h-7.6zM904.2 2519.9h7.6v5.4h-7.6zM918.6 2539h7.6v5.4h-7.6zM925.8 2541h7.6v5.4h-7.6zM947.5 2717.1h7.6v20.4h-7.6zM947.5 2837.1h7.6v150.1h-7.6zM954.7 2744.2h7.6v5.4h-7.6zM961.9 2691.2h7.6v130.4h-7.6z"/><path fill="#66ff99" d="M608.7 2308.3h7.6v5.4h-7.6zM608.7 2403.3h7.6v5.4h-7.6zM623.1 2335.3h7.6v5.4h-7.6zM623.1 2375.3h7.6v110.4h-7.6zM637.5 2354.4h7.6v30.4h-7.6zM637.5 2414.4h7.6v75.4h-7.6zM644.7 2366.5h7.6v5.4h-7.6zM644.7 2501.5h7.6v30.4h-7.6zM680.8 2381.7h7.6v35.4h-7.6zM680.8 2451.7h7.6v10.4h-7.6zM680.8 2586.7h7.6v5.4h-7.6zM695.2 2270.7h7.6v5.4h-7.6zM702.4 2297.8h7.6v5.4h-7.6zM702.4 2382.8h7.6v5.4h-7.6zM702.4 2602.8h7.6v5.4h-7.6zM716.8 2316.9h7.6v5.4h-7.6zM724 2313.9h7.6v5.4h-7.6zM731.2 2400.9h7.6v5.4h-7.6zM774.5 2613.2h7.6v30.4h-7.6zM788.9 2652.3h7.6v5.4h-7.6zM832.1 2474.5h7.6v5.4h-7.6zM832.1 2489.5h7.6v145.4h-7.6zM832.1 2659.5h7.6v95.4h-7.6zM832.1 2774.5h7.6v85.4h-7.6zM853.8 2490.6h7.6v5.4h-7.6zM853.8 2765.6h7.6v60.4h-7.6zM882.6 2493.8h7.6v5.4h-7.6zM882.6 2603.8h7.6v60.4h-7.6zM882.6 2743.8h7.6v100.4h-7.6zM897 2482.9h7.6v5.4h-7.6zM897 2567.9h7.6v55.4h-7.6zM897 2667.9h7.6v85.4h-7.6zM897 2862.9h7.6v75.1h-7.6zM911.4 2496.9h7.6v5.4h-7.6zM918.6 2584h7.6v45.4h-7.6zM918.6 2759h7.6v20.4h-7.6zM918.6 2819h7.6v115.4h-7.6zM947.5 2737.1h7.6v5.4h-7.6zM947.5 2832.1h7.6v5.4h-7.6zM954.7 2749.2h7.6v5.4h-7.6z"/><path fill="#4dffb2" d="M608.7 2398.3h7.6v5.4h-7.6zM623.1 2340.3h7.6v35.4h-7.6zM623.1 2485.3h7.6v5.4h-7.6zM637.5 2489.4h7.6v45.4h-7.6zM644.7 2436.5h7.6v65.4h-7.6zM680.8 2461.7h7.6v125.4h-7.6zM688 2388.7h7.6v5.4h-7.6zM688 2408.7h7.6v65.4h-7.6zM688 2593.7h7.6v5.4h-7.6zM702.4 2387.8h7.6v30.4h-7.6zM702.4 2597.8h7.6v5.4h-7.6zM731.2 2500.9h7.6v5.4h-7.6zM788.9 2457.3h7.6v5.4h-7.6zM788.9 2517.3h7.6v135.4h-7.6zM832.1 2469.5h7.6v5.4h-7.6zM839.4 2611.5h7.6v140.4h-7.6zM839.4 2806.5h7.6v50.4h-7.6zM846.6 2763.6h7.6v45.4h-7.6zM846.6 2863.6h7.6v25.1h-7.6zM853.8 2475.6h7.6v15.4h-7.6zM882.6 2498.8h7.6v105.4h-7.6zM882.6 2663.8h7.6v80.4h-7.6zM904.2 2529.9h7.6v85.4h-7.6zM904.2 2684.9h7.6v245.4h-7.6zM918.6 2549h7.6v35.4h-7.6zM918.6 2629h7.6v30.4h-7.6zM918.6 2749h7.6v10.4h-7.6zM918.6 2779h7.6v40.4h-7.6zM918.6 2934h7.6v25.1h-7.6zM925.8 2551h7.6v5.4h-7.6zM925.8 2661h7.6v5.4h-7.6zM954.7 2534.2h7.6v5.4h-7.6zM954.7 2834.2h7.6v5.4h-7.6z"/><path fill="#b3ff4c" d="M608.7 2418.3h7.6v95.4h-7.6zM615.9 2203.3h7.6v5.4h-7.6zM615.9 2318.3h7.6v5.4h-7.6zM623.1 2325.3h7.6v5.4h-7.6zM637.5 2339.4h7.6v5.4h-7.6zM637.5 2539.4h7.6v5.4h-7.6zM644.7 2356.5h7.6v5.4h-7.6zM659.2 2465.5h7.6v80.4h-7.6zM666.4 2392.6h7.6v20.4h-7.6zM666.4 2442.6h7.6v85.4h-7.6zM680.8 2256.7h7.6v15.4h-7.6zM688 2273.7h7.6v5.4h-7.6zM688 2608.7h7.6v5.4h-7.6zM695.2 2275.7h7.6v5.4h-7.6zM695.2 2495.7h7.6v35.4h-7.6zM702.4 2302.8h7.6v5.4h-7.6zM702.4 2372.8h7.6v5.4h-7.6zM702.4 2612.8h7.6v5.4h-7.6zM709.6 2339.8h7.6v95.4h-7.6zM716.8 2321.9h7.6v5.4h-7.6zM716.8 2576.9h7.6v35.4h-7.6zM724 2318.9h7.6v5.4h-7.6zM731.2 2515.9h7.6v65.4h-7.6zM745.6 2430h7.6v105.4h-7.6zM745.6 2580h7.6v20.4h-7.6zM752.9 2447.1h7.6v10.4h-7.6zM752.9 2462.1h7.6v35.4h-7.6zM752.9 2582.1h7.6v25.4h-7.6zM752.9 2697.1h7.6v5.4h-7.6zM767.3 2456.1h7.6v5.4h-7.6zM767.3 2636.1h7.6v5.4h-7.6zM774.5 2458.2h7.6v5.4h-7.6zM774.5 2653.2h7.6v5.4h-7.6zM781.7 2470.2h7.6v100.4h-7.6zM781.7 2625.2h7.6v20.4h-7.6zM788.9 2662.3h7.6v5.4h-7.6zM796.1 2469.3h7.6v45.4h-7.6zM810.5 2518.4h7.6v60.4h-7.6zM810.5 2658.4h7.6v115.4h-7.6zM817.7 2475.4h7.6v175.4h-7.6zM875.4 2476.7h7.6v5.4h-7.6zM875.4 2551.7h7.6v5.4h-7.6zM875.4 2581.7h7.6v30.4h-7.6zM875.4 2641.7h7.6v20.4h-7.6zM882.6 2478.8h7.6v5.4h-7.6zM889.8 2495.8h7.6v5.4h-7.6zM889.8 2520.8h7.6v35.4h-7.6zM889.8 2615.8h7.6v315.1h-7.6zM897 2517.9h7.6v5.4h-7.6zM904.2 2514.9h7.6v5.4h-7.6zM911.4 2501.9h7.6v5.4h-7.6zM933.1 2638.1h7.6v15.4h-7.6zM933.1 2778.1h7.6v55.4h-7.6zM947.5 2652.1h7.6v65.4h-7.6zM954.7 2544.2h7.6v5.4h-7.6zM954.7 2919.2h7.6v75.1h-7.6zM961.9 2626.2h7.6v65.4h-7.6zM961.9 2821.2h7.6v10.4h-7.6zM969.1 2673.3h7.2v80.4h-7.2z"/><path fill="#1affe5" d="M615.9 2193.3h7.6v5.4h-7.6zM688 2503.7h7.6v15.4h-7.6zM702.4 2292.8h7.6v5.4h-7.6zM702.4 2437.8h7.6v70.4h-7.6zM702.4 2532.8h7.6v65.4h-7.6zM716.8 2311.9h7.6v5.4h-7.6zM731.2 2405.9h7.6v5.4h-7.6zM824.9 2427.5h7.6v25.4h-7.6zM824.9 2547.5h7.6v20.4h-7.6zM832.1 2459.5h7.6v5.4h-7.6zM839.4 2481.5h7.6v10.4h-7.6zM846.6 2473.6h7.6v35.4h-7.6zM846.6 2668.6h7.6v65.4h-7.6zM897 2477.9h7.6v5.4h-7.6zM911.4 2491.9h7.6v5.4h-7.6zM918.6 2664h7.6v10.4h-7.6zM918.6 2699h7.6v40.4h-7.6zM925.8 2676h7.6v10.4h-7.6zM925.8 2756h7.6v5.4h-7.6zM954.7 2524.2h7.6v10.4h-7.6zM954.7 2829.2h7.6v5.4h-7.6z"/><path fill="#ff9900" d="M615.9 2218.3h7.6v5.4h-7.6zM630.3 2212.4h7.6v25.4h-7.6zM630.3 2277.4h7.6v5.4h-7.6zM630.3 2622.4h7.6v55.1h-7.6zM644.7 2231.5h7.6v10.4h-7.6zM644.7 2271.5h7.6v40.4h-7.6zM644.7 2551.5h7.6v20.4h-7.6zM644.7 2641.5h7.6v10.4h-7.6zM651.9 2243.5h7.6v10.4h-7.6zM651.9 2263.5h7.6v10.4h-7.6zM651.9 2588.5h7.6v10.4h-7.6zM651.9 2653.5h7.6v15.4h-7.6zM651.9 2688.5h7.6v10.1h-7.6zM659.2 2235.5h7.6v5.4h-7.6zM659.2 2285.5h7.6v40.4h-7.6zM659.2 2590.5h7.6v10.4h-7.6zM659.2 2660.5h7.6v15.4h-7.6zM659.2 2685.5h7.6v20.1h-7.6zM666.4 2257.6h7.6v25.4h-7.6zM666.4 2592.6h7.6v10.4h-7.6zM666.4 2642.6h7.6v25.4h-7.6zM673.6 2279.6h7.6v30.4h-7.6zM673.6 2544.6h7.6v100.4h-7.6zM673.6 2694.6h7.6v25.1h-7.6zM688 2733.7h7.6v0.1h-7.6zM695.2 2295.7h7.6v25.4h-7.6zM716.8 2356.9h7.6v10.4h-7.6zM731.2 2325.9h7.6v25.4h-7.6zM731.2 2615.9h7.6v70.4h-7.6zM738.4 2643h7.6v75.4h-7.6zM745.6 2630h7.6v65.4h-7.6zM745.6 2715h7.6v50.4h-7.6zM752.9 2352.1h7.6v5.4h-7.6zM752.9 2717.1h7.6v10.4h-7.6zM752.9 2792.1h7.6v5.1h-7.6zM760.1 2384.1h7.6v25.4h-7.6zM767.3 2356.1h7.6v10.4h-7.6zM767.3 2376.1h7.6v15.4h-7.6zM767.3 2736.1h7.6v70.4h-7.6zM781.7 2380.2h7.6v10.4h-7.6zM796.1 2369.3h7.6v40.4h-7.6zM796.1 2829.3h7.6v10.1h-7.6zM803.3 2391.3h7.6v25.4h-7.6zM803.3 2766.3h7.6v5.4h-7.6zM861 2482.7h7.6v25.4h-7.6zM882.6 2888.8h7.6v35.1h-7.6zM940.3 2535.1h7.6v45.4h-7.6zM940.3 2920.1h7.6v40.4h-7.6z"/><path fill="#ff8000" d="M630.3 2237.4h7.6v40.4h-7.6zM644.7 2241.5h7.6v30.4h-7.6zM644.7 2571.5h7.6v10.4h-7.6zM644.7 2611.5h7.6v30.4h-7.6zM651.9 2253.5h7.6v10.4h-7.6zM651.9 2598.5h7.6v55.4h-7.6zM659.2 2240.5h7.6v15.4h-7.6zM659.2 2275.5h7.6v10.4h-7.6zM659.2 2600.5h7.6v60.4h-7.6zM666.4 2602.6h7.6v40.4h-7.6zM738.4 2718h7.6v40.4h-7.6zM745.6 2765h7.6v25.1h-7.6zM752.9 2347.1h7.6v5.4h-7.6zM752.9 2727.1h7.6v65.4h-7.6zM760.1 2364.1h7.6v20.4h-7.6zM767.3 2366.1h7.6v10.4h-7.6zM882.6 2863.8h7.6v25.4h-7.6z"/><path fill="#ff6600" d="M644.7 2581.5h7.6v30.4h-7.6zM659.2 2255.5h7.6v20.4h-7.6zM738.4 2758h7.6v25.4h-7.6zM752.9 2342.1h7.6v5.4h-7.6zM760.1 2349.1h7.6v15.4h-7.6z"/><path fill="#0080ff" d="M702.4 2277.8h7.6v10.4h-7.6zM709.6 2304.8h7.6v5.4h-7.6zM716.8 2291.9h7.6v10.4h-7.6zM824.9 2397.5h7.6v10.4h-7.6zM824.9 2587.5h7.6v100.4h-7.6zM824.9 2807.5h7.6v60.1h-7.6zM882.6 2453.8h7.6v10.4h-7.6zM889.8 2460.8h7.6v10.4h-7.6zM889.8 2475.8h7.6v5.4h-7.6zM904.2 2474.9h7.6v10.4h-7.6zM911.4 2481.9h7.6v5.4h-7.6z"/><path fill="#00ccff" d="M702.4 2287.8h7.6v5.4h-7.6zM716.8 2306.9h7.6v5.4h-7.6zM824.9 2412.5h7.6v5.4h-7.6zM824.9 2577.5h7.6v5.4h-7.6zM824.9 2702.5h7.6v90.4h-7.6zM846.6 2468.6h7.6v5.4h-7.6zM868.2 2464.7h7.6v5.4h-7.6zM911.4 2486.9h7.6v5.4h-7.6zM947.5 2752.1h7.6v5.4h-7.6zM947.5 2817.1h7.6v5.4h-7.6zM954.7 2764.2h7.6v35.4h-7.6z"/><path fill="#0000ff" d="M709.6 2284.8h7.6v15.4h-7.6zM868.2 2439.7h7.6v20.4h-7.6zM875.4 2446.7h7.6v15.4h-7.6z"/><path fill="#001aff" d="M709.6 2299.8h7.6v5.4h-7.6zM832.1 2444.5h7.6v5.4h-7.6zM839.4 2456.5h7.6v5.4h-7.6zM846.6 2458.6h7.6v5.4h-7.6z"/><path fill="#0099ff" d="M716.8 2301.9h7.6v5.4h-7.6zM824.9 2407.5h7.6v5.4h-7.6zM824.9 2582.5h7.6v5.4h-7.6zM824.9 2687.5h7.6v10.4h-7.6zM824.9 2797.5h7.6v10.4h-7.6zM839.4 2466.5h7.6v5.4h-7.6zM853.8 2465.6h7.6v5.4h-7.6zM889.8 2470.8h7.6v5.4h-7.6zM904.2 2484.9h7.6v10.4h-7.6zM947.5 2757.1h7.6v60.4h-7.6z"/><path fill="#00ffff" d="M731.2 2490.9h7.6v5.4h-7.6zM824.9 2422.5h7.6v5.4h-7.6zM824.9 2452.5h7.6v95.4h-7.6zM824.9 2567.5h7.6v5.4h-7.6zM839.4 2471.5h7.6v10.4h-7.6zM846.6 2508.6h7.6v60.4h-7.6zM846.6 2658.6h7.6v10.4h-7.6zM918.6 2674h7.6v25.4h-7.6zM925.8 2686h7.6v35.4h-7.6zM925.8 2746h7.6v10.4h-7.6zM947.5 2747.1h7.6v5.4h-7.6zM947.5 2822.1h7.6v5.4h-7.6zM954.7 2759.2h7.6v5.4h-7.6z"/><path fill="#ff4c00" d="M738.4 2783h7.6v0.1h-7.6zM752.9 2327.1h7.6v15.4h-7.6zM760.1 2334.1h7.6v15.4h-7.6z"/><path fill="#00b2ff" d="M824.9 2697.5h7.6v5.4h-7.6zM824.9 2792.5h7.6v5.4h-7.6zM832.1 2454.5h7.6v5.4h-7.6zM875.4 2466.7h7.6v5.4h-7.6zM954.7 2799.2h7.6v25.4h-7.6z"/><path fill="#000080" d="M832.1 2404.5h7.6v35.4h-7.6zM839.4 2411.5h7.6v40.4h-7.6zM846.6 2418.6h7.6v35.4h-7.6zM853.8 2425.6h7.6v30.4h-7.6zM861 2432.7h7.6v20.4h-7.6z"/><path fill="#0000cc" d="M832.1 2439.5h7.6v5.4h-7.6zM839.4 2451.5h7.6v5.4h-7.6zM846.6 2453.6h7.6v5.4h-7.6z"/><path fill="#0066ff" d="M832.1 2449.5h7.6v5.4h-7.6zM839.4 2461.5h7.6v5.4h-7.6zM846.6 2463.6h7.6v5.4h-7.6zM868.2 2459.7h7.6v5.4h-7.6zM875.4 2461.7h7.6v5.4h-7.6z"/><path fill="#0000e6" d="M853.8 2455.6h7.6v5.4h-7.6z"/><path fill="#0033ff" d="M853.8 2460.6h7.6v5.4h-7.6z"/><path fill="#000099" d="M861 2452.7h7.6v5.4h-7.6z"/><path fill="#0000b2" d="M861 2457.7h7.6v5.4h-7.6z"/><path fill="#004dff" d="M861 2462.7h7.6v5.4h-7.6z"/>
<path fill="#ffcc00" d="M1053 2160.7h7.6v20.4h-7.6zM1060.2 2180.7h7.6v10.4h-7.6zM1060.2 2555.7h7.6v10.4h-7.6zM1060.2 2600.7h7.6v28.3h-7.6zM1067.4 2262.7h7.6v15.4h-7.6zM1074.6 2204.8h7.6v15.4h-7.6zM1074.6 2584.8h7.6v58.3h-7.6zM1089 2238.9h7.6v10.4h-7.6zM1089 2298.9h7.6v5.4h-7.6zM1089 2453.9h7.6v5.4h-7.6zM1089 2543.9h7.6v10.4h-7.6zM1117.8 2292h7.6v10.4h-7.6zM1117.8 2442h7.6v5.4h-7.6zM1125 2274.1h7.6v5.4h-7.6zM1139.4 2303.1h7.6v5.4h-7.6zM1139.4 2478.1h7.6v5.4h-7.6zM1139.4 2628.1h7.6v78.3h-7.6zM1204.3 2321.5h7.6v5.4h-7.6zM1247.5 2363.7h7.6v5.4h-7.6zM1247.5 2698.7h7.6v5.4h-7.6zM1254.7 2385.8h7.6v10.4h-7.6zM1254.7 2710.8h7.6v35.4h-7.6zM1261.9 2382.8h7.6v5.4h-7.6zM1261.9 2717.8h7.6v90.4h-7.6zM1269.1 2384.9h7.6v10.4h-7.6zM1269.1 2719.9h7.6v35.4h-7.6zM1276.3 2391.9h7.6v10.4h-7.6zM1276.3 2731.9h7.6v25.4h-7.6zM1290.7 2436h7.6v20.4h-7.6zM1312.3 2437.1h7.6v20.4h-7.6zM1326.7 2451.2h7.6v10.4h-7.6zM1326.7 2481.2h7.6v5.4h-7.6zM1326.7 2821.2h7.6v5.4h-7.6zM1334 2443.2h7.6v5.4h-7.6zM1334 2833.2h7.6v63.3h-7.6zM1355.6 2509.3h7.6v5.4h-7.6zM1362.8 2511.4h7.6v5.4h-7.6zM1362.8 2856.4h7.6v5.4h-7.6zM1370 2488.4h7.6v5.4h-7.6zM1370 2528.4h7.6v5.4h-7.6zM1370 2868.4h7.6v5.4h-7.6zM1377.2 2500.5h7.6v30.4h-7.6zM1384.4 2502.5h7.6v5.4h-7.6zM1384.4 2542.5h7.6v10.4h-7.6zM1391.6 2504.5h7.6v5.4h-7.6zM1391.6 2524.5h7.6v10.4h-7.6zM1398.8 2506.6h7.6v10.4h-7.6zM1398.8 2531.6h7.6v5.4h-7.6zM1406 2553.6h7.6v10.4h-7.6zM1413.2 2530.7h7.2v10.4h-7.2zM1413.2 2560.7h7.2v5.4h-7.2z"/><path fill="#ffe500" d="M1053 2180.7h7.6v10.4h-7.6zM1053 2550.7h7.6v55.4h-7.6zM1060.2 2190.7h7.6v10.4h-7.6zM1060.2 2545.7h7.6v10.4h-7.6zM1067.4 2187.7h7.6v5.4h-7.6zM1067.4 2277.7h7.6v40.4h-7.6zM1067.4 2377.7h7.6v115.4h-7.6zM1067.4 2617.7h7.6v18.3h-7.6zM1074.6 2219.8h7.6v60.4h-7.6zM1074.6 2349.8h7.6v5.4h-7.6zM1074.6 2574.8h7.6v10.4h-7.6zM1081.8 2331.8h7.6v70.4h-7.6zM1081.8 2471.8h7.6v20.4h-7.6zM1081.8 2591.8h7.6v40.4h-7.6zM1089 2233.9h7.6v5.4h-7.6zM1089 2303.9h7.6v10.4h-7.6zM1089 2553.9h7.6v103.3h-7.6zM1117.8 2302h7.6v70.4h-7.6zM1117.8 2437h7.6v5.4h-7.6zM1125 2244.1h7.6v5.4h-7.6zM1125 2279.1h7.6v5.4h-7.6zM1139.4 2293.1h7.6v10.4h-7.6zM1197.1 2749.5h7.6v13.3h-7.6zM1204.3 2316.5h7.6v5.4h-7.6zM1204.3 2326.5h7.6v10.4h-7.6zM1211.5 2308.5h7.6v5.4h-7.6zM1225.9 2432.6h7.6v30.4h-7.6zM1254.7 2395.8h7.6v25.4h-7.6zM1254.7 2705.8h7.6v5.4h-7.6zM1261.9 2387.8h7.6v20.4h-7.6zM1261.9 2712.8h7.6v5.4h-7.6zM1269.1 2394.9h7.6v5.4h-7.6zM1269.1 2704.9h7.6v15.4h-7.6zM1269.1 2754.9h7.6v65.4h-7.6zM1276.3 2401.9h7.6v5.4h-7.6zM1276.3 2726.9h7.6v5.4h-7.6zM1283.5 2378.9h7.6v5.4h-7.6zM1290.7 2426h7.6v10.4h-7.6zM1290.7 2461h7.6v5.4h-7.6zM1312.3 2432.1h7.6v5.4h-7.6zM1312.3 2457.1h7.6v5.4h-7.6zM1326.7 2486.2h7.6v10.4h-7.6zM1326.7 2516.2h7.6v45.4h-7.6zM1326.7 2816.2h7.6v5.4h-7.6zM1334 2448.2h7.6v5.4h-7.6zM1334 2533.2h7.6v30.4h-7.6zM1334 2823.2h7.6v10.4h-7.6zM1355.6 2514.3h7.6v10.4h-7.6zM1355.6 2539.3h7.6v50.4h-7.6zM1355.6 2844.3h7.6v5.4h-7.6zM1362.8 2516.4h7.6v5.4h-7.6zM1370 2483.4h7.6v5.4h-7.6zM1370 2533.4h7.6v10.4h-7.6zM1370 2863.4h7.6v5.4h-7.6zM1377.2 2495.5h7.6v5.4h-7.6zM1377.2 2530.5h7.6v5.4h-7.6zM1384.4 2497.5h7.6v5.4h-7.6zM1384.4 2552.5h7.6v5.4h-7.6zM1391.6 2499.5h7.6v5.4h-7.6zM1391.6 2534.5h7.6v25.4h-7.6zM1398.8 2491.6h7.6v15.4h-7.6zM1398.8 2536.6h7.6v10.4h-7.6zM1406 2563.6h7.6v40.4h-7.6zM1413.2 2565.7h7.2v10.4h-7.2z"/><path fill="#ffff00" d="M1053 2190.7h7.6v10.4h-7.6zM1053 2250.7h7.6v85.4h-7.6zM1053 2480.7h7.6v70.4h-7.6zM1053 2605.7h7.6v16.3h-7.6zM1060.2 2200.7h7.6v140.4h-7.6zM1060.2 2475.7h7.6v30.4h-7.6zM1060.2 2535.7h7.6v10.4h-7.6zM1067.4 2317.7h7.6v60.4h-7.6zM1067.4 2492.7h7.6v125.4h-7.6zM1074.6 2199.8h7.6v5.4h-7.6zM1074.6 2279.8h7.6v15.4h-7.6zM1074.6 2314.8h7.6v35.4h-7.6zM1074.6 2569.8h7.6v5.4h-7.6zM1081.8 2211.8h7.6v120.4h-7.6zM1081.8 2401.8h7.6v70.4h-7.6zM1081.8 2491.8h7.6v50.4h-7.6zM1081.8 2546.8h7.6v45.4h-7.6zM1081.8 2631.8h7.6v18.3h-7.6zM1089 2228.9h7.6v5.4h-7.6zM1089 2313.9h7.6v5.4h-7.6zM1089 2448.9h7.6v5.4h-7.6zM1103.4 2242.9h7.6v55.4h-7.6zM1103.4 2607.9h7.6v40.4h-7.6zM1110.6 2240h7.6v250.4h-7.6zM1110.6 2560h7.6v20.4h-7.6zM1117.8 2242h7.6v5.4h-7.6zM1117.8 2372h7.6v65.4h-7.6zM1125 2284.1h7.6v5.4h-7.6zM1132.2 2346.1h7.6v15.4h-7.6zM1139.4 2288.1h7.6v5.4h-7.6zM1197.1 2704.5h7.6v45.4h-7.6zM1204.3 2301.5h7.6v15.4h-7.6zM1204.3 2336.5h7.6v5.4h-7.6zM1204.3 2711.5h7.6v58.3h-7.6zM1211.5 2313.5h7.6v15.4h-7.6zM1225.9 2427.6h7.6v5.4h-7.6zM1225.9 2462.6h7.6v30.4h-7.6zM1233.1 2354.7h7.6v5.4h-7.6zM1233.1 2479.7h7.6v20.4h-7.6zM1240.3 2361.7h7.6v5.4h-7.6zM1247.5 2693.7h7.6v5.4h-7.6zM1254.7 2420.8h7.6v5.4h-7.6zM1254.7 2695.8h7.6v10.4h-7.6zM1261.9 2407.8h7.6v5.4h-7.6zM1269.1 2399.9h7.6v130.4h-7.6zM1269.1 2644.9h7.6v60.4h-7.6zM1269.1 2819.9h7.6v13.3h-7.6zM1276.3 2406.9h7.6v25.4h-7.6zM1276.3 2721.9h7.6v5.4h-7.6zM1283.5 2383.9h7.6v5.4h-7.6zM1290.7 2416h7.6v10.4h-7.6zM1290.7 2466h7.6v5.4h-7.6zM1312.3 2427.1h7.6v5.4h-7.6zM1312.3 2462.1h7.6v10.4h-7.6zM1326.7 2496.2h7.6v20.4h-7.6zM1326.7 2561.2h7.6v5.4h-7.6zM1334 2453.2h7.6v80.4h-7.6zM1334 2563.2h7.6v25.4h-7.6zM1334 2768.2h7.6v45.4h-7.6zM1334 2818.2h7.6v5.4h-7.6zM1348.4 2542.3h7.6v55.4h-7.6zM1348.4 2717.3h7.6v115.4h-7.6zM1355.6 2524.3h7.6v15.4h-7.6zM1355.6 2589.3h7.6v5.4h-7.6zM1355.6 2839.3h7.6v5.4h-7.6zM1362.8 2521.4h7.6v10.4h-7.6zM1362.8 2851.4h7.6v5.4h-7.6zM1370 2543.4h7.6v25.4h-7.6zM1377.2 2490.5h7.6v5.4h-7.6zM1377.2 2535.5h7.6v10.4h-7.6zM1377.2 2565.5h7.6v45.4h-7.6zM1384.4 2492.5h7.6v5.4h-7.6zM1384.4 2557.5h7.6v25.4h-7.6zM1384.4 2612.5h7.6v5.4h-7.6zM1391.6 2484.5h7.6v15.4h-7.6zM1391.6 2559.5h7.6v35.4h-7.6zM1398.8 2546.6h7.6v35.4h-7.6zM1406 2603.6h7.6v10.4h-7.6zM1406 2938.6h7.6v28.3h-7.6zM1413.2 2575.7h7.2v30.4h-7.2zM1413.2 2900.7h7.2v66.3h-7.2z"/><path fill="#e5ff1a" d="M1053 2200.7h7.6v50.4h-7.6zM1053 2335.7h7.6v5.4h-7.6zM1053 2470.7h7.6v10.4h-7.6zM1060.2 2340.7h7.6v5.4h-7.6zM1060.2 2465.7h7.6v10.4h-7.6zM1060.2 2505.7h7.6v30.4h-7.6zM1074.6 2294.8h7.6v20.4h-7.6zM1074.6 2354.8h7.6v5.4h-7.6zM1074.6 2564.8h7.6v5.4h-7.6zM1081.8 2541.8h7.6v5.4h-7.6zM1089 2218.9h7.6v10.4h-7.6zM1089 2318.9h7.6v130.4h-7.6zM1096.2 2305.9h7.6v130.4h-7.6zM1096.2 2440.9h7.6v195.4h-7.6zM1103.4 2297.9h7.6v310.4h-7.6zM1103.4 2647.9h7.6v23.3h-7.6zM1110.6 2490h7.6v70.4h-7.6zM1110.6 2580h7.6v98.3h-7.6zM1125 2239.1h7.6v5.4h-7.6zM1125 2289.1h7.6v5.4h-7.6zM1132.2 2306.1h7.6v40.4h-7.6zM1132.2 2361.1h7.6v150.4h-7.6zM1132.2 2551.1h7.6v148.3h-7.6zM1197.1 2294.5h7.6v20.4h-7.6zM1197.1 2699.5h7.6v5.4h-7.6zM1204.3 2706.5h7.6v5.4h-7.6zM1211.5 2328.5h7.6v10.4h-7.6zM1225.9 2417.6h7.6v10.4h-7.6zM1225.9 2492.6h7.6v10.4h-7.6zM1225.9 2667.6h7.6v45.4h-7.6zM1233.1 2409.7h7.6v70.4h-7.6zM1233.1 2499.7h7.6v10.4h-7.6zM1233.1 2684.7h7.6v20.4h-7.6zM1247.5 2368.7h7.6v5.4h-7.6zM1247.5 2688.7h7.6v5.4h-7.6zM1254.7 2425.8h7.6v25.4h-7.6zM1254.7 2550.8h7.6v130.4h-7.6zM1254.7 2690.8h7.6v5.4h-7.6zM1261.9 2707.8h7.6v5.4h-7.6zM1269.1 2529.9h7.6v115.4h-7.6zM1276.3 2431.9h7.6v5.4h-7.6zM1276.3 2716.9h7.6v5.4h-7.6zM1283.5 2388.9h7.6v5.4h-7.6zM1312.3 2422.1h7.6v5.4h-7.6zM1312.3 2472.1h7.6v5.4h-7.6zM1319.5 2444.1h7.6v20.4h-7.6zM1326.7 2446.2h7.6v5.4h-7.6zM1326.7 2566.2h7.6v10.4h-7.6zM1326.7 2811.2h7.6v5.4h-7.6zM1334 2588.2h7.6v180.4h-7.6zM1334 2813.2h7.6v5.4h-7.6zM1341.2 2435.3h7.6v5.4h-7.6zM1341.2 2475.3h7.6v10.4h-7.6zM1341.2 2525.3h7.6v50.4h-7.6zM1348.4 2472.3h7.6v15.4h-7.6zM1348.4 2517.3h7.6v25.4h-7.6zM1348.4 2597.3h7.6v70.4h-7.6zM1348.4 2697.3h7.6v20.4h-7.6zM1348.4 2832.3h7.6v78.3h-7.6zM1355.6 2594.3h7.6v5.4h-7.6zM1362.8 2531.4h7.6v65.4h-7.6zM1370 2478.4h7.6v5.4h-7.6zM1370 2568.4h7.6v40.4h-7.6zM1370 2858.4h7.6v5.4h-7.6zM1377.2 2485.5h7.6v5.4h-7.6zM1377.2 2545.5h7.6v20.4h-7.6zM1377.2 2610.5h7.6v5.4h-7.6zM1384.4 2487.5h7.6v5.4h-7.6zM1384.4 2582.5h7.6v30.4h-7.6zM1384.4 2617.5h7.6v15.4h-7.6zM1384.4 2827.5h7.6v30.4h-7.6zM1391.6 2594.5h7.6v5.4h-7.6zM1398.8 2581.6h7.6v60.4h-7.6zM1406 2518.6h7.6v5.4h-7.6zM1406 2613.6h7.6v80.4h-7.6zM1406 2893.6h7.6v45.4h-7.6zM1413.2 2525.7h7.2v5.4h-7.2zM1413.2 2605.7h7.2v10.4h-7.2zM1413.2 2890.7h7.2v10.4h-7.2z"/><path fill="#ccff33" d="M1053 2340.7h7.6v5.4h-7.6zM1053 2460.7h7.6v10.4h-7.6zM1060.2 2450.7h7.6v15.4h-7.6zM1067.4 2182.7h7.6v5.4h-7.6zM1074.6 2444.8h7.6v120.4h-7.6zM1096.2 2220.9h7.6v10.4h-7.6zM1096.2 2265.9h7.6v40.4h-7.6zM1096.2 2435.9h7.6v5.4h-7.6zM1096.2 2635.9h7.6v28.3h-7.6zM1103.4 2237.9h7.6v5.4h-7.6zM1125 2294.1h7.6v5.4h-7.6zM1125 2384.1h7.6v50.4h-7.6zM1132.2 2251.1h7.6v55.4h-7.6zM1132.2 2511.1h7.6v40.4h-7.6zM1146.7 2315.2h7.6v200.4h-7.6zM1146.7 2700.2h7.6v13.3h-7.6zM1197.1 2314.5h7.6v10.4h-7.6zM1197.1 2694.5h7.6v5.4h-7.6zM1204.3 2341.5h7.6v5.4h-7.6zM1204.3 2701.5h7.6v5.4h-7.6zM1211.5 2338.5h7.6v5.4h-7.6zM1211.5 2408.5h7.6v110.4h-7.6zM1211.5 2703.5h7.6v50.4h-7.6zM1225.9 2412.6h7.6v5.4h-7.6zM1225.9 2502.6h7.6v10.4h-7.6zM1225.9 2617.6h7.6v50.4h-7.6zM1225.9 2712.6h7.6v75.4h-7.6zM1233.1 2349.7h7.6v5.4h-7.6zM1233.1 2509.7h7.6v10.4h-7.6zM1233.1 2654.7h7.6v30.4h-7.6zM1233.1 2704.7h7.6v93.3h-7.6zM1240.3 2366.7h7.6v5.4h-7.6zM1254.7 2450.8h7.6v100.4h-7.6zM1254.7 2680.8h7.6v10.4h-7.6zM1261.9 2412.8h7.6v5.4h-7.6zM1276.3 2436.9h7.6v5.4h-7.6zM1283.5 2393.9h7.6v10.4h-7.6zM1283.5 2538.9h7.6v225.4h-7.6zM1290.7 2471h7.6v5.4h-7.6zM1312.3 2417.1h7.6v5.4h-7.6zM1312.3 2477.1h7.6v25.4h-7.6zM1312.3 2702.1h7.6v15.4h-7.6zM1319.5 2464.1h7.6v10.4h-7.6zM1319.5 2699.1h7.6v90.4h-7.6zM1326.7 2576.2h7.6v5.4h-7.6zM1326.7 2631.2h7.6v75.4h-7.6zM1326.7 2806.2h7.6v5.4h-7.6zM1341.2 2485.3h7.6v40.4h-7.6zM1341.2 2575.3h7.6v10.4h-7.6zM1341.2 2720.3h7.6v45.4h-7.6zM1348.4 2487.3h7.6v30.4h-7.6zM1348.4 2667.3h7.6v30.4h-7.6zM1355.6 2599.3h7.6v10.4h-7.6zM1355.6 2669.3h7.6v105.4h-7.6zM1355.6 2829.3h7.6v10.4h-7.6zM1362.8 2596.4h7.6v5.4h-7.6zM1362.8 2846.4h7.6v5.4h-7.6zM1370 2473.4h7.6v5.4h-7.6zM1370 2608.4h7.6v10.4h-7.6zM1370 2738.4h7.6v50.4h-7.6zM1370 2853.4h7.6v5.4h-7.6zM1377.2 2480.5h7.6v5.4h-7.6zM1377.2 2615.5h7.6v5.4h-7.6zM1384.4 2632.5h7.6v195.4h-7.6zM1384.4 2857.5h7.6v80.4h-7.6zM1398.8 2641.6h7.6v75.4h-7.6zM1398.8 2756.6h7.6v115.4h-7.6zM1398.8 2936.6h7.6v23.3h-7.6zM1406 2693.6h7.6v30.4h-7.6zM1406 2883.6h7.6v10.4h-7.6zM1413.2 2615.7h7.2v5.4h-7.2zM1413.2 2880.7h7.2v10.4h-7.2z"/><path fill="#b3ff4c" d="M1053 2345.7h7.6v5.4h-7.6zM1053 2450.7h7.6v10.4h-7.6zM1060.2 2345.7h7.6v5.4h-7.6zM1060.2 2445.7h7.6v5.4h-7.6zM1074.6 2194.8h7.6v5.4h-7.6zM1074.6 2359.8h7.6v5.4h-7.6zM1081.8 2206.8h7.6v5.4h-7.6zM1096.2 2215.9h7.6v5.4h-7.6zM1096.2 2230.9h7.6v35.4h-7.6zM1125 2299.1h7.6v35.4h-7.6zM1125 2354.1h7.6v30.4h-7.6zM1125 2434.1h7.6v55.4h-7.6zM1125 2544.1h7.6v20.4h-7.6zM1132.2 2246.1h7.6v5.4h-7.6zM1146.7 2310.2h7.6v5.4h-7.6zM1146.7 2515.2h7.6v185.4h-7.6zM1197.1 2324.5h7.6v25.4h-7.6zM1197.1 2689.5h7.6v5.4h-7.6zM1204.3 2346.5h7.6v20.4h-7.6zM1204.3 2696.5h7.6v5.4h-7.6zM1211.5 2343.5h7.6v65.4h-7.6zM1211.5 2518.5h7.6v60.4h-7.6zM1211.5 2648.5h7.6v55.4h-7.6zM1211.5 2753.5h7.6v20.4h-7.6zM1225.9 2367.6h7.6v45.4h-7.6zM1225.9 2512.6h7.6v105.4h-7.6zM1225.9 2787.6h7.6v3.3h-7.6zM1233.1 2404.7h7.6v5.4h-7.6zM1233.1 2519.7h7.6v135.4h-7.6zM1240.3 2371.7h7.6v5.4h-7.6zM1247.5 2683.7h7.6v5.4h-7.6zM1261.9 2417.8h7.6v5.4h-7.6zM1261.9 2702.8h7.6v5.4h-7.6zM1276.3 2441.9h7.6v5.4h-7.6zM1276.3 2711.9h7.6v5.4h-7.6zM1283.5 2403.9h7.6v135.4h-7.6zM1283.5 2763.9h7.6v83.3h-7.6zM1290.7 2411h7.6v5.4h-7.6zM1290.7 2476h7.6v5.4h-7.6zM1312.3 2407.1h7.6v10.4h-7.6zM1312.3 2502.1h7.6v10.4h-7.6zM1312.3 2687.1h7.6v15.4h-7.6zM1312.3 2717.1h7.6v30.4h-7.6zM1312.3 2867.1h7.6v8.3h-7.6zM1319.5 2474.1h7.6v5.4h-7.6zM1319.5 2504.1h7.6v80.4h-7.6zM1319.5 2619.1h7.6v80.4h-7.6zM1319.5 2789.1h7.6v20.4h-7.6zM1319.5 2869.1h7.6v13.3h-7.6zM1326.7 2581.2h7.6v50.4h-7.6zM1326.7 2706.2h7.6v100.4h-7.6zM1341.2 2440.3h7.6v5.4h-7.6zM1341.2 2470.3h7.6v5.4h-7.6zM1341.2 2585.3h7.6v10.4h-7.6zM1341.2 2600.3h7.6v70.4h-7.6zM1341.2 2680.3h7.6v40.4h-7.6zM1341.2 2765.3h7.6v138.3h-7.6zM1348.4 2467.3h7.6v5.4h-7.6zM1355.6 2609.3h7.6v15.4h-7.6zM1355.6 2639.3h7.6v30.4h-7.6zM1355.6 2774.3h7.6v55.4h-7.6zM1362.8 2601.4h7.6v5.4h-7.6zM1370 2463.4h7.6v10.4h-7.6zM1370 2618.4h7.6v120.4h-7.6zM1370 2788.4h7.6v65.4h-7.6zM1377.2 2470.5h7.6v10.4h-7.6zM1377.2 2620.5h7.6v5.4h-7.6zM1384.4 2477.5h7.6v10.4h-7.6zM1384.4 2937.5h7.6v8.3h-7.6zM1391.6 2599.5h7.6v5.4h-7.6zM1398.8 2716.6h7.6v40.4h-7.6zM1398.8 2871.6h7.6v65.4h-7.6zM1406 2723.6h7.6v160.4h-7.6zM1413.2 2620.7h7.2v145.4h-7.2zM1413.2 2835.7h7.2v45.4h-7.2z"/><path fill="#80ff80" d="M1053 2350.7h7.6v5.4h-7.6zM1053 2440.7h7.6v5.4h-7.6zM1060.2 2435.7h7.6v5.4h-7.6zM1074.6 2364.8h7.6v5.4h-7.6zM1074.6 2434.8h7.6v5.4h-7.6zM1096.2 2205.9h7.6v5.4h-7.6zM1103.4 2202.9h7.6v5.4h-7.6zM1117.8 2237h7.6v5.4h-7.6zM1125 2229.1h7.6v5.4h-7.6zM1125 2489.1h7.6v5.4h-7.6zM1125 2534.1h7.6v5.4h-7.6zM1132.2 2236.1h7.6v10.4h-7.6zM1146.7 2305.2h7.6v5.4h-7.6zM1161.1 2464.3h7.6v50.4h-7.6zM1168.3 2321.3h7.6v110.4h-7.6zM1168.3 2461.3h7.6v35.4h-7.6zM1197.1 2359.5h7.6v30.4h-7.6zM1197.1 2444.5h7.6v70.4h-7.6zM1197.1 2554.5h7.6v30.4h-7.6zM1197.1 2684.5h7.6v5.4h-7.6zM1204.3 2376.5h7.6v25.4h-7.6zM1204.3 2576.5h7.6v115.4h-7.6zM1218.7 2480.6h7.6v170.4h-7.6zM1218.7 2705.6h7.6v75.4h-7.6zM1225.9 2362.6h7.6v5.4h-7.6zM1233.1 2359.7h7.6v5.4h-7.6zM1233.1 2399.7h7.6v5.4h-7.6zM1240.3 2381.7h7.6v5.4h-7.6zM1240.3 2466.7h7.6v25.4h-7.6zM1240.3 2546.7h7.6v30.4h-7.6zM1240.3 2581.7h7.6v30.4h-7.6zM1240.3 2666.7h7.6v20.4h-7.6zM1240.3 2711.7h7.6v25.4h-7.6zM1247.5 2373.7h7.6v5.4h-7.6zM1247.5 2448.7h7.6v95.4h-7.6zM1247.5 2658.7h7.6v25.4h-7.6zM1261.9 2422.8h7.6v5.4h-7.6zM1261.9 2697.8h7.6v5.4h-7.6zM1276.3 2451.9h7.6v75.4h-7.6zM1290.7 2481h7.6v10.4h-7.6zM1290.7 2551h7.6v55.4h-7.6zM1290.7 2656h7.6v115.4h-7.6zM1290.7 2836h7.6v18.3h-7.6zM1305.1 2440.1h7.6v170.4h-7.6zM1305.1 2670.1h7.6v198.3h-7.6zM1312.3 2812.1h7.6v25.4h-7.6zM1326.7 2441.2h7.6v5.4h-7.6zM1341.2 2445.3h7.6v5.4h-7.6zM1341.2 2465.3h7.6v5.4h-7.6zM1348.4 2462.3h7.6v5.4h-7.6zM1362.8 2611.4h7.6v5.4h-7.6zM1362.8 2681.4h7.6v165.4h-7.6zM1377.2 2630.5h7.6v10.4h-7.6zM1377.2 2660.5h7.6v30.4h-7.6zM1377.2 2740.5h7.6v70.4h-7.6zM1377.2 2860.5h7.6v78.3h-7.6zM1406 2513.6h7.6v5.4h-7.6zM1413.2 2520.7h7.2v5.4h-7.2z"/><path fill="#66ff99" d="M1053 2355.7h7.6v5.4h-7.6zM1053 2435.7h7.6v5.4h-7.6zM1060.2 2355.7h7.6v5.4h-7.6zM1060.2 2375.7h7.6v60.4h-7.6zM1067.4 2172.7h7.6v5.4h-7.6zM1074.6 2189.8h7.6v5.4h-7.6zM1074.6 2429.8h7.6v5.4h-7.6zM1081.8 2201.8h7.6v5.4h-7.6zM1096.2 2200.9h7.6v5.4h-7.6zM1103.4 2207.9h7.6v5.4h-7.6zM1103.4 2227.9h7.6v5.4h-7.6zM1125 2494.1h7.6v5.4h-7.6zM1146.7 2300.2h7.6v5.4h-7.6zM1161.1 2319.3h7.6v145.4h-7.6zM1161.1 2549.3h7.6v5.4h-7.6zM1168.3 2431.3h7.6v30.4h-7.6zM1168.3 2506.3h7.6v5.4h-7.6zM1197.1 2584.5h7.6v100.4h-7.6zM1218.7 2360.6h7.6v120.4h-7.6zM1218.7 2650.6h7.6v55.4h-7.6zM1218.7 2780.6h7.6v3.3h-7.6zM1225.9 2357.6h7.6v5.4h-7.6zM1233.1 2339.7h7.6v5.4h-7.6zM1240.3 2386.7h7.6v80.4h-7.6zM1240.3 2576.7h7.6v5.4h-7.6zM1240.3 2686.7h7.6v25.4h-7.6zM1247.5 2443.7h7.6v5.4h-7.6zM1247.5 2543.7h7.6v115.4h-7.6zM1261.9 2427.8h7.6v75.4h-7.6zM1261.9 2572.8h7.6v70.4h-7.6zM1290.7 2406h7.6v5.4h-7.6zM1290.7 2606h7.6v50.4h-7.6zM1290.7 2771h7.6v65.4h-7.6zM1297.9 2513h7.6v15.4h-7.6zM1297.9 2673h7.6v35.4h-7.6zM1305.1 2435.1h7.6v5.4h-7.6zM1305.1 2610.1h7.6v60.4h-7.6zM1312.3 2542.1h7.6v5.4h-7.6zM1312.3 2677.1h7.6v5.4h-7.6zM1319.5 2434.1h7.6v5.4h-7.6zM1362.8 2616.4h7.6v10.4h-7.6zM1362.8 2651.4h7.6v30.4h-7.6zM1377.2 2690.5h7.6v50.4h-7.6zM1377.2 2810.5h7.6v50.4h-7.6zM1391.6 2609.5h7.6v5.4h-7.6zM1391.6 2769.5h7.6v105.4h-7.6z"/><path fill="#33ffcc" d="M1053 2360.7h7.6v70.4h-7.6zM1074.6 2424.8h7.6v5.4h-7.6zM1103.4 2222.9h7.6v5.4h-7.6zM1125 2224.1h7.6v5.4h-7.6zM1125 2524.1h7.6v5.4h-7.6zM1139.4 2278.1h7.6v5.4h-7.6zM1161.1 2309.3h7.6v5.4h-7.6zM1168.3 2316.3h7.6v5.4h-7.6zM1168.3 2511.3h7.6v5.4h-7.6zM1218.7 2350.6h7.6v5.4h-7.6zM1233.1 2334.7h7.6v5.4h-7.6zM1240.3 2351.7h7.6v5.4h-7.6zM1247.5 2433.7h7.6v5.4h-7.6zM1297.9 2423h7.6v55.4h-7.6zM1297.9 2748h7.6v20.4h-7.6zM1312.3 2552.1h7.6v5.4h-7.6zM1312.3 2672.1h7.6v5.4h-7.6zM1326.7 2436.2h7.6v5.4h-7.6zM1341.2 2450.3h7.6v10.4h-7.6zM1391.6 2649.5h7.6v90.4h-7.6zM1391.6 2894.5h7.6v30.4h-7.6zM1406 2508.6h7.6v5.4h-7.6z"/><path fill="#4dffb2" d="M1053 2430.7h7.6v5.4h-7.6zM1060.2 2360.7h7.6v15.4h-7.6zM1074.6 2369.8h7.6v5.4h-7.6zM1089 2208.9h7.6v5.4h-7.6zM1096.2 2195.9h7.6v5.4h-7.6zM1103.4 2212.9h7.6v5.4h-7.6zM1125 2499.1h7.6v5.4h-7.6zM1125 2529.1h7.6v5.4h-7.6zM1132.2 2231.1h7.6v5.4h-7.6zM1161.1 2314.3h7.6v5.4h-7.6zM1161.1 2554.3h7.6v5.4h-7.6zM1218.7 2355.6h7.6v5.4h-7.6zM1225.9 2352.6h7.6v5.4h-7.6zM1247.5 2378.7h7.6v5.4h-7.6zM1247.5 2438.7h7.6v5.4h-7.6zM1261.9 2502.8h7.6v70.4h-7.6zM1261.9 2642.8h7.6v55.4h-7.6zM1297.9 2478h7.6v35.4h-7.6zM1297.9 2528h7.6v145.4h-7.6zM1297.9 2708h7.6v40.4h-7.6zM1297.9 2768h7.6v93.3h-7.6zM1305.1 2430.1h7.6v5.4h-7.6zM1312.3 2547.1h7.6v5.4h-7.6zM1341.2 2460.3h7.6v5.4h-7.6zM1348.4 2457.3h7.6v5.4h-7.6zM1362.8 2626.4h7.6v25.4h-7.6zM1391.6 2614.5h7.6v35.4h-7.6zM1391.6 2739.5h7.6v30.4h-7.6zM1391.6 2874.5h7.6v20.4h-7.6zM1391.6 2924.5h7.6v28.3h-7.6z"/><path fill="#99ff66" d="M1053 2445.7h7.6v5.4h-7.6zM1060.2 2350.7h7.6v5.4h-7.6zM1060.2 2440.7h7.6v5.4h-7.6zM1067.4 2177.7h7.6v5.4h-7.6zM1074.6 2439.8h7.6v5.4h-7.6zM1089 2213.9h7.6v5.4h-7.6zM1096.2 2210.9h7.6v5.4h-7.6zM1103.4 2232.9h7.6v5.4h-7.6zM1110.6 2235h7.6v5.4h-7.6zM1125 2234.1h7.6v5.4h-7.6zM1125 2334.1h7.6v20.4h-7.6zM1125 2539.1h7.6v5.4h-7.6zM1125 2564.1h7.6v128.3h-7.6zM1139.4 2283.1h7.6v5.4h-7.6zM1161.1 2514.3h7.6v35.4h-7.6zM1168.3 2496.3h7.6v10.4h-7.6zM1197.1 2349.5h7.6v10.4h-7.6zM1197.1 2389.5h7.6v55.4h-7.6zM1197.1 2514.5h7.6v40.4h-7.6zM1204.3 2366.5h7.6v10.4h-7.6zM1204.3 2401.5h7.6v175.4h-7.6zM1204.3 2691.5h7.6v5.4h-7.6zM1211.5 2578.5h7.6v70.4h-7.6zM1211.5 2773.5h7.6v3.3h-7.6zM1233.1 2344.7h7.6v5.4h-7.6zM1240.3 2356.7h7.6v5.4h-7.6zM1240.3 2376.7h7.6v5.4h-7.6zM1240.3 2491.7h7.6v55.4h-7.6zM1240.3 2611.7h7.6v55.4h-7.6zM1240.3 2736.7h7.6v68.3h-7.6zM1276.3 2446.9h7.6v5.4h-7.6zM1276.3 2526.9h7.6v185.4h-7.6zM1290.7 2491h7.6v60.4h-7.6zM1312.3 2512.1h7.6v30.4h-7.6zM1312.3 2682.1h7.6v5.4h-7.6zM1312.3 2747.1h7.6v65.4h-7.6zM1312.3 2837.1h7.6v30.4h-7.6zM1319.5 2439.1h7.6v5.4h-7.6zM1319.5 2479.1h7.6v25.4h-7.6zM1319.5 2584.1h7.6v35.4h-7.6zM1319.5 2809.1h7.6v60.4h-7.6zM1341.2 2595.3h7.6v5.4h-7.6zM1341.2 2670.3h7.6v10.4h-7.6zM1355.6 2624.3h7.6v15.4h-7.6zM1362.8 2606.4h7.6v5.4h-7.6zM1377.2 2625.5h7.6v5.4h-7.6zM1377.2 2640.5h7.6v20.4h-7.6zM1391.6 2604.5h7.6v5.4h-7.6zM1413.2 2765.7h7.2v70.4h-7.2z"/><path fill="#ffb300" d="M1060.2 2160.7h7.6v20.4h-7.6zM1060.2 2565.7h7.6v35.4h-7.6zM1067.4 2192.7h7.6v70.4h-7.6zM1089 2248.9h7.6v50.4h-7.6zM1089 2458.9h7.6v5.4h-7.6zM1089 2538.9h7.6v5.4h-7.6zM1117.8 2287h7.6v5.4h-7.6zM1117.8 2447h7.6v10.4h-7.6zM1125 2249.1h7.6v25.4h-7.6zM1139.4 2308.1h7.6v95.4h-7.6zM1139.4 2438.1h7.6v40.4h-7.6zM1139.4 2483.1h7.6v30.4h-7.6zM1139.4 2568.1h7.6v60.4h-7.6zM1247.5 2713.7h7.6v10.4h-7.6zM1247.5 2788.7h7.6v23.3h-7.6zM1254.7 2375.8h7.6v10.4h-7.6zM1254.7 2745.8h7.6v73.3h-7.6zM1261.9 2372.8h7.6v10.4h-7.6zM1261.9 2807.8h7.6v18.3h-7.6zM1269.1 2364.9h7.6v20.4h-7.6zM1276.3 2371.9h7.6v20.4h-7.6zM1276.3 2756.9h7.6v83.3h-7.6zM1290.7 2456h7.6v5.4h-7.6zM1326.7 2461.2h7.6v5.4h-7.6zM1326.7 2471.2h7.6v10.4h-7.6zM1326.7 2826.2h7.6v5.4h-7.6zM1334 2433.2h7.6v10.4h-7.6zM1355.6 2504.3h7.6v5.4h-7.6zM1355.6 2849.3h7.6v5.4h-7.6zM1362.8 2506.4h7.6v5.4h-7.6zM1370 2493.4h7.6v35.4h-7.6zM1370 2873.4h7.6v58.3h-7.6zM1384.4 2507.5h7.6v35.4h-7.6zM1391.6 2509.5h7.6v15.4h-7.6zM1398.8 2516.6h7.6v15.4h-7.6zM1406 2523.6h7.6v15.4h-7.6zM1406 2548.6h7.6v5.4h-7.6zM1413.2 2540.7h7.2v20.4h-7.2z"/><path fill="#1affe5" d="M1067.4 2167.7h7.6v5.4h-7.6zM1074.6 2374.8h7.6v50.4h-7.6zM1081.8 2196.8h7.6v5.4h-7.6zM1103.4 2217.9h7.6v5.4h-7.6zM1110.6 2230h7.6v5.4h-7.6zM1125 2504.1h7.6v5.4h-7.6zM1153.9 2542.2h7.6v25.4h-7.6zM1153.9 2662.2h7.6v25.4h-7.6zM1161.1 2304.3h7.6v5.4h-7.6zM1161.1 2559.3h7.6v5.4h-7.6zM1189.9 2287.4h7.6v55.4h-7.6zM1189.9 2357.4h7.6v195.4h-7.6zM1218.7 2345.6h7.6v5.4h-7.6zM1233.1 2364.7h7.6v5.4h-7.6zM1233.1 2394.7h7.6v5.4h-7.6zM1247.5 2383.7h7.6v5.4h-7.6zM1290.7 2401h7.6v5.4h-7.6zM1312.3 2667.1h7.6v5.4h-7.6zM1319.5 2429.1h7.6v5.4h-7.6zM1348.4 2452.3h7.6v5.4h-7.6zM1413.2 2515.7h7.2v5.4h-7.2z"/><path fill="#0080ff" d="M1074.6 2174.8h7.6v5.4h-7.6zM1081.8 2181.8h7.6v10.4h-7.6zM1089 2188.9h7.6v10.4h-7.6zM1168.3 2306.3h7.6v5.4h-7.6zM1168.3 2526.3h7.6v65.4h-7.6zM1175.5 2528.3h7.6v50.4h-7.6zM1240.3 2341.7h7.6v5.4h-7.6zM1290.7 2386h7.6v10.4h-7.6zM1297.9 2393h7.6v10.4h-7.6zM1305.1 2400.1h7.6v10.4h-7.6zM1319.5 2414.1h7.6v10.4h-7.6zM1326.7 2421.2h7.6v10.4h-7.6zM1406 2498.6h7.6v5.4h-7.6zM1413.2 2505.7h7.2v5.4h-7.2z"/><path fill="#0099ff" d="M1074.6 2179.8h7.6v5.4h-7.6zM1153.9 2297.2h7.6v5.4h-7.6zM1168.3 2591.3h7.6v10.4h-7.6zM1175.5 2578.3h7.6v10.4h-7.6zM1218.7 2335.6h7.6v5.4h-7.6zM1225.9 2342.6h7.6v5.4h-7.6zM1297.9 2403h7.6v5.4h-7.6zM1305.1 2410.1h7.6v10.4h-7.6z"/><path fill="#00ffff" d="M1074.6 2184.8h7.6v5.4h-7.6zM1089 2203.9h7.6v5.4h-7.6zM1117.8 2232h7.6v5.4h-7.6zM1125 2509.1h7.6v15.4h-7.6zM1153.9 2347.2h7.6v125.4h-7.6zM1153.9 2512.2h7.6v30.4h-7.6zM1153.9 2567.2h7.6v20.4h-7.6zM1153.9 2642.2h7.6v20.4h-7.6zM1153.9 2687.2h7.6v25.4h-7.6zM1168.3 2516.3h7.6v5.4h-7.6zM1189.9 2342.4h7.6v15.4h-7.6zM1189.9 2552.4h7.6v20.4h-7.6zM1189.9 2612.4h7.6v90.4h-7.6zM1189.9 2717.4h7.6v38.3h-7.6zM1233.1 2329.7h7.6v5.4h-7.6zM1247.5 2428.7h7.6v5.4h-7.6zM1297.9 2418h7.6v5.4h-7.6zM1305.1 2425.1h7.6v5.4h-7.6zM1312.3 2557.1h7.6v5.4h-7.6zM1348.4 2442.3h7.6v10.4h-7.6z"/><path fill="#00ccff" d="M1081.8 2191.8h7.6v5.4h-7.6zM1139.4 2273.1h7.6v5.4h-7.6zM1161.1 2569.3h7.6v15.4h-7.6zM1168.3 2521.3h7.6v5.4h-7.6zM1175.5 2593.3h7.6v30.4h-7.6zM1175.5 2648.3h7.6v25.4h-7.6zM1218.7 2340.6h7.6v5.4h-7.6zM1240.3 2346.7h7.6v5.4h-7.6zM1290.7 2396h7.6v5.4h-7.6zM1305.1 2420.1h7.6v5.4h-7.6zM1319.5 2424.1h7.6v5.4h-7.6z"/><path fill="#00b2ff" d="M1089 2198.9h7.6v5.4h-7.6zM1110.6 2225h7.6v5.4h-7.6zM1161.1 2299.3h7.6v5.4h-7.6zM1161.1 2584.3h7.6v143.3h-7.6zM1168.3 2601.3h7.6v133.3h-7.6zM1175.5 2588.3h7.6v5.4h-7.6zM1175.5 2673.3h7.6v68.3h-7.6zM1233.1 2369.7h7.6v5.4h-7.6zM1233.1 2389.7h7.6v5.4h-7.6zM1297.9 2408h7.6v5.4h-7.6z"/><path fill="#ff9900" d="M1089 2463.9h7.6v5.4h-7.6zM1089 2533.9h7.6v5.4h-7.6zM1117.8 2247h7.6v40.4h-7.6zM1117.8 2457h7.6v105.4h-7.6zM1117.8 2602h7.6v5.4h-7.6zM1139.4 2403.1h7.6v35.4h-7.6zM1139.4 2513.1h7.6v55.4h-7.6zM1247.5 2358.7h7.6v5.4h-7.6zM1247.5 2703.7h7.6v10.4h-7.6zM1247.5 2723.7h7.6v15.4h-7.6zM1247.5 2778.7h7.6v10.4h-7.6zM1254.7 2370.8h7.6v5.4h-7.6zM1261.9 2357.8h7.6v15.4h-7.6zM1326.7 2466.2h7.6v5.4h-7.6zM1326.7 2831.2h7.6v58.3h-7.6zM1334 2428.2h7.6v5.4h-7.6zM1355.6 2499.3h7.6v5.4h-7.6zM1355.6 2854.3h7.6v5.4h-7.6zM1362.8 2496.4h7.6v10.4h-7.6zM1362.8 2861.4h7.6v5.4h-7.6zM1406 2538.6h7.6v10.4h-7.6z"/><path fill="#ff8000" d="M1089 2468.9h7.6v15.4h-7.6zM1089 2498.9h7.6v35.4h-7.6zM1117.8 2562h7.6v40.4h-7.6zM1117.8 2607h7.6v15.4h-7.6zM1117.8 2662h7.6v23.3h-7.6zM1247.5 2738.7h7.6v40.4h-7.6zM1254.7 2365.8h7.6v5.4h-7.6zM1355.6 2489.3h7.6v10.4h-7.6zM1355.6 2899.3h7.6v18.3h-7.6zM1362.8 2471.4h7.6v25.4h-7.6zM1362.8 2881.4h7.6v43.3h-7.6z"/><path fill="#ff6600" d="M1089 2483.9h7.6v15.4h-7.6zM1117.8 2622h7.6v40.4h-7.6zM1247.5 2353.7h7.6v5.4h-7.6zM1254.7 2360.8h7.6v5.4h-7.6zM1355.6 2449.3h7.6v40.4h-7.6zM1355.6 2859.3h7.6v40.4h-7.6zM1362.8 2456.4h7.6v15.4h-7.6zM1362.8 2866.4h7.6v15.4h-7.6z"/><path fill="#0000ff" d="M1110.6 2210h7.6v10.4h-7.6zM1117.8 2217h7.6v10.4h-7.6zM1175.5 2308.3h7.6v100.4h-7.6zM1175.5 2498.3h7.6v10.4h-7.6zM1182.7 2280.4h7.6v120.4h-7.6zM1182.7 2495.4h7.6v253.3h-7.6zM1218.7 2315.6h7.6v10.4h-7.6zM1225.9 2322.6h7.6v10.4h-7.6zM1240.3 2336.7h7.6v5.4h-7.6z"/><path fill="#0066ff" d="M1110.6 2220h7.6v5.4h-7.6zM1117.8 2227h7.6v5.4h-7.6zM1146.7 2290.2h7.6v5.4h-7.6zM1153.9 2292.2h7.6v5.4h-7.6zM1161.1 2294.3h7.6v5.4h-7.6zM1175.5 2523.3h7.6v5.4h-7.6zM1218.7 2330.6h7.6v5.4h-7.6zM1225.9 2337.6h7.6v5.4h-7.6zM1233.1 2374.7h7.6v5.4h-7.6zM1233.1 2384.7h7.6v5.4h-7.6z"/><path fill="#000080" d="M1139.4 2238.1h7.6v15.4h-7.6zM1146.7 2245.2h7.6v35.4h-7.6zM1153.9 2252.2h7.6v30.4h-7.6zM1161.1 2259.3h7.6v25.4h-7.6zM1168.3 2266.3h7.6v25.4h-7.6zM1175.5 2273.3h7.6v15.4h-7.6zM1175.5 2428.3h7.6v50.4h-7.6zM1182.7 2420.4h7.6v55.4h-7.6z"/><path fill="#000099" d="M1139.4 2253.1h7.6v5.4h-7.6zM1168.3 2291.3h7.6v5.4h-7.6zM1175.5 2288.3h7.6v5.4h-7.6zM1175.5 2423.3h7.6v5.4h-7.6zM1175.5 2478.3h7.6v5.4h-7.6zM1182.7 2415.4h7.6v5.4h-7.6zM1182.7 2475.4h7.6v5.4h-7.6z"/><path fill="#0000b2" d="M1139.4 2258.1h7.6v5.4h-7.6zM1168.3 2296.3h7.6v5.4h-7.6zM1175.5 2293.3h7.6v5.4h-7.6zM1175.5 2418.3h7.6v5.4h-7.6zM1175.5 2483.3h7.6v5.4h-7.6zM1182.7 2410.4h7.6v5.4h-7.6zM1182.7 2480.4h7.6v5.4h-7.6z"/><path fill="#0000cc" d="M1139.4 2263.1h7.6v5.4h-7.6zM1146.7 2280.2h7.6v5.4h-7.6zM1153.9 2282.2h7.6v5.4h-7.6zM1161.1 2284.3h7.6v5.4h-7.6zM1175.5 2298.3h7.6v5.4h-7.6zM1175.5 2413.3h7.6v5.4h-7.6zM1175.5 2488.3h7.6v5.4h-7.6zM1182.7 2405.4h7.6v5.4h-7.6zM1182.7 2485.4h7.6v5.4h-7.6z"/><path fill="#004dff" d="M1139.4 2268.1h7.6v5.4h-7.6zM1175.5 2518.3h7.6v5.4h-7.6z"/><path fill="#001aff" d="M1146.7 2285.2h7.6v5.4h-7.6zM1153.9 2287.2h7.6v5.4h-7.6zM1161.1 2289.3h7.6v5.4h-7.6zM1168.3 2301.3h7.6v5.4h-7.6zM1175.5 2508.3h7.6v5.4h-7.6z"/><path fill="#00e5ff" d="M1146.7 2295.2h7.6v5.4h-7.6zM1153.9 2302.2h7.6v45.4h-7.6zM1153.9 2472.2h7.6v40.4h-7.6zM1153.9 2587.2h7.6v55.4h-7.6zM1153.9 2712.2h7.6v8.3h-7.6zM1161.1 2564.3h7.6v5.4h-7.6zM1168.3 2311.3h7.6v5.4h-7.6zM1175.5 2623.3h7.6v25.4h-7.6zM1189.9 2572.4h7.6v40.4h-7.6zM1189.9 2702.4h7.6v15.4h-7.6zM1225.9 2347.6h7.6v5.4h-7.6zM1247.5 2388.7h7.6v40.4h-7.6zM1297.9 2413h7.6v5.4h-7.6zM1312.3 2562.1h7.6v105.4h-7.6zM1326.7 2431.2h7.6v5.4h-7.6zM1406 2503.6h7.6v5.4h-7.6zM1413.2 2510.7h7.2v5.4h-7.2z"/><path fill="#0000e6" d="M1175.5 2303.3h7.6v5.4h-7.6zM1175.5 2408.3h7.6v5.4h-7.6zM1175.5 2493.3h7.6v5.4h-7.6zM1182.7 2400.4h7.6v5.4h-7.6zM1182.7 2490.4h7.6v5.4h-7.6z"/><path fill="#0033ff" d="M1175.5 2513.3h7.6v5.4h-7.6zM1218.7 2325.6h7.6v5.4h-7.6zM1225.9 2332.6h7.6v5.4h-7.6zM1233.1 2379.7h7.6v5.4h-7.6z"/><path fill="#ff4c00" d="M1247.5 2343.7h7.6v10.4h-7.6zM1254.7 2355.8h7.6v5.4h-7.6z"/><path fill="#ff3300" d="M1254.7 2350.8h7.6v5.4h-7.6z"/>
<path fill="#b3ff4c" d="M1452.8 2131.4h7.6v5.4h-7.6zM1467.2 2163.4h7.6v5.4h-7.6zM1467.2 2298.4h7.6v45.4h-7.6zM1474.4 2170.5h7.6v5.4h-7.6zM1474.4 2450.5h7.6v5.4h-7.6zM1481.6 2187.5h7.6v5.4h-7.6zM1488.7 2529.6h7.6v5.4h-7.6zM1488.7 2599.6h7.6v5.4h-7.6zM1495.9 2201.6h7.6v5.4h-7.6zM1517.5 2232.7h7.6v5.4h-7.6zM1517.5 2272.7h7.6v5.4h-7.6zM1560.6 2230h7.6v5.4h-7.6zM1560.6 2265h7.6v5.4h-7.6zM1560.6 2570h7.6v131h-7.6zM1567.8 2272h7.6v5.4h-7.6zM1567.8 2577h7.6v55.4h-7.6zM1567.8 2677h7.6v31h-7.6zM1575 2279h7.6v5.4h-7.6zM1575 2579h7.6v5.4h-7.6zM1575 2644h7.6v40.4h-7.6zM1589.4 2483.1h7.6v45.4h-7.6zM1589.4 2608.1h7.6v20.4h-7.6zM1596.6 2375.2h7.6v5.4h-7.6zM1596.6 2490.2h7.6v145.4h-7.6zM1603.8 2297.2h7.6v5.4h-7.6zM1603.8 2427.2h7.6v5.4h-7.6zM1610.9 2429.2h7.6v5.4h-7.6zM1618.1 2556.3h7.6v105.4h-7.6zM1646.9 2414.4h7.6v5.4h-7.6zM1646.9 2539.4h7.6v5.4h-7.6zM1654.1 2426.5h7.6v5.4h-7.6zM1654.1 2546.5h7.6v5.4h-7.6zM1668.4 2530.6h7.6v5.4h-7.6zM1690 2366.7h7.6v5.4h-7.6zM1690 2486.7h7.6v5.4h-7.6zM1690 2566.7h7.6v5.4h-7.6zM1697.2 2493.7h7.6v5.4h-7.6zM1697.2 2573.7h7.6v5.4h-7.6zM1704.4 2375.8h7.6v5.4h-7.6zM1704.4 2395.8h7.6v5.4h-7.6zM1704.4 2500.8h7.6v5.4h-7.6zM1704.4 2535.8h7.6v25.4h-7.6zM1711.6 2397.8h7.6v5.4h-7.6zM1711.6 2647.8h7.6v5.4h-7.6zM1718.8 2504.8h7.6v5.4h-7.6zM1718.8 2629.8h7.6v5.4h-7.6zM1726 2516.9h7.6v5.4h-7.6zM1726 2621.9h7.6v5.4h-7.6zM1761.9 2452.1h7.6v5.4h-7.6zM1761.9 2632.1h7.6v5.4h-7.6zM1776.3 2531.2h7.6v5.4h-7.6zM1797.8 2817.3h7.6v5.4h-7.6zM1805 2484.3h7.6v5.4h-7.6z"/><path fill="#e5ff1a" d="M1452.8 2136.4h7.6v5.4h-7.6zM1452.8 2291.4h7.6v45.4h-7.6zM1467.2 2283.4h7.6v5.4h-7.6zM1467.2 2368.4h7.6v45.4h-7.6zM1474.4 2375.5h7.6v5.4h-7.6zM1474.4 2460.5h7.6v5.4h-7.6zM1474.4 2535.5h7.6v55.4h-7.6zM1481.6 2192.5h7.6v5.4h-7.6zM1481.6 2232.5h7.6v65.4h-7.6zM1481.6 2367.5h7.6v55.4h-7.6zM1481.6 2607.5h7.6v16h-7.6zM1488.7 2189.6h7.6v5.4h-7.6zM1488.7 2524.6h7.6v5.4h-7.6zM1495.9 2366.6h7.6v35.4h-7.6zM1495.9 2451.6h7.6v60.4h-7.6zM1495.9 2546.6h7.6v35.4h-7.6zM1495.9 2611.6h7.6v26h-7.6zM1503.1 2193.6h7.6v5.4h-7.6zM1503.1 2453.6h7.6v70.4h-7.6zM1517.5 2262.7h7.6v5.4h-7.6zM1524.7 2414.8h7.6v120.4h-7.6zM1560.6 2245h7.6v10.4h-7.6zM1560.6 2260h7.6v5.4h-7.6zM1575 2704h7.6v11h-7.6zM1582.2 2426.1h7.6v25.4h-7.6zM1589.4 2383.1h7.6v80.4h-7.6zM1589.4 2628.1h7.6v5.4h-7.6zM1596.6 2360.2h7.6v15.4h-7.6zM1596.6 2640.2h7.6v5.4h-7.6zM1603.8 2302.2h7.6v5.4h-7.6zM1603.8 2412.2h7.6v10.4h-7.6zM1603.8 2647.2h7.6v5.4h-7.6zM1610.9 2279.2h7.6v5.4h-7.6zM1610.9 2289.2h7.6v10.4h-7.6zM1610.9 2419.2h7.6v5.4h-7.6zM1618.1 2431.3h7.6v10.4h-7.6zM1618.1 2671.3h7.6v5.4h-7.6zM1625.3 2383.3h7.6v85.4h-7.6zM1625.3 2558.3h7.6v25.4h-7.6zM1625.3 2608.3h7.6v25.4h-7.6zM1632.5 2705.4h7.6v30.4h-7.6zM1646.9 2549.4h7.6v5.4h-7.6zM1654.1 2416.5h7.6v5.4h-7.6zM1654.1 2556.5h7.6v5.4h-7.6zM1654.1 2636.5h7.6v55.4h-7.6zM1661.3 2498.5h7.6v85.4h-7.6zM1668.4 2535.6h7.6v90.4h-7.6zM1690 2361.7h7.6v5.4h-7.6zM1690 2476.7h7.6v5.4h-7.6zM1690 2576.7h7.6v5.4h-7.6zM1690 2706.7h7.6v25.4h-7.6zM1697.2 2388.7h7.6v5.4h-7.6zM1697.2 2483.7h7.6v5.4h-7.6zM1697.2 2578.7h7.6v5.4h-7.6zM1704.4 2370.8h7.6v5.4h-7.6zM1704.4 2400.8h7.6v5.4h-7.6zM1704.4 2490.8h7.6v5.4h-7.6zM1704.4 2565.8h7.6v5.4h-7.6zM1711.6 2482.8h7.6v35.4h-7.6zM1718.8 2494.8h7.6v5.4h-7.6zM1718.8 2639.8h7.6v5.4h-7.6zM1726 2441.9h7.6v30.4h-7.6zM1726 2506.9h7.6v5.4h-7.6zM1726 2631.9h7.6v5.4h-7.6zM1726 2741.9h7.6v20.4h-7.6zM1733.1 2443.9h7.6v120.4h-7.6zM1733.1 2668.9h7.6v60.4h-7.6zM1740.3 2691h7.6v50.4h-7.6zM1747.5 2453h7.6v10.4h-7.6zM1747.5 2508h7.6v55.4h-7.6zM1747.5 2608h7.6v30.4h-7.6zM1754.7 2450h7.6v5.4h-7.6zM1754.7 2775h7.6v15.4h-7.6zM1761.9 2602.1h7.6v20.4h-7.6zM1761.9 2857.1h7.6v5.4h-7.6zM1769.1 2464.1h7.6v45.4h-7.6zM1769.1 2659.1h7.6v45.4h-7.6zM1769.1 2829.1h7.6v76h-7.6zM1783.5 2598.2h7.6v55.4h-7.6zM1783.5 2788.2h7.6v50.4h-7.6zM1797.8 2502.3h7.6v125.4h-7.6zM1797.8 2657.3h7.6v10.4h-7.6zM1805 2549.3h7.6v5.4h-7.6zM1805 2669.3h7.6v70.4h-7.6zM1805 2819.3h7.6v100.4h-7.6zM1812.2 2566.4h7.2v65.4h-7.2zM1812.2 2691.4h7.2v140.4h-7.2zM1812.2 2846.4h7.2v94h-7.2z"/><path fill="#ffff00" d="M1452.8 2141.4h7.6v5.4h-7.6zM1452.8 2281.4h7.6v10.4h-7.6zM1452.8 2336.4h7.6v20.4h-7.6zM1452.8 2396.4h7.6v40.4h-7.6zM1460 2356.4h7.6v45.4h-7.6zM1467.2 2168.4h7.6v115.4h-7.6zM1467.2 2413.4h7.6v10.4h-7.6zM1467.2 2518.4h7.6v91h-7.6zM1474.4 2175.5h7.6v80.4h-7.6zM1474.4 2480.5h7.6v55.4h-7.6zM1474.4 2590.5h7.6v25.4h-7.6zM1481.6 2197.5h7.6v35.4h-7.6zM1481.6 2297.5h7.6v70.4h-7.6zM1481.6 2422.5h7.6v140.4h-7.6zM1481.6 2582.5h7.6v25.4h-7.6zM1488.7 2609.6h7.6v21h-7.6zM1495.9 2401.6h7.6v50.4h-7.6zM1495.9 2581.6h7.6v30.4h-7.6zM1503.1 2263.6h7.6v5.4h-7.6zM1503.1 2323.6h7.6v130.4h-7.6zM1503.1 2523.6h7.6v45.4h-7.6zM1510.3 2220.7h7.6v55.4h-7.6zM1510.3 2455.7h7.6v150.4h-7.6zM1517.5 2242.7h7.6v5.4h-7.6zM1517.5 2257.7h7.6v5.4h-7.6zM1524.7 2284.8h7.6v130.4h-7.6zM1524.7 2534.8h7.6v131h-7.6zM1560.6 2255h7.6v5.4h-7.6zM1567.8 2237h7.6v30.4h-7.6zM1575 2264h7.6v10.4h-7.6zM1582.2 2281.1h7.6v5.4h-7.6zM1582.2 2401.1h7.6v25.4h-7.6zM1582.2 2451.1h7.6v75.4h-7.6zM1582.2 2601.1h7.6v25.4h-7.6zM1589.4 2373.1h7.6v10.4h-7.6zM1589.4 2633.1h7.6v5.4h-7.6zM1596.6 2355.2h7.6v5.4h-7.6zM1603.8 2362.2h7.6v50.4h-7.6zM1610.9 2304.2h7.6v5.4h-7.6zM1610.9 2319.2h7.6v100.4h-7.6zM1618.1 2376.3h7.6v55.4h-7.6zM1618.1 2676.3h7.6v45.4h-7.6zM1625.3 2293.3h7.6v90.4h-7.6zM1625.3 2468.3h7.6v90.4h-7.6zM1625.3 2633.3h7.6v131h-7.6zM1632.5 2335.4h7.6v65.4h-7.6zM1632.5 2460.4h7.6v185.4h-7.6zM1632.5 2670.4h7.6v35.4h-7.6zM1632.5 2735.4h7.6v25.4h-7.6zM1646.9 2404.4h7.6v5.4h-7.6zM1646.9 2554.4h7.6v30.4h-7.6zM1646.9 2649.4h7.6v35.4h-7.6zM1654.1 2411.5h7.6v5.4h-7.6zM1654.1 2561.5h7.6v75.4h-7.6zM1654.1 2691.5h7.6v5.4h-7.6zM1661.3 2448.5h7.6v50.4h-7.6zM1661.3 2583.5h7.6v25.4h-7.6zM1668.4 2435.6h7.6v5.4h-7.6zM1668.4 2625.6h7.6v70.4h-7.6zM1675.6 2532.6h7.6v95.4h-7.6zM1682.8 2439.6h7.6v100.4h-7.6zM1682.8 2744.6h7.6v76h-7.6zM1690 2441.7h7.6v35.4h-7.6zM1690 2581.7h7.6v60.4h-7.6zM1690 2676.7h7.6v30.4h-7.6zM1690 2731.7h7.6v5.4h-7.6zM1697.2 2453.7h7.6v30.4h-7.6zM1697.2 2583.7h7.6v160.4h-7.6zM1704.4 2460.8h7.6v30.4h-7.6zM1704.4 2570.8h7.6v10.4h-7.6zM1704.4 2630.8h7.6v115.4h-7.6zM1711.6 2402.8h7.6v5.4h-7.6zM1711.6 2462.8h7.6v20.4h-7.6zM1711.6 2657.8h7.6v191h-7.6zM1718.8 2464.8h7.6v30.4h-7.6zM1718.8 2644.8h7.6v60.4h-7.6zM1718.8 2769.8h7.6v86h-7.6zM1726 2436.9h7.6v5.4h-7.6zM1726 2471.9h7.6v35.4h-7.6zM1726 2636.9h7.6v5.4h-7.6zM1726 2711.9h7.6v30.4h-7.6zM1726 2761.9h7.6v5.4h-7.6zM1733.1 2433.9h7.6v10.4h-7.6zM1733.1 2563.9h7.6v105.4h-7.6zM1733.1 2728.9h7.6v40.4h-7.6zM1740.3 2451h7.6v40.4h-7.6zM1740.3 2576h7.6v25.4h-7.6zM1740.3 2671h7.6v20.4h-7.6zM1740.3 2741h7.6v35.4h-7.6zM1747.5 2448h7.6v5.4h-7.6zM1747.5 2638h7.6v150.4h-7.6zM1754.7 2585h7.6v190.4h-7.6zM1754.7 2790h7.6v5.4h-7.6zM1761.9 2587.1h7.6v15.4h-7.6zM1761.9 2622.1h7.6v5.4h-7.6zM1769.1 2509.1h7.6v40.4h-7.6zM1769.1 2569.1h7.6v90.4h-7.6zM1769.1 2704.1h7.6v125.4h-7.6zM1776.3 2471.2h7.6v55.4h-7.6zM1783.5 2478.2h7.6v10.4h-7.6zM1783.5 2538.2h7.6v60.4h-7.6zM1783.5 2653.2h7.6v30.4h-7.6zM1783.5 2723.2h7.6v65.4h-7.6zM1783.5 2838.2h7.6v5.4h-7.6zM1790.6 2600.2h7.6v245.4h-7.6zM1797.8 2497.3h7.6v5.4h-7.6zM1797.8 2627.3h7.6v30.4h-7.6zM1797.8 2827.3h7.6v30.4h-7.6zM1805 2489.3h7.6v5.4h-7.6zM1805 2544.3h7.6v5.4h-7.6zM1805 2554.3h7.6v20.4h-7.6zM1805 2614.3h7.6v55.4h-7.6zM1805 2739.3h7.6v80.4h-7.6zM1805 2919.3h7.6v21h-7.6zM1812.2 2496.4h7.2v5.4h-7.2zM1812.2 2551.4h7.2v15.4h-7.2zM1812.2 2831.4h7.2v15.4h-7.2z"/><path fill="#ffe500" d="M1452.8 2146.4h7.6v5.4h-7.6zM1452.8 2261.4h7.6v20.4h-7.6zM1452.8 2356.4h7.6v40.4h-7.6zM1452.8 2436.4h7.6v5.4h-7.6zM1460 2291.4h7.6v10.4h-7.6zM1460 2321.4h7.6v35.4h-7.6zM1460 2401.4h7.6v35.4h-7.6zM1467.2 2423.4h7.6v95.4h-7.6zM1474.4 2255.5h7.6v120.4h-7.6zM1474.4 2465.5h7.6v15.4h-7.6zM1474.4 2615.5h7.6v1h-7.6zM1481.6 2562.5h7.6v20.4h-7.6zM1488.7 2194.6h7.6v5.4h-7.6zM1488.7 2519.6h7.6v5.4h-7.6zM1503.1 2198.6h7.6v5.4h-7.6zM1503.1 2258.6h7.6v5.4h-7.6zM1503.1 2268.6h7.6v55.4h-7.6zM1503.1 2568.6h7.6v5.4h-7.6zM1510.3 2275.7h7.6v180.4h-7.6zM1510.3 2605.7h7.6v46h-7.6zM1517.5 2247.7h7.6v10.4h-7.6zM1575 2244h7.6v20.4h-7.6zM1582.2 2271.1h7.6v10.4h-7.6zM1582.2 2286.1h7.6v115.4h-7.6zM1582.2 2526.1h7.6v75.4h-7.6zM1582.2 2626.1h7.6v96h-7.6zM1589.4 2348.1h7.6v25.4h-7.6zM1589.4 2638.1h7.6v5.4h-7.6zM1596.6 2345.2h7.6v10.4h-7.6zM1596.6 2645.2h7.6v5.4h-7.6zM1603.8 2307.2h7.6v55.4h-7.6zM1603.8 2652.2h7.6v5.4h-7.6zM1610.9 2309.2h7.6v10.4h-7.6zM1618.1 2286.3h7.6v90.4h-7.6zM1618.1 2721.3h7.6v36h-7.6zM1632.5 2300.4h7.6v35.4h-7.6zM1632.5 2400.4h7.6v60.4h-7.6zM1632.5 2645.4h7.6v25.4h-7.6zM1632.5 2760.4h7.6v11h-7.6zM1646.9 2584.4h7.6v65.4h-7.6zM1646.9 2684.4h7.6v10.4h-7.6zM1654.1 2696.5h7.6v10.4h-7.6zM1661.3 2418.5h7.6v30.4h-7.6zM1661.3 2608.5h7.6v85.4h-7.6zM1668.4 2695.6h7.6v10.4h-7.6zM1675.6 2372.6h7.6v160.4h-7.6zM1675.6 2627.6h7.6v70.4h-7.6zM1682.8 2349.6h7.6v5.4h-7.6zM1682.8 2389.6h7.6v50.4h-7.6zM1682.8 2539.6h7.6v205.4h-7.6zM1690 2356.7h7.6v5.4h-7.6zM1690 2406.7h7.6v5.4h-7.6zM1690 2436.7h7.6v5.4h-7.6zM1690 2641.7h7.6v35.4h-7.6zM1690 2736.7h7.6v10.4h-7.6zM1697.2 2448.7h7.6v5.4h-7.6zM1697.2 2743.7h7.6v5.4h-7.6zM1704.4 2405.8h7.6v5.4h-7.6zM1704.4 2450.8h7.6v10.4h-7.6zM1704.4 2580.8h7.6v50.4h-7.6zM1704.4 2745.8h7.6v5.4h-7.6zM1711.6 2452.8h7.6v10.4h-7.6zM1718.8 2409.8h7.6v5.4h-7.6zM1718.8 2454.8h7.6v10.4h-7.6zM1718.8 2704.8h7.6v65.4h-7.6zM1726 2391.9h7.6v10.4h-7.6zM1726 2426.9h7.6v10.4h-7.6zM1726 2641.9h7.6v70.4h-7.6zM1726 2766.9h7.6v5.4h-7.6zM1733.1 2398.9h7.6v5.4h-7.6zM1733.1 2428.9h7.6v5.4h-7.6zM1733.1 2768.9h7.6v5.4h-7.6zM1740.3 2406h7.6v10.4h-7.6zM1740.3 2441h7.6v10.4h-7.6zM1740.3 2491h7.6v85.4h-7.6zM1740.3 2601h7.6v70.4h-7.6zM1740.3 2776h7.6v10.4h-7.6zM1747.5 2413h7.6v5.4h-7.6zM1747.5 2443h7.6v5.4h-7.6zM1747.5 2788h7.6v5.4h-7.6zM1754.7 2580h7.6v5.4h-7.6zM1754.7 2795h7.6v5.4h-7.6zM1761.9 2457.1h7.6v5.4h-7.6zM1761.9 2577.1h7.6v10.4h-7.6zM1761.9 2862.1h7.6v5.4h-7.6zM1769.1 2549.1h7.6v20.4h-7.6zM1776.3 2456.2h7.6v15.4h-7.6zM1783.5 2468.2h7.6v10.4h-7.6zM1783.5 2488.2h7.6v50.4h-7.6zM1783.5 2683.2h7.6v40.4h-7.6zM1783.5 2843.2h7.6v5.4h-7.6zM1790.6 2570.2h7.6v30.4h-7.6zM1790.6 2845.2h7.6v10.4h-7.6zM1797.8 2492.3h7.6v5.4h-7.6zM1797.8 2857.3h7.6v5.4h-7.6zM1805 2534.3h7.6v10.4h-7.6zM1805 2574.3h7.6v40.4h-7.6zM1812.2 2546.4h7.2v5.4h-7.2z"/><path fill="#ffcc00" d="M1452.8 2151.4h7.6v5.4h-7.6zM1452.8 2231.4h7.6v30.4h-7.6zM1452.8 2441.4h7.6v5.4h-7.6zM1460 2276.4h7.6v15.4h-7.6zM1460 2301.4h7.6v20.4h-7.6zM1460 2436.4h7.6v15.4h-7.6zM1460 2456.4h7.6v125.4h-7.6zM1488.7 2274.6h7.6v20.4h-7.6zM1503.1 2203.6h7.6v5.4h-7.6zM1503.1 2248.6h7.6v10.4h-7.6zM1503.1 2573.6h7.6v10.4h-7.6zM1582.2 2261.1h7.6v10.4h-7.6zM1589.4 2338.1h7.6v10.4h-7.6zM1596.6 2340.2h7.6v5.4h-7.6zM1596.6 2650.2h7.6v5.4h-7.6zM1596.6 2660.2h7.6v76h-7.6zM1603.8 2657.2h7.6v5.4h-7.6zM1646.9 2394.4h7.6v10.4h-7.6zM1646.9 2694.4h7.6v5.4h-7.6zM1654.1 2401.5h7.6v10.4h-7.6zM1654.1 2706.5h7.6v5.4h-7.6zM1661.3 2413.5h7.6v5.4h-7.6zM1661.3 2693.5h7.6v5.4h-7.6zM1668.4 2385.6h7.6v50.4h-7.6zM1668.4 2705.6h7.6v10.4h-7.6zM1668.4 2730.6h7.6v65.4h-7.6zM1675.6 2367.6h7.6v5.4h-7.6zM1675.6 2697.6h7.6v10.4h-7.6zM1682.8 2354.6h7.6v10.4h-7.6zM1682.8 2379.6h7.6v10.4h-7.6zM1690 2426.7h7.6v10.4h-7.6zM1690 2746.7h7.6v5.4h-7.6zM1697.2 2438.7h7.6v10.4h-7.6zM1697.2 2748.7h7.6v5.4h-7.6zM1704.4 2440.8h7.6v10.4h-7.6zM1704.4 2750.8h7.6v10.4h-7.6zM1711.6 2447.8h7.6v5.4h-7.6zM1718.8 2449.8h7.6v5.4h-7.6zM1726 2401.9h7.6v10.4h-7.6zM1726 2421.9h7.6v5.4h-7.6zM1726 2771.9h7.6v10.4h-7.6zM1733.1 2403.9h7.6v25.4h-7.6zM1733.1 2773.9h7.6v10.4h-7.6zM1740.3 2416h7.6v10.4h-7.6zM1740.3 2431h7.6v10.4h-7.6zM1740.3 2786h7.6v5.4h-7.6zM1747.5 2418h7.6v25.4h-7.6zM1747.5 2793h7.6v10.4h-7.6zM1747.5 2808h7.6v70.4h-7.6zM1754.7 2575h7.6v5.4h-7.6zM1754.7 2800h7.6v5.4h-7.6zM1761.9 2462.1h7.6v10.4h-7.6zM1761.9 2572.1h7.6v5.4h-7.6zM1776.3 2441.2h7.6v15.4h-7.6zM1783.5 2458.2h7.6v10.4h-7.6zM1783.5 2848.2h7.6v5.4h-7.6zM1790.6 2565.2h7.6v5.4h-7.6zM1790.6 2855.2h7.6v5.4h-7.6zM1797.8 2482.3h7.6v10.4h-7.6zM1797.8 2862.3h7.6v10.4h-7.6zM1805 2519.3h7.6v15.4h-7.6zM1812.2 2541.4h7.2v5.4h-7.2z"/><path fill="#ff9900" d="M1452.8 2156.4h7.6v65.4h-7.6zM1452.8 2466.4h7.6v50.4h-7.6zM1460 2136.4h7.6v35.4h-7.6zM1460 2221.4h7.6v10.4h-7.6zM1488.7 2199.6h7.6v40.4h-7.6zM1488.7 2419.6h7.6v85.4h-7.6zM1589.4 2298.1h7.6v10.4h-7.6zM1589.4 2648.1h7.6v15.4h-7.6zM1589.4 2698.1h7.6v30.4h-7.6zM1596.6 2305.2h7.6v10.4h-7.6zM1603.8 2662.2h7.6v81h-7.6zM1639.7 2377.4h7.6v10.4h-7.6zM1639.7 2632.4h7.6v146h-7.6zM1646.9 2389.4h7.6v5.4h-7.6zM1646.9 2734.4h7.6v5.4h-7.6zM1654.1 2391.5h7.6v5.4h-7.6zM1654.1 2776.5h7.6v16h-7.6zM1661.3 2403.5h7.6v5.4h-7.6zM1661.3 2708.5h7.6v15.4h-7.6zM1668.4 2335.6h7.6v40.4h-7.6zM1675.6 2342.6h7.6v15.4h-7.6zM1675.6 2717.6h7.6v35.4h-7.6zM1675.6 2787.6h7.6v26h-7.6zM1690 2811.7h7.6v16h-7.6zM1697.2 2403.7h7.6v30.4h-7.6zM1697.2 2758.7h7.6v60.4h-7.6zM1704.4 2410.8h7.6v5.4h-7.6zM1704.4 2805.8h7.6v36h-7.6zM1711.6 2432.8h7.6v10.4h-7.6zM1726 2831.9h7.6v31h-7.6zM1740.3 2801h7.6v76h-7.6zM1754.7 2505h7.6v65.4h-7.6zM1754.7 2820h7.6v70.4h-7.6zM1761.9 2522.1h7.6v45.4h-7.6zM1790.6 2465.2h7.6v15.4h-7.6zM1790.6 2540.2h7.6v15.4h-7.6zM1790.6 2865.2h7.6v30.4h-7.6zM1797.8 2467.3h7.6v10.4h-7.6z"/><path fill="#ffb300" d="M1452.8 2221.4h7.6v10.4h-7.6zM1452.8 2446.4h7.6v20.4h-7.6zM1452.8 2516.4h7.6v79h-7.6zM1460 2131.4h7.6v5.4h-7.6zM1460 2231.4h7.6v45.4h-7.6zM1460 2451.4h7.6v5.4h-7.6zM1460 2581.4h7.6v21h-7.6zM1488.7 2239.6h7.6v35.4h-7.6zM1488.7 2294.6h7.6v125.4h-7.6zM1488.7 2504.6h7.6v15.4h-7.6zM1503.1 2208.6h7.6v40.4h-7.6zM1503.1 2583.6h7.6v61h-7.6zM1582.2 2251.1h7.6v10.4h-7.6zM1589.4 2308.1h7.6v30.4h-7.6zM1589.4 2643.1h7.6v5.4h-7.6zM1589.4 2728.1h7.6v1h-7.6zM1596.6 2315.2h7.6v25.4h-7.6zM1596.6 2655.2h7.6v5.4h-7.6zM1639.7 2387.4h7.6v245.4h-7.6zM1646.9 2699.4h7.6v35.4h-7.6zM1646.9 2739.4h7.6v46h-7.6zM1654.1 2396.5h7.6v5.4h-7.6zM1654.1 2711.5h7.6v65.4h-7.6zM1661.3 2408.5h7.6v5.4h-7.6zM1661.3 2698.5h7.6v10.4h-7.6zM1661.3 2723.5h7.6v76h-7.6zM1668.4 2375.6h7.6v10.4h-7.6zM1668.4 2715.6h7.6v15.4h-7.6zM1668.4 2795.6h7.6v11h-7.6zM1675.6 2357.6h7.6v10.4h-7.6zM1675.6 2707.6h7.6v10.4h-7.6zM1675.6 2752.6h7.6v35.4h-7.6zM1682.8 2364.6h7.6v15.4h-7.6zM1690 2411.7h7.6v15.4h-7.6zM1690 2751.7h7.6v60.4h-7.6zM1697.2 2393.7h7.6v10.4h-7.6zM1697.2 2433.7h7.6v5.4h-7.6zM1697.2 2753.7h7.6v5.4h-7.6zM1697.2 2818.7h7.6v16h-7.6zM1704.4 2415.8h7.6v25.4h-7.6zM1704.4 2760.8h7.6v45.4h-7.6zM1711.6 2407.8h7.6v25.4h-7.6zM1711.6 2442.8h7.6v5.4h-7.6zM1718.8 2414.8h7.6v35.4h-7.6zM1726 2411.9h7.6v10.4h-7.6zM1726 2781.9h7.6v50.4h-7.6zM1733.1 2783.9h7.6v86h-7.6zM1740.3 2426h7.6v5.4h-7.6zM1740.3 2791h7.6v10.4h-7.6zM1747.5 2803h7.6v5.4h-7.6zM1747.5 2878h7.6v6h-7.6zM1754.7 2455h7.6v50.4h-7.6zM1754.7 2570h7.6v5.4h-7.6zM1754.7 2805h7.6v15.4h-7.6zM1754.7 2890h7.6v1h-7.6zM1761.9 2472.1h7.6v50.4h-7.6zM1761.9 2567.1h7.6v5.4h-7.6zM1761.9 2867.1h7.6v31h-7.6zM1783.5 2448.2h7.6v10.4h-7.6zM1783.5 2853.2h7.6v66h-7.6zM1790.6 2480.2h7.6v60.4h-7.6zM1790.6 2555.2h7.6v10.4h-7.6zM1790.6 2860.2h7.6v5.4h-7.6zM1790.6 2895.2h7.6v31h-7.6zM1797.8 2477.3h7.6v5.4h-7.6zM1797.8 2872.3h7.6v61h-7.6zM1805 2494.3h7.6v25.4h-7.6zM1812.2 2501.4h7.2v40.4h-7.2z"/><path fill="#ff8000" d="M1460 2171.4h7.6v50.4h-7.6zM1589.4 2283.1h7.6v15.4h-7.6zM1589.4 2663.1h7.6v35.4h-7.6zM1596.6 2265.2h7.6v40.4h-7.6zM1639.7 2347.4h7.6v30.4h-7.6zM1646.9 2379.4h7.6v10.4h-7.6zM1654.1 2321.5h7.6v70.4h-7.6zM1661.3 2328.5h7.6v30.4h-7.6zM1661.3 2393.5h7.6v10.4h-7.6zM1790.6 2455.2h7.6v10.4h-7.6zM1797.8 2462.3h7.6v5.4h-7.6z"/><path fill="#0080ff" d="M1467.2 2138.4h7.6v10.4h-7.6zM1474.4 2145.5h7.6v10.4h-7.6zM1495.9 2181.6h7.6v5.4h-7.6zM1510.3 2205.7h7.6v5.4h-7.6zM1539.1 2208.8h7.6v10.4h-7.6zM1539.1 2428.8h7.6v251h-7.6zM1546.2 2240.9h7.6v10.4h-7.6zM1546.2 2420.9h7.6v266h-7.6zM1697.2 2363.7h7.6v10.4h-7.6zM1754.7 2435h7.6v5.4h-7.6zM1769.1 2434.1h7.6v10.4h-7.6zM1805 2469.3h7.6v5.4h-7.6zM1812.2 2476.4h7.2v5.4h-7.2z"/><path fill="#00ccff" d="M1467.2 2148.4h7.6v5.4h-7.6zM1474.4 2155.5h7.6v5.4h-7.6zM1495.9 2186.6h7.6v5.4h-7.6zM1524.7 2259.8h7.6v5.4h-7.6zM1531.9 2256.8h7.6v5.4h-7.6zM1546.2 2225.9h7.6v5.4h-7.6zM1761.9 2442.1h7.6v5.4h-7.6z"/><path fill="#1affe5" d="M1467.2 2153.4h7.6v5.4h-7.6zM1474.4 2160.5h7.6v5.4h-7.6zM1517.5 2227.7h7.6v5.4h-7.6zM1517.5 2592.7h7.6v5.4h-7.6zM1531.9 2261.8h7.6v95.4h-7.6zM1531.9 2396.8h7.6v10.4h-7.6zM1567.8 2462h7.6v35.4h-7.6zM1596.6 2395.2h7.6v15.4h-7.6zM1668.4 2455.6h7.6v60.4h-7.6zM1690 2381.7h7.6v5.4h-7.6zM1711.6 2537.8h7.6v40.4h-7.6zM1797.8 2687.3h7.6v55.4h-7.6z"/><path fill="#66ff99" d="M1467.2 2158.4h7.6v5.4h-7.6zM1474.4 2165.5h7.6v5.4h-7.6zM1474.4 2420.5h7.6v25.4h-7.6zM1488.7 2184.6h7.6v5.4h-7.6zM1488.7 2589.6h7.6v5.4h-7.6zM1503.1 2183.6h7.6v5.4h-7.6zM1517.5 2577.7h7.6v5.4h-7.6zM1531.9 2421.8h7.6v115.4h-7.6zM1531.9 2651.8h7.6v21h-7.6zM1560.6 2280h7.6v35.4h-7.6zM1560.6 2320h7.6v10.4h-7.6zM1560.6 2510h7.6v35.4h-7.6zM1560.6 2550h7.6v5.4h-7.6zM1567.8 2282h7.6v5.4h-7.6zM1567.8 2562h7.6v5.4h-7.6zM1575 2289h7.6v5.4h-7.6zM1575 2459h7.6v50.4h-7.6zM1596.6 2385.2h7.6v5.4h-7.6zM1596.6 2475.2h7.6v5.4h-7.6zM1654.1 2491.5h7.6v35.4h-7.6zM1668.4 2520.6h7.6v5.4h-7.6zM1690 2506.7h7.6v50.4h-7.6zM1697.2 2518.7h7.6v45.4h-7.6zM1704.4 2385.8h7.6v10.4h-7.6zM1711.6 2392.8h7.6v5.4h-7.6zM1711.6 2637.8h7.6v5.4h-7.6zM1718.8 2534.8h7.6v80.4h-7.6zM1754.7 2445h7.6v5.4h-7.6zM1761.9 2642.1h7.6v5.4h-7.6zM1761.9 2847.1h7.6v5.4h-7.6zM1776.3 2546.2h7.6v5.4h-7.6zM1776.3 2576.2h7.6v25.4h-7.6zM1776.3 2736.2h7.6v15.4h-7.6zM1776.3 2831.2h7.6v20.4h-7.6zM1776.3 2876.2h7.6v20.4h-7.6zM1797.8 2677.3h7.6v5.4h-7.6zM1797.8 2807.3h7.6v5.4h-7.6z"/><path fill="#ccff33" d="M1467.2 2288.4h7.6v10.4h-7.6zM1467.2 2343.4h7.6v25.4h-7.6zM1474.4 2380.5h7.6v5.4h-7.6zM1474.4 2455.5h7.6v5.4h-7.6zM1488.7 2604.6h7.6v5.4h-7.6zM1495.9 2206.6h7.6v160.4h-7.6zM1495.9 2511.6h7.6v35.4h-7.6zM1517.5 2237.7h7.6v5.4h-7.6zM1517.5 2267.7h7.6v5.4h-7.6zM1524.7 2279.8h7.6v5.4h-7.6zM1560.6 2235h7.6v10.4h-7.6zM1567.8 2267h7.6v5.4h-7.6zM1567.8 2632h7.6v45.4h-7.6zM1575 2274h7.6v5.4h-7.6zM1575 2584h7.6v60.4h-7.6zM1575 2684h7.6v20.4h-7.6zM1589.4 2463.1h7.6v20.4h-7.6zM1589.4 2528.1h7.6v80.4h-7.6zM1596.6 2635.2h7.6v5.4h-7.6zM1603.8 2272.2h7.6v5.4h-7.6zM1603.8 2422.2h7.6v5.4h-7.6zM1603.8 2642.2h7.6v5.4h-7.6zM1610.9 2284.2h7.6v5.4h-7.6zM1610.9 2299.2h7.6v5.4h-7.6zM1610.9 2424.2h7.6v5.4h-7.6zM1618.1 2441.3h7.6v115.4h-7.6zM1618.1 2661.3h7.6v10.4h-7.6zM1625.3 2583.3h7.6v25.4h-7.6zM1646.9 2409.4h7.6v5.4h-7.6zM1646.9 2544.4h7.6v5.4h-7.6zM1654.1 2421.5h7.6v5.4h-7.6zM1654.1 2551.5h7.6v5.4h-7.6zM1668.4 2440.6h7.6v5.4h-7.6zM1690 2401.7h7.6v5.4h-7.6zM1690 2481.7h7.6v5.4h-7.6zM1690 2571.7h7.6v5.4h-7.6zM1697.2 2488.7h7.6v5.4h-7.6zM1704.4 2495.8h7.6v5.4h-7.6zM1704.4 2560.8h7.6v5.4h-7.6zM1711.6 2517.8h7.6v5.4h-7.6zM1711.6 2652.8h7.6v5.4h-7.6zM1718.8 2404.8h7.6v5.4h-7.6zM1718.8 2499.8h7.6v5.4h-7.6zM1718.8 2634.8h7.6v5.4h-7.6zM1726 2511.9h7.6v5.4h-7.6zM1726 2626.9h7.6v5.4h-7.6zM1747.5 2463h7.6v45.4h-7.6zM1747.5 2563h7.6v45.4h-7.6zM1761.9 2627.1h7.6v5.4h-7.6zM1776.3 2526.2h7.6v5.4h-7.6zM1797.8 2667.3h7.6v5.4h-7.6zM1797.8 2822.3h7.6v5.4h-7.6zM1812.2 2631.4h7.2v60.4h-7.2z"/><path fill="#99ff66" d="M1474.4 2385.5h7.6v5.4h-7.6zM1495.9 2196.6h7.6v5.4h-7.6zM1503.1 2188.6h7.6v5.4h-7.6zM1517.5 2277.7h7.6v180.4h-7.6zM1517.5 2542.7h7.6v35.4h-7.6zM1524.7 2274.8h7.6v5.4h-7.6zM1560.6 2270h7.6v5.4h-7.6zM1560.6 2560h7.6v10.4h-7.6zM1567.8 2277h7.6v5.4h-7.6zM1567.8 2572h7.6v5.4h-7.6zM1575 2284h7.6v5.4h-7.6zM1575 2574h7.6v5.4h-7.6zM1596.6 2380.2h7.6v5.4h-7.6zM1596.6 2485.2h7.6v5.4h-7.6zM1603.8 2277.2h7.6v20.4h-7.6zM1603.8 2432.2h7.6v105.4h-7.6zM1603.8 2612.2h7.6v30.4h-7.6zM1610.9 2434.2h7.6v5.4h-7.6zM1610.9 2554.2h7.6v60.4h-7.6zM1610.9 2679.2h7.6v71h-7.6zM1646.9 2419.4h7.6v5.4h-7.6zM1646.9 2534.4h7.6v5.4h-7.6zM1654.1 2431.5h7.6v35.4h-7.6zM1654.1 2541.5h7.6v5.4h-7.6zM1668.4 2525.6h7.6v5.4h-7.6zM1690 2396.7h7.6v5.4h-7.6zM1690 2491.7h7.6v5.4h-7.6zM1690 2561.7h7.6v5.4h-7.6zM1697.2 2383.7h7.6v5.4h-7.6zM1697.2 2498.7h7.6v5.4h-7.6zM1697.2 2568.7h7.6v5.4h-7.6zM1704.4 2380.8h7.6v5.4h-7.6zM1704.4 2505.8h7.6v5.4h-7.6zM1704.4 2515.8h7.6v20.4h-7.6zM1711.6 2522.8h7.6v5.4h-7.6zM1718.8 2509.8h7.6v5.4h-7.6zM1718.8 2624.8h7.6v5.4h-7.6zM1726 2521.9h7.6v20.4h-7.6zM1726 2606.9h7.6v15.4h-7.6zM1761.9 2852.1h7.6v5.4h-7.6zM1769.1 2459.1h7.6v5.4h-7.6zM1776.3 2536.2h7.6v5.4h-7.6zM1797.8 2672.3h7.6v5.4h-7.6zM1812.2 2491.4h7.2v5.4h-7.2z"/><path fill="#80ff80" d="M1474.4 2390.5h7.6v5.4h-7.6zM1474.4 2445.5h7.6v5.4h-7.6zM1488.7 2534.6h7.6v5.4h-7.6zM1488.7 2594.6h7.6v5.4h-7.6zM1510.3 2215.7h7.6v5.4h-7.6zM1517.5 2457.7h7.6v85.4h-7.6zM1524.7 2269.8h7.6v5.4h-7.6zM1560.6 2275h7.6v5.4h-7.6zM1560.6 2315h7.6v5.4h-7.6zM1560.6 2555h7.6v5.4h-7.6zM1567.8 2567h7.6v5.4h-7.6zM1575 2569h7.6v5.4h-7.6zM1596.6 2480.2h7.6v5.4h-7.6zM1603.8 2537.2h7.6v75.4h-7.6zM1610.9 2439.2h7.6v115.4h-7.6zM1610.9 2614.2h7.6v65.4h-7.6zM1646.9 2424.4h7.6v110.4h-7.6zM1654.1 2466.5h7.6v25.4h-7.6zM1654.1 2526.5h7.6v15.4h-7.6zM1668.4 2445.6h7.6v5.4h-7.6zM1690 2371.7h7.6v5.4h-7.6zM1690 2496.7h7.6v10.4h-7.6zM1690 2556.7h7.6v5.4h-7.6zM1697.2 2503.7h7.6v15.4h-7.6zM1697.2 2563.7h7.6v5.4h-7.6zM1704.4 2510.8h7.6v5.4h-7.6zM1711.6 2527.8h7.6v5.4h-7.6zM1711.6 2642.8h7.6v5.4h-7.6zM1718.8 2399.8h7.6v5.4h-7.6zM1718.8 2514.8h7.6v20.4h-7.6zM1718.8 2614.8h7.6v10.4h-7.6zM1726 2541.9h7.6v65.4h-7.6zM1761.9 2637.1h7.6v5.4h-7.6zM1776.3 2541.2h7.6v5.4h-7.6zM1776.3 2601.2h7.6v135.4h-7.6zM1776.3 2751.2h7.6v80.4h-7.6zM1776.3 2896.2h7.6v16h-7.6zM1797.8 2812.3h7.6v5.4h-7.6z"/><path fill="#4dffb2" d="M1474.4 2395.5h7.6v25.4h-7.6zM1481.6 2182.5h7.6v5.4h-7.6zM1488.7 2539.6h7.6v5.4h-7.6zM1503.1 2178.6h7.6v5.4h-7.6zM1517.5 2582.7h7.6v5.4h-7.6zM1524.7 2264.8h7.6v5.4h-7.6zM1531.9 2411.8h7.6v10.4h-7.6zM1531.9 2536.8h7.6v115.4h-7.6zM1560.6 2330h7.6v55.4h-7.6zM1560.6 2430h7.6v80.4h-7.6zM1560.6 2545h7.6v5.4h-7.6zM1567.8 2287h7.6v105.4h-7.6zM1567.8 2532h7.6v30.4h-7.6zM1575 2294h7.6v40.4h-7.6zM1575 2394h7.6v65.4h-7.6zM1575 2509h7.6v20.4h-7.6zM1575 2564h7.6v5.4h-7.6zM1596.6 2390.2h7.6v5.4h-7.6zM1596.6 2470.2h7.6v5.4h-7.6zM1668.4 2450.6h7.6v5.4h-7.6zM1668.4 2515.6h7.6v5.4h-7.6zM1690 2376.7h7.6v5.4h-7.6zM1690 2391.7h7.6v5.4h-7.6zM1711.6 2532.8h7.6v5.4h-7.6zM1761.9 2647.1h7.6v130.4h-7.6zM1769.1 2454.1h7.6v5.4h-7.6zM1776.3 2551.2h7.6v25.4h-7.6zM1776.3 2851.2h7.6v25.4h-7.6zM1797.8 2682.3h7.6v5.4h-7.6zM1805 2479.3h7.6v5.4h-7.6z"/><path fill="#0000ff" d="M1481.6 2152.5h7.6v15.4h-7.6zM1488.7 2159.6h7.6v10.4h-7.6zM1495.9 2166.6h7.6v10.4h-7.6zM1510.3 2200.7h7.6v5.4h-7.6zM1539.1 2398.8h7.6v10.4h-7.6zM1546.2 2270.9h7.6v130.4h-7.6zM1754.7 2420h7.6v15.4h-7.6zM1761.9 2427.1h7.6v10.4h-7.6z"/><path fill="#0033ff" d="M1481.6 2167.5h7.6v5.4h-7.6zM1488.7 2169.6h7.6v5.4h-7.6zM1517.5 2217.7h7.6v5.4h-7.6zM1539.1 2413.8h7.6v5.4h-7.6zM1546.2 2260.9h7.6v5.4h-7.6zM1546.2 2405.9h7.6v5.4h-7.6z"/><path fill="#0099ff" d="M1481.6 2172.5h7.6v5.4h-7.6zM1517.5 2222.7h7.6v5.4h-7.6zM1546.2 2235.9h7.6v5.4h-7.6z"/><path fill="#00e5ff" d="M1481.6 2177.5h7.6v5.4h-7.6zM1488.7 2179.6h7.6v5.4h-7.6zM1546.2 2220.9h7.6v5.4h-7.6zM1553.4 2302.9h7.6v105.4h-7.6zM1553.4 2492.9h7.6v80.4h-7.6zM1553.4 2677.9h7.6v16h-7.6zM1697.2 2373.7h7.6v5.4h-7.6zM1711.6 2377.8h7.6v10.4h-7.6zM1754.7 2440h7.6v5.4h-7.6zM1812.2 2481.4h7.2v5.4h-7.2z"/><path fill="#0066ff" d="M1488.7 2174.6h7.6v5.4h-7.6zM1524.7 2254.8h7.6v5.4h-7.6zM1531.9 2251.8h7.6v5.4h-7.6zM1539.1 2423.8h7.6v5.4h-7.6zM1546.2 2250.9h7.6v5.4h-7.6zM1546.2 2415.9h7.6v5.4h-7.6zM1761.9 2437.1h7.6v5.4h-7.6z"/><path fill="#33ffcc" d="M1488.7 2544.6h7.6v45.4h-7.6zM1495.9 2191.6h7.6v5.4h-7.6zM1517.5 2587.7h7.6v5.4h-7.6zM1531.9 2406.8h7.6v5.4h-7.6zM1560.6 2385h7.6v45.4h-7.6zM1567.8 2392h7.6v70.4h-7.6zM1567.8 2497h7.6v35.4h-7.6zM1575 2334h7.6v60.4h-7.6zM1575 2529h7.6v35.4h-7.6zM1596.6 2410.2h7.6v60.4h-7.6zM1697.2 2378.7h7.6v5.4h-7.6zM1711.6 2387.8h7.6v5.4h-7.6zM1711.6 2577.8h7.6v60.4h-7.6zM1718.8 2394.8h7.6v5.4h-7.6zM1761.9 2447.1h7.6v5.4h-7.6zM1761.9 2777.1h7.6v70.4h-7.6zM1797.8 2742.3h7.6v65.4h-7.6zM1812.2 2486.4h7.2v5.4h-7.2z"/><path fill="#004dff" d="M1495.9 2176.6h7.6v5.4h-7.6zM1539.1 2218.8h7.6v5.4h-7.6zM1539.1 2418.8h7.6v5.4h-7.6zM1546.2 2255.9h7.6v5.4h-7.6zM1546.2 2410.9h7.6v5.4h-7.6z"/><path fill="#00ffff" d="M1503.1 2173.6h7.6v5.4h-7.6zM1510.3 2210.7h7.6v5.4h-7.6zM1517.5 2597.7h7.6v61h-7.6zM1531.9 2356.8h7.6v40.4h-7.6zM1546.2 2215.9h7.6v5.4h-7.6zM1553.4 2222.9h7.6v80.4h-7.6zM1553.4 2407.9h7.6v85.4h-7.6zM1553.4 2572.9h7.6v105.4h-7.6zM1690 2386.7h7.6v5.4h-7.6zM1718.8 2384.8h7.6v10.4h-7.6zM1769.1 2449.1h7.6v5.4h-7.6zM1805 2474.3h7.6v5.4h-7.6z"/><path fill="#000080" d="M1510.3 2180.7h7.6v20.4h-7.6zM1517.5 2187.7h7.6v25.4h-7.6zM1524.7 2194.8h7.6v50.4h-7.6zM1531.9 2201.8h7.6v40.4h-7.6zM1539.1 2238.8h7.6v140.4h-7.6z"/><path fill="#0000e6" d="M1517.5 2212.7h7.6v5.4h-7.6zM1539.1 2228.8h7.6v5.4h-7.6zM1539.1 2393.8h7.6v5.4h-7.6z"/><path fill="#0000cc" d="M1524.7 2244.8h7.6v5.4h-7.6zM1531.9 2241.8h7.6v5.4h-7.6zM1539.1 2388.8h7.6v5.4h-7.6z"/><path fill="#001aff" d="M1524.7 2249.8h7.6v5.4h-7.6zM1531.9 2246.8h7.6v5.4h-7.6zM1539.1 2223.8h7.6v5.4h-7.6zM1539.1 2408.8h7.6v5.4h-7.6zM1546.2 2265.9h7.6v5.4h-7.6zM1546.2 2400.9h7.6v5.4h-7.6z"/><path fill="#0000b2" d="M1539.1 2233.8h7.6v5.4h-7.6zM1539.1 2383.8h7.6v5.4h-7.6z"/><path fill="#000099" d="M1539.1 2378.8h7.6v5.4h-7.6z"/><path fill="#00b2ff" d="M1546.2 2230.9h7.6v5.4h-7.6zM1769.1 2444.1h7.6v5.4h-7.6z"/><path fill="#ff6600" d="M1589.4 2258.1h7.6v25.4h-7.6zM1639.7 2307.4h7.6v40.4h-7.6zM1646.9 2314.4h7.6v65.4h-7.6zM1661.3 2358.5h7.6v35.4h-7.6z"/>
</g>
<path class="m" d="M746 2598 L733 2585 L746 2552 L780 2512 L812 2480 L840 2461"/>
<path class="m" d="M868 2435 L924.5 2403.5 L988.7 2369.4 L1052.8 2339.3 L1085 2322.5 L1150 2305"/>
<path class="m" d="M1194 2291 L1292.5 2273 L1396.7 2255 L1453 2251 L1520 2246"/>
<rect x="1866.3" y="2138" width="30" height="888" fill="url(#cb)"/>
<path d="M1866.6 2138v888M1895.6 2138v888" stroke="#777" stroke-width="1" fill="none" opacity=".6"/>
<text class="b" transform="translate(77 2358.6) rotate(-90) scale(1.03 1)" style="font-size:68px">Depth [m]</text>
<text class="s" transform="translate(160 2128) scale(1.060 1)" text-anchor="start">(c)</text>
<text class="b" transform="translate(147.5 2230.5) scale(0.965 1)" text-anchor="end">0</text>
<text class="b" transform="translate(147.5 2305.9) scale(0.965 1)" text-anchor="end">5</text>
<text class="b" transform="translate(147.5 2381.2) scale(0.965 1)" text-anchor="end" clip-path="url(#f2)">10</text>
<text class="b" transform="translate(147.5 2456.5) scale(0.965 1)" text-anchor="end" clip-path="url(#f2)">15</text>
<text class="b" transform="translate(147.5 2531.9) scale(0.965 1)" text-anchor="end">20</text>
<text class="b" transform="translate(147.5 2607.2) scale(0.965 1)" text-anchor="end">25</text>
<text class="b" transform="translate(147.5 2725.7) scale(0.965 1)" text-anchor="end">0</text>
<text class="b" transform="translate(224 2808.6) scale(0.965 1)" text-anchor="end">5</text>
<text class="b" transform="translate(310.5 2893) scale(0.965 1)" text-anchor="end" clip-path="url(#f2)">10</text>
<text class="b" transform="translate(397.5 2982.2) scale(0.965 1)" text-anchor="end" clip-path="url(#f2)">15</text>
<text class="b" transform="translate(493 3074.5) scale(0.965 1)" text-anchor="end">20</text>
<text class="b" transform="translate(213 3038.5) scale(0.975 1)" text-anchor="start" style="font-size:71px">X [m]</text>
<text class="b" transform="translate(551 3100.6) scale(0.965 1)" text-anchor="start">20</text>
<text class="b" transform="translate(811 3080.5) scale(0.965 1)" text-anchor="start" clip-path="url(#f1)">16</text>
<text class="b" transform="translate(1065.5 3055.5) scale(0.965 1)" text-anchor="start" clip-path="url(#f1)">12</text>
<text class="b" transform="translate(1328 3040.5) scale(0.965 1)" text-anchor="start">8</text>
<text class="b" transform="translate(1582.5 3023.9) scale(0.965 1)" text-anchor="start">4</text>
<text class="b" transform="translate(1827 3002.4) scale(0.965 1)" text-anchor="start">0</text>
<text class="b" transform="translate(889 3105.6) scale(0.975 1)" text-anchor="start" style="font-size:71px">Y [m]</text>
<text class="b" transform="translate(1895 2168.9) scale(0.965 1)" text-anchor="start" clip-path="url(#f1)">10<tspan dx="3" dy="-21" style="font-size:46px">4</tspan></text>
<text class="b" transform="translate(1895 2463.2) scale(0.965 1)" text-anchor="start" clip-path="url(#f1)">10<tspan dx="3" dy="-21" style="font-size:46px">3</tspan></text>
<text class="b" transform="translate(1895 2759.5) scale(0.965 1)" text-anchor="start" clip-path="url(#f1)">10<tspan dx="3" dy="-21" style="font-size:46px">2</tspan></text>
<text class="b" transform="translate(1895 3067.3) scale(0.965 1)" text-anchor="start" clip-path="url(#f1)">10</text>
<path class="t" d="M1889 2434h7" style="stroke:#555;stroke-width:1.5"/>
<path class="t" d="M1889 2730h7" style="stroke:#555;stroke-width:1.5"/>
<text class="o" transform="translate(1808 2120.1) scale(1.090 1)" text-anchor="start">&#937;m</text>
</g>
<g id="panel-d">
<path class="t" d="M525 4040.5 L1817 3948"/>
<path class="t" d="M525 4040.5l22 21"/>
<path class="t" d="M654.1 4031.3l22 21"/>
<path class="t" d="M783.2 4022l22 21"/>
<path class="t" d="M912.3 4012.8l22 21"/>
<path class="t" d="M1041.4 4003.5l22 21"/>
<path class="t" d="M1170.5 3994.3l22 21"/>
<path class="t" d="M1299.6 3985l22 21"/>
<path class="t" d="M1428.7 3975.8l22 21"/>
<path class="t" d="M1557.8 3966.6l22 21"/>
<path class="t" d="M1686.9 3957.3l22 21"/>
<path class="t" d="M1816 3948.1l22 21"/>
<path class="t" d="M150 3224l16 15.5"/>
<path class="t" d="M150 3299l16 15.5"/>
<path class="t" d="M150 3374l16 15.5"/>
<path class="t" d="M150 3449l16 15.5"/>
<path class="t" d="M150 3524l16 15.5"/>
<path class="t" d="M150 3599l16 15.5"/>
<path class="t" d="M150 3674l16 15.5"/>
<path class="t" d="M166 3697l-24 2.5"/>
<path class="t" d="M255.7 3782.8l-24 2.5"/>
<path class="t" d="M345.4 3868.5l-24 2.5"/>
<path class="t" d="M435.1 3954.3l-24 2.5"/>
<path class="t" d="M524.8 4040l-24 2.5"/>
<g shape-rendering="crispEdges">
<path fill="#ffe500" d="M166 3239.5h7.6v15.4h-7.6zM166 3339.5h7.6v5.4h-7.6zM166 3574.5h7.6v5.4h-7.6zM173.2 3254.5h7.6v5.4h-7.6zM173.2 3334.5h7.6v20.4h-7.6zM173.2 3439.5h7.6v25.4h-7.6zM173.2 3504.5h7.6v80.4h-7.6zM173.2 3619.5h7.6v90.4h-7.6zM180.4 3356.5h7.6v15.4h-7.6zM187.6 3273.6h7.6v5.4h-7.6zM194.7 3280.6h7.6v5.4h-7.6zM194.7 3335.6h7.6v65.4h-7.6zM194.7 3510.6h7.6v65.4h-7.6zM194.7 3655.6h7.6v75.5h-7.6zM201.9 3287.7h7.6v60.4h-7.6zM209.1 3409.7h7.6v5.4h-7.6zM209.1 3664.7h7.6v50.4h-7.6zM216.3 3421.7h7.6v5.4h-7.6zM216.3 3726.7h7.6v25.5h-7.6zM223.5 3308.8h7.6v5.4h-7.6zM223.5 3518.8h7.6v85.4h-7.6zM230.7 3325.8h7.6v25.4h-7.6zM230.7 3365.8h7.6v30.4h-7.6zM230.7 3445.8h7.6v235.4h-7.6zM230.7 3740.8h7.6v25.5h-7.6zM237.8 3392.9h7.6v135.4h-7.6zM237.8 3592.9h7.6v105.4h-7.6zM237.8 3747.9h7.6v25.4h-7.6zM245 3589.9h7.6v40.4h-7.6zM259.4 3424h7.6v35.4h-7.6zM259.4 3679h7.6v10.4h-7.6zM266.6 3351h7.6v5.4h-7.6zM266.6 3476h7.6v50.4h-7.6zM266.6 3736h7.6v5.4h-7.6zM273.8 3378.1h7.6v65.4h-7.6zM273.8 3488.1h7.6v115.4h-7.6zM273.8 3673.1h7.6v50.4h-7.6zM273.8 3803.1h7.6v5.5h-7.6zM280.9 3380.1h7.6v315.4h-7.6zM288.1 3382.1h7.6v5.4h-7.6zM288.1 3477.1h7.6v90.4h-7.6zM288.1 3622.1h7.6v80.4h-7.6zM288.1 3722.1h7.6v35.4h-7.6zM288.1 3792.1h7.6v25.4h-7.6zM302.5 3391.2h7.6v10.4h-7.6zM302.5 3471.2h7.6v180.4h-7.6zM302.5 3746.2h7.6v90.5h-7.6zM316.9 3705.3h7.6v35.4h-7.6zM316.9 3745.3h7.6v15.4h-7.6zM324 3512.3h7.6v30.4h-7.6zM324 3602.3h7.6v110.4h-7.6zM331.2 3404.4h7.6v25.4h-7.6zM338.4 3436.4h7.6v5.4h-7.6zM338.4 3781.4h7.6v5.4h-7.6zM345.6 3868.5h7.6v10.5h-7.6zM352.8 3700.5h7.6v45.4h-7.6zM360 3892.5h7.6v0.5h-7.6zM367.2 3439.6h7.6v5.4h-7.6zM367.2 3484.6h7.6v5.4h-7.6zM367.2 3579.6h7.6v195.4h-7.6zM374.3 3436.6h7.6v5.4h-7.6zM374.3 3481.6h7.6v5.4h-7.6zM374.3 3786.6h7.6v5.4h-7.6zM381.5 3458.7h7.6v20.4h-7.6zM381.5 3773.7h7.6v5.4h-7.6zM388.7 3465.7h7.6v5.4h-7.6zM395.9 3477.7h7.6v25.4h-7.6zM395.9 3537.7h7.6v115.4h-7.6zM395.9 3757.7h7.6v30.4h-7.6zM395.9 3912.7h7.6v15.5h-7.6zM403.1 3464.8h7.6v15.4h-7.6zM403.1 3489.8h7.6v5.4h-7.6zM403.1 3744.8h7.6v95.4h-7.6zM446.2 3532h7.6v5.4h-7.6zM446.2 3557h7.6v5.4h-7.6zM460.5 3546.1h7.6v5.4h-7.6zM467.7 3603.1h7.6v200.4h-7.6zM467.7 3868.1h7.6v125.4h-7.6zM474.9 3595.2h7.6v10.4h-7.6zM474.9 3645.2h7.6v5.4h-7.6zM474.9 3670.2h7.6v5.4h-7.6zM482.1 3557.2h7.6v5.4h-7.6zM489.3 3584.3h7.6v165.4h-7.6zM489.3 3809.3h7.6v135.4h-7.6zM489.3 3989.3h7.6v30.5h-7.6zM496.5 3576.3h7.6v10.4h-7.6zM503.6 3603.3h7.6v5.4h-7.6zM503.6 3653.3h7.6v95.4h-7.6zM503.6 3943.3h7.6v10.4h-7.6zM510.8 3605.4h7.6v5.4h-7.6zM510.8 3960.4h7.6v60.4h-7.6zM518 3617.4h7.2v75.4h-7.2zM518 3712.4h7.2v45.4h-7.2zM518 3952.4h7.2v15.4h-7.2z"/><path fill="#ffcc00" d="M166 3254.5h7.6v5.4h-7.6zM166 3334.5h7.6v5.4h-7.6zM166 3579.5h7.6v5.4h-7.6zM173.2 3259.5h7.6v5.4h-7.6zM173.2 3324.5h7.6v10.4h-7.6zM173.2 3464.5h7.6v40.4h-7.6zM173.2 3584.5h7.6v35.4h-7.6zM173.2 3709.5h7.6v0.5h-7.6zM180.4 3271.5h7.6v85.4h-7.6zM187.6 3278.6h7.6v120.4h-7.6zM187.6 3523.6h7.6v80.4h-7.6zM187.6 3633.6h7.6v70.4h-7.6zM194.7 3285.6h7.6v50.4h-7.6zM194.7 3400.6h7.6v35.4h-7.6zM194.7 3450.6h7.6v60.4h-7.6zM194.7 3575.6h7.6v40.4h-7.6zM194.7 3630.6h7.6v25.4h-7.6zM201.9 3347.7h7.6v20.4h-7.6zM201.9 3457.7h7.6v100.4h-7.6zM201.9 3677.7h7.6v50.4h-7.6zM209.1 3304.7h7.6v5.4h-7.6zM209.1 3384.7h7.6v25.4h-7.6zM216.3 3316.7h7.6v5.4h-7.6zM216.3 3411.7h7.6v10.4h-7.6zM223.5 3438.8h7.6v20.4h-7.6zM223.5 3478.8h7.6v40.4h-7.6zM223.5 3603.8h7.6v35.4h-7.6zM223.5 3668.8h7.6v90.5h-7.6zM230.7 3350.8h7.6v15.4h-7.6zM237.8 3772.9h7.6v0.5h-7.6zM259.4 3349h7.6v75.4h-7.6zM259.4 3459h7.6v35.4h-7.6zM259.4 3534h7.6v145.4h-7.6zM259.4 3689h7.6v40.4h-7.6zM266.6 3416h7.6v60.4h-7.6zM266.6 3526h7.6v95.4h-7.6zM266.6 3791h7.6v10.5h-7.6zM280.9 3695.1h7.6v120.5h-7.6zM288.1 3387.1h7.6v5.4h-7.6zM288.1 3462.1h7.6v15.4h-7.6zM288.1 3702.1h7.6v20.4h-7.6zM288.1 3817.1h7.6v5.5h-7.6zM316.9 3500.3h7.6v205.4h-7.6zM316.9 3760.3h7.6v10.4h-7.6zM324 3502.3h7.6v10.4h-7.6zM324 3712.3h7.6v50.4h-7.6zM338.4 3401.4h7.6v20.4h-7.6zM338.4 3426.4h7.6v10.4h-7.6zM338.4 3786.4h7.6v5.4h-7.6zM338.4 3846.4h7.6v25.5h-7.6zM352.8 3440.5h7.6v5.4h-7.6zM352.8 3520.5h7.6v60.4h-7.6zM352.8 3635.5h7.6v65.4h-7.6zM352.8 3745.5h7.6v140.5h-7.6zM360 3447.5h7.6v5.4h-7.6zM360 3602.5h7.6v5.4h-7.6zM360 3702.5h7.6v120.4h-7.6zM360 3862.5h7.6v30.4h-7.6zM367.2 3444.6h7.6v10.4h-7.6zM367.2 3474.6h7.6v10.4h-7.6zM367.2 3774.6h7.6v10.4h-7.6zM374.3 3441.6h7.6v10.4h-7.6zM374.3 3476.6h7.6v5.4h-7.6zM374.3 3791.6h7.6v5.4h-7.6zM381.5 3778.7h7.6v5.4h-7.6zM381.5 3793.7h7.6v30.4h-7.6zM388.7 3460.7h7.6v5.4h-7.6zM403.1 3494.8h7.6v5.4h-7.6zM403.1 3554.8h7.6v135.4h-7.6zM403.1 3714.8h7.6v30.4h-7.6zM403.1 3839.8h7.6v95.5h-7.6zM446.2 3537h7.6v10.4h-7.6zM460.5 3586.1h7.6v45.4h-7.6zM460.5 3656.1h7.6v130.4h-7.6zM460.5 3856.1h7.6v115.4h-7.6zM467.7 3558.1h7.6v10.4h-7.6zM467.7 3583.1h7.6v20.4h-7.6zM467.7 3803.1h7.6v65.4h-7.6zM474.9 3560.2h7.6v5.4h-7.6zM474.9 3585.2h7.6v10.4h-7.6zM474.9 3650.2h7.6v20.4h-7.6zM482.1 3552.2h7.6v5.4h-7.6zM496.5 3556.3h7.6v20.4h-7.6zM503.6 3598.3h7.6v5.4h-7.6zM503.6 3953.3h7.6v10.4h-7.6zM503.6 4008.3h7.6v25.5h-7.6zM510.8 3595.4h7.6v10.4h-7.6zM510.8 4020.4h7.6v20.5h-7.6zM518 3607.4h7.2v10.4h-7.2zM518 3967.4h7.2v10.4h-7.2z"/><path fill="#ffb300" d="M166 3259.5h7.6v10.4h-7.6zM166 3329.5h7.6v5.4h-7.6zM166 3584.5h7.6v5.4h-7.6zM173.2 3264.5h7.6v35.4h-7.6zM173.2 3304.5h7.6v20.4h-7.6zM187.6 3398.6h7.6v125.4h-7.6zM187.6 3603.6h7.6v30.4h-7.6zM187.6 3703.6h7.6v20.5h-7.6zM194.7 3435.6h7.6v15.4h-7.6zM194.7 3615.6h7.6v15.4h-7.6zM201.9 3367.7h7.6v90.4h-7.6zM201.9 3557.7h7.6v5.4h-7.6zM201.9 3672.7h7.6v5.4h-7.6zM201.9 3727.7h7.6v10.5h-7.6zM209.1 3309.7h7.6v20.4h-7.6zM209.1 3344.7h7.6v40.4h-7.6zM216.3 3321.7h7.6v90.4h-7.6zM223.5 3313.8h7.6v15.4h-7.6zM223.5 3333.8h7.6v65.4h-7.6zM223.5 3418.8h7.6v20.4h-7.6zM223.5 3458.8h7.6v20.4h-7.6zM223.5 3638.8h7.6v30.4h-7.6zM259.4 3494h7.6v40.4h-7.6zM259.4 3729h7.6v65.5h-7.6zM266.6 3356h7.6v60.4h-7.6zM266.6 3741h7.6v50.4h-7.6zM288.1 3392.1h7.6v70.4h-7.6zM316.9 3380.3h7.6v80.4h-7.6zM316.9 3480.3h7.6v20.4h-7.6zM316.9 3770.3h7.6v20.4h-7.6zM316.9 3825.3h7.6v25.5h-7.6zM324 3422.3h7.6v50.4h-7.6zM324 3492.3h7.6v10.4h-7.6zM324 3762.3h7.6v10.4h-7.6zM338.4 3421.4h7.6v5.4h-7.6zM338.4 3791.4h7.6v55.4h-7.6zM352.8 3445.5h7.6v75.4h-7.6zM352.8 3580.5h7.6v55.4h-7.6zM360 3452.5h7.6v5.4h-7.6zM360 3527.5h7.6v75.4h-7.6zM360 3607.5h7.6v95.4h-7.6zM360 3822.5h7.6v40.4h-7.6zM367.2 3454.6h7.6v20.4h-7.6zM367.2 3784.6h7.6v5.4h-7.6zM367.2 3799.6h7.6v100.5h-7.6zM374.3 3451.6h7.6v10.4h-7.6zM374.3 3466.6h7.6v10.4h-7.6zM374.3 3796.6h7.6v35.4h-7.6zM381.5 3783.7h7.6v10.4h-7.6zM381.5 3823.7h7.6v90.5h-7.6zM388.7 3450.7h7.6v10.4h-7.6zM403.1 3499.8h7.6v5.4h-7.6zM403.1 3544.8h7.6v10.4h-7.6zM403.1 3689.8h7.6v25.4h-7.6zM446.2 3547h7.6v10.4h-7.6zM460.5 3556.1h7.6v30.4h-7.6zM460.5 3631.1h7.6v25.4h-7.6zM460.5 3786.1h7.6v70.4h-7.6zM460.5 3971.1h7.6v20.5h-7.6zM467.7 3568.1h7.6v15.4h-7.6zM474.9 3565.2h7.6v20.4h-7.6zM482.1 3547.2h7.6v5.4h-7.6zM503.6 3588.3h7.6v10.4h-7.6zM503.6 3963.3h7.6v45.4h-7.6zM510.8 3570.4h7.6v25.4h-7.6zM518 3577.4h7.2v30.4h-7.2zM518 3977.4h7.2v63.5h-7.2z"/><path fill="#ff9900" d="M166 3269.5h7.6v60.4h-7.6zM166 3589.5h7.6v40.4h-7.6zM173.2 3299.5h7.6v5.4h-7.6zM201.9 3562.7h7.6v5.4h-7.6zM201.9 3667.7h7.6v5.4h-7.6zM209.1 3329.7h7.6v15.4h-7.6zM223.5 3328.8h7.6v5.4h-7.6zM223.5 3398.8h7.6v20.4h-7.6zM316.9 3460.3h7.6v20.4h-7.6zM316.9 3790.3h7.6v35.4h-7.6zM324 3387.3h7.6v35.4h-7.6zM324 3472.3h7.6v20.4h-7.6zM324 3772.3h7.6v85.5h-7.6zM360 3457.5h7.6v70.4h-7.6zM367.2 3789.6h7.6v10.4h-7.6zM374.3 3461.6h7.6v5.4h-7.6zM374.3 3831.6h7.6v75.5h-7.6zM403.1 3504.8h7.6v40.4h-7.6zM460.5 3551.1h7.6v5.4h-7.6zM503.6 3563.3h7.6v25.4h-7.6z"/><path fill="#ffff00" d="M166 3344.5h7.6v5.4h-7.6zM166 3569.5h7.6v5.4h-7.6zM173.2 3244.5h7.6v10.4h-7.6zM173.2 3354.5h7.6v85.4h-7.6zM180.4 3266.5h7.6v5.4h-7.6zM180.4 3371.5h7.6v5.4h-7.6zM194.7 3275.6h7.6v5.4h-7.6zM201.9 3282.7h7.6v5.4h-7.6zM209.1 3414.7h7.6v10.4h-7.6zM209.1 3484.7h7.6v180.4h-7.6zM209.1 3714.7h7.6v30.5h-7.6zM216.3 3311.7h7.6v5.4h-7.6zM216.3 3426.7h7.6v45.4h-7.6zM216.3 3591.7h7.6v35.4h-7.6zM216.3 3656.7h7.6v70.4h-7.6zM230.7 3395.8h7.6v50.4h-7.6zM230.7 3680.8h7.6v60.4h-7.6zM237.8 3332.9h7.6v60.4h-7.6zM237.8 3527.9h7.6v65.4h-7.6zM237.8 3697.9h7.6v50.4h-7.6zM245 3509.9h7.6v80.4h-7.6zM245 3629.9h7.6v25.4h-7.6zM245 3699.9h7.6v70.4h-7.6zM252.2 3346.9h7.6v20.4h-7.6zM252.2 3391.9h7.6v25.4h-7.6zM259.4 3344h7.6v5.4h-7.6zM266.6 3346h7.6v5.4h-7.6zM266.6 3621h7.6v5.4h-7.6zM273.8 3363.1h7.6v15.4h-7.6zM273.8 3443.1h7.6v45.4h-7.6zM273.8 3603.1h7.6v70.4h-7.6zM273.8 3723.1h7.6v25.4h-7.6zM273.8 3773.1h7.6v30.4h-7.6zM288.1 3567.1h7.6v55.4h-7.6zM288.1 3757.1h7.6v35.4h-7.6zM302.5 3401.2h7.6v70.4h-7.6zM302.5 3651.2h7.6v95.4h-7.6zM309.7 3398.3h7.6v130.4h-7.6zM309.7 3608.3h7.6v140.4h-7.6zM309.7 3828.3h7.6v15.5h-7.6zM316.9 3740.3h7.6v5.4h-7.6zM324 3542.3h7.6v60.4h-7.6zM331.2 3394.4h7.6v10.4h-7.6zM331.2 3429.4h7.6v10.4h-7.6zM331.2 3479.4h7.6v65.4h-7.6zM331.2 3779.4h7.6v85.5h-7.6zM338.4 3441.4h7.6v35.4h-7.6zM338.4 3776.4h7.6v5.4h-7.6zM345.6 3408.5h7.6v45.4h-7.6zM345.6 3748.5h7.6v120.4h-7.6zM352.8 3435.5h7.6v5.4h-7.6zM360 3442.5h7.6v5.4h-7.6zM367.2 3434.6h7.6v5.4h-7.6zM367.2 3489.6h7.6v90.4h-7.6zM381.5 3453.7h7.6v5.4h-7.6zM381.5 3478.7h7.6v5.4h-7.6zM381.5 3488.7h7.6v40.4h-7.6zM381.5 3768.7h7.6v5.4h-7.6zM388.7 3470.7h7.6v5.4h-7.6zM395.9 3462.7h7.6v15.4h-7.6zM395.9 3502.7h7.6v35.4h-7.6zM395.9 3652.7h7.6v5.4h-7.6zM395.9 3752.7h7.6v5.4h-7.6zM395.9 3787.7h7.6v125.4h-7.6zM403.1 3479.8h7.6v10.4h-7.6zM410.3 3511.8h7.6v95.4h-7.6zM410.3 3691.8h7.6v40.4h-7.6zM410.3 3836.8h7.6v105.4h-7.6zM446.2 3562h7.6v5.4h-7.6zM453.4 3714.1h7.6v65.4h-7.6zM453.4 3984.1h7.6v0.5h-7.6zM467.7 3993.1h7.6v5.5h-7.6zM474.9 3555.2h7.6v5.4h-7.6zM474.9 3605.2h7.6v15.4h-7.6zM474.9 3635.2h7.6v10.4h-7.6zM474.9 3675.2h7.6v5.4h-7.6zM482.1 3562.2h7.6v5.4h-7.6zM489.3 3549.3h7.6v5.4h-7.6zM489.3 3749.3h7.6v60.4h-7.6zM489.3 3944.3h7.6v45.4h-7.6zM496.5 3586.3h7.6v5.4h-7.6zM503.6 3608.3h7.6v45.4h-7.6zM503.6 3748.3h7.6v10.4h-7.6zM503.6 3918.3h7.6v25.4h-7.6zM510.8 3610.4h7.6v5.4h-7.6zM510.8 3735.4h7.6v15.4h-7.6zM510.8 3925.4h7.6v35.4h-7.6zM518 3692.4h7.2v20.4h-7.2zM518 3757.4h7.2v10.4h-7.2zM518 3932.4h7.2v20.4h-7.2z"/><path fill="#e5ff1a" d="M166 3349.5h7.6v20.4h-7.6zM166 3454.5h7.6v115.4h-7.6zM173.2 3239.5h7.6v5.4h-7.6zM180.4 3376.5h7.6v5.4h-7.6zM187.6 3268.6h7.6v5.4h-7.6zM194.7 3265.6h7.6v10.4h-7.6zM201.9 3272.7h7.6v10.4h-7.6zM209.1 3299.7h7.6v5.4h-7.6zM209.1 3424.7h7.6v60.4h-7.6zM216.3 3471.7h7.6v5.4h-7.6zM216.3 3626.7h7.6v30.4h-7.6zM223.5 3303.8h7.6v5.4h-7.6zM245 3344.9h7.6v35.4h-7.6zM245 3654.9h7.6v45.4h-7.6zM245 3769.9h7.6v10.5h-7.6zM252.2 3366.9h7.6v25.4h-7.6zM252.2 3416.9h7.6v5.4h-7.6zM266.6 3731h7.6v5.4h-7.6zM273.8 3748.1h7.6v25.4h-7.6zM280.9 3375.1h7.6v5.4h-7.6zM288.1 3377.1h7.6v5.4h-7.6zM295.3 3384.2h7.6v60.4h-7.6zM302.5 3386.2h7.6v5.4h-7.6zM309.7 3528.3h7.6v80.4h-7.6zM309.7 3748.3h7.6v30.4h-7.6zM309.7 3808.3h7.6v20.4h-7.6zM331.2 3439.4h7.6v40.4h-7.6zM331.2 3544.4h7.6v60.4h-7.6zM331.2 3649.4h7.6v130.4h-7.6zM338.4 3476.4h7.6v10.4h-7.6zM338.4 3771.4h7.6v5.4h-7.6zM345.6 3453.5h7.6v40.4h-7.6zM345.6 3693.5h7.6v55.4h-7.6zM367.2 3429.6h7.6v5.4h-7.6zM374.3 3486.6h7.6v5.4h-7.6zM374.3 3781.6h7.6v5.4h-7.6zM381.5 3448.7h7.6v5.4h-7.6zM381.5 3483.7h7.6v5.4h-7.6zM381.5 3763.7h7.6v5.4h-7.6zM395.9 3457.7h7.6v5.4h-7.6zM395.9 3747.7h7.6v5.4h-7.6zM410.3 3506.8h7.6v5.4h-7.6zM410.3 3606.8h7.6v40.4h-7.6zM410.3 3661.8h7.6v30.4h-7.6zM410.3 3731.8h7.6v25.4h-7.6zM410.3 3791.8h7.6v45.4h-7.6zM410.3 3941.8h7.6v0.5h-7.6zM417.4 3538.9h7.6v150.4h-7.6zM417.4 3873.9h7.6v50.4h-7.6zM424.6 3705.9h7.6v95.4h-7.6zM446.2 3527h7.6v5.4h-7.6zM446.2 3567h7.6v5.4h-7.6zM453.4 3539.1h7.6v175.4h-7.6zM453.4 3779.1h7.6v135.4h-7.6zM453.4 3954.1h7.6v30.4h-7.6zM467.7 3553.1h7.6v5.4h-7.6zM474.9 3620.2h7.6v15.4h-7.6zM474.9 3680.2h7.6v5.4h-7.6zM482.1 3567.2h7.6v10.4h-7.6zM482.1 3927.2h7.6v55.4h-7.6zM489.3 3579.3h7.6v5.4h-7.6zM496.5 3591.3h7.6v50.4h-7.6zM503.6 3758.3h7.6v5.4h-7.6zM503.6 3913.3h7.6v5.4h-7.6zM510.8 3615.4h7.6v120.4h-7.6zM510.8 3750.4h7.6v10.4h-7.6zM510.8 3920.4h7.6v5.4h-7.6zM518 3767.4h7.2v10.4h-7.2zM518 3927.4h7.2v5.4h-7.2z"/><path fill="#ccff33" d="M166 3369.5h7.6v45.4h-7.6zM166 3429.5h7.6v25.4h-7.6zM180.4 3261.5h7.6v5.4h-7.6zM180.4 3381.5h7.6v5.4h-7.6zM180.4 3396.5h7.6v65.4h-7.6zM187.6 3263.6h7.6v5.4h-7.6zM194.7 3260.6h7.6v5.4h-7.6zM216.3 3476.7h7.6v5.4h-7.6zM216.3 3586.7h7.6v5.4h-7.6zM223.5 3298.8h7.6v5.4h-7.6zM245 3379.9h7.6v5.4h-7.6zM245 3504.9h7.6v5.4h-7.6zM252.2 3341.9h7.6v5.4h-7.6zM252.2 3421.9h7.6v5.4h-7.6zM252.2 3666.9h7.6v50.4h-7.6zM266.6 3341h7.6v5.4h-7.6zM266.6 3626h7.6v5.4h-7.6zM273.8 3358.1h7.6v5.4h-7.6zM295.3 3379.2h7.6v5.4h-7.6zM295.3 3444.2h7.6v15.4h-7.6zM295.3 3494.2h7.6v65.4h-7.6zM302.5 3381.2h7.6v5.4h-7.6zM309.7 3393.3h7.6v5.4h-7.6zM309.7 3778.3h7.6v30.4h-7.6zM331.2 3604.4h7.6v45.4h-7.6zM338.4 3486.4h7.6v5.4h-7.6zM345.6 3493.5h7.6v5.4h-7.6zM345.6 3688.5h7.6v5.4h-7.6zM352.8 3430.5h7.6v5.4h-7.6zM360 3437.5h7.6v5.4h-7.6zM374.3 3491.6h7.6v5.4h-7.6zM374.3 3541.6h7.6v35.4h-7.6zM374.3 3776.6h7.6v5.4h-7.6zM381.5 3443.7h7.6v5.4h-7.6zM381.5 3528.7h7.6v5.4h-7.6zM381.5 3738.7h7.6v15.4h-7.6zM388.7 3475.7h7.6v5.4h-7.6zM388.7 3760.7h7.6v145.4h-7.6zM395.9 3657.7h7.6v5.4h-7.6zM395.9 3742.7h7.6v5.4h-7.6zM410.3 3471.8h7.6v5.4h-7.6zM410.3 3501.8h7.6v5.4h-7.6zM410.3 3646.8h7.6v15.4h-7.6zM410.3 3756.8h7.6v35.4h-7.6zM417.4 3533.9h7.6v5.4h-7.6zM417.4 3688.9h7.6v185.4h-7.6zM417.4 3923.9h7.6v20.4h-7.6zM424.6 3695.9h7.6v10.4h-7.6zM424.6 3800.9h7.6v45.4h-7.6zM424.6 3935.9h7.6v20.5h-7.6zM439 3845h7.6v30.4h-7.6zM446.2 3572h7.6v5.4h-7.6zM446.2 3712h7.6v180.4h-7.6zM446.2 3972h7.6v5.5h-7.6zM453.4 3534.1h7.6v5.4h-7.6zM453.4 3914.1h7.6v40.4h-7.6zM460.5 3541.1h7.6v5.4h-7.6zM474.9 3550.2h7.6v5.4h-7.6zM474.9 3925.2h7.6v15.4h-7.6zM482.1 3577.2h7.6v120.4h-7.6zM482.1 3917.2h7.6v10.4h-7.6zM482.1 3982.2h7.6v30.4h-7.6zM489.3 3554.3h7.6v5.4h-7.6zM496.5 3641.3h7.6v10.4h-7.6zM496.5 3781.3h7.6v90.4h-7.6zM496.5 3966.3h7.6v35.4h-7.6zM503.6 3763.3h7.6v40.4h-7.6zM503.6 3908.3h7.6v5.4h-7.6zM510.8 3760.4h7.6v10.4h-7.6zM510.8 3915.4h7.6v5.4h-7.6zM518 3777.4h7.2v20.4h-7.2zM518 3922.4h7.2v5.4h-7.2z"/><path fill="#b3ff4c" d="M166 3414.5h7.6v15.4h-7.6zM180.4 3386.5h7.6v10.4h-7.6zM180.4 3461.5h7.6v255.5h-7.6zM201.9 3267.7h7.6v5.4h-7.6zM216.3 3306.7h7.6v5.4h-7.6zM216.3 3581.7h7.6v5.4h-7.6zM230.7 3320.8h7.6v5.4h-7.6zM252.2 3661.9h7.6v5.4h-7.6zM252.2 3716.9h7.6v65.4h-7.6zM259.4 3339h7.6v5.4h-7.6zM266.6 3726h7.6v5.4h-7.6zM273.8 3353.1h7.6v5.4h-7.6zM295.3 3459.2h7.6v35.4h-7.6zM295.3 3559.2h7.6v35.4h-7.6zM295.3 3609.2h7.6v110.4h-7.6zM295.3 3724.2h7.6v105.5h-7.6zM302.5 3376.2h7.6v5.4h-7.6zM309.7 3388.3h7.6v5.4h-7.6zM338.4 3721.4h7.6v50.4h-7.6zM345.6 3498.5h7.6v5.4h-7.6zM345.6 3683.5h7.6v5.4h-7.6zM374.3 3496.6h7.6v45.4h-7.6zM374.3 3576.6h7.6v200.4h-7.6zM381.5 3533.7h7.6v5.4h-7.6zM381.5 3603.7h7.6v135.4h-7.6zM381.5 3753.7h7.6v10.4h-7.6zM388.7 3480.7h7.6v10.4h-7.6zM388.7 3750.7h7.6v10.4h-7.6zM388.7 3905.7h7.6v15.5h-7.6zM395.9 3662.7h7.6v5.4h-7.6zM395.9 3737.7h7.6v5.4h-7.6zM410.3 3476.8h7.6v5.4h-7.6zM417.4 3943.9h7.6v5.5h-7.6zM424.6 3690.9h7.6v5.4h-7.6zM424.6 3845.9h7.6v90.4h-7.6zM439 3540h7.6v175.4h-7.6zM439 3820h7.6v25.4h-7.6zM439 3875h7.6v25.4h-7.6zM446.2 3522h7.6v5.4h-7.6zM446.2 3582h7.6v130.4h-7.6zM446.2 3892h7.6v25.4h-7.6zM446.2 3942h7.6v30.4h-7.6zM453.4 3529.1h7.6v5.4h-7.6zM474.9 3685.2h7.6v5.4h-7.6zM474.9 3915.2h7.6v10.4h-7.6zM474.9 3940.2h7.6v65.4h-7.6zM482.1 3697.2h7.6v10.4h-7.6zM482.1 3872.2h7.6v45.4h-7.6zM482.1 4012.2h7.6v0.5h-7.6zM489.3 3559.3h7.6v5.4h-7.6zM489.3 3574.3h7.6v5.4h-7.6zM496.5 3651.3h7.6v130.4h-7.6zM496.5 3871.3h7.6v20.4h-7.6zM496.5 3946.3h7.6v20.4h-7.6zM496.5 4001.3h7.6v25.5h-7.6zM503.6 3803.3h7.6v5.4h-7.6zM503.6 3898.3h7.6v10.4h-7.6zM510.8 3770.4h7.6v40.4h-7.6zM510.8 3910.4h7.6v5.4h-7.6zM518 3797.4h7.2v20.4h-7.2zM518 3917.4h7.2v5.4h-7.2z"/><path fill="#ff8000" d="M166 3629.5h7.6v10.4h-7.6zM201.9 3567.7h7.6v10.4h-7.6zM201.9 3657.7h7.6v10.4h-7.6zM482.1 3542.2h7.6v5.4h-7.6z"/><path fill="#ff6600" d="M166 3639.5h7.6v10.4h-7.6zM201.9 3577.7h7.6v30.4h-7.6zM201.9 3642.7h7.6v15.4h-7.6z"/><path fill="#ff4c00" d="M166 3649.5h7.6v53.5h-7.6zM201.9 3607.7h7.6v35.4h-7.6z"/><path fill="#4dffb2" d="M180.4 3246.5h7.6v5.4h-7.6zM216.3 3491.7h7.6v5.4h-7.6zM216.3 3541.7h7.6v30.4h-7.6zM230.7 3315.8h7.6v5.4h-7.6zM252.2 3331.9h7.6v5.4h-7.6zM252.2 3446.9h7.6v35.4h-7.6zM252.2 3531.9h7.6v65.4h-7.6zM252.2 3631.9h7.6v15.4h-7.6zM259.4 3329h7.6v5.4h-7.6zM266.6 3641h7.6v80.4h-7.6zM280.9 3365.1h7.6v5.4h-7.6zM288.1 3367.1h7.6v5.4h-7.6zM309.7 3373.3h7.6v5.4h-7.6zM338.4 3501.4h7.6v5.4h-7.6zM338.4 3576.4h7.6v20.4h-7.6zM338.4 3666.4h7.6v5.4h-7.6zM345.6 3513.5h7.6v35.4h-7.6zM345.6 3613.5h7.6v35.4h-7.6zM345.6 3653.5h7.6v20.4h-7.6zM352.8 3415.5h7.6v5.4h-7.6zM381.5 3583.7h7.6v5.4h-7.6zM424.6 3585.9h7.6v10.4h-7.6zM424.6 3625.9h7.6v50.4h-7.6zM446.2 3507h7.6v5.4h-7.6zM467.7 3543.1h7.6v5.4h-7.6zM503.6 3823.3h7.6v15.4h-7.6zM510.8 3825.4h7.6v5.4h-7.6zM510.8 3880.4h7.6v5.4h-7.6zM518 3832.4h7.2v5.4h-7.2zM518 3872.4h7.2v10.4h-7.2z"/><path fill="#80ff80" d="M180.4 3251.5h7.6v5.4h-7.6zM216.3 3486.7h7.6v5.4h-7.6zM216.3 3576.7h7.6v5.4h-7.6zM237.8 3327.9h7.6v5.4h-7.6zM252.2 3431.9h7.6v5.4h-7.6zM252.2 3651.9h7.6v5.4h-7.6zM259.4 3334h7.6v5.4h-7.6zM266.6 3636h7.6v5.4h-7.6zM266.6 3721h7.6v5.4h-7.6zM273.8 3348.1h7.6v5.4h-7.6zM295.3 3369.2h7.6v5.4h-7.6zM338.4 3681.4h7.6v5.4h-7.6zM345.6 3503.5h7.6v5.4h-7.6zM345.6 3678.5h7.6v5.4h-7.6zM352.8 3420.5h7.6v5.4h-7.6zM360 3432.5h7.6v5.4h-7.6zM381.5 3538.7h7.6v5.4h-7.6zM381.5 3593.7h7.6v5.4h-7.6zM388.7 3660.7h7.6v10.4h-7.6zM388.7 3715.7h7.6v25.4h-7.6zM417.4 3523.9h7.6v5.4h-7.6zM424.6 3680.9h7.6v5.4h-7.6zM431.8 3537.9h7.6v5.4h-7.6zM431.8 3582.9h7.6v65.4h-7.6zM431.8 3702.9h7.6v165.4h-7.6zM431.8 3952.9h7.6v10.5h-7.6zM439 3530h7.6v5.4h-7.6zM446.2 3512h7.6v5.4h-7.6zM453.4 3524.1h7.6v5.4h-7.6zM460.5 3536.1h7.6v5.4h-7.6zM474.9 3695.2h7.6v45.4h-7.6zM474.9 3860.2h7.6v45.4h-7.6zM482.1 3777.2h7.6v15.4h-7.6zM489.3 3569.3h7.6v5.4h-7.6zM503.6 3813.3h7.6v5.4h-7.6zM503.6 3863.3h7.6v10.4h-7.6zM510.8 3815.4h7.6v5.4h-7.6zM510.8 3905.4h7.6v5.4h-7.6zM518 3822.4h7.2v5.4h-7.2zM518 3892.4h7.2v20.4h-7.2z"/><path fill="#99ff66" d="M180.4 3256.5h7.6v5.4h-7.6zM187.6 3258.6h7.6v5.4h-7.6zM209.1 3294.7h7.6v5.4h-7.6zM216.3 3481.7h7.6v5.4h-7.6zM223.5 3293.8h7.6v5.4h-7.6zM245 3339.9h7.6v5.4h-7.6zM245 3384.9h7.6v5.4h-7.6zM245 3499.9h7.6v5.4h-7.6zM252.2 3336.9h7.6v5.4h-7.6zM252.2 3426.9h7.6v5.4h-7.6zM252.2 3656.9h7.6v5.4h-7.6zM252.2 3781.9h7.6v5.5h-7.6zM266.6 3336h7.6v5.4h-7.6zM266.6 3631h7.6v5.4h-7.6zM280.9 3370.1h7.6v5.4h-7.6zM288.1 3372.1h7.6v5.4h-7.6zM295.3 3374.2h7.6v5.4h-7.6zM295.3 3594.2h7.6v15.4h-7.6zM295.3 3719.2h7.6v5.4h-7.6zM302.5 3371.2h7.6v5.4h-7.6zM309.7 3383.3h7.6v5.4h-7.6zM338.4 3491.4h7.6v5.4h-7.6zM338.4 3686.4h7.6v35.4h-7.6zM352.8 3425.5h7.6v5.4h-7.6zM381.5 3598.7h7.6v5.4h-7.6zM388.7 3490.7h7.6v170.4h-7.6zM388.7 3740.7h7.6v10.4h-7.6zM395.9 3667.7h7.6v70.4h-7.6zM410.3 3481.8h7.6v20.4h-7.6zM417.4 3528.9h7.6v5.4h-7.6zM424.6 3685.9h7.6v5.4h-7.6zM431.8 3542.9h7.6v40.4h-7.6zM431.8 3647.9h7.6v55.4h-7.6zM431.8 3867.9h7.6v85.4h-7.6zM439 3535h7.6v5.4h-7.6zM439 3715h7.6v105.4h-7.6zM439 3900h7.6v70.5h-7.6zM446.2 3517h7.6v5.4h-7.6zM446.2 3577h7.6v5.4h-7.6zM446.2 3917h7.6v25.4h-7.6zM467.7 3548.1h7.6v5.4h-7.6zM474.9 3545.2h7.6v5.4h-7.6zM474.9 3690.2h7.6v5.4h-7.6zM474.9 3905.2h7.6v10.4h-7.6zM474.9 4005.2h7.6v0.5h-7.6zM482.1 3707.2h7.6v70.4h-7.6zM482.1 3792.2h7.6v80.4h-7.6zM489.3 3564.3h7.6v5.4h-7.6zM496.5 3891.3h7.6v55.4h-7.6zM503.6 3808.3h7.6v5.4h-7.6zM503.6 3873.3h7.6v25.4h-7.6zM510.8 3810.4h7.6v5.4h-7.6zM518 3817.4h7.2v5.4h-7.2zM518 3912.4h7.2v5.4h-7.2z"/><path fill="#66ff99" d="M187.6 3253.6h7.6v5.4h-7.6zM216.3 3301.7h7.6v5.4h-7.6zM216.3 3496.7h7.6v45.4h-7.6zM216.3 3571.7h7.6v5.4h-7.6zM223.5 3288.8h7.6v5.4h-7.6zM245 3389.9h7.6v5.4h-7.6zM245 3494.9h7.6v5.4h-7.6zM252.2 3436.9h7.6v10.4h-7.6zM252.2 3646.9h7.6v5.4h-7.6zM266.6 3331h7.6v5.4h-7.6zM273.8 3343.1h7.6v5.4h-7.6zM295.3 3364.2h7.6v5.4h-7.6zM302.5 3366.2h7.6v5.4h-7.6zM309.7 3378.3h7.6v5.4h-7.6zM338.4 3496.4h7.6v5.4h-7.6zM338.4 3671.4h7.6v10.4h-7.6zM345.6 3508.5h7.6v5.4h-7.6zM345.6 3648.5h7.6v5.4h-7.6zM345.6 3673.5h7.6v5.4h-7.6zM360 3427.5h7.6v5.4h-7.6zM381.5 3543.7h7.6v5.4h-7.6zM381.5 3588.7h7.6v5.4h-7.6zM388.7 3670.7h7.6v45.4h-7.6zM424.6 3595.9h7.6v30.4h-7.6zM424.6 3675.9h7.6v5.4h-7.6zM431.8 3532.9h7.6v5.4h-7.6zM453.4 3519.1h7.6v5.4h-7.6zM474.9 3540.2h7.6v5.4h-7.6zM474.9 3740.2h7.6v120.4h-7.6zM503.6 3818.3h7.6v5.4h-7.6zM503.6 3838.3h7.6v25.4h-7.6zM510.8 3820.4h7.6v5.4h-7.6zM510.8 3885.4h7.6v20.4h-7.6zM518 3827.4h7.2v5.4h-7.2zM518 3882.4h7.2v10.4h-7.2z"/><path fill="#0080ff" d="M209.1 3274.7h7.6v5.4h-7.6zM216.3 3281.7h7.6v5.4h-7.6zM237.8 3317.9h7.6v5.4h-7.6zM245 3324.9h7.6v5.4h-7.6zM252.2 3316.9h7.6v5.4h-7.6zM280.9 3345.1h7.6v10.4h-7.6zM439 3500h7.6v10.4h-7.6z"/><path fill="#0099ff" d="M209.1 3279.7h7.6v5.4h-7.6zM216.3 3286.7h7.6v5.4h-7.6zM252.2 3321.9h7.6v5.4h-7.6zM280.9 3355.1h7.6v5.4h-7.6zM417.4 3513.9h7.6v5.4h-7.6zM467.7 3528.1h7.6v10.4h-7.6z"/><path fill="#00e5ff" d="M209.1 3284.7h7.6v5.4h-7.6zM230.7 3310.8h7.6v5.4h-7.6zM280.9 3360.1h7.6v5.4h-7.6zM288.1 3352.1h7.6v10.4h-7.6zM467.7 3538.1h7.6v5.4h-7.6z"/><path fill="#33ffcc" d="M209.1 3289.7h7.6v5.4h-7.6zM245 3334.9h7.6v5.4h-7.6zM245 3394.9h7.6v5.4h-7.6zM245 3489.9h7.6v5.4h-7.6zM252.2 3481.9h7.6v50.4h-7.6zM252.2 3596.9h7.6v35.4h-7.6zM273.8 3338.1h7.6v5.4h-7.6zM295.3 3359.2h7.6v5.4h-7.6zM338.4 3546.4h7.6v30.4h-7.6zM338.4 3596.4h7.6v70.4h-7.6zM345.6 3548.5h7.6v65.4h-7.6zM360 3422.5h7.6v5.4h-7.6zM381.5 3548.7h7.6v35.4h-7.6zM424.6 3580.9h7.6v5.4h-7.6zM439 3525h7.6v5.4h-7.6zM453.4 3514.1h7.6v5.4h-7.6zM474.9 3535.2h7.6v5.4h-7.6zM510.8 3830.4h7.6v15.4h-7.6zM510.8 3870.4h7.6v10.4h-7.6zM518 3837.4h7.2v35.4h-7.2z"/><path fill="#00b2ff" d="M216.3 3291.7h7.6v5.4h-7.6zM439 3510h7.6v10.4h-7.6z"/><path fill="#00ffff" d="M216.3 3296.7h7.6v5.4h-7.6zM237.8 3322.9h7.6v5.4h-7.6zM245 3399.9h7.6v15.4h-7.6zM245 3469.9h7.6v20.4h-7.6zM252.2 3326.9h7.6v5.4h-7.6zM259.4 3324h7.6v5.4h-7.6zM439 3520h7.6v5.4h-7.6z"/><path fill="#0000ff" d="M230.7 3295.8h7.6v10.4h-7.6zM237.8 3312.9h7.6v5.4h-7.6zM245 3309.9h7.6v10.4h-7.6zM417.4 3478.9h7.6v25.4h-7.6zM424.6 3485.9h7.6v10.4h-7.6zM431.8 3492.9h7.6v20.4h-7.6z"/><path fill="#0066ff" d="M230.7 3305.8h7.6v5.4h-7.6zM417.4 3508.9h7.6v5.4h-7.6zM424.6 3570.9h7.6v5.4h-7.6zM431.8 3517.9h7.6v5.4h-7.6z"/><path fill="#000080" d="M237.8 3302.9h7.6v10.4h-7.6zM424.6 3515.9h7.6v45.4h-7.6z"/><path fill="#001aff" d="M245 3319.9h7.6v5.4h-7.6zM424.6 3565.9h7.6v5.4h-7.6z"/><path fill="#00ccff" d="M245 3329.9h7.6v5.4h-7.6zM424.6 3575.9h7.6v5.4h-7.6zM431.8 3522.9h7.6v5.4h-7.6zM460.5 3521.1h7.6v10.4h-7.6z"/><path fill="#1affe5" d="M245 3414.9h7.6v55.4h-7.6zM288.1 3362.1h7.6v5.4h-7.6zM338.4 3506.4h7.6v40.4h-7.6zM417.4 3518.9h7.6v5.4h-7.6zM431.8 3527.9h7.6v5.4h-7.6zM460.5 3531.1h7.6v5.4h-7.6zM510.8 3845.4h7.6v25.4h-7.6z"/><path fill="#0033ff" d="M417.4 3503.9h7.6v5.4h-7.6zM431.8 3512.9h7.6v5.4h-7.6z"/><path fill="#0000e6" d="M424.6 3495.9h7.6v5.4h-7.6z"/><path fill="#0000cc" d="M424.6 3500.9h7.6v5.4h-7.6zM424.6 3560.9h7.6v5.4h-7.6z"/><path fill="#0000b2" d="M424.6 3505.9h7.6v5.4h-7.6z"/><path fill="#000099" d="M424.6 3510.9h7.6v5.4h-7.6z"/>
<path fill="#00ffff" d="M608.7 3208.3h7.6v10.4h-7.6zM709.6 3569.8h7.6v30.4h-7.6zM709.6 3604.8h7.6v30.4h-7.6zM716.8 3326.9h7.6v5.4h-7.6zM731.2 3425.9h7.6v80.4h-7.6zM824.9 3457.5h7.6v85.4h-7.6zM824.9 3787.5h7.6v15.4h-7.6zM824.9 3807.5h7.6v65.4h-7.6zM832.1 3479.5h7.6v10.4h-7.6zM839.4 3486.5h7.6v10.4h-7.6zM897 3482.9h7.6v10.4h-7.6zM954.7 3539.2h7.6v10.4h-7.6z"/><path fill="#4dffb2" d="M608.7 3218.3h7.6v5.4h-7.6zM608.7 3348.3h7.6v45.4h-7.6zM608.7 3413.3h7.6v5.4h-7.6zM623.1 3355.3h7.6v15.4h-7.6zM644.7 3381.5h7.6v5.4h-7.6zM644.7 3451.5h7.6v55.4h-7.6zM688 3403.7h7.6v5.4h-7.6zM688 3573.7h7.6v15.4h-7.6zM702.4 3447.8h7.6v55.4h-7.6zM709.6 3329.8h7.6v5.4h-7.6zM709.6 3389.8h7.6v5.4h-7.6zM709.6 3639.8h7.6v5.4h-7.6zM716.8 3331.9h7.6v5.4h-7.6zM724 3323.9h7.6v5.4h-7.6zM731.2 3510.9h7.6v5.4h-7.6zM788.9 3497.3h7.6v45.4h-7.6zM788.9 3592.3h7.6v70.4h-7.6zM824.9 3562.5h7.6v15.4h-7.6zM832.1 3524.5h7.6v45.4h-7.6zM832.1 3774.5h7.6v20.4h-7.6zM839.4 3556.5h7.6v75.4h-7.6zM839.4 3826.5h7.6v40.4h-7.6zM846.6 3583.6h7.6v70.4h-7.6zM846.6 3783.6h7.6v55.4h-7.6zM846.6 3878.6h7.6v25.1h-7.6zM853.8 3490.6h7.6v45.4h-7.6zM853.8 3690.6h7.6v35.4h-7.6zM853.8 3830.6h7.6v70.4h-7.6zM861 3487.7h7.6v5.4h-7.6zM868.2 3484.7h7.6v5.4h-7.6zM875.4 3486.7h7.6v5.4h-7.6zM875.4 3721.7h7.6v80.4h-7.6zM875.4 3851.7h7.6v5.4h-7.6zM882.6 3548.8h7.6v30.4h-7.6zM882.6 3618.8h7.6v70.4h-7.6zM882.6 3733.8h7.6v70.4h-7.6zM889.8 3635.8h7.6v110.4h-7.6zM897 3632.9h7.6v45.4h-7.6zM897 3882.9h7.6v10.4h-7.6zM904.2 3774.9h7.6v30.4h-7.6zM911.4 3511.9h7.6v5.4h-7.6zM925.8 3656h7.6v80.4h-7.6zM925.8 3776h7.6v75.4h-7.6zM925.8 3891h7.6v30.4h-7.6zM925.8 3946h7.6v25.4h-7.6zM933.1 3673.1h7.6v5.4h-7.6zM933.1 3863.1h7.6v30.4h-7.6zM947.5 3682.1h7.6v5.4h-7.6zM947.5 3927.1h7.6v5.4h-7.6zM954.7 3694.2h7.6v5.4h-7.6zM954.7 3764.2h7.6v45.4h-7.6zM954.7 3929.2h7.6v5.4h-7.6zM961.9 3706.2h7.6v230.4h-7.6zM969.1 3713.3h7.2v50.4h-7.2z"/><path fill="#99ff66" d="M608.7 3223.3h7.6v5.4h-7.6zM608.7 3428.3h7.6v5.4h-7.6zM615.9 3218.3h7.6v5.4h-7.6zM615.9 3338.3h7.6v10.4h-7.6zM615.9 3428.3h7.6v45.4h-7.6zM615.9 3528.3h7.6v5.4h-7.6zM623.1 3345.3h7.6v5.4h-7.6zM637.5 3359.4h7.6v5.4h-7.6zM637.5 3509.4h7.6v35.4h-7.6zM644.7 3371.5h7.6v5.4h-7.6zM644.7 3551.5h7.6v5.4h-7.6zM680.8 3396.7h7.6v5.4h-7.6zM680.8 3416.7h7.6v50.4h-7.6zM680.8 3606.7h7.6v5.4h-7.6zM688 3278.7h7.6v10.4h-7.6zM688 3393.7h7.6v5.4h-7.6zM688 3618.7h7.6v5.4h-7.6zM695.2 3295.7h7.6v5.4h-7.6zM709.6 3379.8h7.6v5.4h-7.6zM716.8 3336.9h7.6v5.4h-7.6zM716.8 3421.9h7.6v35.4h-7.6zM724 3328.9h7.6v5.4h-7.6zM731.2 3410.9h7.6v5.4h-7.6zM731.2 3520.9h7.6v5.4h-7.6zM731.2 3605.9h7.6v5.4h-7.6zM745.6 3445h7.6v35.4h-7.6zM752.9 3577.1h7.6v15.4h-7.6zM752.9 3692.1h7.6v20.4h-7.6zM767.3 3476.1h7.6v170.4h-7.6zM774.5 3478.2h7.6v5.4h-7.6zM774.5 3508.2h7.6v55.4h-7.6zM774.5 3658.2h7.6v5.4h-7.6zM781.7 3640.2h7.6v25.4h-7.6zM875.4 3606.7h7.6v5.4h-7.6zM875.4 3866.7h7.6v5.4h-7.6zM882.6 3493.8h7.6v5.4h-7.6zM882.6 3858.8h7.6v5.4h-7.6zM889.8 3505.8h7.6v5.4h-7.6zM889.8 3620.8h7.6v5.4h-7.6zM889.8 3870.8h7.6v5.4h-7.6zM897 3502.9h7.6v5.4h-7.6zM897 3532.9h7.6v5.4h-7.6zM904.2 3524.9h7.6v10.4h-7.6zM911.4 3516.9h7.6v5.4h-7.6zM933.1 3663.1h7.6v5.4h-7.6zM933.1 3913.1h7.6v5.4h-7.6zM947.5 3672.1h7.6v5.4h-7.6zM947.5 3942.1h7.6v40.4h-7.6zM954.7 3559.2h7.6v5.4h-7.6zM954.7 3639.2h7.6v40.4h-7.6zM954.7 3944.2h7.6v5.4h-7.6zM961.9 3686.2h7.6v10.4h-7.6zM961.9 3941.2h7.6v5.4h-7.6zM969.1 3698.3h7.2v5.4h-7.2z"/><path fill="#e5ff1a" d="M608.7 3228.3h7.6v5.4h-7.6zM608.7 3528.3h7.6v10.4h-7.6zM615.9 3223.3h7.6v5.4h-7.6zM615.9 3323.3h7.6v5.4h-7.6zM615.9 3538.3h7.6v5.4h-7.6zM623.1 3335.3h7.6v5.4h-7.6zM630.3 3312.4h7.6v5.4h-7.6zM630.3 3497.4h7.6v45.4h-7.6zM637.5 3334.4h7.6v15.4h-7.6zM637.5 3554.4h7.6v5.4h-7.6zM644.7 3346.5h7.6v20.4h-7.6zM659.2 3380.5h7.6v15.4h-7.6zM659.2 3560.5h7.6v5.4h-7.6zM666.4 3387.6h7.6v10.4h-7.6zM666.4 3567.6h7.6v5.4h-7.6zM680.8 3286.7h7.6v5.4h-7.6zM680.8 3381.7h7.6v5.4h-7.6zM680.8 3616.7h7.6v5.4h-7.6zM688 3353.7h7.6v35.4h-7.6zM688 3628.7h7.6v10.4h-7.6zM695.2 3355.7h7.6v25.4h-7.6zM695.2 3385.7h7.6v10.4h-7.6zM695.2 3620.7h7.6v120.4h-7.6zM709.6 3339.8h7.6v10.4h-7.6zM709.6 3654.8h7.6v45.4h-7.6zM709.6 3729.8h7.6v30.4h-7.6zM716.8 3346.9h7.6v5.4h-7.6zM716.8 3396.9h7.6v10.4h-7.6zM716.8 3641.9h7.6v10.4h-7.6zM716.8 3771.9h7.6v5.1h-7.6zM724 3333.9h7.6v5.4h-7.6zM731.2 3405.9h7.6v5.4h-7.6zM731.2 3615.9h7.6v5.4h-7.6zM738.4 3398h7.6v35.4h-7.6zM738.4 3463h7.6v25.4h-7.6zM738.4 3538h7.6v70.4h-7.6zM745.6 3415h7.6v15.4h-7.6zM752.9 3457.1h7.6v10.4h-7.6zM767.3 3456.1h7.6v5.4h-7.6zM767.3 3656.1h7.6v5.4h-7.6zM774.5 3463.2h7.6v5.4h-7.6zM774.5 3673.2h7.6v60.4h-7.6zM781.7 3480.2h7.6v10.4h-7.6zM781.7 3680.2h7.6v45.4h-7.6zM796.1 3469.3h7.6v10.4h-7.6zM796.1 3689.3h7.6v25.4h-7.6zM803.3 3451.3h7.6v195.4h-7.6zM810.5 3533.4h7.6v5.4h-7.6zM810.5 3868.4h7.6v0.1h-7.6zM817.7 3490.4h7.6v15.4h-7.6zM817.7 3640.4h7.6v100.4h-7.6zM817.7 3795.4h7.6v55.4h-7.6zM861 3612.7h7.6v105.4h-7.6zM861 3782.7h7.6v135.1h-7.6zM875.4 3556.7h7.6v10.4h-7.6zM875.4 3921.7h7.6v10.1h-7.6zM889.8 3520.8h7.6v5.4h-7.6zM889.8 3885.8h7.6v35.4h-7.6zM897 3522.9h7.6v5.4h-7.6zM911.4 3521.9h7.6v15.4h-7.6zM911.4 3701.9h7.6v25.4h-7.6zM911.4 3751.9h7.6v25.4h-7.6zM911.4 3881.9h7.6v80.4h-7.6zM925.8 3551h7.6v5.4h-7.6zM933.1 3518.1h7.6v15.4h-7.6zM933.1 3643.1h7.6v10.4h-7.6zM940.3 3645.1h7.6v5.4h-7.6zM947.5 3537.1h7.6v5.4h-7.6zM947.5 3637.1h7.6v20.4h-7.6zM954.7 3574.2h7.6v50.4h-7.6zM961.9 3591.2h7.6v40.4h-7.6zM961.9 3951.2h7.6v5.4h-7.6zM961.9 4001.2h7.6v15.1h-7.6zM969.1 3583.3h7.2v55.4h-7.2z"/><path fill="#ffcc00" d="M608.7 3233.3h7.6v5.4h-7.6zM608.7 3273.3h7.6v5.4h-7.6zM615.9 3258.3h7.6v20.4h-7.6zM615.9 3548.3h7.6v40.4h-7.6zM615.9 3673.3h7.6v5.1h-7.6zM623.1 3295.3h7.6v5.4h-7.6zM623.1 3545.3h7.6v5.4h-7.6zM630.3 3222.4h7.6v5.4h-7.6zM630.3 3272.4h7.6v25.4h-7.6zM630.3 3552.4h7.6v5.4h-7.6zM630.3 3642.4h7.6v15.4h-7.6zM637.5 3229.4h7.6v15.4h-7.6zM637.5 3304.4h7.6v10.4h-7.6zM637.5 3564.4h7.6v5.4h-7.6zM644.7 3326.5h7.6v5.4h-7.6zM644.7 3566.5h7.6v20.4h-7.6zM644.7 3676.5h7.6v30.1h-7.6zM651.9 3338.5h7.6v5.4h-7.6zM651.9 3533.5h7.6v10.4h-7.6zM659.2 3305.5h7.6v20.4h-7.6zM659.2 3340.5h7.6v5.4h-7.6zM659.2 3570.5h7.6v5.4h-7.6zM666.4 3347.6h7.6v10.4h-7.6zM666.4 3577.6h7.6v5.4h-7.6zM673.6 3274.6h7.6v10.4h-7.6zM673.6 3329.6h7.6v10.4h-7.6zM673.6 3524.6h7.6v25.4h-7.6zM680.8 3301.7h7.6v5.4h-7.6zM680.8 3336.7h7.6v10.4h-7.6zM680.8 3641.7h7.6v10.4h-7.6zM688 3318.7h7.6v20.4h-7.6zM688 3653.7h7.6v5.4h-7.6zM695.2 3310.7h7.6v15.4h-7.6zM695.2 3335.7h7.6v5.4h-7.6zM702.4 3327.8h7.6v10.4h-7.6zM702.4 3347.8h7.6v10.4h-7.6zM716.8 3366.9h7.6v20.4h-7.6zM724 3383.9h7.6v5.4h-7.6zM731.2 3320.9h7.6v20.4h-7.6zM731.2 3395.9h7.6v5.4h-7.6zM731.2 3630.9h7.6v10.4h-7.6zM731.2 3780.9h7.6v10.1h-7.6zM738.4 3378h7.6v10.4h-7.6zM738.4 3628h7.6v10.4h-7.6zM745.6 3385h7.6v10.4h-7.6zM745.6 3635h7.6v5.4h-7.6zM745.6 3690h7.6v35.4h-7.6zM752.9 3417.1h7.6v5.4h-7.6zM752.9 3722.1h7.6v5.4h-7.6zM760.1 3424.1h7.6v10.4h-7.6zM760.1 3469.1h7.6v5.4h-7.6zM767.3 3421.1h7.6v10.4h-7.6zM767.3 3736.1h7.6v5.4h-7.6zM774.5 3428.2h7.6v10.4h-7.6zM774.5 3748.2h7.6v15.4h-7.6zM781.7 3440.2h7.6v10.4h-7.6zM781.7 3750.2h7.6v10.4h-7.6zM781.7 3830.2h7.6v10.1h-7.6zM788.9 3427.3h7.6v10.4h-7.6zM788.9 3757.3h7.6v5.4h-7.6zM796.1 3429.3h7.6v10.4h-7.6zM796.1 3764.3h7.6v5.4h-7.6zM803.3 3431.3h7.6v5.4h-7.6zM803.3 3771.3h7.6v10.4h-7.6zM803.3 3796.3h7.6v65.1h-7.6zM810.5 3408.4h7.6v10.4h-7.6zM810.5 3498.4h7.6v10.4h-7.6zM817.7 3410.4h7.6v10.4h-7.6zM817.7 3455.4h7.6v5.4h-7.6zM861 3497.7h7.6v25.4h-7.6zM875.4 3496.7h7.6v5.4h-7.6zM875.4 3526.7h7.6v5.4h-7.6zM882.6 3873.8h7.6v5.4h-7.6zM933.1 3543.1h7.6v10.4h-7.6zM933.1 3598.1h7.6v10.4h-7.6zM933.1 3928.1h7.6v40.4h-7.6zM940.3 3530.1h7.6v10.4h-7.6zM940.3 3600.1h7.6v5.4h-7.6zM940.3 3920.1h7.6v5.4h-7.6zM947.5 3532.1h7.6v5.4h-7.6zM947.5 3612.1h7.6v5.4h-7.6z"/><path fill="#ff9900" d="M608.7 3238.3h7.6v25.4h-7.6zM615.9 3608.3h7.6v30.4h-7.6zM623.1 3215.3h7.6v70.4h-7.6zM623.1 3555.3h7.6v130.1h-7.6zM630.3 3562.4h7.6v45.4h-7.6zM637.5 3264.4h7.6v35.4h-7.6zM644.7 3246.5h7.6v10.4h-7.6zM644.7 3276.5h7.6v15.4h-7.6zM644.7 3596.5h7.6v70.4h-7.6zM651.9 3288.5h7.6v10.4h-7.6zM651.9 3573.5h7.6v20.4h-7.6zM651.9 3673.5h7.6v40.1h-7.6zM659.2 3250.5h7.6v5.4h-7.6zM659.2 3290.5h7.6v10.4h-7.6zM659.2 3580.5h7.6v25.4h-7.6zM659.2 3685.5h7.6v35.1h-7.6zM666.4 3262.6h7.6v15.4h-7.6zM666.4 3297.6h7.6v10.4h-7.6zM666.4 3587.6h7.6v25.4h-7.6zM666.4 3692.6h7.6v35.1h-7.6zM673.6 3289.6h7.6v35.4h-7.6zM673.6 3559.6h7.6v5.4h-7.6zM673.6 3604.6h7.6v60.4h-7.6zM673.6 3714.6h7.6v20.1h-7.6zM680.8 3311.7h7.6v20.4h-7.6zM680.8 3731.7h7.6v10.1h-7.6zM688 3683.7h7.6v35.4h-7.6zM724 3343.9h7.6v5.4h-7.6zM731.2 3665.9h7.6v55.4h-7.6zM738.4 3328h7.6v10.4h-7.6zM738.4 3728h7.6v45.4h-7.6zM745.6 3335h7.6v10.4h-7.6zM745.6 3645h7.6v20.4h-7.6zM745.6 3735h7.6v10.4h-7.6zM752.9 3372.1h7.6v5.4h-7.6zM752.9 3802.1h7.6v10.1h-7.6zM760.1 3394.1h7.6v25.4h-7.6zM767.3 3356.1h7.6v20.4h-7.6zM767.3 3391.1h7.6v10.4h-7.6zM767.3 3751.1h7.6v75.1h-7.6zM774.5 3373.2h7.6v15.4h-7.6zM774.5 3398.2h7.6v10.4h-7.6zM781.7 3380.2h7.6v10.4h-7.6zM781.7 3410.2h7.6v25.4h-7.6zM788.9 3377.3h7.6v45.4h-7.6zM788.9 3782.3h7.6v35.4h-7.6zM796.1 3774.3h7.6v80.1h-7.6zM810.5 3423.4h7.6v70.4h-7.6zM817.7 3425.4h7.6v20.4h-7.6zM875.4 3506.7h7.6v10.4h-7.6zM882.6 3878.8h7.6v35.4h-7.6zM940.3 3550.1h7.6v15.4h-7.6zM940.3 3935.1h7.6v60.1h-7.6z"/><path fill="#ffb300" d="M608.7 3263.3h7.6v10.4h-7.6zM615.9 3233.3h7.6v25.4h-7.6zM615.9 3588.3h7.6v20.4h-7.6zM615.9 3638.3h7.6v35.4h-7.6zM623.1 3285.3h7.6v10.4h-7.6zM623.1 3550.3h7.6v5.4h-7.6zM630.3 3227.4h7.6v45.4h-7.6zM630.3 3557.4h7.6v5.4h-7.6zM630.3 3607.4h7.6v35.4h-7.6zM630.3 3657.4h7.6v35.1h-7.6zM637.5 3244.4h7.6v20.4h-7.6zM637.5 3299.4h7.6v5.4h-7.6zM637.5 3569.4h7.6v130.1h-7.6zM644.7 3236.5h7.6v10.4h-7.6zM644.7 3291.5h7.6v35.4h-7.6zM644.7 3586.5h7.6v10.4h-7.6zM644.7 3666.5h7.6v10.4h-7.6zM651.9 3298.5h7.6v40.4h-7.6zM651.9 3543.5h7.6v30.4h-7.6zM659.2 3300.5h7.6v5.4h-7.6zM659.2 3325.5h7.6v15.4h-7.6zM659.2 3575.5h7.6v5.4h-7.6zM666.4 3257.6h7.6v5.4h-7.6zM666.4 3307.6h7.6v40.4h-7.6zM666.4 3582.6h7.6v5.4h-7.6zM673.6 3284.6h7.6v5.4h-7.6zM673.6 3324.6h7.6v5.4h-7.6zM673.6 3549.6h7.6v10.4h-7.6zM673.6 3664.6h7.6v50.4h-7.6zM680.8 3306.7h7.6v5.4h-7.6zM680.8 3331.7h7.6v5.4h-7.6zM680.8 3651.7h7.6v80.4h-7.6zM688 3658.7h7.6v25.4h-7.6zM688 3718.7h7.6v30.1h-7.6zM695.2 3325.7h7.6v10.4h-7.6zM702.4 3337.8h7.6v10.4h-7.6zM724 3348.9h7.6v35.4h-7.6zM731.2 3340.9h7.6v55.4h-7.6zM731.2 3640.9h7.6v25.4h-7.6zM731.2 3720.9h7.6v60.4h-7.6zM738.4 3338h7.6v40.4h-7.6zM738.4 3638h7.6v90.4h-7.6zM745.6 3345h7.6v40.4h-7.6zM745.6 3640h7.6v5.4h-7.6zM745.6 3665h7.6v25.4h-7.6zM745.6 3725h7.6v10.4h-7.6zM752.9 3377.1h7.6v40.4h-7.6zM752.9 3727.1h7.6v5.4h-7.6zM760.1 3419.1h7.6v5.4h-7.6zM767.3 3401.1h7.6v20.4h-7.6zM767.3 3741.1h7.6v10.4h-7.6zM774.5 3363.2h7.6v10.4h-7.6zM774.5 3408.2h7.6v20.4h-7.6zM774.5 3763.2h7.6v70.1h-7.6zM781.7 3370.2h7.6v10.4h-7.6zM781.7 3435.2h7.6v5.4h-7.6zM781.7 3760.2h7.6v70.4h-7.6zM788.9 3422.3h7.6v5.4h-7.6zM788.9 3762.3h7.6v20.4h-7.6zM788.9 3817.3h7.6v30.1h-7.6zM796.1 3384.3h7.6v45.4h-7.6zM796.1 3769.3h7.6v5.4h-7.6zM803.3 3391.3h7.6v40.4h-7.6zM803.3 3781.3h7.6v15.4h-7.6zM810.5 3418.4h7.6v5.4h-7.6zM810.5 3493.4h7.6v5.4h-7.6zM817.7 3420.4h7.6v5.4h-7.6zM817.7 3445.4h7.6v10.4h-7.6zM875.4 3501.7h7.6v5.4h-7.6zM875.4 3516.7h7.6v10.4h-7.6zM882.6 3913.8h7.6v25.1h-7.6zM933.1 3553.1h7.6v45.4h-7.6zM933.1 3968.1h7.6v20.1h-7.6zM940.3 3540.1h7.6v10.4h-7.6zM940.3 3565.1h7.6v35.4h-7.6zM940.3 3925.1h7.6v10.4h-7.6zM947.5 3572.1h7.6v40.4h-7.6z"/><path fill="#ffe500" d="M608.7 3278.3h7.6v30.4h-7.6zM608.7 3598.3h7.6v60.4h-7.6zM615.9 3228.3h7.6v5.4h-7.6zM615.9 3278.3h7.6v10.4h-7.6zM615.9 3313.3h7.6v5.4h-7.6zM623.1 3300.3h7.6v35.4h-7.6zM623.1 3540.3h7.6v5.4h-7.6zM630.3 3297.4h7.6v10.4h-7.6zM630.3 3547.4h7.6v5.4h-7.6zM637.5 3314.4h7.6v5.4h-7.6zM644.7 3331.5h7.6v5.4h-7.6zM651.9 3343.5h7.6v10.4h-7.6zM651.9 3523.5h7.6v10.4h-7.6zM659.2 3345.5h7.6v10.4h-7.6zM659.2 3565.5h7.6v5.4h-7.6zM666.4 3357.6h7.6v5.4h-7.6zM666.4 3572.6h7.6v5.4h-7.6zM673.6 3264.6h7.6v10.4h-7.6zM673.6 3339.6h7.6v185.4h-7.6zM680.8 3296.7h7.6v5.4h-7.6zM680.8 3346.7h7.6v5.4h-7.6zM680.8 3636.7h7.6v5.4h-7.6zM688 3308.7h7.6v10.4h-7.6zM688 3338.7h7.6v5.4h-7.6zM688 3643.7h7.6v10.4h-7.6zM695.2 3340.7h7.6v10.4h-7.6zM702.4 3322.8h7.6v5.4h-7.6zM702.4 3357.8h7.6v5.4h-7.6zM702.4 3687.8h7.6v75.1h-7.6zM716.8 3356.9h7.6v10.4h-7.6zM716.8 3386.9h7.6v5.4h-7.6zM724 3338.9h7.6v5.4h-7.6zM724 3388.9h7.6v10.4h-7.6zM724 3473.9h7.6v90.4h-7.6zM724 3648.9h7.6v135.1h-7.6zM731.2 3400.9h7.6v5.4h-7.6zM731.2 3625.9h7.6v5.4h-7.6zM738.4 3388h7.6v5.4h-7.6zM738.4 3623h7.6v5.4h-7.6zM745.6 3395h7.6v5.4h-7.6zM745.6 3630h7.6v5.4h-7.6zM752.9 3422.1h7.6v10.4h-7.6zM760.1 3434.1h7.6v35.4h-7.6zM760.1 3474.1h7.6v40.4h-7.6zM760.1 3549.1h7.6v80.4h-7.6zM760.1 3689.1h7.6v110.4h-7.6zM767.3 3431.1h7.6v5.4h-7.6zM767.3 3666.1h7.6v5.4h-7.6zM767.3 3726.1h7.6v10.4h-7.6zM774.5 3438.2h7.6v5.4h-7.6zM774.5 3743.2h7.6v5.4h-7.6zM781.7 3450.2h7.6v5.4h-7.6zM781.7 3745.2h7.6v5.4h-7.6zM788.9 3437.3h7.6v20.4h-7.6zM788.9 3687.3h7.6v20.4h-7.6zM788.9 3752.3h7.6v5.4h-7.6zM796.1 3439.3h7.6v5.4h-7.6zM796.1 3754.3h7.6v10.4h-7.6zM803.3 3436.3h7.6v10.4h-7.6zM803.3 3766.3h7.6v5.4h-7.6zM810.5 3403.4h7.6v5.4h-7.6zM810.5 3508.4h7.6v15.4h-7.6zM817.7 3405.4h7.6v5.4h-7.6zM817.7 3460.4h7.6v20.4h-7.6zM861 3522.7h7.6v10.4h-7.6zM868.2 3604.7h7.6v135.4h-7.6zM868.2 3829.7h7.6v95.1h-7.6zM875.4 3531.7h7.6v15.4h-7.6zM925.8 3546h7.6v5.4h-7.6zM933.1 3538.1h7.6v5.4h-7.6zM933.1 3608.1h7.6v10.4h-7.6zM940.3 3525.1h7.6v5.4h-7.6zM940.3 3605.1h7.6v5.4h-7.6zM940.3 3675.1h7.6v120.4h-7.6zM940.3 3915.1h7.6v5.4h-7.6zM947.5 3617.1h7.6v5.4h-7.6zM961.9 3546.2h7.6v20.4h-7.6z"/><path fill="#ffff00" d="M608.7 3308.3h7.6v5.4h-7.6zM608.7 3538.3h7.6v60.4h-7.6zM608.7 3658.3h7.6v13.1h-7.6zM615.9 3288.3h7.6v25.4h-7.6zM615.9 3318.3h7.6v5.4h-7.6zM615.9 3543.3h7.6v5.4h-7.6zM623.1 3525.3h7.6v15.4h-7.6zM630.3 3307.4h7.6v5.4h-7.6zM630.3 3317.4h7.6v180.4h-7.6zM630.3 3542.4h7.6v5.4h-7.6zM637.5 3319.4h7.6v15.4h-7.6zM637.5 3559.4h7.6v5.4h-7.6zM644.7 3336.5h7.6v10.4h-7.6zM644.7 3561.5h7.6v5.4h-7.6zM651.9 3353.5h7.6v170.4h-7.6zM659.2 3355.5h7.6v25.4h-7.6zM666.4 3362.6h7.6v25.4h-7.6zM680.8 3291.7h7.6v5.4h-7.6zM680.8 3351.7h7.6v30.4h-7.6zM680.8 3621.7h7.6v15.4h-7.6zM688 3303.7h7.6v5.4h-7.6zM688 3343.7h7.6v10.4h-7.6zM688 3638.7h7.6v5.4h-7.6zM695.2 3305.7h7.6v5.4h-7.6zM695.2 3350.7h7.6v5.4h-7.6zM695.2 3380.7h7.6v5.4h-7.6zM695.2 3740.7h7.6v15.1h-7.6zM702.4 3362.8h7.6v20.4h-7.6zM702.4 3632.8h7.6v55.4h-7.6zM709.6 3759.8h7.6v10.1h-7.6zM716.8 3351.9h7.6v5.4h-7.6zM716.8 3391.9h7.6v5.4h-7.6zM716.8 3651.9h7.6v120.4h-7.6zM724 3398.9h7.6v75.4h-7.6zM724 3563.9h7.6v85.4h-7.6zM731.2 3620.9h7.6v5.4h-7.6zM738.4 3393h7.6v5.4h-7.6zM738.4 3488h7.6v50.4h-7.6zM738.4 3608h7.6v15.4h-7.6zM745.6 3400h7.6v15.4h-7.6zM745.6 3625h7.6v5.4h-7.6zM752.9 3432.1h7.6v25.4h-7.6zM752.9 3717.1h7.6v5.4h-7.6zM760.1 3514.1h7.6v35.4h-7.6zM760.1 3629.1h7.6v60.4h-7.6zM760.1 3799.1h7.6v20.1h-7.6zM767.3 3436.1h7.6v20.4h-7.6zM767.3 3661.1h7.6v5.4h-7.6zM767.3 3671.1h7.6v55.4h-7.6zM774.5 3443.2h7.6v20.4h-7.6zM774.5 3733.2h7.6v10.4h-7.6zM781.7 3455.2h7.6v25.4h-7.6zM781.7 3725.2h7.6v20.4h-7.6zM788.9 3457.3h7.6v5.4h-7.6zM788.9 3682.3h7.6v5.4h-7.6zM788.9 3707.3h7.6v45.4h-7.6zM796.1 3444.3h7.6v25.4h-7.6zM796.1 3714.3h7.6v40.4h-7.6zM803.3 3446.3h7.6v5.4h-7.6zM803.3 3646.3h7.6v120.4h-7.6zM810.5 3398.4h7.6v5.4h-7.6zM810.5 3523.4h7.6v10.4h-7.6zM817.7 3480.4h7.6v10.4h-7.6zM861 3532.7h7.6v80.4h-7.6zM861 3717.7h7.6v65.4h-7.6zM868.2 3494.7h7.6v110.4h-7.6zM868.2 3739.7h7.6v90.4h-7.6zM875.4 3546.7h7.6v10.4h-7.6zM882.6 3868.8h7.6v5.4h-7.6zM889.8 3515.8h7.6v5.4h-7.6zM897 3512.9h7.6v10.4h-7.6zM911.4 3536.9h7.6v165.4h-7.6zM911.4 3776.9h7.6v105.4h-7.6zM925.8 3511h7.6v35.4h-7.6zM933.1 3533.1h7.6v5.4h-7.6zM933.1 3618.1h7.6v25.4h-7.6zM933.1 3923.1h7.6v5.4h-7.6zM940.3 3610.1h7.6v35.4h-7.6zM940.3 3650.1h7.6v25.4h-7.6zM940.3 3795.1h7.6v120.4h-7.6zM947.5 3567.1h7.6v5.4h-7.6zM947.5 3622.1h7.6v15.4h-7.6zM954.7 3569.2h7.6v5.4h-7.6zM961.9 3566.2h7.6v25.4h-7.6zM961.9 3956.2h7.6v45.4h-7.6zM969.1 3553.3h7.2v30.4h-7.2zM969.1 3963.3h7.2v53.1h-7.2z"/><path fill="#ccff33" d="M608.7 3313.3h7.6v5.4h-7.6zM608.7 3478.3h7.6v50.4h-7.6zM615.9 3328.3h7.6v5.4h-7.6zM623.1 3340.3h7.6v5.4h-7.6zM623.1 3520.3h7.6v5.4h-7.6zM637.5 3349.4h7.6v5.4h-7.6zM644.7 3556.5h7.6v5.4h-7.6zM659.2 3395.5h7.6v70.4h-7.6zM659.2 3525.5h7.6v35.4h-7.6zM666.4 3397.6h7.6v10.4h-7.6zM666.4 3462.6h7.6v105.4h-7.6zM680.8 3271.7h7.6v15.4h-7.6zM680.8 3386.7h7.6v5.4h-7.6zM688 3298.7h7.6v5.4h-7.6zM688 3388.7h7.6v5.4h-7.6zM688 3623.7h7.6v5.4h-7.6zM695.2 3300.7h7.6v5.4h-7.6zM695.2 3395.7h7.6v10.4h-7.6zM695.2 3495.7h7.6v65.4h-7.6zM695.2 3610.7h7.6v10.4h-7.6zM702.4 3317.8h7.6v5.4h-7.6zM702.4 3382.8h7.6v5.4h-7.6zM702.4 3627.8h7.6v5.4h-7.6zM709.6 3349.8h7.6v10.4h-7.6zM709.6 3699.8h7.6v30.4h-7.6zM716.8 3341.9h7.6v5.4h-7.6zM716.8 3406.9h7.6v5.4h-7.6zM716.8 3481.9h7.6v160.4h-7.6zM731.2 3525.9h7.6v55.4h-7.6zM731.2 3610.9h7.6v5.4h-7.6zM738.4 3433h7.6v30.4h-7.6zM745.6 3430h7.6v10.4h-7.6zM745.6 3605h7.6v20.4h-7.6zM752.9 3467.1h7.6v65.4h-7.6zM752.9 3627.1h7.6v35.4h-7.6zM752.9 3712.1h7.6v5.4h-7.6zM767.3 3461.1h7.6v10.4h-7.6zM767.3 3651.1h7.6v5.4h-7.6zM774.5 3468.2h7.6v5.4h-7.6zM774.5 3668.2h7.6v5.4h-7.6zM781.7 3490.2h7.6v40.4h-7.6zM781.7 3675.2h7.6v5.4h-7.6zM788.9 3462.3h7.6v5.4h-7.6zM788.9 3677.3h7.6v5.4h-7.6zM796.1 3479.3h7.6v5.4h-7.6zM796.1 3529.3h7.6v120.4h-7.6zM796.1 3679.3h7.6v10.4h-7.6zM810.5 3538.4h7.6v35.4h-7.6zM810.5 3798.4h7.6v70.4h-7.6zM817.7 3505.4h7.6v135.4h-7.6zM817.7 3740.4h7.6v55.4h-7.6zM817.7 3850.4h7.6v25.1h-7.6zM875.4 3491.7h7.6v5.4h-7.6zM875.4 3566.7h7.6v5.4h-7.6zM875.4 3591.7h7.6v10.4h-7.6zM875.4 3896.7h7.6v25.4h-7.6zM882.6 3498.8h7.6v5.4h-7.6zM882.6 3863.8h7.6v5.4h-7.6zM889.8 3510.8h7.6v5.4h-7.6zM889.8 3525.8h7.6v10.4h-7.6zM889.8 3565.8h7.6v50.4h-7.6zM889.8 3880.8h7.6v5.4h-7.6zM889.8 3920.8h7.6v25.1h-7.6zM897 3507.9h7.6v5.4h-7.6zM897 3527.9h7.6v5.4h-7.6zM911.4 3726.9h7.6v25.4h-7.6zM911.4 3961.9h7.6v5.1h-7.6zM918.6 3504h7.6v40.4h-7.6zM925.8 3556h7.6v5.4h-7.6zM933.1 3653.1h7.6v5.4h-7.6zM933.1 3918.1h7.6v5.4h-7.6zM947.5 3657.1h7.6v10.4h-7.6zM954.7 3564.2h7.6v5.4h-7.6zM954.7 3624.2h7.6v10.4h-7.6zM961.9 3631.2h7.6v10.4h-7.6zM969.1 3638.3h7.2v15.4h-7.2zM969.1 3663.3h7.2v30.4h-7.2zM969.1 3958.3h7.2v5.4h-7.2z"/><path fill="#b3ff4c" d="M608.7 3318.3h7.6v5.4h-7.6zM608.7 3433.3h7.6v45.4h-7.6zM615.9 3333.3h7.6v5.4h-7.6zM615.9 3533.3h7.6v5.4h-7.6zM623.1 3515.3h7.6v5.4h-7.6zM637.5 3354.4h7.6v5.4h-7.6zM637.5 3549.4h7.6v5.4h-7.6zM644.7 3366.5h7.6v5.4h-7.6zM659.2 3465.5h7.6v60.4h-7.6zM666.4 3407.6h7.6v55.4h-7.6zM680.8 3391.7h7.6v5.4h-7.6zM680.8 3611.7h7.6v5.4h-7.6zM688 3288.7h7.6v10.4h-7.6zM695.2 3405.7h7.6v90.4h-7.6zM695.2 3560.7h7.6v50.4h-7.6zM702.4 3387.8h7.6v5.4h-7.6zM702.4 3622.8h7.6v5.4h-7.6zM709.6 3334.8h7.6v5.4h-7.6zM709.6 3359.8h7.6v20.4h-7.6zM709.6 3649.8h7.6v5.4h-7.6zM716.8 3411.9h7.6v10.4h-7.6zM716.8 3456.9h7.6v25.4h-7.6zM731.2 3580.9h7.6v25.4h-7.6zM745.6 3440h7.6v5.4h-7.6zM745.6 3480h7.6v125.4h-7.6zM752.9 3532.1h7.6v45.4h-7.6zM752.9 3592.1h7.6v35.4h-7.6zM752.9 3662.1h7.6v30.4h-7.6zM767.3 3471.1h7.6v5.4h-7.6zM767.3 3646.1h7.6v5.4h-7.6zM774.5 3473.2h7.6v5.4h-7.6zM774.5 3663.2h7.6v5.4h-7.6zM781.7 3530.2h7.6v110.4h-7.6zM781.7 3665.2h7.6v10.4h-7.6zM788.9 3467.3h7.6v5.4h-7.6zM788.9 3672.3h7.6v5.4h-7.6zM796.1 3484.3h7.6v45.4h-7.6zM796.1 3649.3h7.6v30.4h-7.6zM810.5 3573.4h7.6v225.4h-7.6zM861 3492.7h7.6v5.4h-7.6zM868.2 3489.7h7.6v5.4h-7.6zM875.4 3571.7h7.6v20.4h-7.6zM875.4 3601.7h7.6v5.4h-7.6zM875.4 3871.7h7.6v25.4h-7.6zM882.6 3503.8h7.6v5.4h-7.6zM889.8 3535.8h7.6v30.4h-7.6zM889.8 3615.8h7.6v5.4h-7.6zM889.8 3875.8h7.6v5.4h-7.6zM918.6 3544h7.6v5.4h-7.6zM925.8 3561h7.6v5.4h-7.6zM933.1 3658.1h7.6v5.4h-7.6zM947.5 3542.1h7.6v5.4h-7.6zM947.5 3562.1h7.6v5.4h-7.6zM947.5 3667.1h7.6v5.4h-7.6zM947.5 3982.1h7.6v20.1h-7.6zM954.7 3634.2h7.6v5.4h-7.6zM954.7 3949.2h7.6v60.1h-7.6zM961.9 3641.2h7.6v45.4h-7.6zM961.9 3946.2h7.6v5.4h-7.6zM969.1 3653.3h7.2v10.4h-7.2zM969.1 3693.3h7.2v5.4h-7.2zM969.1 3953.3h7.2v5.4h-7.2z"/><path fill="#80ff80" d="M608.7 3323.3h7.6v5.4h-7.6zM608.7 3423.3h7.6v5.4h-7.6zM615.9 3348.3h7.6v25.4h-7.6zM615.9 3408.3h7.6v20.4h-7.6zM615.9 3473.3h7.6v20.4h-7.6zM623.1 3350.3h7.6v5.4h-7.6zM623.1 3510.3h7.6v5.4h-7.6zM637.5 3364.4h7.6v5.4h-7.6zM637.5 3424.4h7.6v85.4h-7.6zM637.5 3544.4h7.6v5.4h-7.6zM680.8 3401.7h7.6v15.4h-7.6zM680.8 3466.7h7.6v10.4h-7.6zM680.8 3601.7h7.6v5.4h-7.6zM688 3398.7h7.6v5.4h-7.6zM688 3613.7h7.6v5.4h-7.6zM702.4 3312.8h7.6v5.4h-7.6zM702.4 3392.8h7.6v5.4h-7.6zM702.4 3617.8h7.6v5.4h-7.6zM709.6 3644.8h7.6v5.4h-7.6zM731.2 3515.9h7.6v5.4h-7.6zM774.5 3483.2h7.6v25.4h-7.6zM774.5 3563.2h7.6v55.4h-7.6zM774.5 3653.2h7.6v5.4h-7.6zM788.9 3472.3h7.6v5.4h-7.6zM788.9 3667.3h7.6v5.4h-7.6zM875.4 3611.7h7.6v10.4h-7.6zM875.4 3861.7h7.6v5.4h-7.6zM882.6 3488.8h7.6v5.4h-7.6zM882.6 3508.8h7.6v5.4h-7.6zM889.8 3625.8h7.6v5.4h-7.6zM889.8 3865.8h7.6v5.4h-7.6zM897 3537.9h7.6v5.4h-7.6zM904.2 3519.9h7.6v5.4h-7.6zM904.2 3534.9h7.6v5.4h-7.6zM918.6 3549h7.6v5.4h-7.6zM925.8 3566h7.6v5.4h-7.6zM933.1 3668.1h7.6v5.4h-7.6zM947.5 3557.1h7.6v5.4h-7.6zM947.5 3677.1h7.6v5.4h-7.6zM947.5 3937.1h7.6v5.4h-7.6zM954.7 3679.2h7.6v10.4h-7.6zM954.7 3939.2h7.6v5.4h-7.6zM961.9 3696.2h7.6v5.4h-7.6zM961.9 3936.2h7.6v5.4h-7.6zM969.1 3703.3h7.2v5.4h-7.2zM969.1 3948.3h7.2v5.4h-7.2z"/><path fill="#66ff99" d="M608.7 3328.3h7.6v20.4h-7.6zM608.7 3418.3h7.6v5.4h-7.6zM615.9 3213.3h7.6v5.4h-7.6zM615.9 3373.3h7.6v35.4h-7.6zM615.9 3493.3h7.6v35.4h-7.6zM623.1 3505.3h7.6v5.4h-7.6zM637.5 3369.4h7.6v55.4h-7.6zM644.7 3376.5h7.6v5.4h-7.6zM644.7 3546.5h7.6v5.4h-7.6zM680.8 3476.7h7.6v125.4h-7.6zM688 3608.7h7.6v5.4h-7.6zM695.2 3290.7h7.6v5.4h-7.6zM702.4 3397.8h7.6v5.4h-7.6zM702.4 3612.8h7.6v5.4h-7.6zM709.6 3384.8h7.6v5.4h-7.6zM731.2 3415.9h7.6v5.4h-7.6zM774.5 3618.2h7.6v35.4h-7.6zM788.9 3477.3h7.6v20.4h-7.6zM788.9 3662.3h7.6v5.4h-7.6zM846.6 3653.6h7.6v130.4h-7.6zM853.8 3725.6h7.6v105.4h-7.6zM875.4 3621.7h7.6v100.4h-7.6zM875.4 3856.7h7.6v5.4h-7.6zM882.6 3513.8h7.6v35.4h-7.6zM882.6 3688.8h7.6v45.4h-7.6zM882.6 3803.8h7.6v55.4h-7.6zM889.8 3500.8h7.6v5.4h-7.6zM889.8 3630.8h7.6v5.4h-7.6zM889.8 3745.8h7.6v120.4h-7.6zM897 3497.9h7.6v5.4h-7.6zM897 3542.9h7.6v90.4h-7.6zM897 3892.9h7.6v60.1h-7.6zM904.2 3539.9h7.6v5.4h-7.6zM918.6 3554h7.6v5.4h-7.6zM925.8 3571h7.6v85.4h-7.6zM925.8 3736h7.6v40.4h-7.6zM925.8 3921h7.6v25.4h-7.6zM933.1 3908.1h7.6v5.4h-7.6zM947.5 3547.1h7.6v10.4h-7.6zM947.5 3932.1h7.6v5.4h-7.6zM954.7 3554.2h7.6v5.4h-7.6zM954.7 3689.2h7.6v5.4h-7.6zM954.7 3934.2h7.6v5.4h-7.6zM961.9 3701.2h7.6v5.4h-7.6zM969.1 3708.3h7.2v5.4h-7.2zM969.1 3943.3h7.2v5.4h-7.2z"/><path fill="#33ffcc" d="M608.7 3393.3h7.6v20.4h-7.6zM623.1 3370.3h7.6v135.4h-7.6zM644.7 3386.5h7.6v65.4h-7.6zM644.7 3506.5h7.6v40.4h-7.6zM688 3408.7h7.6v30.4h-7.6zM688 3538.7h7.6v35.4h-7.6zM688 3588.7h7.6v20.4h-7.6zM702.4 3307.8h7.6v5.4h-7.6zM702.4 3402.8h7.6v45.4h-7.6zM702.4 3502.8h7.6v110.4h-7.6zM731.2 3420.9h7.6v5.4h-7.6zM731.2 3505.9h7.6v5.4h-7.6zM788.9 3542.3h7.6v50.4h-7.6zM824.9 3552.5h7.6v10.4h-7.6zM824.9 3577.5h7.6v120.4h-7.6zM832.1 3499.5h7.6v25.4h-7.6zM832.1 3569.5h7.6v65.4h-7.6zM832.1 3744.5h7.6v30.4h-7.6zM832.1 3794.5h7.6v95.1h-7.6zM839.4 3506.5h7.6v50.4h-7.6zM839.4 3631.5h7.6v25.4h-7.6zM839.4 3701.5h7.6v60.4h-7.6zM839.4 3796.5h7.6v30.4h-7.6zM839.4 3866.5h7.6v20.4h-7.6zM846.6 3488.6h7.6v95.4h-7.6zM846.6 3838.6h7.6v40.4h-7.6zM853.8 3535.6h7.6v155.4h-7.6zM853.8 3900.6h7.6v10.1h-7.6zM875.4 3801.7h7.6v50.4h-7.6zM882.6 3483.8h7.6v5.4h-7.6zM882.6 3578.8h7.6v40.4h-7.6zM897 3492.9h7.6v5.4h-7.6zM897 3677.9h7.6v20.4h-7.6zM897 3757.9h7.6v105.4h-7.6zM897 3872.9h7.6v10.4h-7.6zM904.2 3514.9h7.6v5.4h-7.6zM904.2 3544.9h7.6v230.4h-7.6zM904.2 3804.9h7.6v25.4h-7.6zM904.2 3889.9h7.6v70.1h-7.6zM918.6 3559h7.6v5.4h-7.6zM918.6 3594h7.6v75.4h-7.6zM918.6 3739h7.6v230.4h-7.6zM925.8 3851h7.6v40.4h-7.6zM925.8 3971h7.6v10.1h-7.6zM933.1 3678.1h7.6v185.4h-7.6zM933.1 3893.1h7.6v15.4h-7.6zM947.5 3687.1h7.6v5.4h-7.6zM947.5 3792.1h7.6v80.4h-7.6zM947.5 3922.1h7.6v5.4h-7.6zM954.7 3549.2h7.6v5.4h-7.6zM954.7 3699.2h7.6v65.4h-7.6zM954.7 3809.2h7.6v120.4h-7.6zM969.1 3763.3h7.2v70.4h-7.2zM969.1 3868.3h7.2v75.4h-7.2z"/><path fill="#1affe5" d="M615.9 3208.3h7.6v5.4h-7.6zM688 3438.7h7.6v100.4h-7.6zM695.2 3285.7h7.6v5.4h-7.6zM709.6 3394.8h7.6v5.4h-7.6zM709.6 3599.8h7.6v5.4h-7.6zM709.6 3634.8h7.6v5.4h-7.6zM724 3313.9h7.6v10.4h-7.6zM824.9 3542.5h7.6v10.4h-7.6zM824.9 3697.5h7.6v90.4h-7.6zM832.1 3489.5h7.6v10.4h-7.6zM832.1 3634.5h7.6v110.4h-7.6zM839.4 3496.5h7.6v10.4h-7.6zM839.4 3656.5h7.6v45.4h-7.6zM839.4 3761.5h7.6v35.4h-7.6zM839.4 3886.5h7.6v10.1h-7.6zM889.8 3495.8h7.6v5.4h-7.6zM897 3697.9h7.6v60.4h-7.6zM897 3862.9h7.6v10.4h-7.6zM904.2 3829.9h7.6v60.4h-7.6zM918.6 3564h7.6v30.4h-7.6zM918.6 3669h7.6v70.4h-7.6zM918.6 3969h7.6v5.1h-7.6zM947.5 3692.1h7.6v100.4h-7.6zM947.5 3872.1h7.6v50.4h-7.6zM969.1 3833.3h7.2v35.4h-7.2z"/><path fill="#ff8000" d="M644.7 3256.5h7.6v20.4h-7.6zM651.9 3243.5h7.6v15.4h-7.6zM651.9 3283.5h7.6v5.4h-7.6zM651.9 3593.5h7.6v15.4h-7.6zM651.9 3653.5h7.6v20.4h-7.6zM659.2 3255.5h7.6v20.4h-7.6zM659.2 3280.5h7.6v10.4h-7.6zM659.2 3605.5h7.6v10.4h-7.6zM659.2 3675.5h7.6v10.4h-7.6zM666.4 3277.6h7.6v20.4h-7.6zM666.4 3612.6h7.6v10.4h-7.6zM666.4 3677.6h7.6v15.4h-7.6zM673.6 3564.6h7.6v40.4h-7.6zM738.4 3773h7.6v25.1h-7.6zM745.6 3745h7.6v60.1h-7.6zM752.9 3362.1h7.6v10.4h-7.6zM752.9 3732.1h7.6v70.4h-7.6zM760.1 3379.1h7.6v15.4h-7.6zM767.3 3376.1h7.6v15.4h-7.6zM774.5 3388.2h7.6v10.4h-7.6zM781.7 3390.2h7.6v20.4h-7.6z"/><path fill="#ff6600" d="M651.9 3258.5h7.6v25.4h-7.6zM651.9 3608.5h7.6v45.4h-7.6zM659.2 3275.5h7.6v5.4h-7.6zM659.2 3615.5h7.6v60.4h-7.6zM666.4 3622.6h7.6v55.4h-7.6zM752.9 3357.1h7.6v5.4h-7.6zM760.1 3374.1h7.6v5.4h-7.6z"/><path fill="#0080ff" d="M702.4 3292.8h7.6v10.4h-7.6zM709.6 3319.8h7.6v5.4h-7.6zM709.6 3509.8h7.6v15.4h-7.6zM716.8 3306.9h7.6v10.4h-7.6zM824.9 3412.5h7.6v10.4h-7.6zM882.6 3468.8h7.6v10.4h-7.6zM889.8 3475.8h7.6v10.4h-7.6zM904.2 3489.9h7.6v10.4h-7.6zM904.2 3504.9h7.6v5.4h-7.6zM911.4 3496.9h7.6v5.4h-7.6z"/><path fill="#00e5ff" d="M702.4 3302.8h7.6v5.4h-7.6zM709.6 3324.8h7.6v5.4h-7.6zM709.6 3399.8h7.6v90.4h-7.6zM709.6 3544.8h7.6v25.4h-7.6zM824.9 3442.5h7.6v15.4h-7.6zM824.9 3802.5h7.6v5.4h-7.6zM824.9 3872.5h7.6v10.1h-7.6zM832.1 3474.5h7.6v5.4h-7.6zM846.6 3483.6h7.6v5.4h-7.6zM853.8 3485.6h7.6v5.4h-7.6zM868.2 3479.7h7.6v5.4h-7.6zM882.6 3478.8h7.6v5.4h-7.6zM904.2 3509.9h7.6v5.4h-7.6zM911.4 3506.9h7.6v5.4h-7.6z"/><path fill="#0000ff" d="M709.6 3299.8h7.6v15.4h-7.6zM868.2 3454.7h7.6v20.4h-7.6zM875.4 3461.7h7.6v15.4h-7.6z"/><path fill="#001aff" d="M709.6 3314.8h7.6v5.4h-7.6zM832.1 3459.5h7.6v5.4h-7.6zM839.4 3471.5h7.6v5.4h-7.6zM846.6 3473.6h7.6v5.4h-7.6z"/><path fill="#00ccff" d="M709.6 3489.8h7.6v5.4h-7.6zM709.6 3539.8h7.6v5.4h-7.6zM824.9 3437.5h7.6v5.4h-7.6zM875.4 3481.7h7.6v5.4h-7.6zM889.8 3490.8h7.6v5.4h-7.6z"/><path fill="#00b2ff" d="M709.6 3494.8h7.6v5.4h-7.6zM709.6 3534.8h7.6v5.4h-7.6zM716.8 3321.9h7.6v5.4h-7.6zM824.9 3432.5h7.6v5.4h-7.6zM861 3482.7h7.6v5.4h-7.6zM911.4 3501.9h7.6v5.4h-7.6z"/><path fill="#0099ff" d="M709.6 3499.8h7.6v10.4h-7.6zM709.6 3524.8h7.6v10.4h-7.6zM716.8 3316.9h7.6v5.4h-7.6zM824.9 3422.5h7.6v10.4h-7.6zM832.1 3469.5h7.6v5.4h-7.6zM839.4 3481.5h7.6v5.4h-7.6zM853.8 3480.6h7.6v5.4h-7.6zM889.8 3485.8h7.6v5.4h-7.6zM904.2 3499.9h7.6v5.4h-7.6z"/><path fill="#ff4c00" d="M752.9 3342.1h7.6v15.4h-7.6zM760.1 3359.1h7.6v15.4h-7.6z"/><path fill="#ff3300" d="M760.1 3349.1h7.6v10.4h-7.6z"/><path fill="#000080" d="M832.1 3419.5h7.6v35.4h-7.6zM839.4 3426.5h7.6v40.4h-7.6zM846.6 3433.6h7.6v35.4h-7.6zM853.8 3440.6h7.6v30.4h-7.6zM861 3447.7h7.6v20.4h-7.6z"/><path fill="#0000cc" d="M832.1 3454.5h7.6v5.4h-7.6zM839.4 3466.5h7.6v5.4h-7.6zM846.6 3468.6h7.6v5.4h-7.6z"/><path fill="#0066ff" d="M832.1 3464.5h7.6v5.4h-7.6zM839.4 3476.5h7.6v5.4h-7.6zM846.6 3478.6h7.6v5.4h-7.6zM868.2 3474.7h7.6v5.4h-7.6zM875.4 3476.7h7.6v5.4h-7.6z"/><path fill="#0000e6" d="M853.8 3470.6h7.6v5.4h-7.6z"/><path fill="#0033ff" d="M853.8 3475.6h7.6v5.4h-7.6z"/><path fill="#000099" d="M861 3467.7h7.6v5.4h-7.6z"/><path fill="#0000b2" d="M861 3472.7h7.6v5.4h-7.6z"/><path fill="#004dff" d="M861 3477.7h7.6v5.4h-7.6z"/>
<path fill="#ffcc00" d="M1053 3175.7h7.6v20.4h-7.6zM1060.2 3175.7h7.6v25.4h-7.6zM1074.6 3219.8h7.6v70.4h-7.6zM1074.6 3599.8h7.6v58.3h-7.6zM1089 3248.9h7.6v10.4h-7.6zM1089 3313.9h7.6v5.4h-7.6zM1089 3468.9h7.6v5.4h-7.6zM1089 3558.9h7.6v10.4h-7.6zM1089 3658.9h7.6v13.3h-7.6zM1117.8 3307h7.6v10.4h-7.6zM1117.8 3457h7.6v5.4h-7.6zM1125 3264.1h7.6v25.4h-7.6zM1139.4 3313.1h7.6v5.4h-7.6zM1139.4 3353.1h7.6v45.4h-7.6zM1139.4 3588.1h7.6v25.4h-7.6zM1139.4 3678.1h7.6v30.4h-7.6zM1204.3 3326.5h7.6v5.4h-7.6zM1204.3 3346.5h7.6v5.4h-7.6zM1247.5 3718.7h7.6v20.4h-7.6zM1254.7 3395.8h7.6v5.4h-7.6zM1254.7 3725.8h7.6v45.4h-7.6zM1254.7 3805.8h7.6v28.3h-7.6zM1261.9 3392.8h7.6v5.4h-7.6zM1261.9 3767.8h7.6v70.4h-7.6zM1269.1 3404.9h7.6v5.4h-7.6zM1269.1 3779.9h7.6v65.4h-7.6zM1276.3 3411.9h7.6v5.4h-7.6zM1276.3 3746.9h7.6v30.4h-7.6zM1283.5 3393.9h7.6v5.4h-7.6zM1290.7 3451h7.6v5.4h-7.6zM1312.3 3487.1h7.6v5.4h-7.6zM1326.7 3496.2h7.6v5.4h-7.6zM1326.7 3841.2h7.6v5.4h-7.6zM1334 3843.2h7.6v10.4h-7.6zM1355.6 3529.3h7.6v5.4h-7.6zM1355.6 3864.3h7.6v5.4h-7.6zM1362.8 3531.4h7.6v10.4h-7.6zM1362.8 3871.4h7.6v5.4h-7.6zM1370 3503.4h7.6v5.4h-7.6zM1370 3513.4h7.6v25.4h-7.6zM1370 3883.4h7.6v5.4h-7.6zM1377.2 3505.5h7.6v5.4h-7.6zM1377.2 3555.5h7.6v10.4h-7.6zM1384.4 3517.5h7.6v5.4h-7.6zM1384.4 3562.5h7.6v5.4h-7.6zM1391.6 3524.5h7.6v5.4h-7.6zM1391.6 3534.5h7.6v5.4h-7.6zM1398.8 3526.6h7.6v10.4h-7.6zM1398.8 3546.6h7.6v10.4h-7.6zM1406 3538.6h7.6v15.4h-7.6zM1406 3563.6h7.6v5.4h-7.6zM1413.2 3585.7h7.2v5.4h-7.2z"/><path fill="#ffe500" d="M1053 3195.7h7.6v20.4h-7.6zM1053 3570.7h7.6v66.3h-7.6zM1060.2 3200.7h7.6v5.4h-7.6zM1060.2 3290.7h7.6v20.4h-7.6zM1060.2 3570.7h7.6v73.3h-7.6zM1067.4 3207.7h7.6v75.4h-7.6zM1074.6 3289.8h7.6v10.4h-7.6zM1074.6 3364.8h7.6v5.4h-7.6zM1074.6 3589.8h7.6v10.4h-7.6zM1089 3243.9h7.6v5.4h-7.6zM1089 3318.9h7.6v10.4h-7.6zM1089 3383.9h7.6v70.4h-7.6zM1089 3463.9h7.6v5.4h-7.6zM1089 3568.9h7.6v90.4h-7.6zM1117.8 3317h7.6v5.4h-7.6zM1117.8 3452h7.6v5.4h-7.6zM1125 3259.1h7.6v5.4h-7.6zM1125 3289.1h7.6v5.4h-7.6zM1132.2 3596.1h7.6v25.4h-7.6zM1139.4 3303.1h7.6v10.4h-7.6zM1139.4 3708.1h7.6v13.3h-7.6zM1204.3 3316.5h7.6v10.4h-7.6zM1204.3 3351.5h7.6v5.4h-7.6zM1204.3 3771.5h7.6v13.3h-7.6zM1225.9 3447.6h7.6v25.4h-7.6zM1247.5 3713.7h7.6v5.4h-7.6zM1254.7 3400.8h7.6v5.4h-7.6zM1254.7 3715.8h7.6v10.4h-7.6zM1254.7 3770.8h7.6v35.4h-7.6zM1261.9 3397.8h7.6v10.4h-7.6zM1261.9 3732.8h7.6v35.4h-7.6zM1261.9 3837.8h7.6v3.3h-7.6zM1269.1 3409.9h7.6v10.4h-7.6zM1269.1 3734.9h7.6v45.4h-7.6zM1276.3 3416.9h7.6v5.4h-7.6zM1276.3 3741.9h7.6v5.4h-7.6zM1276.3 3776.9h7.6v78.3h-7.6zM1283.5 3398.9h7.6v5.4h-7.6zM1290.7 3441h7.6v10.4h-7.6zM1290.7 3476h7.6v5.4h-7.6zM1312.3 3447.1h7.6v5.4h-7.6zM1312.3 3492.1h7.6v25.4h-7.6zM1319.5 3459.1h7.6v25.4h-7.6zM1326.7 3501.2h7.6v10.4h-7.6zM1326.7 3546.2h7.6v30.4h-7.6zM1326.7 3836.2h7.6v5.4h-7.6zM1334 3483.2h7.6v5.4h-7.6zM1334 3548.2h7.6v25.4h-7.6zM1334 3663.2h7.6v70.4h-7.6zM1334 3838.2h7.6v5.4h-7.6zM1341.2 3515.3h7.6v75.4h-7.6zM1348.4 3502.3h7.6v35.4h-7.6zM1355.6 3534.3h7.6v10.4h-7.6zM1355.6 3859.3h7.6v5.4h-7.6zM1362.8 3541.4h7.6v5.4h-7.6zM1370 3498.4h7.6v5.4h-7.6zM1370 3538.4h7.6v10.4h-7.6zM1370 3878.4h7.6v5.4h-7.6zM1377.2 3500.5h7.6v5.4h-7.6zM1377.2 3565.5h7.6v10.4h-7.6zM1384.4 3512.5h7.6v5.4h-7.6zM1384.4 3567.5h7.6v10.4h-7.6zM1391.6 3514.5h7.6v10.4h-7.6zM1391.6 3539.5h7.6v10.4h-7.6zM1398.8 3521.6h7.6v5.4h-7.6zM1398.8 3556.6h7.6v25.4h-7.6zM1406 3568.6h7.6v10.4h-7.6zM1413.2 3540.7h7.2v5.4h-7.2zM1413.2 3590.7h7.2v30.4h-7.2z"/><path fill="#ffff00" d="M1053 3215.7h7.6v70.4h-7.6zM1053 3320.7h7.6v35.4h-7.6zM1053 3555.7h7.6v15.4h-7.6zM1060.2 3205.7h7.6v10.4h-7.6zM1060.2 3265.7h7.6v25.4h-7.6zM1060.2 3310.7h7.6v45.4h-7.6zM1060.2 3555.7h7.6v15.4h-7.6zM1067.4 3282.7h7.6v10.4h-7.6zM1067.4 3337.7h7.6v310.4h-7.6zM1074.6 3299.8h7.6v10.4h-7.6zM1074.6 3329.8h7.6v35.4h-7.6zM1074.6 3584.8h7.6v5.4h-7.6zM1081.8 3226.8h7.6v70.4h-7.6zM1081.8 3401.8h7.6v135.4h-7.6zM1081.8 3591.8h7.6v73.3h-7.6zM1089 3233.9h7.6v10.4h-7.6zM1089 3328.9h7.6v5.4h-7.6zM1089 3338.9h7.6v45.4h-7.6zM1089 3453.9h7.6v10.4h-7.6zM1103.4 3257.9h7.6v155.4h-7.6zM1103.4 3512.9h7.6v15.4h-7.6zM1103.4 3612.9h7.6v70.4h-7.6zM1110.6 3350h7.6v140.4h-7.6zM1110.6 3620h7.6v55.4h-7.6zM1117.8 3322h7.6v130.4h-7.6zM1125 3294.1h7.6v5.4h-7.6zM1132.2 3361.1h7.6v160.4h-7.6zM1132.2 3561.1h7.6v35.4h-7.6zM1132.2 3621.1h7.6v25.4h-7.6zM1197.1 3309.5h7.6v15.4h-7.6zM1204.3 3356.5h7.6v5.4h-7.6zM1204.3 3726.5h7.6v45.4h-7.6zM1225.9 3437.6h7.6v10.4h-7.6zM1225.9 3472.6h7.6v30.4h-7.6zM1233.1 3494.7h7.6v25.4h-7.6zM1254.7 3405.8h7.6v5.4h-7.6zM1254.7 3710.8h7.6v5.4h-7.6zM1261.9 3407.8h7.6v10.4h-7.6zM1269.1 3419.9h7.6v10.4h-7.6zM1269.1 3459.9h7.6v60.4h-7.6zM1269.1 3719.9h7.6v15.4h-7.6zM1276.3 3421.9h7.6v5.4h-7.6zM1276.3 3736.9h7.6v5.4h-7.6zM1283.5 3403.9h7.6v5.4h-7.6zM1290.7 3436h7.6v5.4h-7.6zM1290.7 3481h7.6v5.4h-7.6zM1312.3 3517.1h7.6v15.4h-7.6zM1319.5 3484.1h7.6v10.4h-7.6zM1326.7 3471.2h7.6v5.4h-7.6zM1326.7 3511.2h7.6v35.4h-7.6zM1326.7 3576.2h7.6v10.4h-7.6zM1334 3488.2h7.6v60.4h-7.6zM1334 3573.2h7.6v35.4h-7.6zM1334 3643.2h7.6v20.4h-7.6zM1334 3733.2h7.6v105.4h-7.6zM1341.2 3490.3h7.6v25.4h-7.6zM1341.2 3590.3h7.6v10.4h-7.6zM1348.4 3497.3h7.6v5.4h-7.6zM1348.4 3537.3h7.6v20.4h-7.6zM1348.4 3612.3h7.6v125.4h-7.6zM1355.6 3544.3h7.6v25.4h-7.6zM1362.8 3546.4h7.6v65.4h-7.6zM1362.8 3866.4h7.6v5.4h-7.6zM1370 3493.4h7.6v5.4h-7.6zM1370 3548.4h7.6v10.4h-7.6zM1370 3873.4h7.6v5.4h-7.6zM1377.2 3495.5h7.6v5.4h-7.6zM1377.2 3575.5h7.6v25.4h-7.6zM1384.4 3507.5h7.6v5.4h-7.6zM1384.4 3577.5h7.6v25.4h-7.6zM1384.4 3627.5h7.6v5.4h-7.6zM1391.6 3499.5h7.6v15.4h-7.6zM1391.6 3549.5h7.6v5.4h-7.6zM1391.6 3599.5h7.6v10.4h-7.6zM1398.8 3516.6h7.6v5.4h-7.6zM1398.8 3581.6h7.6v20.4h-7.6zM1406 3533.6h7.6v5.4h-7.6zM1406 3578.6h7.6v5.4h-7.6zM1406 3963.6h7.6v18.3h-7.6zM1413.2 3620.7h7.2v5.4h-7.2zM1413.2 3915.7h7.2v66.3h-7.2z"/><path fill="#e5ff1a" d="M1053 3285.7h7.6v35.4h-7.6zM1053 3495.7h7.6v60.4h-7.6zM1060.2 3215.7h7.6v50.4h-7.6zM1060.2 3490.7h7.6v65.4h-7.6zM1067.4 3202.7h7.6v5.4h-7.6zM1067.4 3292.7h7.6v45.4h-7.6zM1067.4 3647.7h7.6v3.3h-7.6zM1074.6 3214.8h7.6v5.4h-7.6zM1074.6 3309.8h7.6v20.4h-7.6zM1074.6 3369.8h7.6v5.4h-7.6zM1074.6 3579.8h7.6v5.4h-7.6zM1081.8 3296.8h7.6v105.4h-7.6zM1081.8 3536.8h7.6v55.4h-7.6zM1089 3333.9h7.6v5.4h-7.6zM1103.4 3412.9h7.6v100.4h-7.6zM1103.4 3527.9h7.6v85.4h-7.6zM1103.4 3682.9h7.6v3.3h-7.6zM1110.6 3255h7.6v10.4h-7.6zM1110.6 3300h7.6v50.4h-7.6zM1110.6 3490h7.6v30.4h-7.6zM1110.6 3545h7.6v75.4h-7.6zM1110.6 3675h7.6v18.3h-7.6zM1117.8 3257h7.6v5.4h-7.6zM1125 3254.1h7.6v5.4h-7.6zM1125 3299.1h7.6v5.4h-7.6zM1132.2 3266.1h7.6v95.4h-7.6zM1132.2 3521.1h7.6v40.4h-7.6zM1132.2 3646.1h7.6v68.3h-7.6zM1197.1 3324.5h7.6v15.4h-7.6zM1197.1 3719.5h7.6v58.3h-7.6zM1204.3 3361.5h7.6v20.4h-7.6zM1204.3 3721.5h7.6v5.4h-7.6zM1211.5 3323.5h7.6v15.4h-7.6zM1225.9 3432.6h7.6v5.4h-7.6zM1225.9 3502.6h7.6v10.4h-7.6zM1233.1 3424.7h7.6v70.4h-7.6zM1233.1 3519.7h7.6v10.4h-7.6zM1247.5 3708.7h7.6v5.4h-7.6zM1254.7 3410.8h7.6v15.4h-7.6zM1254.7 3705.8h7.6v5.4h-7.6zM1261.9 3417.8h7.6v5.4h-7.6zM1261.9 3727.8h7.6v5.4h-7.6zM1269.1 3429.9h7.6v30.4h-7.6zM1269.1 3519.9h7.6v5.4h-7.6zM1276.3 3426.9h7.6v20.4h-7.6zM1283.5 3408.9h7.6v10.4h-7.6zM1290.7 3431h7.6v5.4h-7.6zM1312.3 3532.1h7.6v25.4h-7.6zM1319.5 3494.1h7.6v10.4h-7.6zM1319.5 3594.1h7.6v40.4h-7.6zM1319.5 3719.1h7.6v25.4h-7.6zM1326.7 3586.2h7.6v10.4h-7.6zM1326.7 3831.2h7.6v5.4h-7.6zM1334 3478.2h7.6v5.4h-7.6zM1334 3608.2h7.6v35.4h-7.6zM1341.2 3600.3h7.6v5.4h-7.6zM1341.2 3680.3h7.6v30.4h-7.6zM1348.4 3557.3h7.6v55.4h-7.6zM1348.4 3737.3h7.6v188.3h-7.6zM1355.6 3569.3h7.6v45.4h-7.6zM1355.6 3854.3h7.6v5.4h-7.6zM1362.8 3611.4h7.6v5.4h-7.6zM1370 3558.4h7.6v70.4h-7.6zM1370 3868.4h7.6v5.4h-7.6zM1377.2 3485.5h7.6v10.4h-7.6zM1377.2 3600.5h7.6v25.4h-7.6zM1384.4 3602.5h7.6v25.4h-7.6zM1384.4 3632.5h7.6v10.4h-7.6zM1391.6 3554.5h7.6v45.4h-7.6zM1398.8 3506.6h7.6v10.4h-7.6zM1398.8 3601.6h7.6v45.4h-7.6zM1406 3583.6h7.6v30.4h-7.6zM1406 3898.6h7.6v65.4h-7.6zM1413.2 3535.7h7.2v5.4h-7.2zM1413.2 3625.7h7.2v10.4h-7.2zM1413.2 3730.7h7.2v55.4h-7.2zM1413.2 3905.7h7.2v10.4h-7.2z"/><path fill="#ccff33" d="M1053 3355.7h7.6v5.4h-7.6zM1053 3485.7h7.6v10.4h-7.6zM1060.2 3355.7h7.6v5.4h-7.6zM1060.2 3480.7h7.6v10.4h-7.6zM1074.6 3459.8h7.6v60.4h-7.6zM1081.8 3221.8h7.6v5.4h-7.6zM1096.2 3325.9h7.6v15.4h-7.6zM1096.2 3490.9h7.6v70.4h-7.6zM1103.4 3252.9h7.6v5.4h-7.6zM1110.6 3265h7.6v35.4h-7.6zM1110.6 3520h7.6v25.4h-7.6zM1125 3304.1h7.6v5.4h-7.6zM1125 3404.1h7.6v40.4h-7.6zM1125 3569.1h7.6v120.4h-7.6zM1132.2 3261.1h7.6v5.4h-7.6zM1197.1 3339.5h7.6v30.4h-7.6zM1197.1 3714.5h7.6v5.4h-7.6zM1204.3 3381.5h7.6v10.4h-7.6zM1204.3 3716.5h7.6v5.4h-7.6zM1211.5 3338.5h7.6v10.4h-7.6zM1211.5 3488.5h7.6v35.4h-7.6zM1225.9 3422.6h7.6v10.4h-7.6zM1225.9 3512.6h7.6v10.4h-7.6zM1225.9 3552.6h7.6v253.3h-7.6zM1233.1 3529.7h7.6v75.4h-7.6zM1233.1 3669.7h7.6v143.3h-7.6zM1247.5 3703.7h7.6v5.4h-7.6zM1254.7 3425.8h7.6v10.4h-7.6zM1254.7 3470.8h7.6v35.4h-7.6zM1261.9 3422.8h7.6v5.4h-7.6zM1269.1 3524.9h7.6v5.4h-7.6zM1269.1 3714.9h7.6v5.4h-7.6zM1276.3 3446.9h7.6v5.4h-7.6zM1276.3 3731.9h7.6v5.4h-7.6zM1283.5 3418.9h7.6v115.4h-7.6zM1283.5 3798.9h7.6v63.3h-7.6zM1290.7 3486h7.6v5.4h-7.6zM1312.3 3762.1h7.6v55.4h-7.6zM1312.3 3887.1h7.6v3.3h-7.6zM1319.5 3454.1h7.6v5.4h-7.6zM1319.5 3504.1h7.6v20.4h-7.6zM1319.5 3574.1h7.6v20.4h-7.6zM1319.5 3634.1h7.6v85.4h-7.6zM1319.5 3744.1h7.6v40.4h-7.6zM1326.7 3466.2h7.6v5.4h-7.6zM1326.7 3596.2h7.6v50.4h-7.6zM1326.7 3826.2h7.6v5.4h-7.6zM1341.2 3485.3h7.6v5.4h-7.6zM1341.2 3605.3h7.6v75.4h-7.6zM1341.2 3710.3h7.6v208.3h-7.6zM1348.4 3492.3h7.6v5.4h-7.6zM1355.6 3614.3h7.6v115.4h-7.6zM1362.8 3616.4h7.6v5.4h-7.6zM1362.8 3861.4h7.6v5.4h-7.6zM1370 3488.4h7.6v5.4h-7.6zM1370 3628.4h7.6v115.4h-7.6zM1377.2 3625.5h7.6v5.4h-7.6zM1384.4 3502.5h7.6v5.4h-7.6zM1384.4 3642.5h7.6v55.4h-7.6zM1384.4 3762.5h7.6v120.4h-7.6zM1384.4 3942.5h7.6v18.3h-7.6zM1391.6 3609.5h7.6v5.4h-7.6zM1398.8 3646.6h7.6v15.4h-7.6zM1398.8 3801.6h7.6v155.4h-7.6zM1406 3613.6h7.6v10.4h-7.6zM1406 3793.6h7.6v105.4h-7.6zM1413.2 3635.7h7.2v30.4h-7.2zM1413.2 3725.7h7.2v5.4h-7.2zM1413.2 3785.7h7.2v35.4h-7.2zM1413.2 3825.7h7.2v80.4h-7.2z"/><path fill="#b3ff4c" d="M1053 3360.7h7.6v5.4h-7.6zM1053 3475.7h7.6v10.4h-7.6zM1060.2 3360.7h7.6v5.4h-7.6zM1060.2 3465.7h7.6v15.4h-7.6zM1067.4 3197.7h7.6v5.4h-7.6zM1074.6 3374.8h7.6v5.4h-7.6zM1074.6 3519.8h7.6v60.4h-7.6zM1089 3228.9h7.6v5.4h-7.6zM1096.2 3260.9h7.6v65.4h-7.6zM1096.2 3340.9h7.6v75.4h-7.6zM1096.2 3465.9h7.6v25.4h-7.6zM1096.2 3560.9h7.6v118.3h-7.6zM1125 3374.1h7.6v30.4h-7.6zM1125 3444.1h7.6v60.4h-7.6zM1125 3559.1h7.6v10.4h-7.6zM1125 3689.1h7.6v18.3h-7.6zM1146.7 3330.2h7.6v140.4h-7.6zM1146.7 3605.2h7.6v35.4h-7.6zM1197.1 3369.5h7.6v10.4h-7.6zM1197.1 3704.5h7.6v10.4h-7.6zM1204.3 3391.5h7.6v5.4h-7.6zM1204.3 3711.5h7.6v5.4h-7.6zM1211.5 3348.5h7.6v10.4h-7.6zM1211.5 3453.5h7.6v35.4h-7.6zM1211.5 3523.5h7.6v25.4h-7.6zM1211.5 3648.5h7.6v70.4h-7.6zM1211.5 3773.5h7.6v18.3h-7.6zM1225.9 3382.6h7.6v40.4h-7.6zM1225.9 3522.6h7.6v30.4h-7.6zM1233.1 3419.7h7.6v5.4h-7.6zM1233.1 3604.7h7.6v65.4h-7.6zM1240.3 3391.7h7.6v5.4h-7.6zM1254.7 3435.8h7.6v35.4h-7.6zM1254.7 3505.8h7.6v5.4h-7.6zM1254.7 3700.8h7.6v5.4h-7.6zM1261.9 3722.8h7.6v5.4h-7.6zM1269.1 3709.9h7.6v5.4h-7.6zM1276.3 3451.9h7.6v5.4h-7.6zM1283.5 3533.9h7.6v5.4h-7.6zM1283.5 3763.9h7.6v35.4h-7.6zM1290.7 3426h7.6v5.4h-7.6zM1312.3 3442.1h7.6v5.4h-7.6zM1312.3 3557.1h7.6v5.4h-7.6zM1312.3 3757.1h7.6v5.4h-7.6zM1312.3 3817.1h7.6v70.4h-7.6zM1319.5 3524.1h7.6v50.4h-7.6zM1319.5 3784.1h7.6v113.3h-7.6zM1326.7 3646.2h7.6v15.4h-7.6zM1326.7 3821.2h7.6v5.4h-7.6zM1334 3473.2h7.6v5.4h-7.6zM1355.6 3729.3h7.6v25.4h-7.6zM1355.6 3784.3h7.6v70.4h-7.6zM1362.8 3621.4h7.6v5.4h-7.6zM1370 3478.4h7.6v10.4h-7.6zM1370 3743.4h7.6v20.4h-7.6zM1370 3823.4h7.6v45.4h-7.6zM1377.2 3630.5h7.6v5.4h-7.6zM1384.4 3492.5h7.6v10.4h-7.6zM1384.4 3697.5h7.6v65.4h-7.6zM1384.4 3882.5h7.6v60.4h-7.6zM1391.6 3614.5h7.6v5.4h-7.6zM1398.8 3661.6h7.6v140.4h-7.6zM1398.8 3956.6h7.6v18.3h-7.6zM1406 3528.6h7.6v5.4h-7.6zM1406 3623.6h7.6v10.4h-7.6zM1406 3723.6h7.6v70.4h-7.6zM1413.2 3530.7h7.2v5.4h-7.2zM1413.2 3665.7h7.2v5.4h-7.2zM1413.2 3820.7h7.2v5.4h-7.2z"/><path fill="#80ff80" d="M1053 3365.7h7.6v5.4h-7.6zM1053 3455.7h7.6v10.4h-7.6zM1060.2 3455.7h7.6v5.4h-7.6zM1074.6 3379.8h7.6v5.4h-7.6zM1074.6 3449.8h7.6v5.4h-7.6zM1081.8 3216.8h7.6v5.4h-7.6zM1096.2 3230.9h7.6v5.4h-7.6zM1110.6 3250h7.6v5.4h-7.6zM1125 3244.1h7.6v5.4h-7.6zM1125 3504.1h7.6v5.4h-7.6zM1132.2 3251.1h7.6v5.4h-7.6zM1146.7 3320.2h7.6v5.4h-7.6zM1161.1 3399.3h7.6v35.4h-7.6zM1161.1 3479.3h7.6v135.4h-7.6zM1161.1 3719.3h7.6v23.3h-7.6zM1168.3 3426.3h7.6v25.4h-7.6zM1168.3 3481.3h7.6v40.4h-7.6zM1197.1 3394.5h7.6v15.4h-7.6zM1197.1 3469.5h7.6v100.4h-7.6zM1197.1 3684.5h7.6v15.4h-7.6zM1204.3 3421.5h7.6v245.4h-7.6zM1204.3 3691.5h7.6v15.4h-7.6zM1218.7 3370.6h7.6v5.4h-7.6zM1218.7 3465.6h7.6v130.4h-7.6zM1218.7 3670.6h7.6v100.4h-7.6zM1233.1 3414.7h7.6v5.4h-7.6zM1240.3 3401.7h7.6v100.4h-7.6zM1240.3 3691.7h7.6v20.4h-7.6zM1240.3 3716.7h7.6v35.4h-7.6zM1247.5 3463.7h7.6v10.4h-7.6zM1247.5 3488.7h7.6v15.4h-7.6zM1254.7 3515.8h7.6v5.4h-7.6zM1261.9 3432.8h7.6v5.4h-7.6zM1261.9 3717.8h7.6v5.4h-7.6zM1269.1 3534.9h7.6v5.4h-7.6zM1269.1 3699.9h7.6v5.4h-7.6zM1276.3 3461.9h7.6v5.4h-7.6zM1276.3 3481.9h7.6v45.4h-7.6zM1283.5 3543.9h7.6v5.4h-7.6zM1283.5 3723.9h7.6v10.4h-7.6zM1290.7 3496h7.6v50.4h-7.6zM1290.7 3726h7.6v15.4h-7.6zM1290.7 3806h7.6v55.4h-7.6zM1305.1 3790.1h7.6v35.4h-7.6zM1312.3 3567.1h7.6v5.4h-7.6zM1312.3 3747.1h7.6v5.4h-7.6zM1362.8 3631.4h7.6v230.4h-7.6zM1377.2 3640.5h7.6v5.4h-7.6zM1377.2 3650.5h7.6v50.4h-7.6zM1377.2 3760.5h7.6v65.4h-7.6zM1377.2 3890.5h7.6v63.3h-7.6zM1391.6 3619.5h7.6v5.4h-7.6zM1406 3523.6h7.6v5.4h-7.6zM1406 3658.6h7.6v5.4h-7.6zM1413.2 3525.7h7.2v5.4h-7.2zM1413.2 3670.7h7.2v5.4h-7.2zM1413.2 3715.7h7.2v5.4h-7.2z"/><path fill="#66ff99" d="M1053 3370.7h7.6v5.4h-7.6zM1053 3450.7h7.6v5.4h-7.6zM1060.2 3370.7h7.6v5.4h-7.6zM1060.2 3450.7h7.6v5.4h-7.6zM1067.4 3192.7h7.6v5.4h-7.6zM1096.2 3225.9h7.6v5.4h-7.6zM1103.4 3217.9h7.6v5.4h-7.6zM1103.4 3242.9h7.6v5.4h-7.6zM1117.8 3252h7.6v5.4h-7.6zM1125 3509.1h7.6v5.4h-7.6zM1125 3549.1h7.6v5.4h-7.6zM1132.2 3246.1h7.6v5.4h-7.6zM1161.1 3334.3h7.6v65.4h-7.6zM1168.3 3336.3h7.6v90.4h-7.6zM1168.3 3521.3h7.6v5.4h-7.6zM1197.1 3409.5h7.6v60.4h-7.6zM1240.3 3386.7h7.6v5.4h-7.6zM1240.3 3501.7h7.6v50.4h-7.6zM1240.3 3676.7h7.6v15.4h-7.6zM1240.3 3711.7h7.6v5.4h-7.6zM1247.5 3458.7h7.6v5.4h-7.6zM1247.5 3503.7h7.6v10.4h-7.6zM1247.5 3688.7h7.6v10.4h-7.6zM1254.7 3520.8h7.6v5.4h-7.6zM1254.7 3690.8h7.6v5.4h-7.6zM1269.1 3539.9h7.6v150.4h-7.6zM1276.3 3466.9h7.6v15.4h-7.6zM1276.3 3526.9h7.6v10.4h-7.6zM1276.3 3716.9h7.6v10.4h-7.6zM1283.5 3548.9h7.6v5.4h-7.6zM1283.5 3718.9h7.6v5.4h-7.6zM1290.7 3421h7.6v5.4h-7.6zM1290.7 3546h7.6v10.4h-7.6zM1290.7 3681h7.6v45.4h-7.6zM1290.7 3861h7.6v8.3h-7.6zM1297.9 3593h7.6v90.4h-7.6zM1305.1 3455.1h7.6v105.4h-7.6zM1305.1 3750.1h7.6v40.4h-7.6zM1312.3 3572.1h7.6v5.4h-7.6zM1312.3 3742.1h7.6v5.4h-7.6zM1326.7 3461.2h7.6v5.4h-7.6zM1334 3468.2h7.6v5.4h-7.6zM1377.2 3645.5h7.6v5.4h-7.6zM1391.6 3624.5h7.6v5.4h-7.6zM1406 3663.6h7.6v5.4h-7.6zM1406 3713.6h7.6v5.4h-7.6zM1413.2 3675.7h7.2v5.4h-7.2z"/><path fill="#33ffcc" d="M1053 3375.7h7.6v5.4h-7.6zM1053 3440.7h7.6v5.4h-7.6zM1074.6 3204.8h7.6v5.4h-7.6zM1074.6 3439.8h7.6v5.4h-7.6zM1081.8 3211.8h7.6v5.4h-7.6zM1096.2 3215.9h7.6v5.4h-7.6zM1103.4 3227.9h7.6v5.4h-7.6zM1103.4 3237.9h7.6v5.4h-7.6zM1125 3239.1h7.6v5.4h-7.6zM1139.4 3293.1h7.6v5.4h-7.6zM1161.1 3319.3h7.6v5.4h-7.6zM1168.3 3531.3h7.6v5.4h-7.6zM1218.7 3365.6h7.6v5.4h-7.6zM1225.9 3372.6h7.6v5.4h-7.6zM1240.3 3576.7h7.6v40.4h-7.6zM1247.5 3398.7h7.6v5.4h-7.6zM1247.5 3448.7h7.6v5.4h-7.6zM1247.5 3518.7h7.6v10.4h-7.6zM1247.5 3613.7h7.6v25.4h-7.6zM1254.7 3530.8h7.6v10.4h-7.6zM1254.7 3615.8h7.6v10.4h-7.6zM1254.7 3635.8h7.6v50.4h-7.6zM1261.9 3442.8h7.6v85.4h-7.6zM1261.9 3532.8h7.6v15.4h-7.6zM1261.9 3627.8h7.6v30.4h-7.6zM1276.3 3546.9h7.6v55.4h-7.6zM1276.3 3651.9h7.6v30.4h-7.6zM1276.3 3696.9h7.6v15.4h-7.6zM1283.5 3668.9h7.6v45.4h-7.6zM1297.9 3443h7.6v15.4h-7.6zM1297.9 3483h7.6v75.4h-7.6zM1297.9 3743h7.6v80.4h-7.6zM1297.9 3838h7.6v38.3h-7.6zM1305.1 3445.1h7.6v5.4h-7.6zM1305.1 3570.1h7.6v80.4h-7.6zM1305.1 3675.1h7.6v65.4h-7.6zM1312.3 3602.1h7.6v10.4h-7.6zM1391.6 3629.5h7.6v35.4h-7.6zM1391.6 3709.5h7.6v130.4h-7.6zM1391.6 3934.5h7.6v33.3h-7.6zM1406 3668.6h7.6v5.4h-7.6zM1413.2 3520.7h7.2v5.4h-7.2zM1413.2 3685.7h7.2v25.4h-7.2z"/><path fill="#4dffb2" d="M1053 3380.7h7.6v60.4h-7.6zM1053 3445.7h7.6v5.4h-7.6zM1060.2 3375.7h7.6v75.4h-7.6zM1067.4 3187.7h7.6v5.4h-7.6zM1074.6 3384.8h7.6v5.4h-7.6zM1074.6 3444.8h7.6v5.4h-7.6zM1089 3223.9h7.6v5.4h-7.6zM1096.2 3220.9h7.6v5.4h-7.6zM1103.4 3222.9h7.6v5.4h-7.6zM1125 3514.1h7.6v5.4h-7.6zM1125 3544.1h7.6v5.4h-7.6zM1146.7 3315.2h7.6v5.4h-7.6zM1161.1 3324.3h7.6v10.4h-7.6zM1168.3 3526.3h7.6v5.4h-7.6zM1240.3 3551.7h7.6v25.4h-7.6zM1240.3 3616.7h7.6v60.4h-7.6zM1247.5 3453.7h7.6v5.4h-7.6zM1247.5 3513.7h7.6v5.4h-7.6zM1247.5 3638.7h7.6v50.4h-7.6zM1254.7 3525.8h7.6v5.4h-7.6zM1254.7 3625.8h7.6v10.4h-7.6zM1254.7 3685.8h7.6v5.4h-7.6zM1261.9 3437.8h7.6v5.4h-7.6zM1261.9 3527.8h7.6v5.4h-7.6zM1261.9 3712.8h7.6v5.4h-7.6zM1269.1 3689.9h7.6v10.4h-7.6zM1276.3 3536.9h7.6v10.4h-7.6zM1276.3 3601.9h7.6v50.4h-7.6zM1276.3 3711.9h7.6v5.4h-7.6zM1283.5 3553.9h7.6v115.4h-7.6zM1283.5 3713.9h7.6v5.4h-7.6zM1290.7 3556h7.6v125.4h-7.6zM1297.9 3458h7.6v25.4h-7.6zM1297.9 3558h7.6v35.4h-7.6zM1297.9 3683h7.6v60.4h-7.6zM1297.9 3823h7.6v15.4h-7.6zM1305.1 3450.1h7.6v5.4h-7.6zM1305.1 3560.1h7.6v10.4h-7.6zM1305.1 3740.1h7.6v10.4h-7.6zM1312.3 3437.1h7.6v5.4h-7.6zM1312.3 3577.1h7.6v25.4h-7.6zM1312.3 3612.1h7.6v130.4h-7.6zM1319.5 3444.1h7.6v5.4h-7.6zM1341.2 3475.3h7.6v5.4h-7.6zM1348.4 3482.3h7.6v5.4h-7.6zM1391.6 3839.5h7.6v95.4h-7.6zM1406 3518.6h7.6v5.4h-7.6zM1406 3708.6h7.6v5.4h-7.6zM1413.2 3680.7h7.2v5.4h-7.2zM1413.2 3710.7h7.2v5.4h-7.2z"/><path fill="#99ff66" d="M1053 3465.7h7.6v10.4h-7.6zM1060.2 3365.7h7.6v5.4h-7.6zM1060.2 3460.7h7.6v5.4h-7.6zM1074.6 3209.8h7.6v5.4h-7.6zM1074.6 3454.8h7.6v5.4h-7.6zM1096.2 3235.9h7.6v25.4h-7.6zM1096.2 3415.9h7.6v50.4h-7.6zM1103.4 3247.9h7.6v5.4h-7.6zM1125 3249.1h7.6v5.4h-7.6zM1125 3309.1h7.6v65.4h-7.6zM1125 3554.1h7.6v5.4h-7.6zM1132.2 3256.1h7.6v5.4h-7.6zM1139.4 3298.1h7.6v5.4h-7.6zM1146.7 3325.2h7.6v5.4h-7.6zM1146.7 3470.2h7.6v135.4h-7.6zM1146.7 3640.2h7.6v88.3h-7.6zM1161.1 3434.3h7.6v45.4h-7.6zM1161.1 3614.3h7.6v105.4h-7.6zM1168.3 3451.3h7.6v30.4h-7.6zM1197.1 3379.5h7.6v15.4h-7.6zM1197.1 3569.5h7.6v115.4h-7.6zM1197.1 3699.5h7.6v5.4h-7.6zM1204.3 3396.5h7.6v25.4h-7.6zM1204.3 3666.5h7.6v25.4h-7.6zM1204.3 3706.5h7.6v5.4h-7.6zM1211.5 3358.5h7.6v95.4h-7.6zM1211.5 3548.5h7.6v100.4h-7.6zM1211.5 3718.5h7.6v55.4h-7.6zM1218.7 3375.6h7.6v90.4h-7.6zM1218.7 3595.6h7.6v75.4h-7.6zM1218.7 3770.6h7.6v28.3h-7.6zM1225.9 3377.6h7.6v5.4h-7.6zM1240.3 3396.7h7.6v5.4h-7.6zM1240.3 3751.7h7.6v68.3h-7.6zM1247.5 3473.7h7.6v15.4h-7.6zM1247.5 3698.7h7.6v5.4h-7.6zM1254.7 3510.8h7.6v5.4h-7.6zM1254.7 3695.8h7.6v5.4h-7.6zM1261.9 3427.8h7.6v5.4h-7.6zM1269.1 3529.9h7.6v5.4h-7.6zM1269.1 3704.9h7.6v5.4h-7.6zM1276.3 3456.9h7.6v5.4h-7.6zM1276.3 3726.9h7.6v5.4h-7.6zM1283.5 3538.9h7.6v5.4h-7.6zM1283.5 3733.9h7.6v30.4h-7.6zM1290.7 3491h7.6v5.4h-7.6zM1290.7 3741h7.6v65.4h-7.6zM1305.1 3825.1h7.6v58.3h-7.6zM1312.3 3562.1h7.6v5.4h-7.6zM1312.3 3752.1h7.6v5.4h-7.6zM1319.5 3449.1h7.6v5.4h-7.6zM1326.7 3661.2h7.6v160.4h-7.6zM1341.2 3480.3h7.6v5.4h-7.6zM1348.4 3487.3h7.6v5.4h-7.6zM1355.6 3754.3h7.6v30.4h-7.6zM1362.8 3626.4h7.6v5.4h-7.6zM1370 3763.4h7.6v60.4h-7.6zM1377.2 3635.5h7.6v5.4h-7.6zM1377.2 3700.5h7.6v60.4h-7.6zM1377.2 3825.5h7.6v65.4h-7.6zM1406 3633.6h7.6v25.4h-7.6zM1406 3718.6h7.6v5.4h-7.6zM1413.2 3720.7h7.2v5.4h-7.2z"/><path fill="#00ffff" d="M1067.4 3182.7h7.6v5.4h-7.6zM1074.6 3389.8h7.6v50.4h-7.6zM1089 3218.9h7.6v5.4h-7.6zM1125 3524.1h7.6v15.4h-7.6zM1153.9 3407.2h7.6v130.4h-7.6zM1153.9 3677.2h7.6v25.4h-7.6zM1168.3 3541.3h7.6v85.4h-7.6zM1168.3 3746.3h7.6v3.3h-7.6zM1189.9 3342.4h7.6v45.4h-7.6zM1189.9 3462.4h7.6v85.4h-7.6zM1247.5 3393.7h7.6v5.4h-7.6zM1247.5 3403.7h7.6v40.4h-7.6zM1247.5 3533.7h7.6v50.4h-7.6zM1247.5 3598.7h7.6v10.4h-7.6zM1254.7 3580.8h7.6v25.4h-7.6zM1261.9 3567.8h7.6v50.4h-7.6zM1297.9 3433h7.6v5.4h-7.6zM1305.1 3440.1h7.6v5.4h-7.6zM1312.3 3432.1h7.6v5.4h-7.6zM1319.5 3439.1h7.6v5.4h-7.6zM1341.2 3470.3h7.6v5.4h-7.6zM1348.4 3477.3h7.6v5.4h-7.6zM1406 3513.6h7.6v5.4h-7.6zM1406 3678.6h7.6v25.4h-7.6z"/><path fill="#0080ff" d="M1074.6 3189.8h7.6v5.4h-7.6zM1081.8 3196.8h7.6v10.4h-7.6zM1089 3203.9h7.6v10.4h-7.6zM1153.9 3312.2h7.6v5.4h-7.6zM1168.3 3321.3h7.6v5.4h-7.6zM1175.5 3543.3h7.6v50.4h-7.6zM1218.7 3355.6h7.6v5.4h-7.6zM1225.9 3362.6h7.6v5.4h-7.6zM1290.7 3401h7.6v10.4h-7.6zM1297.9 3408h7.6v10.4h-7.6zM1305.1 3415.1h7.6v10.4h-7.6zM1312.3 3422.1h7.6v10.4h-7.6zM1319.5 3429.1h7.6v10.4h-7.6zM1326.7 3436.2h7.6v10.4h-7.6zM1334 3443.2h7.6v10.4h-7.6zM1341.2 3450.3h7.6v10.4h-7.6zM1348.4 3457.3h7.6v10.4h-7.6z"/><path fill="#0099ff" d="M1074.6 3194.8h7.6v5.4h-7.6zM1175.5 3593.3h7.6v10.4h-7.6zM1247.5 3383.7h7.6v5.4h-7.6zM1297.9 3418h7.6v10.4h-7.6zM1305.1 3425.1h7.6v5.4h-7.6zM1326.7 3446.2h7.6v5.4h-7.6zM1334 3453.2h7.6v5.4h-7.6zM1341.2 3460.3h7.6v5.4h-7.6zM1348.4 3467.3h7.6v10.4h-7.6z"/><path fill="#00e5ff" d="M1074.6 3199.8h7.6v5.4h-7.6zM1081.8 3206.8h7.6v5.4h-7.6zM1117.8 3247h7.6v5.4h-7.6zM1146.7 3310.2h7.6v5.4h-7.6zM1153.9 3352.2h7.6v55.4h-7.6zM1153.9 3537.2h7.6v75.4h-7.6zM1153.9 3647.2h7.6v30.4h-7.6zM1153.9 3702.2h7.6v33.3h-7.6zM1168.3 3626.3h7.6v60.4h-7.6zM1168.3 3716.3h7.6v30.4h-7.6zM1189.9 3307.4h7.6v35.4h-7.6zM1189.9 3387.4h7.6v30.4h-7.6zM1189.9 3432.4h7.6v30.4h-7.6zM1189.9 3547.4h7.6v105.4h-7.6zM1189.9 3672.4h7.6v90.4h-7.6zM1218.7 3360.6h7.6v5.4h-7.6zM1225.9 3367.6h7.6v5.4h-7.6zM1240.3 3376.7h7.6v5.4h-7.6zM1247.5 3583.7h7.6v15.4h-7.6zM1305.1 3435.1h7.6v5.4h-7.6z"/><path fill="#00b2ff" d="M1089 3213.9h7.6v5.4h-7.6zM1110.6 3240h7.6v5.4h-7.6zM1175.5 3603.3h7.6v5.4h-7.6zM1233.1 3404.7h7.6v5.4h-7.6zM1305.1 3430.1h7.6v5.4h-7.6zM1341.2 3465.3h7.6v5.4h-7.6z"/><path fill="#ffb300" d="M1089 3258.9h7.6v5.4h-7.6zM1089 3283.9h7.6v30.4h-7.6zM1089 3473.9h7.6v5.4h-7.6zM1089 3553.9h7.6v5.4h-7.6zM1117.8 3262h7.6v5.4h-7.6zM1117.8 3302h7.6v5.4h-7.6zM1117.8 3462h7.6v10.4h-7.6zM1117.8 3517h7.6v105.4h-7.6zM1139.4 3318.1h7.6v35.4h-7.6zM1139.4 3398.1h7.6v190.4h-7.6zM1139.4 3613.1h7.6v65.4h-7.6zM1204.3 3331.5h7.6v15.4h-7.6zM1247.5 3738.7h7.6v5.4h-7.6zM1247.5 3808.7h7.6v18.3h-7.6zM1254.7 3390.8h7.6v5.4h-7.6zM1261.9 3387.8h7.6v5.4h-7.6zM1269.1 3399.9h7.6v5.4h-7.6zM1269.1 3844.9h7.6v3.3h-7.6zM1276.3 3401.9h7.6v10.4h-7.6zM1290.7 3456h7.6v20.4h-7.6zM1312.3 3477.1h7.6v10.4h-7.6zM1326.7 3476.2h7.6v20.4h-7.6zM1326.7 3846.2h7.6v55.4h-7.6zM1334 3853.2h7.6v58.3h-7.6zM1355.6 3524.3h7.6v5.4h-7.6zM1362.8 3526.4h7.6v5.4h-7.6zM1370 3508.4h7.6v5.4h-7.6zM1370 3913.4h7.6v33.3h-7.6zM1377.2 3510.5h7.6v5.4h-7.6zM1377.2 3550.5h7.6v5.4h-7.6zM1384.4 3522.5h7.6v5.4h-7.6zM1384.4 3557.5h7.6v5.4h-7.6zM1391.6 3529.5h7.6v5.4h-7.6zM1398.8 3536.6h7.6v10.4h-7.6zM1406 3553.6h7.6v10.4h-7.6zM1413.2 3575.7h7.2v10.4h-7.2z"/><path fill="#ff9900" d="M1089 3263.9h7.6v20.4h-7.6zM1089 3478.9h7.6v5.4h-7.6zM1089 3518.9h7.6v35.4h-7.6zM1117.8 3267h7.6v35.4h-7.6zM1117.8 3472h7.6v45.4h-7.6zM1117.8 3622h7.6v15.4h-7.6zM1247.5 3743.7h7.6v10.4h-7.6zM1247.5 3798.7h7.6v10.4h-7.6zM1261.9 3372.8h7.6v15.4h-7.6zM1269.1 3379.9h7.6v20.4h-7.6zM1276.3 3386.9h7.6v15.4h-7.6zM1312.3 3452.1h7.6v25.4h-7.6zM1326.7 3901.2h7.6v3.3h-7.6zM1355.6 3519.3h7.6v5.4h-7.6zM1355.6 3869.3h7.6v5.4h-7.6zM1362.8 3521.4h7.6v5.4h-7.6zM1362.8 3876.4h7.6v5.4h-7.6zM1370 3888.4h7.6v25.4h-7.6zM1377.2 3515.5h7.6v15.4h-7.6zM1377.2 3545.5h7.6v5.4h-7.6zM1384.4 3527.5h7.6v30.4h-7.6zM1413.2 3545.7h7.2v15.4h-7.2zM1413.2 3570.7h7.2v5.4h-7.2z"/><path fill="#ff8000" d="M1089 3483.9h7.6v35.4h-7.6zM1117.8 3637h7.6v50.4h-7.6zM1247.5 3753.7h7.6v25.4h-7.6zM1247.5 3788.7h7.6v10.4h-7.6zM1254.7 3385.8h7.6v5.4h-7.6zM1355.6 3509.3h7.6v10.4h-7.6zM1355.6 3874.3h7.6v58.3h-7.6zM1362.8 3471.4h7.6v30.4h-7.6zM1362.8 3511.4h7.6v10.4h-7.6zM1377.2 3530.5h7.6v15.4h-7.6zM1413.2 3560.7h7.2v10.4h-7.2z"/><path fill="#1affe5" d="M1096.2 3210.9h7.6v5.4h-7.6zM1103.4 3232.9h7.6v5.4h-7.6zM1110.6 3245h7.6v5.4h-7.6zM1125 3519.1h7.6v5.4h-7.6zM1125 3539.1h7.6v5.4h-7.6zM1168.3 3331.3h7.6v5.4h-7.6zM1168.3 3536.3h7.6v5.4h-7.6zM1233.1 3409.7h7.6v5.4h-7.6zM1240.3 3381.7h7.6v5.4h-7.6zM1247.5 3443.7h7.6v5.4h-7.6zM1247.5 3528.7h7.6v5.4h-7.6zM1247.5 3608.7h7.6v5.4h-7.6zM1254.7 3540.8h7.6v40.4h-7.6zM1254.7 3605.8h7.6v10.4h-7.6zM1261.9 3547.8h7.6v20.4h-7.6zM1261.9 3617.8h7.6v10.4h-7.6zM1261.9 3657.8h7.6v55.4h-7.6zM1276.3 3681.9h7.6v15.4h-7.6zM1290.7 3416h7.6v5.4h-7.6zM1297.9 3438h7.6v5.4h-7.6zM1305.1 3650.1h7.6v25.4h-7.6zM1326.7 3456.2h7.6v5.4h-7.6zM1334 3463.2h7.6v5.4h-7.6zM1391.6 3664.5h7.6v45.4h-7.6zM1406 3673.6h7.6v5.4h-7.6zM1406 3703.6h7.6v5.4h-7.6z"/><path fill="#0000ff" d="M1110.6 3225h7.6v10.4h-7.6zM1117.8 3232h7.6v10.4h-7.6zM1175.5 3323.3h7.6v100.4h-7.6zM1175.5 3513.3h7.6v10.4h-7.6zM1182.7 3295.4h7.6v120.4h-7.6zM1182.7 3510.4h7.6v253.3h-7.6zM1218.7 3330.6h7.6v20.4h-7.6zM1225.9 3337.6h7.6v20.4h-7.6zM1233.1 3344.7h7.6v20.4h-7.6zM1240.3 3351.7h7.6v20.4h-7.6zM1247.5 3358.7h7.6v20.4h-7.6z"/><path fill="#0066ff" d="M1110.6 3235h7.6v5.4h-7.6zM1117.8 3242h7.6v5.4h-7.6zM1146.7 3305.2h7.6v5.4h-7.6zM1153.9 3307.2h7.6v5.4h-7.6zM1161.1 3309.3h7.6v5.4h-7.6zM1175.5 3538.3h7.6v5.4h-7.6zM1233.1 3364.7h7.6v5.4h-7.6zM1233.1 3389.7h7.6v5.4h-7.6zM1233.1 3399.7h7.6v5.4h-7.6zM1240.3 3371.7h7.6v5.4h-7.6zM1247.5 3378.7h7.6v5.4h-7.6z"/><path fill="#ff6600" d="M1117.8 3687h7.6v13.3h-7.6zM1247.5 3778.7h7.6v10.4h-7.6zM1254.7 3380.8h7.6v5.4h-7.6zM1355.6 3464.3h7.6v45.4h-7.6zM1362.8 3501.4h7.6v10.4h-7.6zM1362.8 3881.4h7.6v58.3h-7.6z"/><path fill="#000080" d="M1139.4 3253.1h7.6v15.4h-7.6zM1146.7 3260.2h7.6v35.4h-7.6zM1153.9 3267.2h7.6v30.4h-7.6zM1161.1 3274.3h7.6v25.4h-7.6zM1168.3 3281.3h7.6v25.4h-7.6zM1175.5 3288.3h7.6v15.4h-7.6zM1175.5 3443.3h7.6v50.4h-7.6zM1182.7 3435.4h7.6v55.4h-7.6z"/><path fill="#000099" d="M1139.4 3268.1h7.6v5.4h-7.6zM1168.3 3306.3h7.6v5.4h-7.6zM1175.5 3303.3h7.6v5.4h-7.6zM1175.5 3438.3h7.6v5.4h-7.6zM1175.5 3493.3h7.6v5.4h-7.6zM1182.7 3430.4h7.6v5.4h-7.6zM1182.7 3490.4h7.6v5.4h-7.6z"/><path fill="#0000b2" d="M1139.4 3273.1h7.6v5.4h-7.6zM1168.3 3311.3h7.6v5.4h-7.6zM1175.5 3308.3h7.6v5.4h-7.6zM1175.5 3433.3h7.6v5.4h-7.6zM1175.5 3498.3h7.6v5.4h-7.6zM1182.7 3425.4h7.6v5.4h-7.6zM1182.7 3495.4h7.6v5.4h-7.6z"/><path fill="#0000cc" d="M1139.4 3278.1h7.6v5.4h-7.6zM1146.7 3295.2h7.6v5.4h-7.6zM1153.9 3297.2h7.6v5.4h-7.6zM1161.1 3299.3h7.6v5.4h-7.6zM1175.5 3313.3h7.6v5.4h-7.6zM1175.5 3428.3h7.6v5.4h-7.6zM1175.5 3503.3h7.6v5.4h-7.6zM1182.7 3420.4h7.6v5.4h-7.6zM1182.7 3500.4h7.6v5.4h-7.6z"/><path fill="#004dff" d="M1139.4 3283.1h7.6v5.4h-7.6zM1175.5 3533.3h7.6v5.4h-7.6z"/><path fill="#00ccff" d="M1139.4 3288.1h7.6v5.4h-7.6zM1153.9 3317.2h7.6v35.4h-7.6zM1153.9 3612.2h7.6v35.4h-7.6zM1161.1 3314.3h7.6v5.4h-7.6zM1168.3 3326.3h7.6v5.4h-7.6zM1168.3 3686.3h7.6v30.4h-7.6zM1175.5 3608.3h7.6v148.3h-7.6zM1189.9 3302.4h7.6v5.4h-7.6zM1189.9 3417.4h7.6v15.4h-7.6zM1189.9 3652.4h7.6v20.4h-7.6zM1189.9 3762.4h7.6v8.3h-7.6zM1233.1 3369.7h7.6v20.4h-7.6zM1247.5 3388.7h7.6v5.4h-7.6zM1290.7 3411h7.6v5.4h-7.6zM1297.9 3428h7.6v5.4h-7.6zM1326.7 3451.2h7.6v5.4h-7.6zM1334 3458.2h7.6v5.4h-7.6z"/><path fill="#001aff" d="M1146.7 3300.2h7.6v5.4h-7.6zM1153.9 3302.2h7.6v5.4h-7.6zM1161.1 3304.3h7.6v5.4h-7.6zM1168.3 3316.3h7.6v5.4h-7.6zM1175.5 3523.3h7.6v5.4h-7.6z"/><path fill="#0000e6" d="M1175.5 3318.3h7.6v5.4h-7.6zM1175.5 3423.3h7.6v5.4h-7.6zM1175.5 3508.3h7.6v5.4h-7.6zM1182.7 3415.4h7.6v5.4h-7.6zM1182.7 3505.4h7.6v5.4h-7.6z"/><path fill="#0033ff" d="M1175.5 3528.3h7.6v5.4h-7.6zM1218.7 3350.6h7.6v5.4h-7.6zM1225.9 3357.6h7.6v5.4h-7.6zM1233.1 3394.7h7.6v5.4h-7.6z"/><path fill="#ff1a00" d="M1254.7 3365.8h7.6v5.4h-7.6z"/><path fill="#ff3300" d="M1254.7 3370.8h7.6v5.4h-7.6z"/><path fill="#ff4c00" d="M1254.7 3375.8h7.6v5.4h-7.6z"/>
<path fill="#ccff33" d="M1452.8 3146.4h7.6v5.4h-7.6zM1460 3376.4h7.6v20.4h-7.6zM1467.2 3303.4h7.6v10.4h-7.6zM1467.2 3433.4h7.6v10.4h-7.6zM1474.4 3390.5h7.6v5.4h-7.6zM1474.4 3470.5h7.6v5.4h-7.6zM1488.7 3614.6h7.6v5.4h-7.6zM1495.9 3216.6h7.6v5.4h-7.6zM1503.1 3208.6h7.6v5.4h-7.6zM1510.3 3310.7h7.6v15.4h-7.6zM1517.5 3252.7h7.6v5.4h-7.6zM1517.5 3282.7h7.6v5.4h-7.6zM1524.7 3294.8h7.6v5.4h-7.6zM1560.6 3285h7.6v5.4h-7.6zM1560.6 3585h7.6v110.4h-7.6zM1567.8 3592h7.6v45.4h-7.6zM1575 3294h7.6v5.4h-7.6zM1575 3594h7.6v5.4h-7.6zM1575 3629h7.6v35.4h-7.6zM1575 3704h7.6v26h-7.6zM1589.4 3403.1h7.6v30.4h-7.6zM1589.4 3473.1h7.6v30.4h-7.6zM1589.4 3598.1h7.6v45.4h-7.6zM1596.6 3395.2h7.6v5.4h-7.6zM1596.6 3505.2h7.6v65.4h-7.6zM1596.6 3595.2h7.6v55.4h-7.6zM1603.8 3317.2h7.6v5.4h-7.6zM1603.8 3402.2h7.6v25.4h-7.6zM1603.8 3662.2h7.6v5.4h-7.6zM1610.9 3294.2h7.6v5.4h-7.6zM1610.9 3439.2h7.6v5.4h-7.6zM1618.1 3446.3h7.6v15.4h-7.6zM1618.1 3501.3h7.6v60.4h-7.6zM1618.1 3616.3h7.6v30.4h-7.6zM1618.1 3671.3h7.6v5.4h-7.6zM1632.5 3345.4h7.6v70.4h-7.6zM1632.5 3465.4h7.6v50.4h-7.6zM1632.5 3605.4h7.6v30.4h-7.6zM1646.9 3424.4h7.6v10.4h-7.6zM1646.9 3559.4h7.6v5.4h-7.6zM1654.1 3576.5h7.6v90.4h-7.6zM1668.4 3545.6h7.6v5.4h-7.6zM1690 3376.7h7.6v5.4h-7.6zM1690 3501.7h7.6v5.4h-7.6zM1690 3581.7h7.6v5.4h-7.6zM1697.2 3503.7h7.6v5.4h-7.6zM1697.2 3583.7h7.6v5.4h-7.6zM1704.4 3415.8h7.6v5.4h-7.6zM1704.4 3510.8h7.6v5.4h-7.6zM1704.4 3585.8h7.6v5.4h-7.6zM1718.8 3514.8h7.6v5.4h-7.6zM1726 3461.9h7.6v10.4h-7.6zM1726 3521.9h7.6v5.4h-7.6zM1726 3651.9h7.6v5.4h-7.6zM1754.7 3465h7.6v5.4h-7.6zM1754.7 3665h7.6v25.4h-7.6zM1761.9 3867.1h7.6v5.4h-7.6zM1776.3 3541.2h7.6v5.4h-7.6zM1790.6 3760.2h7.6v100.4h-7.6zM1797.8 3837.3h7.6v5.4h-7.6zM1805 3499.3h7.6v5.4h-7.6z"/><path fill="#e5ff1a" d="M1452.8 3151.4h7.6v5.4h-7.6zM1460 3301.4h7.6v75.4h-7.6zM1460 3396.4h7.6v50.4h-7.6zM1467.2 3293.4h7.6v10.4h-7.6zM1467.2 3443.4h7.6v40.4h-7.6zM1467.2 3558.4h7.6v40.4h-7.6zM1474.4 3270.5h7.6v25.4h-7.6zM1474.4 3385.5h7.6v5.4h-7.6zM1474.4 3475.5h7.6v5.4h-7.6zM1481.6 3207.5h7.6v150.4h-7.6zM1481.6 3497.5h7.6v141h-7.6zM1495.9 3226.6h7.6v30.4h-7.6zM1495.9 3391.6h7.6v100.4h-7.6zM1503.1 3343.6h7.6v185.4h-7.6zM1510.3 3275.7h7.6v35.4h-7.6zM1510.3 3325.7h7.6v30.4h-7.6zM1510.3 3475.7h7.6v35.4h-7.6zM1510.3 3600.7h7.6v66h-7.6zM1517.5 3257.7h7.6v5.4h-7.6zM1517.5 3277.7h7.6v5.4h-7.6zM1524.7 3344.8h7.6v70.4h-7.6zM1524.7 3474.8h7.6v85.4h-7.6zM1560.6 3245h7.6v10.4h-7.6zM1560.6 3280h7.6v5.4h-7.6zM1560.6 3695h7.6v21h-7.6zM1567.8 3282h7.6v5.4h-7.6zM1575 3289h7.6v5.4h-7.6zM1575 3599h7.6v30.4h-7.6zM1582.2 3306.1h7.6v95.4h-7.6zM1582.2 3736.1h7.6v1h-7.6zM1589.4 3393.1h7.6v10.4h-7.6zM1589.4 3503.1h7.6v95.4h-7.6zM1589.4 3643.1h7.6v5.4h-7.6zM1596.6 3390.2h7.6v5.4h-7.6zM1596.6 3650.2h7.6v5.4h-7.6zM1603.8 3377.2h7.6v25.4h-7.6zM1610.9 3319.2h7.6v5.4h-7.6zM1610.9 3434.2h7.6v5.4h-7.6zM1618.1 3301.3h7.6v20.4h-7.6zM1618.1 3406.3h7.6v40.4h-7.6zM1618.1 3561.3h7.6v55.4h-7.6zM1618.1 3676.3h7.6v10.4h-7.6zM1625.3 3308.3h7.6v45.4h-7.6zM1632.5 3315.4h7.6v30.4h-7.6zM1632.5 3415.4h7.6v50.4h-7.6zM1632.5 3515.4h7.6v35.4h-7.6zM1632.5 3565.4h7.6v40.4h-7.6zM1632.5 3635.4h7.6v70.4h-7.6zM1632.5 3765.4h7.6v21h-7.6zM1646.9 3564.4h7.6v5.4h-7.6zM1654.1 3426.5h7.6v5.4h-7.6zM1654.1 3666.5h7.6v45.4h-7.6zM1661.3 3628.5h7.6v30.4h-7.6zM1668.4 3550.6h7.6v130.4h-7.6zM1682.8 3364.6h7.6v5.4h-7.6zM1682.8 3464.6h7.6v40.4h-7.6zM1690 3416.7h7.6v5.4h-7.6zM1690 3586.7h7.6v5.4h-7.6zM1697.2 3498.7h7.6v5.4h-7.6zM1697.2 3588.7h7.6v5.4h-7.6zM1704.4 3505.8h7.6v5.4h-7.6zM1704.4 3590.8h7.6v5.4h-7.6zM1711.6 3477.8h7.6v70.4h-7.6zM1718.8 3509.8h7.6v5.4h-7.6zM1718.8 3649.8h7.6v5.4h-7.6zM1726 3451.9h7.6v10.4h-7.6zM1726 3471.9h7.6v30.4h-7.6zM1726 3516.9h7.6v5.4h-7.6zM1726 3656.9h7.6v10.4h-7.6zM1726 3741.9h7.6v35.4h-7.6zM1747.5 3598h7.6v25.4h-7.6zM1747.5 3713h7.6v40.4h-7.6zM1754.7 3630h7.6v35.4h-7.6zM1754.7 3690h7.6v25.4h-7.6zM1761.9 3642.1h7.6v5.4h-7.6zM1769.1 3559.1h7.6v340.4h-7.6zM1776.3 3486.2h7.6v25.4h-7.6zM1776.3 3531.2h7.6v10.4h-7.6zM1783.5 3503.2h7.6v165.4h-7.6zM1783.5 3848.2h7.6v5.4h-7.6zM1790.6 3590.2h7.6v30.4h-7.6zM1790.6 3735.2h7.6v25.4h-7.6zM1790.6 3860.2h7.6v5.4h-7.6zM1797.8 3682.3h7.6v5.4h-7.6zM1797.8 3842.3h7.6v15.4h-7.6zM1812.2 3601.4h7.2v50.4h-7.2z"/><path fill="#ffff00" d="M1452.8 3156.4h7.6v5.4h-7.6zM1452.8 3306.4h7.6v115.4h-7.6zM1460 3256.4h7.6v45.4h-7.6zM1460 3446.4h7.6v10.4h-7.6zM1460 3546.4h7.6v45.4h-7.6zM1467.2 3183.4h7.6v110.4h-7.6zM1467.2 3483.4h7.6v25.4h-7.6zM1467.2 3523.4h7.6v35.4h-7.6zM1467.2 3598.4h7.6v26h-7.6zM1474.4 3190.5h7.6v20.4h-7.6zM1474.4 3230.5h7.6v40.4h-7.6zM1474.4 3295.5h7.6v40.4h-7.6zM1474.4 3350.5h7.6v35.4h-7.6zM1474.4 3480.5h7.6v110.4h-7.6zM1481.6 3357.5h7.6v140.4h-7.6zM1488.7 3204.6h7.6v5.4h-7.6zM1488.7 3539.6h7.6v5.4h-7.6zM1488.7 3619.6h7.6v5.4h-7.6zM1488.7 3639.6h7.6v6h-7.6zM1495.9 3221.6h7.6v5.4h-7.6zM1495.9 3256.6h7.6v30.4h-7.6zM1495.9 3331.6h7.6v60.4h-7.6zM1495.9 3491.6h7.6v161h-7.6zM1503.1 3273.6h7.6v70.4h-7.6zM1503.1 3528.6h7.6v55.4h-7.6zM1510.3 3235.7h7.6v40.4h-7.6zM1510.3 3355.7h7.6v120.4h-7.6zM1510.3 3510.7h7.6v90.4h-7.6zM1517.5 3272.7h7.6v5.4h-7.6zM1524.7 3299.8h7.6v45.4h-7.6zM1524.7 3414.8h7.6v60.4h-7.6zM1524.7 3559.8h7.6v121h-7.6zM1560.6 3255h7.6v15.4h-7.6zM1560.6 3275h7.6v5.4h-7.6zM1582.2 3296.1h7.6v10.4h-7.6zM1582.2 3401.1h7.6v35.4h-7.6zM1582.2 3461.1h7.6v85.4h-7.6zM1582.2 3606.1h7.6v50.4h-7.6zM1582.2 3706.1h7.6v30.4h-7.6zM1589.4 3368.1h7.6v5.4h-7.6zM1589.4 3383.1h7.6v10.4h-7.6zM1589.4 3648.1h7.6v5.4h-7.6zM1596.6 3655.2h7.6v5.4h-7.6zM1603.8 3322.2h7.6v55.4h-7.6zM1603.8 3667.2h7.6v5.4h-7.6zM1610.9 3324.2h7.6v110.4h-7.6zM1618.1 3321.3h7.6v30.4h-7.6zM1618.1 3376.3h7.6v30.4h-7.6zM1618.1 3686.3h7.6v5.4h-7.6zM1625.3 3353.3h7.6v250.4h-7.6zM1625.3 3613.3h7.6v140.4h-7.6zM1632.5 3550.4h7.6v15.4h-7.6zM1632.5 3705.4h7.6v60.4h-7.6zM1646.9 3419.4h7.6v5.4h-7.6zM1646.9 3569.4h7.6v130.4h-7.6zM1654.1 3711.5h7.6v5.4h-7.6zM1661.3 3433.5h7.6v55.4h-7.6zM1661.3 3563.5h7.6v65.4h-7.6zM1661.3 3658.5h7.6v35.4h-7.6zM1668.4 3455.6h7.6v5.4h-7.6zM1668.4 3680.6h7.6v30.4h-7.6zM1675.6 3452.6h7.6v265.4h-7.6zM1682.8 3369.6h7.6v10.4h-7.6zM1682.8 3404.6h7.6v15.4h-7.6zM1682.8 3434.6h7.6v30.4h-7.6zM1682.8 3504.6h7.6v25.4h-7.6zM1682.8 3564.6h7.6v271h-7.6zM1690 3371.7h7.6v5.4h-7.6zM1690 3496.7h7.6v5.4h-7.6zM1690 3591.7h7.6v100.4h-7.6zM1697.2 3403.7h7.6v5.4h-7.6zM1697.2 3473.7h7.6v25.4h-7.6zM1697.2 3593.7h7.6v5.4h-7.6zM1697.2 3603.7h7.6v150.4h-7.6zM1704.4 3475.8h7.6v30.4h-7.6zM1704.4 3595.8h7.6v70.4h-7.6zM1704.4 3705.8h7.6v55.4h-7.6zM1711.6 3417.8h7.6v5.4h-7.6zM1711.6 3467.8h7.6v10.4h-7.6zM1711.6 3547.8h7.6v316h-7.6zM1718.8 3419.8h7.6v5.4h-7.6zM1718.8 3479.8h7.6v30.4h-7.6zM1718.8 3654.8h7.6v25.4h-7.6zM1726 3406.9h7.6v5.4h-7.6zM1726 3446.9h7.6v5.4h-7.6zM1726 3501.9h7.6v15.4h-7.6zM1726 3666.9h7.6v75.4h-7.6zM1726 3776.9h7.6v10.4h-7.6zM1733.1 3483.9h7.6v210.4h-7.6zM1733.1 3748.9h7.6v35.4h-7.6zM1740.3 3466h7.6v40.4h-7.6zM1740.3 3636h7.6v115.4h-7.6zM1747.5 3473h7.6v50.4h-7.6zM1747.5 3573h7.6v25.4h-7.6zM1747.5 3623h7.6v25.4h-7.6zM1747.5 3693h7.6v20.4h-7.6zM1747.5 3753h7.6v45.4h-7.6zM1754.7 3600h7.6v30.4h-7.6zM1754.7 3715h7.6v90.4h-7.6zM1761.9 3602.1h7.6v40.4h-7.6zM1761.9 3872.1h7.6v5.4h-7.6zM1769.1 3479.1h7.6v80.4h-7.6zM1769.1 3899.1h7.6v21h-7.6zM1776.3 3471.2h7.6v15.4h-7.6zM1776.3 3511.2h7.6v20.4h-7.6zM1783.5 3493.2h7.6v10.4h-7.6zM1783.5 3668.2h7.6v180.4h-7.6zM1783.5 3853.2h7.6v5.4h-7.6zM1790.6 3580.2h7.6v10.4h-7.6zM1790.6 3620.2h7.6v115.4h-7.6zM1790.6 3865.2h7.6v5.4h-7.6zM1797.8 3517.3h7.6v165.4h-7.6zM1797.8 3857.3h7.6v15.4h-7.6zM1805 3634.3h7.6v110.4h-7.6zM1805 3879.3h7.6v76h-7.6zM1812.2 3511.4h7.2v5.4h-7.2zM1812.2 3571.4h7.2v30.4h-7.2zM1812.2 3651.4h7.2v60.4h-7.2zM1812.2 3846.4h7.2v25.4h-7.2zM1812.2 3926.4h7.2v29h-7.2z"/><path fill="#ffe500" d="M1452.8 3161.4h7.6v5.4h-7.6zM1452.8 3296.4h7.6v10.4h-7.6zM1452.8 3421.4h7.6v25.4h-7.6zM1460 3246.4h7.6v10.4h-7.6zM1460 3456.4h7.6v90.4h-7.6zM1460 3591.4h7.6v26h-7.6zM1467.2 3508.4h7.6v15.4h-7.6zM1474.4 3210.5h7.6v20.4h-7.6zM1474.4 3335.5h7.6v15.4h-7.6zM1474.4 3590.5h7.6v41h-7.6zM1488.7 3624.6h7.6v15.4h-7.6zM1495.9 3286.6h7.6v45.4h-7.6zM1503.1 3213.6h7.6v10.4h-7.6zM1503.1 3263.6h7.6v10.4h-7.6zM1503.1 3583.6h7.6v5.4h-7.6zM1517.5 3262.7h7.6v10.4h-7.6zM1560.6 3270h7.6v5.4h-7.6zM1567.8 3272h7.6v10.4h-7.6zM1575 3269h7.6v20.4h-7.6zM1582.2 3291.1h7.6v5.4h-7.6zM1582.2 3436.1h7.6v25.4h-7.6zM1582.2 3546.1h7.6v60.4h-7.6zM1582.2 3656.1h7.6v50.4h-7.6zM1589.4 3363.1h7.6v5.4h-7.6zM1589.4 3373.1h7.6v10.4h-7.6zM1589.4 3653.1h7.6v5.4h-7.6zM1596.6 3375.2h7.6v15.4h-7.6zM1603.8 3672.2h7.6v5.4h-7.6zM1618.1 3351.3h7.6v25.4h-7.6zM1618.1 3691.3h7.6v81h-7.6zM1625.3 3603.3h7.6v10.4h-7.6zM1625.3 3753.3h7.6v26h-7.6zM1646.9 3414.4h7.6v5.4h-7.6zM1646.9 3699.4h7.6v10.4h-7.6zM1654.1 3416.5h7.6v10.4h-7.6zM1654.1 3716.5h7.6v5.4h-7.6zM1661.3 3428.5h7.6v5.4h-7.6zM1661.3 3488.5h7.6v75.4h-7.6zM1661.3 3693.5h7.6v15.4h-7.6zM1668.4 3710.6h7.6v5.4h-7.6zM1675.6 3392.6h7.6v60.4h-7.6zM1675.6 3717.6h7.6v10.4h-7.6zM1682.8 3379.6h7.6v10.4h-7.6zM1682.8 3394.6h7.6v10.4h-7.6zM1682.8 3419.6h7.6v15.4h-7.6zM1682.8 3529.6h7.6v35.4h-7.6zM1690 3461.7h7.6v35.4h-7.6zM1690 3691.7h7.6v55.4h-7.6zM1697.2 3463.7h7.6v10.4h-7.6zM1697.2 3598.7h7.6v5.4h-7.6zM1697.2 3753.7h7.6v5.4h-7.6zM1704.4 3420.8h7.6v5.4h-7.6zM1704.4 3465.8h7.6v10.4h-7.6zM1704.4 3665.8h7.6v40.4h-7.6zM1704.4 3760.8h7.6v10.4h-7.6zM1711.6 3457.8h7.6v10.4h-7.6zM1718.8 3469.8h7.6v10.4h-7.6zM1718.8 3679.8h7.6v191h-7.6zM1726 3411.9h7.6v10.4h-7.6zM1726 3436.9h7.6v10.4h-7.6zM1726 3786.9h7.6v5.4h-7.6zM1733.1 3453.9h7.6v30.4h-7.6zM1733.1 3693.9h7.6v55.4h-7.6zM1733.1 3783.9h7.6v10.4h-7.6zM1740.3 3461h7.6v5.4h-7.6zM1740.3 3506h7.6v80.4h-7.6zM1740.3 3611h7.6v25.4h-7.6zM1740.3 3751h7.6v40.4h-7.6zM1747.5 3468h7.6v5.4h-7.6zM1747.5 3523h7.6v50.4h-7.6zM1747.5 3648h7.6v45.4h-7.6zM1747.5 3798h7.6v5.4h-7.6zM1754.7 3590h7.6v10.4h-7.6zM1754.7 3805h7.6v5.4h-7.6zM1761.9 3597.1h7.6v5.4h-7.6zM1776.3 3456.2h7.6v15.4h-7.6zM1783.5 3483.2h7.6v10.4h-7.6zM1783.5 3858.2h7.6v10.4h-7.6zM1790.6 3575.2h7.6v5.4h-7.6zM1790.6 3870.2h7.6v10.4h-7.6zM1797.8 3507.3h7.6v10.4h-7.6zM1797.8 3872.3h7.6v5.4h-7.6zM1805 3504.3h7.6v5.4h-7.6zM1805 3559.3h7.6v75.4h-7.6zM1805 3744.3h7.6v135.4h-7.6zM1812.2 3566.4h7.2v5.4h-7.2zM1812.2 3711.4h7.2v135.4h-7.2zM1812.2 3871.4h7.2v55.4h-7.2z"/><path fill="#ffcc00" d="M1452.8 3166.4h7.6v5.4h-7.6zM1452.8 3286.4h7.6v10.4h-7.6zM1452.8 3446.4h7.6v10.4h-7.6zM1460 3236.4h7.6v10.4h-7.6zM1488.7 3209.6h7.6v5.4h-7.6zM1488.7 3534.6h7.6v5.4h-7.6zM1503.1 3223.6h7.6v40.4h-7.6zM1503.1 3588.6h7.6v10.4h-7.6zM1567.8 3252h7.6v20.4h-7.6zM1575 3259h7.6v10.4h-7.6zM1582.2 3281.1h7.6v10.4h-7.6zM1589.4 3353.1h7.6v10.4h-7.6zM1589.4 3658.1h7.6v5.4h-7.6zM1596.6 3365.2h7.6v10.4h-7.6zM1596.6 3660.2h7.6v5.4h-7.6zM1603.8 3687.2h7.6v55.4h-7.6zM1639.7 3527.4h7.6v65.4h-7.6zM1639.7 3662.4h7.6v45.4h-7.6zM1646.9 3404.4h7.6v10.4h-7.6zM1646.9 3709.4h7.6v10.4h-7.6zM1654.1 3411.5h7.6v5.4h-7.6zM1654.1 3721.5h7.6v75.4h-7.6zM1661.3 3418.5h7.6v10.4h-7.6zM1661.3 3708.5h7.6v5.4h-7.6zM1668.4 3450.6h7.6v5.4h-7.6zM1668.4 3715.6h7.6v10.4h-7.6zM1675.6 3382.6h7.6v10.4h-7.6zM1675.6 3727.6h7.6v5.4h-7.6zM1682.8 3389.6h7.6v5.4h-7.6zM1690 3421.7h7.6v5.4h-7.6zM1690 3451.7h7.6v10.4h-7.6zM1690 3746.7h7.6v10.4h-7.6zM1697.2 3458.7h7.6v5.4h-7.6zM1697.2 3758.7h7.6v10.4h-7.6zM1704.4 3460.8h7.6v5.4h-7.6zM1704.4 3770.8h7.6v5.4h-7.6zM1711.6 3422.8h7.6v35.4h-7.6zM1718.8 3424.8h7.6v5.4h-7.6zM1718.8 3464.8h7.6v5.4h-7.6zM1726 3421.9h7.6v15.4h-7.6zM1726 3791.9h7.6v5.4h-7.6zM1733.1 3413.9h7.6v5.4h-7.6zM1733.1 3448.9h7.6v5.4h-7.6zM1733.1 3793.9h7.6v5.4h-7.6zM1740.3 3421h7.6v10.4h-7.6zM1740.3 3451h7.6v10.4h-7.6zM1740.3 3586h7.6v25.4h-7.6zM1740.3 3791h7.6v5.4h-7.6zM1747.5 3458h7.6v10.4h-7.6zM1747.5 3803h7.6v10.4h-7.6zM1754.7 3470h7.6v120.4h-7.6zM1754.7 3810h7.6v10.4h-7.6zM1754.7 3850h7.6v20.4h-7.6zM1761.9 3472.1h7.6v10.4h-7.6zM1761.9 3592.1h7.6v5.4h-7.6zM1761.9 3877.1h7.6v5.4h-7.6zM1783.5 3478.2h7.6v5.4h-7.6zM1783.5 3868.2h7.6v66h-7.6zM1790.6 3565.2h7.6v10.4h-7.6zM1790.6 3880.2h7.6v35.4h-7.6zM1797.8 3502.3h7.6v5.4h-7.6zM1797.8 3877.3h7.6v10.4h-7.6zM1805 3554.3h7.6v5.4h-7.6zM1812.2 3556.4h7.2v10.4h-7.2z"/><path fill="#ffb300" d="M1452.8 3171.4h7.6v45.4h-7.6zM1452.8 3246.4h7.6v40.4h-7.6zM1452.8 3456.4h7.6v5.4h-7.6zM1452.8 3496.4h7.6v40.4h-7.6zM1460 3146.4h7.6v90.4h-7.6zM1488.7 3284.6h7.6v80.4h-7.6zM1488.7 3454.6h7.6v80.4h-7.6zM1503.1 3598.6h7.6v61h-7.6zM1582.2 3276.1h7.6v5.4h-7.6zM1589.4 3328.1h7.6v25.4h-7.6zM1589.4 3663.1h7.6v55.4h-7.6zM1596.6 3360.2h7.6v5.4h-7.6zM1596.6 3665.2h7.6v5.4h-7.6zM1603.8 3677.2h7.6v10.4h-7.6zM1603.8 3742.2h7.6v16h-7.6zM1639.7 3322.4h7.6v110.4h-7.6zM1639.7 3457.4h7.6v70.4h-7.6zM1639.7 3592.4h7.6v70.4h-7.6zM1639.7 3707.4h7.6v86h-7.6zM1646.9 3364.4h7.6v40.4h-7.6zM1646.9 3719.4h7.6v60.4h-7.6zM1654.1 3336.5h7.6v75.4h-7.6zM1654.1 3796.5h7.6v11h-7.6zM1661.3 3373.5h7.6v45.4h-7.6zM1661.3 3713.5h7.6v10.4h-7.6zM1661.3 3733.5h7.6v81h-7.6zM1668.4 3725.6h7.6v5.4h-7.6zM1668.4 3740.6h7.6v81h-7.6zM1675.6 3372.6h7.6v10.4h-7.6zM1675.6 3732.6h7.6v90.4h-7.6zM1690 3441.7h7.6v10.4h-7.6zM1690 3756.7h7.6v5.4h-7.6zM1697.2 3408.7h7.6v5.4h-7.6zM1697.2 3453.7h7.6v5.4h-7.6zM1697.2 3768.7h7.6v5.4h-7.6zM1697.2 3833.7h7.6v16h-7.6zM1704.4 3425.8h7.6v35.4h-7.6zM1704.4 3775.8h7.6v5.4h-7.6zM1704.4 3825.8h7.6v31h-7.6zM1718.8 3454.8h7.6v10.4h-7.6zM1726 3796.9h7.6v81h-7.6zM1733.1 3418.9h7.6v15.4h-7.6zM1733.1 3438.9h7.6v10.4h-7.6zM1733.1 3798.9h7.6v80.4h-7.6zM1740.3 3431h7.6v20.4h-7.6zM1740.3 3796h7.6v10.4h-7.6zM1740.3 3881h7.6v11h-7.6zM1747.5 3428h7.6v15.4h-7.6zM1747.5 3453h7.6v5.4h-7.6zM1747.5 3813h7.6v5.4h-7.6zM1754.7 3820h7.6v30.4h-7.6zM1754.7 3870h7.6v36h-7.6zM1761.9 3482.1h7.6v5.4h-7.6zM1761.9 3587.1h7.6v5.4h-7.6zM1761.9 3902.1h7.6v11h-7.6zM1783.5 3473.2h7.6v5.4h-7.6zM1790.6 3490.2h7.6v75.4h-7.6zM1790.6 3915.2h7.6v25.4h-7.6zM1797.8 3497.3h7.6v5.4h-7.6zM1797.8 3887.3h7.6v40.4h-7.6zM1805 3544.3h7.6v10.4h-7.6zM1812.2 3551.4h7.2v5.4h-7.2z"/><path fill="#ff9900" d="M1452.8 3216.4h7.6v30.4h-7.6zM1452.8 3461.4h7.6v35.4h-7.6zM1452.8 3536.4h7.6v74h-7.6zM1488.7 3214.6h7.6v5.4h-7.6zM1488.7 3249.6h7.6v35.4h-7.6zM1488.7 3364.6h7.6v45.4h-7.6zM1488.7 3419.6h7.6v35.4h-7.6zM1582.2 3266.1h7.6v10.4h-7.6zM1589.4 3318.1h7.6v10.4h-7.6zM1589.4 3718.1h7.6v26h-7.6zM1596.6 3350.2h7.6v10.4h-7.6zM1596.6 3670.2h7.6v81h-7.6zM1639.7 3432.4h7.6v25.4h-7.6zM1646.9 3329.4h7.6v35.4h-7.6zM1646.9 3779.4h7.6v21h-7.6zM1661.3 3343.5h7.6v30.4h-7.6zM1661.3 3723.5h7.6v10.4h-7.6zM1668.4 3405.6h7.6v45.4h-7.6zM1668.4 3730.6h7.6v10.4h-7.6zM1675.6 3357.6h7.6v15.4h-7.6zM1675.6 3822.6h7.6v6h-7.6zM1690 3426.7h7.6v15.4h-7.6zM1690 3761.7h7.6v40.4h-7.6zM1697.2 3413.7h7.6v40.4h-7.6zM1697.2 3773.7h7.6v60.4h-7.6zM1704.4 3780.8h7.6v45.4h-7.6zM1718.8 3429.8h7.6v25.4h-7.6zM1733.1 3433.9h7.6v5.4h-7.6zM1733.1 3878.9h7.6v6h-7.6zM1740.3 3806h7.6v5.4h-7.6zM1740.3 3846h7.6v35.4h-7.6zM1747.5 3443h7.6v10.4h-7.6zM1747.5 3818h7.6v81h-7.6zM1761.9 3487.1h7.6v60.4h-7.6zM1761.9 3577.1h7.6v10.4h-7.6zM1761.9 3882.1h7.6v20.4h-7.6zM1783.5 3463.2h7.6v10.4h-7.6zM1790.6 3480.2h7.6v10.4h-7.6zM1790.6 3940.2h7.6v1h-7.6zM1797.8 3482.3h7.6v15.4h-7.6zM1797.8 3927.3h7.6v21h-7.6zM1805 3509.3h7.6v35.4h-7.6zM1812.2 3516.4h7.2v35.4h-7.2z"/><path fill="#0080ff" d="M1467.2 3153.4h7.6v10.4h-7.6zM1474.4 3160.5h7.6v10.4h-7.6zM1495.9 3196.6h7.6v5.4h-7.6zM1510.3 3220.7h7.6v5.4h-7.6zM1539.1 3223.8h7.6v10.4h-7.6zM1539.1 3443.8h7.6v251h-7.6zM1546.2 3255.9h7.6v10.4h-7.6zM1546.2 3435.9h7.6v266h-7.6zM1697.2 3378.7h7.6v10.4h-7.6zM1754.7 3450h7.6v5.4h-7.6zM1769.1 3449.1h7.6v10.4h-7.6zM1805 3484.3h7.6v5.4h-7.6zM1812.2 3491.4h7.2v5.4h-7.2z"/><path fill="#00b2ff" d="M1467.2 3163.4h7.6v5.4h-7.6zM1524.7 3274.8h7.6v5.4h-7.6zM1531.9 3271.8h7.6v5.4h-7.6zM1546.2 3240.9h7.6v5.4h-7.6z"/><path fill="#00ffff" d="M1467.2 3168.4h7.6v5.4h-7.6zM1481.6 3192.5h7.6v5.4h-7.6zM1488.7 3194.6h7.6v5.4h-7.6zM1510.3 3225.7h7.6v5.4h-7.6zM1517.5 3612.7h7.6v40.4h-7.6zM1531.9 3276.8h7.6v40.4h-7.6zM1531.9 3386.8h7.6v30.4h-7.6zM1553.4 3252.9h7.6v20.4h-7.6zM1553.4 3447.9h7.6v45.4h-7.6zM1553.4 3552.9h7.6v25.4h-7.6zM1553.4 3692.9h7.6v16h-7.6zM1812.2 3496.4h7.2v5.4h-7.2z"/><path fill="#66ff99" d="M1467.2 3173.4h7.6v5.4h-7.6zM1474.4 3180.5h7.6v5.4h-7.6zM1481.6 3197.5h7.6v5.4h-7.6zM1488.7 3569.6h7.6v35.4h-7.6zM1517.5 3592.7h7.6v5.4h-7.6zM1524.7 3284.8h7.6v5.4h-7.6zM1531.9 3621.8h7.6v25.4h-7.6zM1560.6 3340h7.6v10.4h-7.6zM1560.6 3410h7.6v35.4h-7.6zM1567.8 3297h7.6v5.4h-7.6zM1567.8 3572h7.6v5.4h-7.6zM1575 3534h7.6v45.4h-7.6zM1596.6 3485.2h7.6v5.4h-7.6zM1603.8 3442.2h7.6v5.4h-7.6zM1603.8 3547.2h7.6v60.4h-7.6zM1610.9 3574.2h7.6v40.4h-7.6zM1610.9 3699.2h7.6v66h-7.6zM1654.1 3446.5h7.6v55.4h-7.6zM1654.1 3531.5h7.6v25.4h-7.6zM1690 3386.7h7.6v5.4h-7.6zM1704.4 3390.8h7.6v5.4h-7.6zM1704.4 3560.8h7.6v10.4h-7.6zM1711.6 3407.8h7.6v5.4h-7.6zM1718.8 3409.8h7.6v5.4h-7.6zM1726 3556.9h7.6v80.4h-7.6zM1761.9 3672.1h7.6v45.4h-7.6zM1761.9 3802.1h7.6v60.4h-7.6zM1769.1 3469.1h7.6v5.4h-7.6zM1776.3 3561.2h7.6v30.4h-7.6zM1776.3 3676.2h7.6v45.4h-7.6zM1797.8 3697.3h7.6v5.4h-7.6zM1797.8 3822.3h7.6v5.4h-7.6zM1805 3494.3h7.6v5.4h-7.6z"/><path fill="#b3ff4c" d="M1467.2 3178.4h7.6v5.4h-7.6zM1467.2 3313.4h7.6v95.4h-7.6zM1467.2 3423.4h7.6v10.4h-7.6zM1474.4 3185.5h7.6v5.4h-7.6zM1481.6 3202.5h7.6v5.4h-7.6zM1488.7 3544.6h7.6v5.4h-7.6zM1488.7 3609.6h7.6v5.4h-7.6zM1495.9 3211.6h7.6v5.4h-7.6zM1517.5 3287.7h7.6v5.4h-7.6zM1517.5 3497.7h7.6v15.4h-7.6zM1560.6 3580h7.6v5.4h-7.6zM1567.8 3287h7.6v5.4h-7.6zM1567.8 3587h7.6v5.4h-7.6zM1567.8 3637h7.6v86h-7.6zM1575 3589h7.6v5.4h-7.6zM1575 3664h7.6v40.4h-7.6zM1589.4 3433.1h7.6v40.4h-7.6zM1596.6 3500.2h7.6v5.4h-7.6zM1596.6 3570.2h7.6v25.4h-7.6zM1603.8 3287.2h7.6v5.4h-7.6zM1603.8 3312.2h7.6v5.4h-7.6zM1603.8 3427.2h7.6v5.4h-7.6zM1603.8 3657.2h7.6v5.4h-7.6zM1610.9 3299.2h7.6v20.4h-7.6zM1610.9 3444.2h7.6v5.4h-7.6zM1618.1 3461.3h7.6v40.4h-7.6zM1618.1 3646.3h7.6v25.4h-7.6zM1646.9 3434.4h7.6v5.4h-7.6zM1646.9 3554.4h7.6v5.4h-7.6zM1654.1 3431.5h7.6v5.4h-7.6zM1654.1 3566.5h7.6v10.4h-7.6zM1668.4 3460.6h7.6v5.4h-7.6zM1690 3506.7h7.6v5.4h-7.6zM1690 3576.7h7.6v5.4h-7.6zM1697.2 3508.7h7.6v5.4h-7.6zM1697.2 3578.7h7.6v5.4h-7.6zM1704.4 3515.8h7.6v5.4h-7.6zM1704.4 3580.8h7.6v5.4h-7.6zM1711.6 3412.8h7.6v5.4h-7.6zM1718.8 3414.8h7.6v5.4h-7.6zM1718.8 3519.8h7.6v5.4h-7.6zM1718.8 3644.8h7.6v5.4h-7.6zM1726 3526.9h7.6v5.4h-7.6zM1726 3646.9h7.6v5.4h-7.6zM1761.9 3467.1h7.6v5.4h-7.6zM1761.9 3647.1h7.6v5.4h-7.6zM1769.1 3474.1h7.6v5.4h-7.6zM1776.3 3546.2h7.6v5.4h-7.6zM1797.8 3687.3h7.6v5.4h-7.6zM1812.2 3506.4h7.2v5.4h-7.2z"/><path fill="#99ff66" d="M1467.2 3408.4h7.6v15.4h-7.6zM1474.4 3395.5h7.6v5.4h-7.6zM1474.4 3465.5h7.6v5.4h-7.6zM1517.5 3247.7h7.6v5.4h-7.6zM1517.5 3292.7h7.6v120.4h-7.6zM1517.5 3472.7h7.6v25.4h-7.6zM1517.5 3512.7h7.6v70.4h-7.6zM1524.7 3289.8h7.6v5.4h-7.6zM1560.6 3290h7.6v5.4h-7.6zM1560.6 3575h7.6v5.4h-7.6zM1567.8 3292h7.6v5.4h-7.6zM1567.8 3582h7.6v5.4h-7.6zM1575 3299h7.6v5.4h-7.6zM1575 3584h7.6v5.4h-7.6zM1596.6 3400.2h7.6v5.4h-7.6zM1596.6 3495.2h7.6v5.4h-7.6zM1603.8 3292.2h7.6v5.4h-7.6zM1603.8 3432.2h7.6v5.4h-7.6zM1610.9 3449.2h7.6v5.4h-7.6zM1610.9 3499.2h7.6v45.4h-7.6zM1610.9 3639.2h7.6v35.4h-7.6zM1646.9 3439.4h7.6v115.4h-7.6zM1654.1 3436.5h7.6v5.4h-7.6zM1654.1 3561.5h7.6v5.4h-7.6zM1668.4 3540.6h7.6v5.4h-7.6zM1690 3381.7h7.6v5.4h-7.6zM1690 3411.7h7.6v5.4h-7.6zM1690 3511.7h7.6v15.4h-7.6zM1690 3571.7h7.6v5.4h-7.6zM1697.2 3398.7h7.6v5.4h-7.6zM1697.2 3513.7h7.6v5.4h-7.6zM1697.2 3533.7h7.6v45.4h-7.6zM1704.4 3385.8h7.6v5.4h-7.6zM1704.4 3520.8h7.6v5.4h-7.6zM1704.4 3575.8h7.6v5.4h-7.6zM1718.8 3524.8h7.6v5.4h-7.6zM1718.8 3549.8h7.6v95.4h-7.6zM1726 3531.9h7.6v5.4h-7.6zM1726 3641.9h7.6v5.4h-7.6zM1761.9 3652.1h7.6v5.4h-7.6zM1761.9 3862.1h7.6v5.4h-7.6zM1776.3 3551.2h7.6v5.4h-7.6zM1797.8 3692.3h7.6v5.4h-7.6zM1797.8 3832.3h7.6v5.4h-7.6z"/><path fill="#00ccff" d="M1474.4 3170.5h7.6v5.4h-7.6zM1546.2 3235.9h7.6v5.4h-7.6zM1761.9 3457.1h7.6v5.4h-7.6zM1769.1 3459.1h7.6v5.4h-7.6z"/><path fill="#1affe5" d="M1474.4 3175.5h7.6v5.4h-7.6zM1517.5 3242.7h7.6v5.4h-7.6zM1517.5 3607.7h7.6v5.4h-7.6zM1517.5 3652.7h7.6v21h-7.6zM1531.9 3316.8h7.6v70.4h-7.6zM1531.9 3416.8h7.6v10.4h-7.6zM1553.4 3237.9h7.6v15.4h-7.6zM1553.4 3492.9h7.6v60.4h-7.6zM1690 3396.7h7.6v10.4h-7.6zM1704.4 3400.8h7.6v5.4h-7.6zM1711.6 3402.8h7.6v5.4h-7.6zM1769.1 3464.1h7.6v5.4h-7.6zM1805 3489.3h7.6v5.4h-7.6z"/><path fill="#80ff80" d="M1474.4 3400.5h7.6v5.4h-7.6zM1474.4 3460.5h7.6v5.4h-7.6zM1488.7 3199.6h7.6v5.4h-7.6zM1488.7 3549.6h7.6v5.4h-7.6zM1488.7 3604.6h7.6v5.4h-7.6zM1503.1 3203.6h7.6v5.4h-7.6zM1510.3 3230.7h7.6v5.4h-7.6zM1517.5 3412.7h7.6v60.4h-7.6zM1517.5 3582.7h7.6v10.4h-7.6zM1560.6 3295h7.6v45.4h-7.6zM1560.6 3570h7.6v5.4h-7.6zM1567.8 3577h7.6v5.4h-7.6zM1575 3304h7.6v5.4h-7.6zM1575 3579h7.6v5.4h-7.6zM1596.6 3405.2h7.6v5.4h-7.6zM1596.6 3490.2h7.6v5.4h-7.6zM1603.8 3297.2h7.6v15.4h-7.6zM1603.8 3437.2h7.6v5.4h-7.6zM1603.8 3607.2h7.6v50.4h-7.6zM1610.9 3454.2h7.6v45.4h-7.6zM1610.9 3544.2h7.6v30.4h-7.6zM1610.9 3614.2h7.6v25.4h-7.6zM1610.9 3674.2h7.6v25.4h-7.6zM1654.1 3441.5h7.6v5.4h-7.6zM1654.1 3501.5h7.6v30.4h-7.6zM1654.1 3556.5h7.6v5.4h-7.6zM1668.4 3465.6h7.6v5.4h-7.6zM1668.4 3535.6h7.6v5.4h-7.6zM1690 3526.7h7.6v45.4h-7.6zM1697.2 3518.7h7.6v15.4h-7.6zM1704.4 3410.8h7.6v5.4h-7.6zM1704.4 3525.8h7.6v35.4h-7.6zM1704.4 3570.8h7.6v5.4h-7.6zM1718.8 3529.8h7.6v20.4h-7.6zM1726 3536.9h7.6v20.4h-7.6zM1726 3636.9h7.6v5.4h-7.6zM1761.9 3657.1h7.6v5.4h-7.6zM1776.3 3556.2h7.6v5.4h-7.6zM1776.3 3591.2h7.6v85.4h-7.6zM1776.3 3721.2h7.6v206h-7.6zM1797.8 3827.3h7.6v5.4h-7.6z"/><path fill="#4dffb2" d="M1474.4 3405.5h7.6v5.4h-7.6zM1474.4 3430.5h7.6v30.4h-7.6zM1488.7 3554.6h7.6v15.4h-7.6zM1495.9 3206.6h7.6v5.4h-7.6zM1503.1 3198.6h7.6v5.4h-7.6zM1517.5 3597.7h7.6v5.4h-7.6zM1531.9 3436.8h7.6v185.4h-7.6zM1531.9 3646.8h7.6v35.4h-7.6zM1560.6 3350h7.6v60.4h-7.6zM1560.6 3445h7.6v25.4h-7.6zM1560.6 3565h7.6v5.4h-7.6zM1567.8 3302h7.6v115.4h-7.6zM1567.8 3507h7.6v65.4h-7.6zM1575 3309h7.6v225.4h-7.6zM1596.6 3410.2h7.6v45.4h-7.6zM1596.6 3470.2h7.6v15.4h-7.6zM1603.8 3447.2h7.6v100.4h-7.6zM1668.4 3470.6h7.6v25.4h-7.6zM1668.4 3530.6h7.6v5.4h-7.6zM1690 3406.7h7.6v5.4h-7.6zM1704.4 3395.8h7.6v5.4h-7.6zM1754.7 3460h7.6v5.4h-7.6zM1761.9 3662.1h7.6v10.4h-7.6zM1761.9 3717.1h7.6v85.4h-7.6zM1797.8 3702.3h7.6v110.4h-7.6zM1812.2 3501.4h7.2v5.4h-7.2z"/><path fill="#33ffcc" d="M1474.4 3410.5h7.6v20.4h-7.6zM1503.1 3193.6h7.6v5.4h-7.6zM1517.5 3602.7h7.6v5.4h-7.6zM1524.7 3279.8h7.6v5.4h-7.6zM1531.9 3426.8h7.6v10.4h-7.6zM1531.9 3681.8h7.6v6h-7.6zM1560.6 3470h7.6v95.4h-7.6zM1567.8 3417h7.6v90.4h-7.6zM1596.6 3455.2h7.6v15.4h-7.6zM1668.4 3495.6h7.6v35.4h-7.6zM1690 3391.7h7.6v5.4h-7.6zM1697.2 3393.7h7.6v5.4h-7.6zM1704.4 3405.8h7.6v5.4h-7.6zM1718.8 3399.8h7.6v10.4h-7.6zM1761.9 3462.1h7.6v5.4h-7.6zM1797.8 3812.3h7.6v10.4h-7.6z"/><path fill="#0000ff" d="M1481.6 3167.5h7.6v15.4h-7.6zM1488.7 3174.6h7.6v10.4h-7.6zM1495.9 3181.6h7.6v10.4h-7.6zM1510.3 3215.7h7.6v5.4h-7.6zM1539.1 3413.8h7.6v10.4h-7.6zM1546.2 3285.9h7.6v130.4h-7.6zM1754.7 3435h7.6v15.4h-7.6zM1761.9 3442.1h7.6v10.4h-7.6z"/><path fill="#0033ff" d="M1481.6 3182.5h7.6v5.4h-7.6zM1488.7 3184.6h7.6v5.4h-7.6zM1517.5 3232.7h7.6v5.4h-7.6zM1539.1 3428.8h7.6v5.4h-7.6zM1546.2 3275.9h7.6v5.4h-7.6zM1546.2 3420.9h7.6v5.4h-7.6z"/><path fill="#0099ff" d="M1481.6 3187.5h7.6v5.4h-7.6zM1517.5 3237.7h7.6v5.4h-7.6zM1546.2 3245.9h7.6v10.4h-7.6z"/><path fill="#0066ff" d="M1488.7 3189.6h7.6v5.4h-7.6zM1524.7 3269.8h7.6v5.4h-7.6zM1531.9 3266.8h7.6v5.4h-7.6zM1539.1 3438.8h7.6v5.4h-7.6zM1546.2 3265.9h7.6v5.4h-7.6zM1546.2 3430.9h7.6v5.4h-7.6zM1761.9 3452.1h7.6v5.4h-7.6z"/><path fill="#ff8000" d="M1488.7 3219.6h7.6v30.4h-7.6zM1488.7 3409.6h7.6v10.4h-7.6zM1589.4 3308.1h7.6v10.4h-7.6zM1596.6 3280.2h7.6v25.4h-7.6zM1596.6 3320.2h7.6v30.4h-7.6zM1668.4 3350.6h7.6v30.4h-7.6zM1668.4 3385.6h7.6v20.4h-7.6zM1690 3801.7h7.6v41h-7.6zM1740.3 3811h7.6v35.4h-7.6zM1761.9 3547.1h7.6v30.4h-7.6zM1790.6 3470.2h7.6v10.4h-7.6zM1797.8 3477.3h7.6v5.4h-7.6z"/><path fill="#004dff" d="M1495.9 3191.6h7.6v5.4h-7.6zM1539.1 3233.8h7.6v5.4h-7.6zM1539.1 3433.8h7.6v5.4h-7.6zM1546.2 3270.9h7.6v5.4h-7.6zM1546.2 3425.9h7.6v5.4h-7.6z"/><path fill="#00e5ff" d="M1495.9 3201.6h7.6v5.4h-7.6zM1503.1 3188.6h7.6v5.4h-7.6zM1546.2 3230.9h7.6v5.4h-7.6zM1553.4 3272.9h7.6v175.4h-7.6zM1553.4 3577.9h7.6v115.4h-7.6zM1697.2 3388.7h7.6v5.4h-7.6zM1711.6 3392.8h7.6v10.4h-7.6zM1754.7 3455h7.6v5.4h-7.6z"/><path fill="#000080" d="M1510.3 3195.7h7.6v20.4h-7.6zM1517.5 3202.7h7.6v25.4h-7.6zM1524.7 3209.8h7.6v50.4h-7.6zM1531.9 3216.8h7.6v40.4h-7.6zM1539.1 3253.8h7.6v140.4h-7.6z"/><path fill="#0000e6" d="M1517.5 3227.7h7.6v5.4h-7.6zM1539.1 3243.8h7.6v5.4h-7.6zM1539.1 3408.8h7.6v5.4h-7.6z"/><path fill="#0000cc" d="M1524.7 3259.8h7.6v5.4h-7.6zM1531.9 3256.8h7.6v5.4h-7.6zM1539.1 3403.8h7.6v5.4h-7.6z"/><path fill="#001aff" d="M1524.7 3264.8h7.6v5.4h-7.6zM1531.9 3261.8h7.6v5.4h-7.6zM1539.1 3238.8h7.6v5.4h-7.6zM1539.1 3423.8h7.6v5.4h-7.6zM1546.2 3280.9h7.6v5.4h-7.6zM1546.2 3415.9h7.6v5.4h-7.6z"/><path fill="#0000b2" d="M1539.1 3248.8h7.6v5.4h-7.6zM1539.1 3398.8h7.6v5.4h-7.6z"/><path fill="#000099" d="M1539.1 3393.8h7.6v5.4h-7.6z"/><path fill="#ff6600" d="M1589.4 3273.1h7.6v35.4h-7.6zM1596.6 3305.2h7.6v15.4h-7.6zM1668.4 3380.6h7.6v5.4h-7.6z"/>
</g>
<path class="m" d="M746 3613 L733 3600 L746 3567 L780 3527 L812 3495 L840 3476"/>
<path class="m" d="M868 3450 L924.5 3418.5 L988.7 3384.4 L1052.8 3354.3 L1085 3337.5 L1150 3320"/>
<path class="m" d="M1194 3306 L1292.5 3288 L1396.7 3270 L1453 3266 L1520 3261"/>
<rect x="1866.3" y="3153" width="30" height="888" fill="url(#cb)"/>
<path d="M1866.6 3153v888M1895.6 3153v888" stroke="#777" stroke-width="1" fill="none" opacity=".6"/>
<text class="b" transform="translate(77 3380) rotate(-90) scale(1.03 1)" style="font-size:68px">Depth [m]</text>
<text class="s" transform="translate(160 3143) scale(1.060 1)" text-anchor="start">(d)</text>
<text class="b" transform="translate(147.5 3248.1) scale(0.965 1)" text-anchor="end">0</text>
<text class="b" transform="translate(147.5 3323.5) scale(0.965 1)" text-anchor="end">5</text>
<text class="b" transform="translate(147.5 3399) scale(0.965 1)" text-anchor="end" clip-path="url(#f2)">10</text>
<text class="b" transform="translate(147.5 3474.5) scale(0.965 1)" text-anchor="end" clip-path="url(#f2)">15</text>
<text class="b" transform="translate(147.5 3549.9) scale(0.965 1)" text-anchor="end">20</text>
<text class="b" transform="translate(147.5 3625.4) scale(0.965 1)" text-anchor="end">25</text>
<text class="b" transform="translate(147.5 3744.1) scale(0.965 1)" text-anchor="end">0</text>
<text class="b" transform="translate(224 3827.2) scale(0.965 1)" text-anchor="end">5</text>
<text class="b" transform="translate(310.5 3911.7) scale(0.965 1)" text-anchor="end" clip-path="url(#f2)">10</text>
<text class="b" transform="translate(397.5 4001) scale(0.965 1)" text-anchor="end" clip-path="url(#f2)">15</text>
<text class="b" transform="translate(493 4093.5) scale(0.965 1)" text-anchor="end">20</text>
<text class="b" transform="translate(213 4057.4) scale(0.975 1)" text-anchor="start" style="font-size:71px">X [m]</text>
<text class="b" transform="translate(551 4119.6) scale(0.965 1)" text-anchor="start">20</text>
<text class="b" transform="translate(811 4099.6) scale(0.965 1)" text-anchor="start" clip-path="url(#f1)">16</text>
<text class="b" transform="translate(1065.5 4074.5) scale(0.965 1)" text-anchor="start" clip-path="url(#f1)">12</text>
<text class="b" transform="translate(1328 4059.4) scale(0.965 1)" text-anchor="start">8</text>
<text class="b" transform="translate(1582.5 4042.9) scale(0.965 1)" text-anchor="start">4</text>
<text class="b" transform="translate(1827 4021.3) scale(0.965 1)" text-anchor="start">0</text>
<text class="b" transform="translate(889 4124.6) scale(0.975 1)" text-anchor="start" style="font-size:71px">Y [m]</text>
<text class="b" transform="translate(1895 3185.3) scale(0.965 1)" text-anchor="start" clip-path="url(#f1)">10<tspan dx="3" dy="-21" style="font-size:46px">4</tspan></text>
<text class="b" transform="translate(1895 3479.9) scale(0.965 1)" text-anchor="start" clip-path="url(#f1)">10<tspan dx="3" dy="-21" style="font-size:46px">3</tspan></text>
<text class="b" transform="translate(1895 3776.6) scale(0.965 1)" text-anchor="start" clip-path="url(#f1)">10<tspan dx="3" dy="-21" style="font-size:46px">2</tspan></text>
<text class="b" transform="translate(1895 4084.7) scale(0.965 1)" text-anchor="start" clip-path="url(#f1)">10</text>
<path class="t" d="M1889 3449h7" style="stroke:#555;stroke-width:1.5"/>
<path class="t" d="M1889 3745h7" style="stroke:#555;stroke-width:1.5"/>
<text class="o" transform="translate(1808 3136.9) scale(1.090 1)" text-anchor="start">&#937;m</text>
</g>
</svg></body></html>
